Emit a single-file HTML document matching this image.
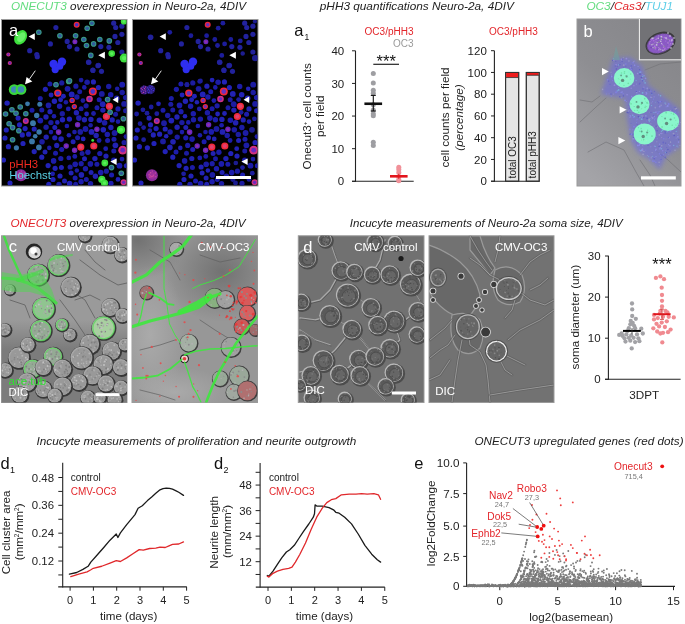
<!DOCTYPE html>
<html><head><meta charset="utf-8"><title>Figure</title>
<style>
html,body{margin:0;padding:0;background:#fff;width:685px;height:624px;overflow:hidden}
svg{display:block;font-family:'Liberation Sans', Arial, Helvetica, sans-serif}
</style></head><body>
<svg width="685" height="624" viewBox="0 0 685 624">
<rect width="685" height="624" fill="#fff"/>
<defs>
<filter id="soft" x="-5%" y="-5%" width="110%" height="110%"><feGaussianBlur stdDeviation="0.35"/></filter>
<filter id="blur2" x="-20%" y="-20%" width="140%" height="140%"><feGaussianBlur stdDeviation="2.2"/></filter>
<filter id="softa" x="-2%" y="-2%" width="104%" height="104%"><feGaussianBlur stdDeviation="0.55"/></filter>
<filter id="soft2" x="-5%" y="-5%" width="110%" height="110%"><feGaussianBlur stdDeviation="0.7"/></filter>
<filter id="grain" x="0" y="0" width="100%" height="100%"><feTurbulence type="fractalNoise" baseFrequency="0.9" numOctaves="2" seed="4" result="n"/><feColorMatrix in="n" type="saturate" values="0" result="g"/><feComponentTransfer in="g" result="g2"><feFuncA type="linear" slope="0" intercept="1"/></feComponentTransfer><feComposite in="g2" in2="SourceGraphic" operator="in"/></filter>
<filter id="grainc" x="0" y="0" width="100%" height="100%"><feTurbulence type="fractalNoise" baseFrequency="1.2" numOctaves="1" seed="9"/><feColorMatrix type="matrix" values="0.2 0.2 0.6 0 0  0.2 0.3 0.5 0 0.05  0.5 0.2 0.3 0 0.3  0 0 0 0 1"/></filter>
</defs>
<clipPath id="clipa0"><rect x="2.0" y="20.0" width="124.5" height="165.5"/></clipPath>
<rect x="1.5" y="19.5" width="125.5" height="166.5" fill="#000" stroke="#9a9a9a" stroke-width="1"/>
<g clip-path="url(#clipa0)" filter="url(#softa)">
<circle cx="32.0" cy="110.3" r="2.5" fill="#1c1ca6"/><circle cx="60.8" cy="158.5" r="2.6" fill="#1c1ca6"/><circle cx="81.2" cy="163.7" r="2.6" fill="#1c1ca6"/><circle cx="61.1" cy="139.1" r="2.8" fill="#2020b2"/><circle cx="91.1" cy="172.5" r="2.5" fill="#2020b2"/><circle cx="101.8" cy="93.9" r="2.9" fill="#1a1aa0"/><circle cx="122.2" cy="92.5" r="2.7" fill="#1a1aa0"/><circle cx="39.8" cy="104.2" r="2.5" fill="#3a78a8"/><circle cx="46.0" cy="117.0" r="2.7" fill="#2020b2"/><circle cx="114.6" cy="133.0" r="2.9" fill="#1a1aa0"/><circle cx="38.9" cy="147.4" r="2.8" fill="#3a78a8"/><circle cx="124.1" cy="103.9" r="2.9" fill="#1a1aa0"/><circle cx="59.6" cy="106.3" r="2.7" fill="#1e1eac"/><circle cx="76.4" cy="112.8" r="2.7" fill="#2020b2"/><circle cx="54.0" cy="116.2" r="2.3" fill="#1e1eac"/><circle cx="46.2" cy="137.1" r="2.7" fill="#2020b2"/><circle cx="86.3" cy="179.4" r="2.5" fill="#1c1ca6"/><circle cx="49.3" cy="147.9" r="2.3" fill="#1c1ca6"/><circle cx="73.1" cy="141.8" r="2.5" fill="#2020b2"/><circle cx="82.1" cy="153.5" r="2.5" fill="#1a1aa0"/><circle cx="45.4" cy="89.3" r="2.6" fill="#2020b2"/><circle cx="119.5" cy="165.7" r="2.9" fill="#1e1eac"/><circle cx="94.9" cy="158.6" r="2.7" fill="#2020b2"/><circle cx="67.6" cy="88.8" r="2.9" fill="#1e1eac"/><circle cx="61.7" cy="149.6" r="2.5" fill="#1e1eac"/><circle cx="100.7" cy="172.6" r="2.8" fill="#1e1eac"/><circle cx="46.1" cy="127.2" r="2.7" fill="#1a1aa0"/><circle cx="79.7" cy="91.7" r="2.5" fill="#1a1aa0"/><circle cx="68.9" cy="135.2" r="2.3" fill="#2020b2"/><circle cx="111.6" cy="175.0" r="2.5" fill="#1e1eac"/><circle cx="113.8" cy="151.0" r="2.5" fill="#1c1ca6"/><circle cx="103.3" cy="129.8" r="2.8" fill="#2222b8"/><circle cx="93.5" cy="113.5" r="2.4" fill="#1c1ca6"/><circle cx="64.5" cy="181.1" r="2.5" fill="#2020b2"/><circle cx="86.1" cy="105.8" r="2.6" fill="#1a1aa0"/><circle cx="106.0" cy="156.1" r="2.6" fill="#2020b2"/><circle cx="108.7" cy="86.5" r="2.7" fill="#1a1aa0"/><circle cx="91.5" cy="131.9" r="2.9" fill="#2222b8"/><circle cx="74.5" cy="132.0" r="2.3" fill="#1c1ca6"/><circle cx="75.1" cy="178.1" r="2.5" fill="#1e1eac"/><circle cx="39.1" cy="132.0" r="2.7" fill="#3a78a8"/><circle cx="86.6" cy="114.0" r="2.4" fill="#2222b8"/><circle cx="99.1" cy="140.5" r="2.4" fill="#1c1ca6"/><circle cx="50.0" cy="111.7" r="2.6" fill="#2020b2"/><circle cx="81.1" cy="181.7" r="2.7" fill="#1e1eac"/><circle cx="62.5" cy="119.7" r="2.7" fill="#2222b8"/><circle cx="7.1" cy="103.1" r="2.7" fill="#2222b8"/><circle cx="56.7" cy="145.4" r="2.6" fill="#2020b2"/><circle cx="54.8" cy="127.6" r="2.5" fill="#2222b8"/><circle cx="114.0" cy="139.2" r="2.5" fill="#1e1eac"/><circle cx="40.3" cy="120.6" r="2.9" fill="#1e1eac"/><circle cx="71.1" cy="172.9" r="2.5" fill="#2020b2"/><circle cx="99.2" cy="99.8" r="2.5" fill="#1e1eac"/><circle cx="77.6" cy="137.8" r="2.5" fill="#1c1ca6"/><circle cx="110.7" cy="94.7" r="2.8" fill="#1e1eac"/><circle cx="99.4" cy="120.2" r="2.8" fill="#2222b8"/><circle cx="96.9" cy="164.3" r="2.5" fill="#1c1ca6"/><circle cx="118.0" cy="108.9" r="2.6" fill="#1e1eac"/><circle cx="66.9" cy="126.0" r="2.3" fill="#1e1eac"/><circle cx="68.3" cy="108.9" r="2.4" fill="#1e1eac"/><circle cx="80.3" cy="131.9" r="2.8" fill="#1a1aa0"/><circle cx="125.5" cy="110.8" r="2.5" fill="#1a1aa0"/><circle cx="53.6" cy="160.9" r="2.8" fill="#1e1eac"/><circle cx="118.0" cy="121.6" r="2.3" fill="#1c1ca6"/><circle cx="48.5" cy="105.4" r="2.8" fill="#1c1ca6"/><circle cx="68.8" cy="157.9" r="2.4" fill="#1c1ca6"/><circle cx="122.0" cy="159.1" r="2.4" fill="#1c1ca6"/><circle cx="111.0" cy="183.3" r="2.6" fill="#1e1eac"/><circle cx="57.3" cy="122.4" r="2.3" fill="#2020b2"/><circle cx="106.4" cy="171.2" r="2.6" fill="#1a1aa0"/><circle cx="61.4" cy="167.4" r="2.5" fill="#2222b8"/><circle cx="69.4" cy="119.1" r="2.7" fill="#2222b8"/><circle cx="74.8" cy="156.4" r="2.4" fill="#1e1eac"/><circle cx="69.6" cy="183.6" r="2.8" fill="#2222b8"/><circle cx="27.5" cy="103.8" r="2.4" fill="#3a78a8"/><circle cx="55.5" cy="153.2" r="2.5" fill="#1c1ca6"/><circle cx="107.6" cy="140.5" r="2.5" fill="#1e1eac"/><circle cx="124.1" cy="142.5" r="2.6" fill="#1a1aa0"/><circle cx="59.0" cy="184.5" r="2.7" fill="#1a1aa0"/><circle cx="35.2" cy="136.2" r="2.3" fill="#3a78a8"/><circle cx="117.2" cy="88.8" r="2.3" fill="#1c1ca6"/><circle cx="90.4" cy="163.9" r="2.8" fill="#1c1ca6"/><circle cx="40.3" cy="98.5" r="2.5" fill="#1a1aa0"/><circle cx="54.8" cy="137.8" r="2.6" fill="#2020b2"/><circle cx="61.8" cy="82.9" r="2.6" fill="#1a1aa0"/><circle cx="41.8" cy="110.1" r="2.5" fill="#1c1ca6"/><circle cx="84.4" cy="119.8" r="2.7" fill="#2020b2"/><circle cx="90.6" cy="125.2" r="2.3" fill="#1a1aa0"/><circle cx="82.9" cy="100.6" r="2.4" fill="#1a1aa0"/><circle cx="75.2" cy="164.3" r="2.8" fill="#1c1ca6"/><circle cx="90.5" cy="183.6" r="2.7" fill="#1c1ca6"/><circle cx="122.2" cy="84.7" r="2.9" fill="#1e1eac"/><circle cx="75.9" cy="86.2" r="2.6" fill="#1c1ca6"/><circle cx="97.0" cy="107.7" r="2.5" fill="#1c1ca6"/><circle cx="76.9" cy="97.0" r="2.7" fill="#1a1aa0"/><circle cx="105.7" cy="148.7" r="2.4" fill="#1e1eac"/><circle cx="118.0" cy="179.4" r="2.4" fill="#2222b8"/><circle cx="32.0" cy="141.4" r="2.9" fill="#3a78a8"/><circle cx="87.9" cy="152.2" r="2.7" fill="#1e1eac"/><circle cx="125.8" cy="136.6" r="2.3" fill="#1a1aa0"/><circle cx="115.6" cy="114.2" r="2.5" fill="#1a1aa0"/><circle cx="113.8" cy="160.4" r="2.8" fill="#1c1ca6"/><circle cx="115.4" cy="145.3" r="2.9" fill="#2020b2"/><circle cx="81.4" cy="174.9" r="2.8" fill="#2020b2"/><circle cx="84.3" cy="87.4" r="2.3" fill="#1e1eac"/><circle cx="116.7" cy="98.3" r="2.8" fill="#1e1eac"/><circle cx="65.9" cy="102.3" r="2.3" fill="#1a1aa0"/><circle cx="70.1" cy="167.0" r="2.6" fill="#1a1aa0"/><circle cx="49.9" cy="83.9" r="2.5" fill="#1c1ca6"/><circle cx="84.5" cy="158.8" r="2.5" fill="#2222b8"/><circle cx="107.3" cy="134.5" r="2.7" fill="#1e1eac"/><circle cx="110.9" cy="127.5" r="2.7" fill="#2020b2"/><circle cx="54.4" cy="101.3" r="2.7" fill="#2222b8"/><circle cx="83.2" cy="138.9" r="2.4" fill="#2222b8"/><circle cx="85.5" cy="168.8" r="2.7" fill="#1c1ca6"/><circle cx="78.9" cy="118.1" r="2.8" fill="#1e1eac"/><circle cx="36.7" cy="115.5" r="2.7" fill="#3a78a8"/><circle cx="102.7" cy="104.2" r="2.9" fill="#2020b2"/><circle cx="87.1" cy="82.2" r="2.8" fill="#1a1aa0"/><circle cx="99.8" cy="153.5" r="2.6" fill="#1e1eac"/><circle cx="45.0" cy="151.9" r="2.5" fill="#2020b2"/><circle cx="112.2" cy="119.9" r="2.6" fill="#2222b8"/><circle cx="71.7" cy="94.4" r="2.9" fill="#2222b8"/><circle cx="16.4" cy="147.8" r="2.6" fill="#3a78a8"/><circle cx="96.2" cy="135.5" r="2.7" fill="#2020b2"/><circle cx="51.0" cy="132.1" r="2.3" fill="#1c1ca6"/><circle cx="126.3" cy="165.7" r="2.5" fill="#2020b2"/><circle cx="62.3" cy="113.7" r="2.7" fill="#1a1aa0"/><circle cx="85.5" cy="129.0" r="2.9" fill="#1c1ca6"/><circle cx="42.0" cy="141.8" r="2.8" fill="#1a1aa0"/><circle cx="33.0" cy="123.2" r="2.9" fill="#3a78a8"/><circle cx="125.6" cy="97.6" r="2.7" fill="#1a1aa0"/><circle cx="90.9" cy="119.4" r="2.7" fill="#2020b2"/><circle cx="76.9" cy="170.5" r="2.3" fill="#1a1aa0"/><circle cx="81.1" cy="80.1" r="2.4" fill="#1a1aa0"/><circle cx="75.7" cy="184.3" r="2.5" fill="#1a1aa0"/><circle cx="95.4" cy="176.3" r="2.7" fill="#2020b2"/><circle cx="50.9" cy="122.6" r="2.7" fill="#1a1aa0"/><circle cx="104.6" cy="122.8" r="2.8" fill="#1c1ca6"/><circle cx="81.1" cy="108.7" r="2.5" fill="#1c1ca6"/><circle cx="102.9" cy="110.1" r="2.7" fill="#2020b2"/><circle cx="52.6" cy="173.8" r="2.4" fill="#1e1eac"/>
<ellipse cx="20.6" cy="37.3" rx="5.8" ry="7.8" transform="rotate(35 20.6 37.3)" fill="#3ee03e"/>
<ellipse cx="21.1" cy="36.8" rx="3.4" ry="5.4" transform="rotate(35 20.6 37.3)" fill="#6af06a"/>
<circle cx="29.70" cy="50.70" r="2.58" fill="#20209c" />
<circle cx="36.80" cy="54.50" r="2.58" fill="#20209c" />
<circle cx="55.90" cy="27.50" r="2.58" fill="#20209c" />
<circle cx="50.40" cy="43.90" r="2.58" fill="#20209c" />
<circle cx="37.30" cy="56.70" r="2.58" fill="#20209c" />
<circle cx="38.80" cy="32.30" r="2.80" fill="#3a9c84" />
<circle cx="38.80" cy="32.30" r="1.82" fill="#305c9c" />
<circle cx="59.90" cy="35.70" r="2.80" fill="#3a9c84" />
<circle cx="59.90" cy="35.70" r="1.82" fill="#305c9c" />
<circle cx="53.60" cy="64.00" r="4.20" fill="#2e2ef0" />
<circle cx="62.00" cy="61.70" r="4.20" fill="#2e2ef0" />
<circle cx="55.20" cy="69.60" r="3.60" fill="#2e2ef0" />
<circle cx="59.70" cy="66.20" r="3.50" fill="#2e2ef0" />
<circle cx="8.40" cy="54.50" r="2.10" fill="#d03080" />
<circle cx="8.40" cy="54.50" r="1.16" fill="#6a2ac0" />
<circle cx="9.80" cy="63.00" r="2.10" fill="#d03080" />
<circle cx="9.80" cy="63.00" r="1.16" fill="#6a2ac0" />
<circle cx="14.20" cy="89.60" r="5.40" fill="#3ad83a" />
<circle cx="14.20" cy="89.60" r="3.25" fill="#3f8ab6" />
<circle cx="21.00" cy="89.40" r="5.40" fill="#3ad83a" />
<circle cx="21.00" cy="89.40" r="3.25" fill="#3f8ab6" />
<circle cx="57.80" cy="93.10" r="3.70" fill="#f02838" />
<circle cx="57.80" cy="93.10" r="2.22" fill="#4a30c8" />
<circle cx="55.90" cy="84.80" r="2.48" fill="#2222b8" />
<circle cx="51.10" cy="95.00" r="2.48" fill="#2222b8" />
<circle cx="63.40" cy="96.30" r="2.48" fill="#2222b8" />
<circle cx="60.60" cy="99.70" r="2.48" fill="#2222b8" />
<circle cx="76.70" cy="24.80" r="3.00" fill="#f02838" />
<circle cx="76.70" cy="24.80" r="1.80" fill="#4a30c8" />
<circle cx="91.90" cy="23.20" r="2.80" fill="#3a9c84" />
<circle cx="91.90" cy="23.20" r="1.82" fill="#305c9c" />
<circle cx="87.20" cy="28.20" r="2.80" fill="#3a9c84" />
<circle cx="87.20" cy="28.20" r="1.82" fill="#305c9c" />
<circle cx="75.60" cy="35.70" r="2.80" fill="#3a9c84" />
<circle cx="75.60" cy="35.70" r="1.82" fill="#305c9c" />
<circle cx="83.80" cy="39.50" r="2.80" fill="#3a9c84" />
<circle cx="83.80" cy="39.50" r="1.82" fill="#305c9c" />
<circle cx="86.50" cy="45.50" r="2.80" fill="#3a9c84" />
<circle cx="86.50" cy="45.50" r="1.82" fill="#305c9c" />
<circle cx="93.60" cy="43.90" r="2.80" fill="#3a9c84" />
<circle cx="93.60" cy="43.90" r="1.82" fill="#305c9c" />
<circle cx="99.80" cy="39.50" r="2.80" fill="#3a9c84" />
<circle cx="99.80" cy="39.50" r="1.82" fill="#305c9c" />
<circle cx="109.30" cy="40.90" r="2.80" fill="#3a9c84" />
<circle cx="109.30" cy="40.90" r="1.82" fill="#305c9c" />
<circle cx="90.80" cy="55.40" r="2.80" fill="#3a9c84" />
<circle cx="90.80" cy="55.40" r="1.82" fill="#305c9c" />
<circle cx="68.70" cy="81.40" r="2.80" fill="#3a9c84" />
<circle cx="68.70" cy="81.40" r="1.82" fill="#305c9c" />
<circle cx="56.00" cy="84.70" r="2.80" fill="#3a9c84" />
<circle cx="56.00" cy="84.70" r="1.82" fill="#305c9c" />
<circle cx="69.50" cy="80.90" r="2.80" fill="#3a9c84" />
<circle cx="69.50" cy="80.90" r="1.82" fill="#305c9c" />
<circle cx="107.60" cy="99.60" r="2.80" fill="#3a9c84" />
<circle cx="107.60" cy="99.60" r="1.82" fill="#305c9c" />
<circle cx="67.20" cy="41.40" r="2.58" fill="#20209c" />
<circle cx="69.50" cy="46.60" r="2.58" fill="#20209c" />
<circle cx="77.00" cy="49.00" r="2.58" fill="#20209c" />
<circle cx="100.80" cy="46.60" r="2.58" fill="#20209c" />
<circle cx="108.90" cy="47.30" r="2.58" fill="#20209c" />
<circle cx="115.00" cy="36.40" r="2.58" fill="#20209c" />
<circle cx="121.90" cy="34.30" r="2.58" fill="#20209c" />
<circle cx="113.70" cy="23.20" r="2.58" fill="#20209c" />
<circle cx="115.70" cy="27.50" r="2.58" fill="#20209c" />
<circle cx="121.90" cy="26.20" r="2.58" fill="#20209c" />
<circle cx="117.80" cy="42.50" r="2.58" fill="#20209c" />
<circle cx="121.90" cy="52.00" r="2.58" fill="#20209c" />
<circle cx="88.50" cy="62.20" r="2.58" fill="#20209c" />
<circle cx="98.50" cy="65.30" r="2.58" fill="#20209c" />
<circle cx="93.00" cy="70.40" r="2.58" fill="#20209c" />
<circle cx="101.50" cy="71.30" r="2.58" fill="#20209c" />
<circle cx="88.90" cy="62.30" r="2.58" fill="#20209c" />
<circle cx="97.90" cy="65.70" r="2.58" fill="#20209c" />
<circle cx="92.80" cy="70.10" r="2.58" fill="#20209c" />
<circle cx="93.40" cy="81.90" r="2.58" fill="#2222b8" />
<circle cx="98.40" cy="87.50" r="2.58" fill="#2222b8" />
<circle cx="74.90" cy="41.80" r="2.50" fill="#6a28c0" />
<circle cx="74.90" cy="41.80" r="1.25" fill="#9030a8" />
<circle cx="123.90" cy="21.40" r="3.10" fill="#3ddc3d" />
<circle cx="123.90" cy="21.40" r="1.43" fill="#5af05a" />
<circle cx="111.70" cy="53.60" r="3.30" fill="#3ddc3d" />
<circle cx="111.70" cy="53.60" r="1.54" fill="#5af05a" />
<circle cx="124.20" cy="58.10" r="4.50" fill="#3ddc3d" />
<circle cx="124.20" cy="58.10" r="2.20" fill="#5af05a" />
<circle cx="92.80" cy="91.50" r="4.00" fill="#f02838" />
<circle cx="92.80" cy="91.50" r="2.40" fill="#4a30c8" />
<circle cx="89.50" cy="99.00" r="3.30" fill="#d03080" />
<circle cx="89.50" cy="99.00" r="1.81" fill="#6a2ac0" />
<circle cx="72.10" cy="100.40" r="2.70" fill="#f02838" />
<circle cx="72.10" cy="100.40" r="1.62" fill="#4a30c8" />
<circle cx="74.30" cy="106.60" r="2.60" fill="#f02838" />
<circle cx="74.30" cy="106.60" r="1.56" fill="#4a30c8" />
<circle cx="20.20" cy="107.00" r="2.80" fill="#3a9c84" />
<circle cx="20.20" cy="107.00" r="1.82" fill="#305c9c" />
<circle cx="11.90" cy="109.80" r="2.80" fill="#3a9c84" />
<circle cx="11.90" cy="109.80" r="1.82" fill="#305c9c" />
<circle cx="5.60" cy="114.00" r="2.80" fill="#3a9c84" />
<circle cx="5.60" cy="114.00" r="1.82" fill="#305c9c" />
<circle cx="25.80" cy="113.70" r="2.80" fill="#3a9c84" />
<circle cx="25.80" cy="113.70" r="1.82" fill="#305c9c" />
<circle cx="9.10" cy="123.70" r="2.80" fill="#3a9c84" />
<circle cx="9.10" cy="123.70" r="1.82" fill="#305c9c" />
<circle cx="12.60" cy="127.60" r="2.80" fill="#3a9c84" />
<circle cx="12.60" cy="127.60" r="1.82" fill="#305c9c" />
<circle cx="18.80" cy="130.70" r="2.80" fill="#3a9c84" />
<circle cx="18.80" cy="130.70" r="1.82" fill="#305c9c" />
<circle cx="12.60" cy="139.70" r="2.80" fill="#3a9c84" />
<circle cx="12.60" cy="139.70" r="1.82" fill="#305c9c" />
<circle cx="16.00" cy="113.20" r="2.80" fill="#3a9c84" />
<circle cx="16.00" cy="113.20" r="1.82" fill="#305c9c" />
<circle cx="25.80" cy="120.90" r="3.00" fill="#d03080" />
<circle cx="25.80" cy="120.90" r="1.65" fill="#6a2ac0" />
<circle cx="18.10" cy="118.10" r="2.58" fill="#2222b8" />
<circle cx="19.50" cy="124.80" r="2.58" fill="#2222b8" />
<circle cx="6.30" cy="130.00" r="2.58" fill="#2222b8" />
<circle cx="25.10" cy="128.60" r="2.58" fill="#2222b8" />
<circle cx="34.20" cy="129.00" r="2.58" fill="#2222b8" />
<circle cx="22.30" cy="134.90" r="2.58" fill="#2222b8" />
<circle cx="28.60" cy="134.20" r="2.58" fill="#2222b8" />
<circle cx="23.00" cy="143.50" r="2.58" fill="#2222b8" />
<circle cx="8.40" cy="146.70" r="2.58" fill="#2222b8" />
<circle cx="34.20" cy="151.60" r="2.58" fill="#2222b8" />
<circle cx="41.80" cy="157.20" r="2.58" fill="#2222b8" />
<circle cx="48.10" cy="165.60" r="2.58" fill="#2222b8" />
<circle cx="55.10" cy="168.30" r="2.58" fill="#2222b8" />
<circle cx="60.00" cy="176.00" r="2.58" fill="#2222b8" />
<circle cx="53.00" cy="179.50" r="2.58" fill="#2222b8" />
<circle cx="48.80" cy="184.40" r="2.58" fill="#2222b8" />
<circle cx="5.00" cy="138.00" r="2.58" fill="#2222b8" />
<circle cx="3.50" cy="160.00" r="2.58" fill="#2222b8" />
<circle cx="10.00" cy="183.00" r="2.58" fill="#2222b8" />
<circle cx="20.90" cy="175.30" r="6.00" fill="#8a2a9a" />
<circle cx="20.90" cy="175.30" r="3.60" fill="#a0309a" />
<circle cx="22.30" cy="175.30" r="0.70" fill="#d04aa0" />
<circle cx="18.84" cy="177.19" r="0.70" fill="#d04aa0" />
<circle cx="21.27" cy="171.12" r="0.70" fill="#d04aa0" />
<circle cx="21.75" cy="176.41" r="0.70" fill="#d04aa0" />
<circle cx="18.14" cy="174.81" r="0.70" fill="#d04aa0" />
<circle cx="24.44" cy="173.05" r="0.70" fill="#d04aa0" />
<circle cx="20.54" cy="176.65" r="0.70" fill="#d04aa0" />
<circle cx="19.61" cy="172.81" r="0.70" fill="#d04aa0" />
<circle cx="24.84" cy="176.74" r="0.70" fill="#d04aa0" />
<circle cx="19.61" cy="175.83" r="0.70" fill="#d04aa0" />
<circle cx="58.60" cy="132.10" r="2.80" fill="#6a28c0" />
<circle cx="58.60" cy="132.10" r="1.40" fill="#9030a8" />
<circle cx="109.40" cy="106.30" r="3.60" fill="#f22a3a" />
<circle cx="109.40" cy="106.30" r="1.98" fill="#e04070" />
<circle cx="106.40" cy="116.50" r="3.60" fill="#f22a3a" />
<circle cx="106.40" cy="116.50" r="1.98" fill="#e04070" />
<circle cx="80.80" cy="147.10" r="3.60" fill="#f22a3a" />
<circle cx="80.80" cy="147.10" r="1.98" fill="#e04070" />
<circle cx="93.80" cy="146.00" r="3.60" fill="#f22a3a" />
<circle cx="93.80" cy="146.00" r="1.98" fill="#e04070" />
<circle cx="77.60" cy="124.80" r="2.70" fill="#6a28c0" />
<circle cx="77.60" cy="124.80" r="1.35" fill="#9030a8" />
<circle cx="96.90" cy="129.30" r="2.70" fill="#6a28c0" />
<circle cx="96.90" cy="129.30" r="1.35" fill="#9030a8" />
<circle cx="66.20" cy="146.00" r="2.70" fill="#6a28c0" />
<circle cx="66.20" cy="146.00" r="1.35" fill="#9030a8" />
<circle cx="74.60" cy="150.20" r="2.70" fill="#6a28c0" />
<circle cx="74.60" cy="150.20" r="1.35" fill="#9030a8" />
<circle cx="122.70" cy="150.20" r="4.40" fill="#d03080" />
<circle cx="122.70" cy="150.20" r="2.42" fill="#6a2ac0" />
<circle cx="123.60" cy="182.30" r="3.00" fill="#d03080" />
<circle cx="123.60" cy="182.30" r="1.65" fill="#6a2ac0" />
<circle cx="121.00" cy="129.80" r="4.10" fill="#3ddc3d" />
<circle cx="121.00" cy="129.80" r="1.98" fill="#5af05a" />
<circle cx="92.70" cy="140.40" r="1.40" fill="#3ce03c" />
<circle cx="104.80" cy="163.00" r="3.40" fill="#3ddc3d" />
<circle cx="104.80" cy="163.00" r="1.59" fill="#5af05a" />
<circle cx="101.80" cy="179.40" r="3.60" fill="#3ddc3d" />
<circle cx="101.80" cy="179.40" r="1.71" fill="#5af05a" />
<circle cx="104.50" cy="183.00" r="3.60" fill="#3ddc3d" />
<circle cx="104.50" cy="183.00" r="1.71" fill="#5af05a" />
<circle cx="110.10" cy="112.30" r="2.80" fill="#3a9c84" />
<circle cx="110.10" cy="112.30" r="1.82" fill="#305c9c" />
<circle cx="123.40" cy="118.80" r="2.80" fill="#3a9c84" />
<circle cx="123.40" cy="118.80" r="1.82" fill="#305c9c" />
<circle cx="111.50" cy="167.60" r="2.80" fill="#3a9c84" />
<circle cx="111.50" cy="167.60" r="1.82" fill="#305c9c" />
<circle cx="121.30" cy="173.20" r="2.80" fill="#3a9c84" />
<circle cx="121.30" cy="173.20" r="1.82" fill="#305c9c" />
<polygon points="28.6,36.6 34.8,33.3 34.8,40.1" fill="#ffffff"/>
<polygon points="98.3,55.2 104.9,51.7 104.9,58.8" fill="#ffffff"/>
<polygon points="112.6,99.8 118.2,96.6 118.2,103.0" fill="#ffffff"/>
<polygon points="110.4,161.6 116.6,158.4 116.6,165.0" fill="#ffffff"/>
<line x1="35.30" y1="70.70" x2="29.50" y2="79.00" stroke="#ffffff" stroke-width="0.9" />
<polygon points="25.0,84.2 26.6,77.0 32.3,81.6" fill="#ffffff"/>
</g>
<text x="8.90" y="35.70" font-size="16.5" fill="#fff" text-anchor="start" >a</text>
<text x="9.20" y="167.50" font-size="11.3" fill="#f02a20" text-anchor="start" >pHH3</text>
<text x="9.20" y="178.50" font-size="11.4" fill="#5ad2e6" text-anchor="start" >Hoechst</text>
<clipPath id="clipa1"><rect x="133.0" y="20.0" width="124.5" height="165.5"/></clipPath>
<rect x="132.5" y="19.5" width="125.5" height="166.5" fill="#000" stroke="#9a9a9a" stroke-width="1"/>
<g clip-path="url(#clipa1)" filter="url(#softa)">
<circle cx="163.0" cy="110.3" r="2.5" fill="#1c1ca6"/><circle cx="191.8" cy="158.5" r="2.6" fill="#2020b2"/><circle cx="212.2" cy="163.7" r="2.6" fill="#1c1ca6"/><circle cx="192.1" cy="139.1" r="2.8" fill="#1c1ca6"/><circle cx="222.1" cy="172.5" r="2.5" fill="#2020b2"/><circle cx="232.8" cy="93.9" r="2.9" fill="#2020b2"/><circle cx="253.2" cy="92.5" r="2.7" fill="#1a1aa0"/><circle cx="170.8" cy="104.2" r="2.5" fill="#1a1aa0"/><circle cx="177.0" cy="117.0" r="2.7" fill="#2020b2"/><circle cx="245.6" cy="133.0" r="2.9" fill="#1c1ca6"/><circle cx="169.9" cy="147.4" r="2.8" fill="#2020b2"/><circle cx="255.1" cy="103.9" r="2.9" fill="#1a1aa0"/><circle cx="190.6" cy="106.3" r="2.7" fill="#1e1eac"/><circle cx="207.4" cy="112.8" r="2.7" fill="#1c1ca6"/><circle cx="185.0" cy="116.2" r="2.3" fill="#2222b8"/><circle cx="177.2" cy="137.1" r="2.7" fill="#1a1aa0"/><circle cx="217.3" cy="179.4" r="2.5" fill="#1e1eac"/><circle cx="180.3" cy="147.9" r="2.3" fill="#2020b2"/><circle cx="204.1" cy="141.8" r="2.5" fill="#1e1eac"/><circle cx="213.1" cy="153.5" r="2.5" fill="#2020b2"/><circle cx="176.4" cy="89.3" r="2.6" fill="#1c1ca6"/><circle cx="250.5" cy="165.7" r="2.9" fill="#1c1ca6"/><circle cx="225.9" cy="158.6" r="2.7" fill="#2020b2"/><circle cx="198.6" cy="88.8" r="2.9" fill="#1a1aa0"/><circle cx="192.7" cy="149.6" r="2.5" fill="#2020b2"/><circle cx="231.7" cy="172.6" r="2.8" fill="#1e1eac"/><circle cx="177.1" cy="127.2" r="2.7" fill="#2020b2"/><circle cx="210.7" cy="91.7" r="2.5" fill="#1e1eac"/><circle cx="199.9" cy="135.2" r="2.3" fill="#1e1eac"/><circle cx="242.6" cy="175.0" r="2.5" fill="#1e1eac"/><circle cx="244.8" cy="151.0" r="2.5" fill="#1a1aa0"/><circle cx="234.3" cy="129.8" r="2.8" fill="#1a1aa0"/><circle cx="224.5" cy="113.5" r="2.4" fill="#2020b2"/><circle cx="195.5" cy="181.1" r="2.5" fill="#1e1eac"/><circle cx="217.1" cy="105.8" r="2.6" fill="#1c1ca6"/><circle cx="237.0" cy="156.1" r="2.6" fill="#2222b8"/><circle cx="239.7" cy="86.5" r="2.7" fill="#1c1ca6"/><circle cx="222.5" cy="131.9" r="2.9" fill="#2020b2"/><circle cx="205.5" cy="132.0" r="2.3" fill="#1a1aa0"/><circle cx="206.1" cy="178.1" r="2.5" fill="#2020b2"/><circle cx="170.1" cy="132.0" r="2.7" fill="#1a1aa0"/><circle cx="217.6" cy="114.0" r="2.4" fill="#2222b8"/><circle cx="230.1" cy="140.5" r="2.4" fill="#1c1ca6"/><circle cx="181.0" cy="111.7" r="2.6" fill="#1e1eac"/><circle cx="212.1" cy="181.7" r="2.7" fill="#1e1eac"/><circle cx="193.5" cy="119.7" r="2.7" fill="#1c1ca6"/><circle cx="138.1" cy="103.1" r="2.7" fill="#2222b8"/><circle cx="187.7" cy="145.4" r="2.6" fill="#1c1ca6"/><circle cx="185.8" cy="127.6" r="2.5" fill="#2020b2"/><circle cx="245.0" cy="139.2" r="2.5" fill="#1e1eac"/><circle cx="171.3" cy="120.6" r="2.9" fill="#2222b8"/><circle cx="202.1" cy="172.9" r="2.5" fill="#2222b8"/><circle cx="230.2" cy="99.8" r="2.5" fill="#1a1aa0"/><circle cx="208.6" cy="137.8" r="2.5" fill="#2020b2"/><circle cx="241.7" cy="94.7" r="2.8" fill="#2222b8"/><circle cx="230.4" cy="120.2" r="2.8" fill="#1e1eac"/><circle cx="227.9" cy="164.3" r="2.5" fill="#1e1eac"/><circle cx="249.0" cy="108.9" r="2.6" fill="#2020b2"/><circle cx="197.9" cy="126.0" r="2.3" fill="#1e1eac"/><circle cx="199.3" cy="108.9" r="2.4" fill="#1c1ca6"/><circle cx="211.3" cy="131.9" r="2.8" fill="#1e1eac"/><circle cx="256.5" cy="110.8" r="2.5" fill="#2222b8"/><circle cx="184.6" cy="160.9" r="2.8" fill="#1c1ca6"/><circle cx="249.0" cy="121.6" r="2.3" fill="#1e1eac"/><circle cx="179.5" cy="105.4" r="2.8" fill="#1e1eac"/><circle cx="199.8" cy="157.9" r="2.4" fill="#1e1eac"/><circle cx="253.0" cy="159.1" r="2.4" fill="#1a1aa0"/><circle cx="242.0" cy="183.3" r="2.6" fill="#1a1aa0"/><circle cx="188.3" cy="122.4" r="2.3" fill="#1e1eac"/><circle cx="237.4" cy="171.2" r="2.6" fill="#1c1ca6"/><circle cx="192.4" cy="167.4" r="2.5" fill="#1c1ca6"/><circle cx="200.4" cy="119.1" r="2.7" fill="#1c1ca6"/><circle cx="205.8" cy="156.4" r="2.4" fill="#1c1ca6"/><circle cx="200.6" cy="183.6" r="2.8" fill="#1e1eac"/><circle cx="158.5" cy="103.8" r="2.4" fill="#2020b2"/><circle cx="186.5" cy="153.2" r="2.5" fill="#1a1aa0"/><circle cx="238.6" cy="140.5" r="2.5" fill="#2222b8"/><circle cx="255.1" cy="142.5" r="2.6" fill="#2222b8"/><circle cx="190.0" cy="184.5" r="2.7" fill="#1e1eac"/><circle cx="166.2" cy="136.2" r="2.3" fill="#2222b8"/><circle cx="248.2" cy="88.8" r="2.3" fill="#2222b8"/><circle cx="221.4" cy="163.9" r="2.8" fill="#1e1eac"/><circle cx="171.3" cy="98.5" r="2.5" fill="#1c1ca6"/><circle cx="185.8" cy="137.8" r="2.6" fill="#1e1eac"/><circle cx="192.8" cy="82.9" r="2.6" fill="#1a1aa0"/><circle cx="172.8" cy="110.1" r="2.5" fill="#1a1aa0"/><circle cx="215.4" cy="119.8" r="2.7" fill="#1e1eac"/><circle cx="221.6" cy="125.2" r="2.3" fill="#1e1eac"/><circle cx="213.9" cy="100.6" r="2.4" fill="#1e1eac"/><circle cx="206.2" cy="164.3" r="2.8" fill="#1c1ca6"/><circle cx="221.5" cy="183.6" r="2.7" fill="#1c1ca6"/><circle cx="253.2" cy="84.7" r="2.9" fill="#1a1aa0"/><circle cx="206.9" cy="86.2" r="2.6" fill="#2020b2"/><circle cx="228.0" cy="107.7" r="2.5" fill="#1a1aa0"/><circle cx="207.9" cy="97.0" r="2.7" fill="#1c1ca6"/><circle cx="236.7" cy="148.7" r="2.4" fill="#2020b2"/><circle cx="249.0" cy="179.4" r="2.4" fill="#1a1aa0"/><circle cx="163.0" cy="141.4" r="2.9" fill="#1a1aa0"/><circle cx="218.9" cy="152.2" r="2.7" fill="#1c1ca6"/><circle cx="256.8" cy="136.6" r="2.3" fill="#1c1ca6"/><circle cx="246.6" cy="114.2" r="2.5" fill="#1e1eac"/><circle cx="244.8" cy="160.4" r="2.8" fill="#1c1ca6"/><circle cx="246.4" cy="145.3" r="2.9" fill="#1c1ca6"/><circle cx="212.4" cy="174.9" r="2.8" fill="#1a1aa0"/><circle cx="215.3" cy="87.4" r="2.3" fill="#1e1eac"/><circle cx="247.7" cy="98.3" r="2.8" fill="#2222b8"/><circle cx="196.9" cy="102.3" r="2.3" fill="#2020b2"/><circle cx="201.1" cy="167.0" r="2.6" fill="#2222b8"/><circle cx="180.9" cy="83.9" r="2.5" fill="#1e1eac"/><circle cx="215.5" cy="158.8" r="2.5" fill="#1a1aa0"/><circle cx="238.3" cy="134.5" r="2.7" fill="#1a1aa0"/><circle cx="241.9" cy="127.5" r="2.7" fill="#1c1ca6"/><circle cx="185.4" cy="101.3" r="2.7" fill="#2020b2"/><circle cx="214.2" cy="138.9" r="2.4" fill="#2020b2"/><circle cx="216.5" cy="168.8" r="2.7" fill="#1e1eac"/><circle cx="209.9" cy="118.1" r="2.8" fill="#1e1eac"/><circle cx="167.7" cy="115.5" r="2.7" fill="#1a1aa0"/><circle cx="233.7" cy="104.2" r="2.9" fill="#1a1aa0"/><circle cx="218.1" cy="82.2" r="2.8" fill="#1c1ca6"/><circle cx="230.8" cy="153.5" r="2.6" fill="#2222b8"/><circle cx="176.0" cy="151.9" r="2.5" fill="#1e1eac"/><circle cx="243.2" cy="119.9" r="2.6" fill="#2020b2"/><circle cx="202.7" cy="94.4" r="2.9" fill="#2222b8"/><circle cx="147.4" cy="147.8" r="2.6" fill="#2222b8"/><circle cx="227.2" cy="135.5" r="2.7" fill="#1c1ca6"/><circle cx="182.0" cy="132.1" r="2.3" fill="#1e1eac"/><circle cx="257.3" cy="165.7" r="2.5" fill="#1e1eac"/><circle cx="193.3" cy="113.7" r="2.7" fill="#1e1eac"/><circle cx="216.5" cy="129.0" r="2.9" fill="#1a1aa0"/><circle cx="173.0" cy="141.8" r="2.8" fill="#2020b2"/><circle cx="164.0" cy="123.2" r="2.9" fill="#1a1aa0"/><circle cx="256.6" cy="97.6" r="2.7" fill="#1e1eac"/><circle cx="221.9" cy="119.4" r="2.7" fill="#2020b2"/><circle cx="207.9" cy="170.5" r="2.3" fill="#2222b8"/><circle cx="212.1" cy="80.1" r="2.4" fill="#2222b8"/><circle cx="206.7" cy="184.3" r="2.5" fill="#2020b2"/><circle cx="226.4" cy="176.3" r="2.7" fill="#1c1ca6"/><circle cx="181.9" cy="122.6" r="2.7" fill="#1a1aa0"/><circle cx="235.6" cy="122.8" r="2.8" fill="#2020b2"/><circle cx="212.1" cy="108.7" r="2.5" fill="#1c1ca6"/><circle cx="233.9" cy="110.1" r="2.7" fill="#2020b2"/><circle cx="183.6" cy="173.8" r="2.4" fill="#1a1aa0"/>
<circle cx="150.60" cy="37.30" r="2.80" fill="#22229a" />
<circle cx="160.70" cy="50.70" r="2.58" fill="#20209c" />
<circle cx="167.80" cy="54.50" r="2.58" fill="#20209c" />
<circle cx="186.90" cy="27.50" r="2.58" fill="#20209c" />
<circle cx="181.40" cy="43.90" r="2.58" fill="#20209c" />
<circle cx="168.30" cy="56.70" r="2.58" fill="#20209c" />
<circle cx="169.80" cy="32.30" r="2.38" fill="#1e1e9c" />
<circle cx="190.90" cy="35.70" r="2.38" fill="#1e1e9c" />
<circle cx="184.60" cy="64.00" r="4.20" fill="#2e2ef0" />
<circle cx="193.00" cy="61.70" r="4.20" fill="#2e2ef0" />
<circle cx="186.20" cy="69.60" r="3.60" fill="#2e2ef0" />
<circle cx="190.70" cy="66.20" r="3.50" fill="#2e2ef0" />
<circle cx="139.40" cy="54.50" r="2.10" fill="#d03080" />
<circle cx="139.40" cy="54.50" r="1.16" fill="#6a2ac0" />
<circle cx="140.80" cy="63.00" r="2.10" fill="#d03080" />
<circle cx="140.80" cy="63.00" r="1.16" fill="#6a2ac0" />
<circle cx="144.30" cy="90.00" r="4.60" fill="#2a1a70" />
<circle cx="145.01" cy="90.00" r="0.70" fill="#c03ab0" />
<circle cx="143.40" cy="90.83" r="0.70" fill="#7030c0" />
<circle cx="144.44" cy="88.42" r="0.70" fill="#c03ab0" />
<circle cx="145.44" cy="91.48" r="0.70" fill="#7030c0" />
<circle cx="142.21" cy="89.63" r="0.70" fill="#c03ab0" />
<circle cx="146.28" cy="88.74" r="0.70" fill="#7030c0" />
<circle cx="143.64" cy="92.46" r="0.70" fill="#c03ab0" />
<circle cx="143.04" cy="87.57" r="0.70" fill="#7030c0" />
<circle cx="147.04" cy="91.00" r="0.70" fill="#c03ab0" />
<circle cx="141.45" cy="91.18" r="0.70" fill="#7030c0" />
<circle cx="145.67" cy="87.07" r="0.70" fill="#c03ab0" />
<circle cx="145.32" cy="93.24" r="0.70" fill="#7030c0" />
<circle cx="141.24" cy="88.23" r="0.70" fill="#c03ab0" />
<circle cx="147.89" cy="89.21" r="0.70" fill="#7030c0" />
<circle cx="142.11" cy="93.12" r="0.70" fill="#c03ab0" />
<circle cx="143.79" cy="86.10" r="0.70" fill="#7030c0" />
<circle cx="150.60" cy="89.60" r="4.60" fill="#2a1a70" />
<circle cx="151.31" cy="89.60" r="0.70" fill="#4a3ae0" />
<circle cx="149.70" cy="90.43" r="0.70" fill="#3030c0" />
<circle cx="150.74" cy="88.02" r="0.70" fill="#4a3ae0" />
<circle cx="151.74" cy="91.08" r="0.70" fill="#3030c0" />
<circle cx="148.51" cy="89.23" r="0.70" fill="#4a3ae0" />
<circle cx="152.58" cy="88.34" r="0.70" fill="#3030c0" />
<circle cx="149.94" cy="92.06" r="0.70" fill="#4a3ae0" />
<circle cx="149.34" cy="87.17" r="0.70" fill="#3030c0" />
<circle cx="153.34" cy="90.60" r="0.70" fill="#4a3ae0" />
<circle cx="147.75" cy="90.78" r="0.70" fill="#3030c0" />
<circle cx="151.97" cy="86.67" r="0.70" fill="#4a3ae0" />
<circle cx="151.62" cy="92.84" r="0.70" fill="#3030c0" />
<circle cx="147.54" cy="87.83" r="0.70" fill="#4a3ae0" />
<circle cx="154.19" cy="88.81" r="0.70" fill="#3030c0" />
<circle cx="148.41" cy="92.72" r="0.70" fill="#4a3ae0" />
<circle cx="150.09" cy="85.70" r="0.70" fill="#3030c0" />
<circle cx="188.80" cy="93.10" r="3.70" fill="#f02838" />
<circle cx="188.80" cy="93.10" r="2.22" fill="#6a30c0" />
<circle cx="186.90" cy="84.80" r="2.48" fill="#2222b8" />
<circle cx="182.10" cy="95.00" r="2.48" fill="#2222b8" />
<circle cx="194.40" cy="96.30" r="2.48" fill="#2222b8" />
<circle cx="191.60" cy="99.70" r="2.48" fill="#2222b8" />
<circle cx="207.70" cy="24.80" r="3.00" fill="#f02838" />
<circle cx="207.70" cy="24.80" r="1.80" fill="#6a30c0" />
<circle cx="222.90" cy="23.20" r="2.38" fill="#1e1e9c" />
<circle cx="218.20" cy="28.20" r="2.38" fill="#1e1e9c" />
<circle cx="206.60" cy="35.70" r="2.38" fill="#1e1e9c" />
<circle cx="214.80" cy="39.50" r="2.38" fill="#1e1e9c" />
<circle cx="217.50" cy="45.50" r="2.38" fill="#1e1e9c" />
<circle cx="224.60" cy="43.90" r="2.38" fill="#1e1e9c" />
<circle cx="230.80" cy="39.50" r="2.38" fill="#1e1e9c" />
<circle cx="240.30" cy="40.90" r="2.38" fill="#1e1e9c" />
<circle cx="221.80" cy="55.40" r="2.38" fill="#1e1e9c" />
<circle cx="199.70" cy="81.40" r="2.38" fill="#1e1e9c" />
<circle cx="187.00" cy="84.70" r="2.38" fill="#1e1e9c" />
<circle cx="200.50" cy="80.90" r="2.38" fill="#1e1e9c" />
<circle cx="238.60" cy="99.60" r="2.38" fill="#1e1e9c" />
<circle cx="198.20" cy="41.40" r="2.58" fill="#20209c" />
<circle cx="200.50" cy="46.60" r="2.58" fill="#20209c" />
<circle cx="208.00" cy="49.00" r="2.58" fill="#20209c" />
<circle cx="231.80" cy="46.60" r="2.58" fill="#20209c" />
<circle cx="239.90" cy="47.30" r="2.58" fill="#20209c" />
<circle cx="246.00" cy="36.40" r="2.58" fill="#20209c" />
<circle cx="252.90" cy="34.30" r="2.58" fill="#20209c" />
<circle cx="244.70" cy="23.20" r="2.58" fill="#20209c" />
<circle cx="246.70" cy="27.50" r="2.58" fill="#20209c" />
<circle cx="252.90" cy="26.20" r="2.58" fill="#20209c" />
<circle cx="248.80" cy="42.50" r="2.58" fill="#20209c" />
<circle cx="252.90" cy="52.00" r="2.58" fill="#20209c" />
<circle cx="219.50" cy="62.20" r="2.58" fill="#20209c" />
<circle cx="229.50" cy="65.30" r="2.58" fill="#20209c" />
<circle cx="224.00" cy="70.40" r="2.58" fill="#20209c" />
<circle cx="232.50" cy="71.30" r="2.58" fill="#20209c" />
<circle cx="219.90" cy="62.30" r="2.58" fill="#20209c" />
<circle cx="228.90" cy="65.70" r="2.58" fill="#20209c" />
<circle cx="223.80" cy="70.10" r="2.58" fill="#20209c" />
<circle cx="224.40" cy="81.90" r="2.58" fill="#2222b8" />
<circle cx="229.40" cy="87.50" r="2.58" fill="#2222b8" />
<circle cx="205.90" cy="41.80" r="2.50" fill="#6a28c0" />
<circle cx="205.90" cy="41.80" r="1.25" fill="#9030a8" />
<circle cx="254.90" cy="21.40" r="2.08" fill="#1c1c90" />
<circle cx="242.70" cy="53.60" r="2.24" fill="#1c1c90" />
<circle cx="255.20" cy="58.10" r="3.20" fill="#1c1c90" />
<circle cx="223.80" cy="91.50" r="4.00" fill="#f02838" />
<circle cx="223.80" cy="91.50" r="2.40" fill="#6a30c0" />
<circle cx="220.50" cy="99.00" r="3.30" fill="#d03080" />
<circle cx="220.50" cy="99.00" r="1.81" fill="#6a2ac0" />
<circle cx="203.10" cy="100.40" r="2.70" fill="#f02838" />
<circle cx="203.10" cy="100.40" r="1.62" fill="#6a30c0" />
<circle cx="205.30" cy="106.60" r="2.60" fill="#f02838" />
<circle cx="205.30" cy="106.60" r="1.56" fill="#6a30c0" />
<circle cx="151.20" cy="107.00" r="2.38" fill="#1e1e9c" />
<circle cx="142.90" cy="109.80" r="2.38" fill="#1e1e9c" />
<circle cx="136.60" cy="114.00" r="2.38" fill="#1e1e9c" />
<circle cx="156.80" cy="113.70" r="2.38" fill="#1e1e9c" />
<circle cx="140.10" cy="123.70" r="2.38" fill="#1e1e9c" />
<circle cx="143.60" cy="127.60" r="2.38" fill="#1e1e9c" />
<circle cx="149.80" cy="130.70" r="2.38" fill="#1e1e9c" />
<circle cx="143.60" cy="139.70" r="2.38" fill="#1e1e9c" />
<circle cx="147.00" cy="113.20" r="2.38" fill="#1e1e9c" />
<circle cx="156.80" cy="120.90" r="3.00" fill="#d03080" />
<circle cx="156.80" cy="120.90" r="1.65" fill="#6a2ac0" />
<circle cx="149.10" cy="118.10" r="2.58" fill="#2222b8" />
<circle cx="150.50" cy="124.80" r="2.58" fill="#2222b8" />
<circle cx="137.30" cy="130.00" r="2.58" fill="#2222b8" />
<circle cx="156.10" cy="128.60" r="2.58" fill="#2222b8" />
<circle cx="165.20" cy="129.00" r="2.58" fill="#2222b8" />
<circle cx="153.30" cy="134.90" r="2.58" fill="#2222b8" />
<circle cx="159.60" cy="134.20" r="2.58" fill="#2222b8" />
<circle cx="154.00" cy="143.50" r="2.58" fill="#2222b8" />
<circle cx="139.40" cy="146.70" r="2.58" fill="#2222b8" />
<circle cx="165.20" cy="151.60" r="2.58" fill="#2222b8" />
<circle cx="172.80" cy="157.20" r="2.58" fill="#2222b8" />
<circle cx="179.10" cy="165.60" r="2.58" fill="#2222b8" />
<circle cx="186.10" cy="168.30" r="2.58" fill="#2222b8" />
<circle cx="191.00" cy="176.00" r="2.58" fill="#2222b8" />
<circle cx="184.00" cy="179.50" r="2.58" fill="#2222b8" />
<circle cx="179.80" cy="184.40" r="2.58" fill="#2222b8" />
<circle cx="136.00" cy="138.00" r="2.58" fill="#2222b8" />
<circle cx="134.50" cy="160.00" r="2.58" fill="#2222b8" />
<circle cx="141.00" cy="183.00" r="2.58" fill="#2222b8" />
<circle cx="151.90" cy="175.30" r="6.00" fill="#8a2a9a" />
<circle cx="151.90" cy="175.30" r="3.60" fill="#a0309a" />
<circle cx="153.30" cy="175.30" r="0.70" fill="#d04aa0" />
<circle cx="149.84" cy="177.19" r="0.70" fill="#d04aa0" />
<circle cx="152.27" cy="171.12" r="0.70" fill="#d04aa0" />
<circle cx="152.75" cy="176.41" r="0.70" fill="#d04aa0" />
<circle cx="149.14" cy="174.81" r="0.70" fill="#d04aa0" />
<circle cx="155.44" cy="173.05" r="0.70" fill="#d04aa0" />
<circle cx="151.54" cy="176.65" r="0.70" fill="#d04aa0" />
<circle cx="150.61" cy="172.81" r="0.70" fill="#d04aa0" />
<circle cx="155.84" cy="176.74" r="0.70" fill="#d04aa0" />
<circle cx="150.61" cy="175.83" r="0.70" fill="#d04aa0" />
<circle cx="189.60" cy="132.10" r="2.80" fill="#6a28c0" />
<circle cx="189.60" cy="132.10" r="1.40" fill="#9030a8" />
<circle cx="240.40" cy="106.30" r="3.60" fill="#f22a3a" />
<circle cx="240.40" cy="106.30" r="1.98" fill="#e04070" />
<circle cx="237.40" cy="116.50" r="3.60" fill="#f22a3a" />
<circle cx="237.40" cy="116.50" r="1.98" fill="#e04070" />
<circle cx="211.80" cy="147.10" r="3.60" fill="#f22a3a" />
<circle cx="211.80" cy="147.10" r="1.98" fill="#e04070" />
<circle cx="224.80" cy="146.00" r="3.60" fill="#f22a3a" />
<circle cx="224.80" cy="146.00" r="1.98" fill="#e04070" />
<circle cx="208.60" cy="124.80" r="2.70" fill="#6a28c0" />
<circle cx="208.60" cy="124.80" r="1.35" fill="#9030a8" />
<circle cx="227.90" cy="129.30" r="2.70" fill="#6a28c0" />
<circle cx="227.90" cy="129.30" r="1.35" fill="#9030a8" />
<circle cx="197.20" cy="146.00" r="2.70" fill="#6a28c0" />
<circle cx="197.20" cy="146.00" r="1.35" fill="#9030a8" />
<circle cx="205.60" cy="150.20" r="2.70" fill="#6a28c0" />
<circle cx="205.60" cy="150.20" r="1.35" fill="#9030a8" />
<circle cx="253.70" cy="150.20" r="4.40" fill="#d03080" />
<circle cx="253.70" cy="150.20" r="2.42" fill="#6a2ac0" />
<circle cx="254.60" cy="182.30" r="3.00" fill="#d03080" />
<circle cx="254.60" cy="182.30" r="1.65" fill="#6a2ac0" />
<circle cx="252.00" cy="129.80" r="2.88" fill="#1c1c90" />
<circle cx="235.80" cy="163.00" r="2.32" fill="#1c1c90" />
<circle cx="232.80" cy="179.40" r="2.48" fill="#1c1c90" />
<circle cx="235.50" cy="183.00" r="2.48" fill="#1c1c90" />
<circle cx="241.10" cy="112.30" r="2.38" fill="#1e1e9c" />
<circle cx="254.40" cy="118.80" r="2.38" fill="#1e1e9c" />
<circle cx="242.50" cy="167.60" r="2.38" fill="#1e1e9c" />
<circle cx="252.30" cy="173.20" r="2.38" fill="#1e1e9c" />
<polygon points="159.6,36.6 165.8,33.3 165.8,40.1" fill="#ffffff"/>
<polygon points="229.3,55.2 235.9,51.7 235.9,58.8" fill="#ffffff"/>
<polygon points="243.6,99.8 249.2,96.6 249.2,103.0" fill="#ffffff"/>
<polygon points="241.4,161.6 247.6,158.4 247.6,165.0" fill="#ffffff"/>
<line x1="161.30" y1="70.70" x2="155.50" y2="79.00" stroke="#ffffff" stroke-width="0.9" />
<polygon points="151.0,84.2 152.6,77.0 158.3,81.6" fill="#ffffff"/>
</g>
<rect x="216.00" y="176.00" width="35.00" height="3.00" fill="#fff" />
<clipPath id="clb"><rect x="577" y="19" width="104" height="167"/></clipPath>
<linearGradient id="gb" x1="0.8" y1="0" x2="0.2" y2="1"><stop offset="0" stop-color="#86868a"/><stop offset="0.5" stop-color="#8e8e92"/><stop offset="1" stop-color="#a4a4a8"/></linearGradient>
<rect x="577" y="19" width="104" height="167" fill="url(#gb)" stroke="#9a9a9a" stroke-width="1"/>
<g clip-path="url(#clb)">
<polyline points="580.00,122.00 595.00,108.00 606.00,98.00" fill="none" stroke="#747478" stroke-width="0.7" stroke-linejoin="round" stroke-linecap="round" />
<polyline points="588.00,152.00 606.00,142.00 624.00,150.00 636.00,172.00 644.00,186.00" fill="none" stroke="#747478" stroke-width="0.7" stroke-linejoin="round" stroke-linecap="round" />
<polyline points="645.00,70.00 660.00,64.00 681.00,62.00" fill="none" stroke="#747478" stroke-width="0.7" stroke-linejoin="round" stroke-linecap="round" />
<polyline points="655.00,150.00 668.00,160.00 681.00,172.00" fill="none" stroke="#747478" stroke-width="0.7" stroke-linejoin="round" stroke-linecap="round" />
<polyline points="640.00,160.00 650.00,175.00 655.00,186.00" fill="none" stroke="#747478" stroke-width="0.7" stroke-linejoin="round" stroke-linecap="round" />
<polyline points="580.00,100.00 592.00,102.00 600.00,96.00" fill="none" stroke="#747478" stroke-width="0.7" stroke-linejoin="round" stroke-linecap="round" />
<path d="M612.9,58.0 L630.0,57.0 L642.0,66.0 L648.6,85.3 L657.3,91.8 L676.8,107.1 L681.0,111.3 L681.0,146.0 L666.0,156.8 L659.5,169.8 L648.6,159.0 L637.8,152.4 L631.3,141.6 L627.0,117.8 L624.8,98.3 L609.6,96.1 L601.0,94.0 L607.5,75.0 Z" fill="#7272d4" opacity="0.72" filter="url(#blur2)"/>
<g opacity="0.8"><circle cx="641.3" cy="149.4" r="0.5" fill="#9090ec"/><circle cx="661.6" cy="137.4" r="0.5" fill="#9a90e0"/><circle cx="665.7" cy="104.1" r="0.7" fill="#a0a0c8"/><circle cx="665.4" cy="157.4" r="0.8" fill="#6464c8"/><circle cx="642.2" cy="148.8" r="0.5" fill="#9a90e0"/><circle cx="651.0" cy="91.2" r="0.7" fill="#8282e8"/><circle cx="669.3" cy="129.9" r="0.5" fill="#5858c0"/><circle cx="665.4" cy="150.2" r="0.4" fill="#9090ec"/><circle cx="628.9" cy="61.0" r="0.8" fill="#a0a0c8"/><circle cx="631.7" cy="68.7" r="0.9" fill="#6464c8"/><circle cx="641.7" cy="97.1" r="0.4" fill="#9090ec"/><circle cx="666.8" cy="117.4" r="0.5" fill="#6464c8"/><circle cx="623.5" cy="95.7" r="0.6" fill="#6464c8"/><circle cx="673.5" cy="122.7" r="0.6" fill="#9090ec"/><circle cx="614.5" cy="85.2" r="0.9" fill="#9a90e0"/><circle cx="644.8" cy="135.3" r="0.6" fill="#78b8e0"/><circle cx="654.1" cy="161.2" r="0.8" fill="#8282e8"/><circle cx="642.6" cy="149.2" r="0.8" fill="#9090ec"/><circle cx="667.6" cy="131.9" r="0.6" fill="#78b8e0"/><circle cx="643.0" cy="118.5" r="0.5" fill="#6464c8"/><circle cx="677.5" cy="122.4" r="0.5" fill="#a0a0c8"/><circle cx="658.2" cy="112.0" r="0.8" fill="#78b8e0"/><circle cx="636.1" cy="80.6" r="0.6" fill="#78b8e0"/><circle cx="645.1" cy="104.5" r="0.6" fill="#a0a0c8"/><circle cx="644.1" cy="126.7" r="0.5" fill="#9090ec"/><circle cx="634.0" cy="107.5" r="0.7" fill="#8282e8"/><circle cx="641.4" cy="77.5" r="0.8" fill="#5858c0"/><circle cx="643.9" cy="75.9" r="0.6" fill="#78b8e0"/><circle cx="639.9" cy="117.7" r="0.6" fill="#78b8e0"/><circle cx="622.4" cy="76.5" r="0.8" fill="#8282e8"/><circle cx="636.8" cy="143.0" r="0.4" fill="#6464c8"/><circle cx="662.6" cy="150.9" r="0.6" fill="#8282e8"/><circle cx="631.2" cy="69.4" r="0.8" fill="#8282e8"/><circle cx="619.8" cy="96.8" r="0.7" fill="#5858c0"/><circle cx="673.8" cy="116.5" r="0.4" fill="#9090ec"/><circle cx="660.2" cy="147.9" r="0.8" fill="#9a90e0"/><circle cx="621.6" cy="92.6" r="0.5" fill="#9090ec"/><circle cx="666.2" cy="106.8" r="0.5" fill="#9090ec"/><circle cx="654.5" cy="91.3" r="0.6" fill="#6464c8"/><circle cx="678.9" cy="121.9" r="0.5" fill="#a0a0c8"/><circle cx="634.2" cy="116.8" r="0.8" fill="#78b8e0"/><circle cx="642.9" cy="106.9" r="0.8" fill="#5858c0"/><circle cx="622.0" cy="83.4" r="0.7" fill="#9090ec"/><circle cx="625.8" cy="64.0" r="0.8" fill="#8282e8"/><circle cx="629.4" cy="74.9" r="0.4" fill="#9090ec"/><circle cx="640.7" cy="71.8" r="0.9" fill="#8282e8"/><circle cx="649.9" cy="160.1" r="0.5" fill="#9090ec"/><circle cx="667.7" cy="106.0" r="0.9" fill="#9090ec"/><circle cx="651.7" cy="158.1" r="0.4" fill="#8282e8"/><circle cx="654.0" cy="112.6" r="0.7" fill="#78b8e0"/><circle cx="655.2" cy="107.6" r="0.9" fill="#a0a0c8"/><circle cx="629.5" cy="108.3" r="0.6" fill="#6464c8"/><circle cx="639.6" cy="69.6" r="0.6" fill="#5858c0"/><circle cx="634.7" cy="130.6" r="0.5" fill="#6464c8"/><circle cx="634.2" cy="101.1" r="0.6" fill="#9a90e0"/><circle cx="669.2" cy="112.6" r="0.4" fill="#78b8e0"/><circle cx="670.5" cy="131.1" r="0.9" fill="#8282e8"/><circle cx="613.3" cy="58.5" r="0.5" fill="#78b8e0"/><circle cx="611.0" cy="72.2" r="0.5" fill="#a0a0c8"/><circle cx="634.6" cy="65.2" r="0.8" fill="#9090ec"/><circle cx="651.7" cy="117.2" r="0.6" fill="#9a90e0"/><circle cx="642.5" cy="117.6" r="0.8" fill="#8282e8"/><circle cx="628.9" cy="111.0" r="0.8" fill="#9090ec"/><circle cx="663.4" cy="154.6" r="0.7" fill="#8282e8"/><circle cx="630.5" cy="67.8" r="0.6" fill="#9a90e0"/><circle cx="651.9" cy="119.1" r="0.4" fill="#78b8e0"/><circle cx="623.1" cy="93.7" r="0.6" fill="#8282e8"/><circle cx="629.9" cy="129.2" r="0.8" fill="#8282e8"/><circle cx="642.6" cy="92.8" r="0.9" fill="#78b8e0"/><circle cx="642.3" cy="109.8" r="0.9" fill="#5858c0"/><circle cx="658.2" cy="124.0" r="0.5" fill="#9a90e0"/><circle cx="677.4" cy="134.2" r="0.4" fill="#9a90e0"/><circle cx="645.5" cy="78.4" r="0.8" fill="#9090ec"/><circle cx="661.5" cy="148.7" r="0.7" fill="#78b8e0"/><circle cx="619.9" cy="82.9" r="0.8" fill="#5858c0"/><circle cx="648.0" cy="145.3" r="0.8" fill="#6464c8"/><circle cx="667.0" cy="132.0" r="0.6" fill="#78b8e0"/><circle cx="675.8" cy="127.6" r="0.5" fill="#a0a0c8"/><circle cx="642.0" cy="79.4" r="0.6" fill="#78b8e0"/><circle cx="634.3" cy="61.1" r="0.5" fill="#8282e8"/><circle cx="633.6" cy="137.6" r="0.7" fill="#5858c0"/><circle cx="665.3" cy="132.9" r="0.9" fill="#6464c8"/><circle cx="624.3" cy="82.9" r="0.7" fill="#9090ec"/><circle cx="640.1" cy="139.1" r="0.4" fill="#5858c0"/><circle cx="652.6" cy="101.7" r="0.5" fill="#9090ec"/><circle cx="676.0" cy="109.7" r="0.6" fill="#6464c8"/><circle cx="677.9" cy="136.9" r="0.8" fill="#9090ec"/><circle cx="672.3" cy="109.9" r="0.5" fill="#6464c8"/><circle cx="639.4" cy="91.4" r="0.7" fill="#9090ec"/><circle cx="646.2" cy="92.8" r="0.7" fill="#9090ec"/><circle cx="620.2" cy="73.9" r="0.5" fill="#5858c0"/><circle cx="640.0" cy="74.1" r="0.9" fill="#5858c0"/><circle cx="649.3" cy="112.1" r="0.4" fill="#a0a0c8"/><circle cx="661.4" cy="131.5" r="0.6" fill="#78b8e0"/><circle cx="641.1" cy="109.5" r="0.9" fill="#a0a0c8"/><circle cx="665.1" cy="131.5" r="0.8" fill="#6464c8"/><circle cx="613.5" cy="94.0" r="0.5" fill="#9a90e0"/><circle cx="658.6" cy="94.8" r="0.6" fill="#9090ec"/><circle cx="636.6" cy="91.3" r="0.8" fill="#8282e8"/><circle cx="663.3" cy="142.5" r="0.9" fill="#6464c8"/><circle cx="678.0" cy="147.0" r="0.6" fill="#8282e8"/><circle cx="607.5" cy="79.7" r="0.8" fill="#8282e8"/><circle cx="628.7" cy="112.8" r="0.6" fill="#5858c0"/><circle cx="675.0" cy="150.3" r="0.8" fill="#a0a0c8"/><circle cx="677.7" cy="126.1" r="0.9" fill="#a0a0c8"/><circle cx="643.9" cy="151.4" r="0.7" fill="#a0a0c8"/><circle cx="637.2" cy="124.2" r="0.5" fill="#5858c0"/><circle cx="635.3" cy="131.8" r="0.5" fill="#a0a0c8"/><circle cx="630.2" cy="134.3" r="0.8" fill="#5858c0"/><circle cx="631.8" cy="134.0" r="0.5" fill="#8282e8"/><circle cx="659.8" cy="111.6" r="0.7" fill="#8282e8"/><circle cx="650.6" cy="97.3" r="0.7" fill="#9090ec"/><circle cx="656.3" cy="136.3" r="0.5" fill="#8282e8"/><circle cx="639.2" cy="143.0" r="0.4" fill="#a0a0c8"/><circle cx="651.9" cy="140.1" r="0.8" fill="#a0a0c8"/><circle cx="665.6" cy="143.1" r="0.7" fill="#5858c0"/><circle cx="667.9" cy="149.6" r="0.8" fill="#5858c0"/><circle cx="628.5" cy="78.3" r="0.8" fill="#5858c0"/><circle cx="640.5" cy="98.3" r="0.5" fill="#8282e8"/><circle cx="643.8" cy="117.3" r="0.7" fill="#5858c0"/><circle cx="649.1" cy="90.0" r="0.7" fill="#5858c0"/><circle cx="651.8" cy="90.9" r="0.4" fill="#6464c8"/><circle cx="635.5" cy="138.6" r="0.5" fill="#9a90e0"/><circle cx="651.8" cy="93.8" r="0.7" fill="#78b8e0"/><circle cx="663.4" cy="124.7" r="0.8" fill="#78b8e0"/><circle cx="667.7" cy="132.8" r="0.5" fill="#6464c8"/><circle cx="625.6" cy="78.6" r="0.8" fill="#5858c0"/><circle cx="618.6" cy="89.9" r="0.9" fill="#78b8e0"/><circle cx="648.1" cy="129.5" r="0.5" fill="#9090ec"/><circle cx="641.8" cy="96.8" r="0.9" fill="#a0a0c8"/><circle cx="636.6" cy="101.7" r="0.5" fill="#78b8e0"/><circle cx="649.3" cy="121.7" r="0.6" fill="#78b8e0"/><circle cx="618.5" cy="77.6" r="0.5" fill="#9a90e0"/><circle cx="633.1" cy="138.8" r="0.9" fill="#9a90e0"/><circle cx="610.0" cy="84.3" r="0.6" fill="#6464c8"/><circle cx="677.2" cy="122.6" r="0.4" fill="#9a90e0"/><circle cx="628.8" cy="79.9" r="0.8" fill="#6464c8"/><circle cx="633.8" cy="61.5" r="0.6" fill="#a0a0c8"/><circle cx="632.3" cy="74.8" r="0.9" fill="#5858c0"/><circle cx="673.6" cy="134.5" r="0.5" fill="#6464c8"/><circle cx="661.1" cy="105.2" r="0.7" fill="#a0a0c8"/><circle cx="673.4" cy="123.6" r="0.4" fill="#5858c0"/><circle cx="651.8" cy="93.4" r="0.8" fill="#5858c0"/><circle cx="633.1" cy="62.8" r="0.8" fill="#8282e8"/><circle cx="625.9" cy="81.7" r="0.5" fill="#9090ec"/><circle cx="670.6" cy="112.2" r="0.8" fill="#9a90e0"/><circle cx="654.4" cy="146.1" r="0.6" fill="#9a90e0"/><circle cx="657.5" cy="126.9" r="0.5" fill="#a0a0c8"/><circle cx="655.8" cy="162.2" r="0.8" fill="#8282e8"/><circle cx="611.2" cy="76.4" r="0.8" fill="#6464c8"/><circle cx="611.2" cy="96.1" r="0.6" fill="#8282e8"/><circle cx="645.7" cy="90.2" r="0.7" fill="#6464c8"/><circle cx="657.2" cy="114.5" r="0.4" fill="#a0a0c8"/><circle cx="645.9" cy="115.9" r="0.8" fill="#9090ec"/><circle cx="676.2" cy="131.4" r="0.6" fill="#78b8e0"/><circle cx="619.9" cy="64.7" r="0.7" fill="#5858c0"/><circle cx="623.4" cy="68.2" r="0.6" fill="#5858c0"/><circle cx="615.3" cy="65.9" r="0.6" fill="#5858c0"/><circle cx="627.3" cy="112.5" r="0.8" fill="#5858c0"/><circle cx="624.4" cy="72.3" r="0.9" fill="#8282e8"/><circle cx="633.0" cy="134.9" r="0.7" fill="#6464c8"/><circle cx="643.9" cy="87.2" r="0.6" fill="#9a90e0"/><circle cx="639.2" cy="145.4" r="0.6" fill="#9090ec"/><circle cx="652.0" cy="121.7" r="0.4" fill="#8282e8"/><circle cx="634.1" cy="102.5" r="0.9" fill="#5858c0"/><circle cx="661.7" cy="101.5" r="0.6" fill="#6464c8"/><circle cx="642.8" cy="80.7" r="0.8" fill="#5858c0"/><circle cx="632.9" cy="129.8" r="0.5" fill="#9090ec"/><circle cx="654.7" cy="157.6" r="0.6" fill="#8282e8"/><circle cx="627.0" cy="75.2" r="0.7" fill="#9090ec"/><circle cx="645.7" cy="107.6" r="0.9" fill="#9090ec"/><circle cx="639.2" cy="106.0" r="0.4" fill="#6464c8"/><circle cx="666.0" cy="152.5" r="0.8" fill="#78b8e0"/><circle cx="623.2" cy="57.5" r="0.5" fill="#a0a0c8"/><circle cx="672.2" cy="128.9" r="0.6" fill="#8282e8"/><circle cx="636.4" cy="84.0" r="0.5" fill="#9090ec"/><circle cx="637.4" cy="111.6" r="0.4" fill="#9a90e0"/><circle cx="638.1" cy="66.5" r="0.6" fill="#9090ec"/><circle cx="676.7" cy="114.0" r="0.5" fill="#8282e8"/><circle cx="634.5" cy="133.1" r="0.5" fill="#5858c0"/><circle cx="625.6" cy="85.4" r="0.9" fill="#5858c0"/><circle cx="670.6" cy="110.5" r="0.6" fill="#a0a0c8"/><circle cx="631.2" cy="88.2" r="0.7" fill="#9a90e0"/><circle cx="647.3" cy="155.4" r="0.5" fill="#a0a0c8"/><circle cx="675.0" cy="107.4" r="0.6" fill="#6464c8"/><circle cx="625.7" cy="82.4" r="0.7" fill="#9090ec"/><circle cx="634.0" cy="126.6" r="0.9" fill="#8282e8"/><circle cx="678.8" cy="139.6" r="0.8" fill="#6464c8"/><circle cx="675.3" cy="112.4" r="0.7" fill="#8282e8"/><circle cx="650.9" cy="123.7" r="0.5" fill="#a0a0c8"/><circle cx="632.4" cy="104.6" r="0.7" fill="#9a90e0"/><circle cx="637.5" cy="104.9" r="0.8" fill="#78b8e0"/><circle cx="654.2" cy="116.6" r="0.8" fill="#9090ec"/><circle cx="672.7" cy="123.0" r="0.8" fill="#5858c0"/><circle cx="622.1" cy="61.6" r="0.6" fill="#5858c0"/><circle cx="621.8" cy="80.7" r="0.5" fill="#8282e8"/><circle cx="645.9" cy="150.1" r="0.5" fill="#8282e8"/><circle cx="674.2" cy="135.4" r="0.9" fill="#5858c0"/><circle cx="667.1" cy="119.6" r="0.8" fill="#9090ec"/><circle cx="638.4" cy="116.6" r="0.8" fill="#5858c0"/><circle cx="630.9" cy="111.2" r="0.5" fill="#a0a0c8"/><circle cx="652.7" cy="118.0" r="0.9" fill="#9a90e0"/><circle cx="639.4" cy="104.2" r="0.5" fill="#8282e8"/><circle cx="670.6" cy="142.2" r="0.7" fill="#a0a0c8"/><circle cx="636.5" cy="122.4" r="0.5" fill="#8282e8"/><circle cx="675.5" cy="109.0" r="0.8" fill="#a0a0c8"/><circle cx="669.3" cy="125.2" r="0.5" fill="#9a90e0"/><circle cx="636.4" cy="91.4" r="0.7" fill="#5858c0"/><circle cx="661.8" cy="133.5" r="0.7" fill="#9a90e0"/><circle cx="659.1" cy="162.2" r="0.8" fill="#a0a0c8"/><circle cx="645.1" cy="82.9" r="0.8" fill="#78b8e0"/><circle cx="651.1" cy="157.9" r="0.5" fill="#9a90e0"/><circle cx="640.3" cy="109.2" r="0.8" fill="#a0a0c8"/><circle cx="661.0" cy="106.1" r="0.4" fill="#9090ec"/><circle cx="631.0" cy="123.3" r="0.5" fill="#6464c8"/><circle cx="641.7" cy="119.2" r="0.9" fill="#78b8e0"/><circle cx="678.6" cy="142.1" r="0.8" fill="#9090ec"/><circle cx="652.8" cy="161.1" r="0.8" fill="#8282e8"/><circle cx="640.0" cy="72.3" r="0.8" fill="#78b8e0"/><circle cx="661.1" cy="159.4" r="0.7" fill="#6464c8"/><circle cx="655.8" cy="112.3" r="0.8" fill="#9090ec"/><circle cx="660.7" cy="133.4" r="0.6" fill="#9a90e0"/><circle cx="632.7" cy="115.3" r="0.8" fill="#78b8e0"/><circle cx="673.7" cy="145.4" r="0.7" fill="#78b8e0"/><circle cx="638.3" cy="140.0" r="0.6" fill="#a0a0c8"/><circle cx="661.7" cy="145.8" r="0.8" fill="#a0a0c8"/><circle cx="630.2" cy="115.8" r="0.6" fill="#9090ec"/><circle cx="656.0" cy="149.3" r="0.8" fill="#9a90e0"/><circle cx="652.1" cy="152.6" r="0.6" fill="#a0a0c8"/><circle cx="615.9" cy="92.4" r="0.8" fill="#8282e8"/><circle cx="659.4" cy="134.8" r="0.5" fill="#a0a0c8"/><circle cx="627.1" cy="94.8" r="0.8" fill="#9a90e0"/><circle cx="639.2" cy="140.8" r="0.9" fill="#9090ec"/><circle cx="651.2" cy="102.9" r="0.5" fill="#a0a0c8"/><circle cx="625.8" cy="66.3" r="0.6" fill="#6464c8"/><circle cx="642.2" cy="79.8" r="0.4" fill="#9090ec"/><circle cx="660.8" cy="155.5" r="0.6" fill="#8282e8"/><circle cx="678.6" cy="112.1" r="0.4" fill="#8282e8"/><circle cx="626.7" cy="109.8" r="0.6" fill="#a0a0c8"/><circle cx="657.1" cy="130.8" r="0.7" fill="#5858c0"/><circle cx="662.5" cy="130.2" r="0.9" fill="#78b8e0"/><circle cx="652.4" cy="156.3" r="0.5" fill="#78b8e0"/><circle cx="640.9" cy="72.5" r="0.4" fill="#a0a0c8"/><circle cx="640.5" cy="112.5" r="0.8" fill="#5858c0"/><circle cx="654.1" cy="96.8" r="0.6" fill="#9a90e0"/><circle cx="668.2" cy="116.6" r="0.4" fill="#9a90e0"/><circle cx="675.1" cy="123.5" r="0.5" fill="#9a90e0"/><circle cx="651.0" cy="112.3" r="0.6" fill="#5858c0"/><circle cx="633.4" cy="117.5" r="0.7" fill="#8282e8"/><circle cx="658.9" cy="105.8" r="0.5" fill="#6464c8"/><circle cx="669.2" cy="137.7" r="0.8" fill="#9a90e0"/><circle cx="616.1" cy="64.8" r="0.8" fill="#9a90e0"/><circle cx="633.6" cy="134.1" r="0.8" fill="#5858c0"/><circle cx="673.1" cy="133.6" r="0.5" fill="#8282e8"/><circle cx="662.8" cy="150.6" r="0.5" fill="#9a90e0"/><circle cx="624.1" cy="69.9" r="0.4" fill="#9a90e0"/><circle cx="628.0" cy="80.7" r="0.8" fill="#6464c8"/><circle cx="637.2" cy="139.9" r="0.7" fill="#9090ec"/><circle cx="656.8" cy="141.7" r="0.5" fill="#a0a0c8"/><circle cx="655.3" cy="146.4" r="0.6" fill="#78b8e0"/><circle cx="651.5" cy="105.6" r="0.7" fill="#78b8e0"/><circle cx="645.9" cy="130.2" r="0.5" fill="#a0a0c8"/><circle cx="634.0" cy="102.4" r="0.4" fill="#6464c8"/><circle cx="625.6" cy="100.5" r="0.7" fill="#5858c0"/><circle cx="642.5" cy="76.3" r="0.6" fill="#78b8e0"/><circle cx="665.1" cy="103.1" r="0.7" fill="#78b8e0"/><circle cx="612.7" cy="60.5" r="0.7" fill="#5858c0"/><circle cx="642.2" cy="131.9" r="0.6" fill="#a0a0c8"/><circle cx="644.1" cy="75.4" r="0.5" fill="#9090ec"/><circle cx="659.5" cy="165.4" r="0.4" fill="#9a90e0"/><circle cx="618.4" cy="87.2" r="0.5" fill="#9a90e0"/><circle cx="621.6" cy="97.7" r="0.7" fill="#8282e8"/><circle cx="625.1" cy="100.4" r="0.8" fill="#9090ec"/><circle cx="650.9" cy="127.8" r="0.4" fill="#9090ec"/><circle cx="669.9" cy="145.8" r="0.8" fill="#9a90e0"/><circle cx="609.1" cy="93.4" r="0.4" fill="#8282e8"/><circle cx="637.3" cy="119.3" r="0.5" fill="#8282e8"/><circle cx="645.4" cy="127.8" r="0.7" fill="#78b8e0"/><circle cx="650.0" cy="120.4" r="0.5" fill="#78b8e0"/><circle cx="617.3" cy="90.9" r="0.7" fill="#78b8e0"/><circle cx="613.8" cy="60.3" r="0.7" fill="#9a90e0"/><circle cx="659.4" cy="153.7" r="0.7" fill="#8282e8"/><circle cx="629.6" cy="117.7" r="0.4" fill="#a0a0c8"/><circle cx="639.0" cy="126.1" r="0.8" fill="#9090ec"/><circle cx="643.0" cy="146.8" r="0.5" fill="#8282e8"/><circle cx="666.8" cy="147.5" r="0.5" fill="#6464c8"/><circle cx="628.7" cy="68.9" r="0.5" fill="#a0a0c8"/><circle cx="621.6" cy="59.5" r="0.9" fill="#9a90e0"/><circle cx="651.3" cy="157.1" r="0.6" fill="#a0a0c8"/><circle cx="631.6" cy="96.5" r="0.5" fill="#6464c8"/><circle cx="659.1" cy="146.5" r="0.7" fill="#5858c0"/><circle cx="641.3" cy="140.5" r="0.7" fill="#6464c8"/><circle cx="623.2" cy="96.0" r="0.6" fill="#5858c0"/><circle cx="670.0" cy="151.1" r="0.6" fill="#6464c8"/><circle cx="666.2" cy="129.3" r="0.5" fill="#9a90e0"/><circle cx="647.1" cy="118.4" r="0.8" fill="#5858c0"/><circle cx="650.6" cy="134.8" r="0.8" fill="#9090ec"/><circle cx="668.5" cy="144.7" r="0.6" fill="#9090ec"/><circle cx="606.3" cy="94.0" r="0.5" fill="#8282e8"/><circle cx="657.4" cy="101.6" r="0.5" fill="#6464c8"/><circle cx="642.6" cy="150.6" r="0.7" fill="#a0a0c8"/><circle cx="666.0" cy="139.0" r="0.4" fill="#a0a0c8"/><circle cx="675.9" cy="119.7" r="0.5" fill="#5858c0"/><circle cx="615.8" cy="61.2" r="0.5" fill="#5858c0"/><circle cx="657.5" cy="112.0" r="0.9" fill="#9a90e0"/><circle cx="674.3" cy="113.5" r="0.7" fill="#78b8e0"/><circle cx="648.7" cy="156.2" r="0.5" fill="#78b8e0"/><circle cx="641.7" cy="150.4" r="0.8" fill="#9a90e0"/><circle cx="657.8" cy="113.2" r="0.9" fill="#8282e8"/><circle cx="659.9" cy="148.9" r="0.7" fill="#9090ec"/><circle cx="644.1" cy="109.2" r="0.6" fill="#9090ec"/><circle cx="673.6" cy="133.7" r="0.9" fill="#a0a0c8"/><circle cx="638.3" cy="94.4" r="0.6" fill="#8282e8"/><circle cx="673.1" cy="122.0" r="0.8" fill="#9a90e0"/><circle cx="660.5" cy="95.8" r="0.8" fill="#78b8e0"/><circle cx="678.9" cy="124.2" r="0.8" fill="#9a90e0"/><circle cx="676.2" cy="138.0" r="0.5" fill="#9090ec"/><circle cx="626.3" cy="101.3" r="0.5" fill="#9090ec"/><circle cx="639.3" cy="83.9" r="0.6" fill="#5858c0"/><circle cx="642.8" cy="116.0" r="0.8" fill="#a0a0c8"/><circle cx="616.4" cy="69.0" r="0.7" fill="#5858c0"/><circle cx="621.0" cy="92.5" r="0.7" fill="#8282e8"/><circle cx="611.5" cy="74.9" r="0.5" fill="#a0a0c8"/><circle cx="642.6" cy="74.7" r="0.7" fill="#8282e8"/><circle cx="660.5" cy="119.8" r="0.5" fill="#6464c8"/><circle cx="644.3" cy="129.8" r="0.7" fill="#5858c0"/><circle cx="651.7" cy="97.4" r="0.6" fill="#a0a0c8"/><circle cx="632.2" cy="99.8" r="0.7" fill="#8282e8"/><circle cx="623.1" cy="80.4" r="0.6" fill="#6464c8"/><circle cx="622.1" cy="91.9" r="0.7" fill="#9090ec"/><circle cx="632.4" cy="141.1" r="0.5" fill="#8282e8"/><circle cx="646.7" cy="93.3" r="0.7" fill="#9090ec"/><circle cx="655.0" cy="118.3" r="0.6" fill="#8282e8"/><circle cx="616.8" cy="92.0" r="0.7" fill="#8282e8"/><circle cx="658.5" cy="102.8" r="0.7" fill="#6464c8"/><circle cx="639.1" cy="129.2" r="0.8" fill="#9a90e0"/><circle cx="642.5" cy="112.0" r="0.6" fill="#8282e8"/><circle cx="646.2" cy="129.2" r="0.6" fill="#5858c0"/><circle cx="644.9" cy="108.3" r="0.7" fill="#6464c8"/><circle cx="654.0" cy="125.9" r="0.5" fill="#a0a0c8"/><circle cx="642.7" cy="145.2" r="0.5" fill="#a0a0c8"/><circle cx="625.9" cy="73.2" r="0.8" fill="#8282e8"/><circle cx="633.9" cy="85.8" r="0.7" fill="#9a90e0"/><circle cx="634.5" cy="139.5" r="0.4" fill="#8282e8"/><circle cx="618.6" cy="64.9" r="0.6" fill="#78b8e0"/><circle cx="646.1" cy="94.3" r="0.6" fill="#9a90e0"/><circle cx="636.8" cy="92.4" r="0.7" fill="#9a90e0"/><circle cx="639.7" cy="144.1" r="0.9" fill="#9090ec"/><circle cx="618.8" cy="73.5" r="0.6" fill="#78b8e0"/><circle cx="621.0" cy="83.8" r="0.5" fill="#5858c0"/><circle cx="663.1" cy="114.1" r="0.4" fill="#9090ec"/><circle cx="628.3" cy="104.9" r="0.5" fill="#6464c8"/><circle cx="653.5" cy="115.7" r="0.7" fill="#6464c8"/><circle cx="631.6" cy="103.5" r="0.8" fill="#a0a0c8"/><circle cx="640.8" cy="150.7" r="0.7" fill="#78b8e0"/><circle cx="636.9" cy="94.0" r="0.6" fill="#78b8e0"/><circle cx="629.9" cy="111.9" r="0.6" fill="#6464c8"/><circle cx="664.9" cy="124.5" r="0.4" fill="#78b8e0"/><circle cx="655.4" cy="136.1" r="0.6" fill="#78b8e0"/><circle cx="659.7" cy="144.2" r="0.7" fill="#9090ec"/><circle cx="673.0" cy="116.7" r="0.6" fill="#5858c0"/><circle cx="654.3" cy="158.6" r="0.9" fill="#6464c8"/><circle cx="650.0" cy="118.6" r="0.8" fill="#8282e8"/><circle cx="670.7" cy="141.5" r="0.4" fill="#a0a0c8"/><circle cx="677.0" cy="146.1" r="0.7" fill="#78b8e0"/><circle cx="622.5" cy="59.2" r="0.6" fill="#6464c8"/><circle cx="659.3" cy="134.9" r="0.8" fill="#a0a0c8"/><circle cx="631.3" cy="134.4" r="0.8" fill="#8282e8"/><circle cx="634.4" cy="131.9" r="0.7" fill="#8282e8"/><circle cx="651.3" cy="140.2" r="0.7" fill="#5858c0"/><circle cx="654.6" cy="119.7" r="0.7" fill="#8282e8"/><circle cx="668.5" cy="137.4" r="0.7" fill="#6464c8"/><circle cx="647.2" cy="88.2" r="0.8" fill="#9090ec"/><circle cx="625.6" cy="76.1" r="0.8" fill="#6464c8"/><circle cx="668.3" cy="154.6" r="0.4" fill="#9090ec"/><circle cx="644.2" cy="129.9" r="0.8" fill="#5858c0"/><circle cx="630.7" cy="116.9" r="0.6" fill="#9090ec"/><circle cx="640.5" cy="108.7" r="0.8" fill="#9a90e0"/><circle cx="626.3" cy="79.3" r="0.5" fill="#5858c0"/><circle cx="657.9" cy="112.0" r="0.8" fill="#6464c8"/><circle cx="668.7" cy="122.5" r="0.9" fill="#6464c8"/><circle cx="637.9" cy="145.4" r="0.9" fill="#9090ec"/><circle cx="611.6" cy="76.6" r="0.9" fill="#9090ec"/><circle cx="659.7" cy="106.5" r="0.9" fill="#9a90e0"/><circle cx="617.3" cy="66.6" r="0.6" fill="#6464c8"/><circle cx="648.1" cy="124.8" r="0.5" fill="#78b8e0"/><circle cx="641.2" cy="115.9" r="0.6" fill="#78b8e0"/><circle cx="631.7" cy="96.5" r="0.7" fill="#9090ec"/><circle cx="644.0" cy="80.9" r="0.7" fill="#78b8e0"/><circle cx="608.7" cy="81.1" r="0.7" fill="#5858c0"/><circle cx="649.0" cy="120.3" r="0.8" fill="#78b8e0"/><circle cx="655.6" cy="150.3" r="0.7" fill="#9090ec"/><circle cx="670.1" cy="110.6" r="0.5" fill="#a0a0c8"/><circle cx="639.4" cy="150.0" r="0.5" fill="#9a90e0"/><circle cx="679.9" cy="145.4" r="0.5" fill="#a0a0c8"/><circle cx="631.3" cy="65.9" r="0.8" fill="#6464c8"/><circle cx="656.0" cy="156.6" r="0.7" fill="#9090ec"/><circle cx="676.4" cy="108.4" r="0.6" fill="#a0a0c8"/><circle cx="639.6" cy="131.1" r="0.7" fill="#6464c8"/><circle cx="655.5" cy="102.2" r="0.4" fill="#78b8e0"/><circle cx="664.3" cy="115.3" r="0.5" fill="#5858c0"/><circle cx="649.5" cy="140.6" r="0.7" fill="#78b8e0"/><circle cx="639.9" cy="83.3" r="0.8" fill="#6464c8"/><circle cx="644.5" cy="128.1" r="0.6" fill="#8282e8"/><circle cx="661.9" cy="155.1" r="0.7" fill="#6464c8"/><circle cx="635.4" cy="105.2" r="0.8" fill="#a0a0c8"/><circle cx="620.1" cy="62.3" r="0.4" fill="#5858c0"/><circle cx="611.0" cy="94.1" r="0.8" fill="#6464c8"/><circle cx="602.6" cy="89.4" r="0.8" fill="#a0a0c8"/><circle cx="660.2" cy="101.6" r="0.9" fill="#8282e8"/><circle cx="666.5" cy="152.5" r="0.7" fill="#5858c0"/><circle cx="641.4" cy="123.7" r="0.7" fill="#9a90e0"/><circle cx="649.2" cy="119.4" r="0.9" fill="#a0a0c8"/><circle cx="663.8" cy="138.8" r="0.8" fill="#8282e8"/><circle cx="680.7" cy="122.6" r="0.5" fill="#a0a0c8"/><circle cx="656.1" cy="126.2" r="0.6" fill="#5858c0"/><circle cx="627.9" cy="71.1" r="0.5" fill="#8282e8"/><circle cx="643.8" cy="88.6" r="0.4" fill="#8282e8"/><circle cx="626.4" cy="58.6" r="0.9" fill="#9a90e0"/><circle cx="637.1" cy="136.1" r="0.8" fill="#5858c0"/><circle cx="637.6" cy="73.5" r="0.8" fill="#9a90e0"/><circle cx="654.9" cy="107.8" r="0.4" fill="#5858c0"/><circle cx="650.8" cy="146.7" r="0.5" fill="#9a90e0"/><circle cx="663.9" cy="127.4" r="0.6" fill="#6464c8"/><circle cx="643.0" cy="88.8" r="0.9" fill="#6464c8"/><circle cx="628.6" cy="83.0" r="0.8" fill="#6464c8"/><circle cx="647.3" cy="88.8" r="0.5" fill="#a0a0c8"/><circle cx="646.6" cy="121.0" r="0.4" fill="#8282e8"/><circle cx="657.2" cy="138.8" r="0.5" fill="#9090ec"/><circle cx="643.1" cy="154.3" r="0.9" fill="#a0a0c8"/><circle cx="630.2" cy="115.8" r="0.6" fill="#9090ec"/><circle cx="653.5" cy="99.1" r="0.6" fill="#8282e8"/><circle cx="636.5" cy="119.8" r="0.5" fill="#8282e8"/><circle cx="623.8" cy="65.1" r="0.9" fill="#a0a0c8"/><circle cx="668.7" cy="104.0" r="0.9" fill="#8282e8"/><circle cx="644.5" cy="137.2" r="0.7" fill="#a0a0c8"/><circle cx="612.6" cy="80.6" r="0.6" fill="#8282e8"/><circle cx="665.3" cy="118.1" r="0.5" fill="#6464c8"/></g>
<path d="M613,60 L616,46 L620,60 Z" fill="#70a0a0" opacity="0.6" filter="url(#soft)"/>
<ellipse cx="624.1" cy="77.9" rx="10.3" ry="9.8" fill="#8af6cc" filter="url(#soft)"/>
<circle cx="630.2" cy="83.4" r="0.6" fill="#96f8c8"/><circle cx="624.5" cy="71.7" r="0.8" fill="#6ee0a8"/><circle cx="628.9" cy="71.9" r="0.9" fill="#88f0d0"/><circle cx="620.3" cy="82.5" r="0.7" fill="#88f0d0"/><circle cx="629.0" cy="72.8" r="0.5" fill="#88f0d0"/><circle cx="630.9" cy="83.3" r="0.8" fill="#88f0d0"/><circle cx="616.8" cy="73.2" r="0.7" fill="#88f0d0"/><circle cx="621.5" cy="73.0" r="0.8" fill="#6ee0a8"/><circle cx="626.7" cy="78.9" r="0.8" fill="#96f8c8"/><circle cx="625.9" cy="75.8" r="0.7" fill="#96f8c8"/><circle cx="619.5" cy="83.1" r="0.7" fill="#88f0d0"/><circle cx="629.1" cy="82.6" r="0.4" fill="#96f8c8"/><circle cx="624.4" cy="73.2" r="0.8" fill="#6ee0a8"/><circle cx="622.2" cy="71.7" r="0.5" fill="#96f8c8"/><circle cx="619.4" cy="83.3" r="0.5" fill="#6ee0a8"/><circle cx="628.3" cy="83.1" r="0.8" fill="#96f8c8"/><circle cx="620.1" cy="75.2" r="0.4" fill="#6ee0a8"/><circle cx="619.4" cy="76.3" r="0.6" fill="#96f8c8"/><circle cx="624.0" cy="85.4" r="0.6" fill="#6ee0a8"/><circle cx="628.2" cy="85.0" r="0.5" fill="#96f8c8"/><circle cx="627.2" cy="75.7" r="0.9" fill="#88f0d0"/><circle cx="619.4" cy="85.5" r="0.5" fill="#96f8c8"/><circle cx="619.7" cy="79.2" r="0.5" fill="#6ee0a8"/><circle cx="619.4" cy="80.1" r="0.6" fill="#96f8c8"/><circle cx="628.7" cy="77.8" r="0.9" fill="#88f0d0"/><circle cx="620.2" cy="84.4" r="0.5" fill="#88f0d0"/><circle cx="622.5" cy="74.1" r="0.8" fill="#88f0d0"/><circle cx="630.7" cy="74.0" r="0.8" fill="#6ee0a8"/><circle cx="620.3" cy="78.8" r="0.9" fill="#96f8c8"/><circle cx="631.2" cy="76.4" r="0.7" fill="#88f0d0"/><circle cx="618.3" cy="78.7" r="0.5" fill="#6ee0a8"/><circle cx="630.5" cy="79.4" r="0.7" fill="#88f0d0"/><circle cx="621.9" cy="80.5" r="0.9" fill="#88f0d0"/><circle cx="630.3" cy="79.1" r="0.4" fill="#6ee0a8"/><circle cx="632.7" cy="78.8" r="0.5" fill="#88f0d0"/><circle cx="625.6" cy="75.5" r="0.4" fill="#6ee0a8"/><circle cx="621.3" cy="77.2" r="0.6" fill="#88f0d0"/><circle cx="616.0" cy="80.7" r="0.6" fill="#96f8c8"/><circle cx="628.3" cy="83.3" r="0.9" fill="#6ee0a8"/><circle cx="620.1" cy="74.2" r="0.7" fill="#88f0d0"/><circle cx="628.4" cy="78.7" r="0.7" fill="#96f8c8"/>
<circle cx="622.60" cy="80.40" r="1.70" fill="#5a7a70" opacity="0.85"/>
<circle cx="626.60" cy="76.40" r="1.10" fill="#5a8a78" opacity="0.8"/>
<circle cx="621.10" cy="75.40" r="0.90" fill="#5a8a78" opacity="0.8"/>
<ellipse cx="639.5" cy="104.4" rx="10" ry="9.8" fill="#8af6cc" filter="url(#soft)"/>
<circle cx="634.1" cy="101.4" r="0.5" fill="#96f8c8"/><circle cx="647.0" cy="100.0" r="0.5" fill="#96f8c8"/><circle cx="631.3" cy="103.4" r="0.7" fill="#96f8c8"/><circle cx="646.7" cy="106.6" r="0.5" fill="#6ee0a8"/><circle cx="641.8" cy="110.0" r="0.9" fill="#96f8c8"/><circle cx="644.1" cy="99.0" r="0.5" fill="#88f0d0"/><circle cx="641.2" cy="109.3" r="0.7" fill="#88f0d0"/><circle cx="645.3" cy="105.9" r="0.5" fill="#6ee0a8"/><circle cx="634.2" cy="106.4" r="0.6" fill="#6ee0a8"/><circle cx="645.1" cy="107.4" r="0.8" fill="#6ee0a8"/><circle cx="638.9" cy="110.3" r="0.5" fill="#88f0d0"/><circle cx="641.5" cy="104.4" r="0.8" fill="#96f8c8"/><circle cx="642.5" cy="108.7" r="0.5" fill="#96f8c8"/><circle cx="630.7" cy="106.2" r="0.5" fill="#88f0d0"/><circle cx="637.9" cy="101.5" r="0.4" fill="#88f0d0"/><circle cx="637.4" cy="108.6" r="0.6" fill="#96f8c8"/><circle cx="637.4" cy="110.1" r="0.6" fill="#6ee0a8"/><circle cx="645.6" cy="101.2" r="0.4" fill="#6ee0a8"/><circle cx="631.1" cy="103.9" r="0.8" fill="#6ee0a8"/><circle cx="637.2" cy="110.5" r="0.6" fill="#6ee0a8"/><circle cx="641.7" cy="100.0" r="0.8" fill="#88f0d0"/><circle cx="640.8" cy="101.6" r="0.8" fill="#88f0d0"/><circle cx="631.4" cy="100.9" r="0.4" fill="#88f0d0"/><circle cx="642.2" cy="96.8" r="0.6" fill="#96f8c8"/><circle cx="636.2" cy="99.2" r="0.5" fill="#96f8c8"/><circle cx="640.5" cy="99.0" r="0.5" fill="#88f0d0"/><circle cx="630.7" cy="103.0" r="0.4" fill="#6ee0a8"/><circle cx="641.8" cy="108.8" r="0.5" fill="#6ee0a8"/><circle cx="641.4" cy="104.3" r="0.8" fill="#6ee0a8"/><circle cx="638.8" cy="112.3" r="0.8" fill="#6ee0a8"/><circle cx="644.6" cy="98.7" r="0.9" fill="#6ee0a8"/><circle cx="637.1" cy="109.1" r="0.7" fill="#88f0d0"/><circle cx="647.0" cy="102.6" r="0.9" fill="#6ee0a8"/><circle cx="647.8" cy="103.3" r="0.6" fill="#6ee0a8"/><circle cx="638.7" cy="109.9" r="0.8" fill="#88f0d0"/><circle cx="634.8" cy="110.3" r="0.6" fill="#6ee0a8"/><circle cx="645.3" cy="110.3" r="0.6" fill="#88f0d0"/><circle cx="634.5" cy="105.2" r="0.8" fill="#96f8c8"/><circle cx="647.0" cy="103.1" r="0.7" fill="#6ee0a8"/><circle cx="643.1" cy="99.1" r="0.8" fill="#96f8c8"/>
<circle cx="638.00" cy="106.90" r="1.70" fill="#5a7a70" opacity="0.85"/>
<circle cx="642.00" cy="102.90" r="1.10" fill="#5a8a78" opacity="0.8"/>
<circle cx="636.50" cy="101.90" r="0.90" fill="#5a8a78" opacity="0.8"/>
<ellipse cx="668.1" cy="121" rx="11" ry="10" fill="#8af6cc" filter="url(#soft)"/>
<circle cx="674.4" cy="118.0" r="0.8" fill="#6ee0a8"/><circle cx="676.0" cy="124.9" r="0.6" fill="#6ee0a8"/><circle cx="670.6" cy="116.0" r="0.7" fill="#96f8c8"/><circle cx="672.8" cy="129.0" r="0.5" fill="#96f8c8"/><circle cx="662.6" cy="127.3" r="0.5" fill="#88f0d0"/><circle cx="676.1" cy="124.7" r="0.4" fill="#96f8c8"/><circle cx="672.2" cy="125.3" r="0.7" fill="#6ee0a8"/><circle cx="667.6" cy="118.7" r="0.8" fill="#96f8c8"/><circle cx="661.9" cy="116.5" r="0.6" fill="#6ee0a8"/><circle cx="664.4" cy="123.9" r="0.8" fill="#88f0d0"/><circle cx="668.3" cy="117.8" r="0.5" fill="#88f0d0"/><circle cx="662.2" cy="126.9" r="0.4" fill="#6ee0a8"/><circle cx="669.7" cy="128.1" r="0.6" fill="#88f0d0"/><circle cx="662.0" cy="127.1" r="0.6" fill="#96f8c8"/><circle cx="670.8" cy="128.2" r="0.4" fill="#96f8c8"/><circle cx="671.6" cy="119.5" r="0.8" fill="#88f0d0"/><circle cx="668.0" cy="127.4" r="0.7" fill="#88f0d0"/><circle cx="668.3" cy="129.6" r="0.5" fill="#88f0d0"/><circle cx="677.6" cy="123.7" r="0.6" fill="#6ee0a8"/><circle cx="663.1" cy="117.5" r="0.8" fill="#88f0d0"/><circle cx="663.5" cy="121.4" r="0.6" fill="#6ee0a8"/><circle cx="662.0" cy="126.4" r="0.4" fill="#6ee0a8"/><circle cx="668.5" cy="124.6" r="0.5" fill="#96f8c8"/><circle cx="670.7" cy="115.6" r="0.4" fill="#96f8c8"/><circle cx="664.9" cy="126.6" r="0.6" fill="#96f8c8"/><circle cx="677.1" cy="124.3" r="0.7" fill="#88f0d0"/><circle cx="671.2" cy="113.3" r="0.6" fill="#6ee0a8"/><circle cx="663.7" cy="121.3" r="0.8" fill="#96f8c8"/><circle cx="674.3" cy="115.6" r="0.7" fill="#88f0d0"/><circle cx="675.8" cy="120.3" r="0.5" fill="#6ee0a8"/><circle cx="664.5" cy="126.6" r="0.5" fill="#88f0d0"/><circle cx="661.3" cy="123.3" r="0.5" fill="#96f8c8"/><circle cx="660.1" cy="125.7" r="0.7" fill="#96f8c8"/><circle cx="670.7" cy="115.1" r="0.8" fill="#88f0d0"/><circle cx="662.1" cy="127.1" r="0.8" fill="#6ee0a8"/><circle cx="673.6" cy="114.1" r="0.9" fill="#6ee0a8"/><circle cx="674.5" cy="127.6" r="0.6" fill="#6ee0a8"/><circle cx="667.5" cy="114.9" r="0.7" fill="#96f8c8"/><circle cx="665.7" cy="122.7" r="0.7" fill="#96f8c8"/><circle cx="664.1" cy="119.0" r="0.7" fill="#88f0d0"/><circle cx="662.0" cy="121.7" r="0.8" fill="#96f8c8"/><circle cx="669.1" cy="125.5" r="0.5" fill="#88f0d0"/><circle cx="666.1" cy="112.7" r="0.9" fill="#6ee0a8"/><circle cx="662.4" cy="121.3" r="0.8" fill="#88f0d0"/>
<circle cx="666.60" cy="123.50" r="1.70" fill="#5a7a70" opacity="0.85"/>
<circle cx="670.60" cy="119.50" r="1.10" fill="#5a8a78" opacity="0.8"/>
<circle cx="665.10" cy="118.50" r="0.90" fill="#5a8a78" opacity="0.8"/>
<ellipse cx="644.7" cy="134" rx="11" ry="10.5" fill="#8af6cc" filter="url(#soft)"/>
<circle cx="643.9" cy="142.4" r="0.7" fill="#96f8c8"/><circle cx="641.3" cy="130.9" r="0.4" fill="#96f8c8"/><circle cx="644.9" cy="131.0" r="0.8" fill="#96f8c8"/><circle cx="649.9" cy="130.3" r="0.5" fill="#88f0d0"/><circle cx="644.3" cy="140.7" r="0.6" fill="#96f8c8"/><circle cx="637.9" cy="138.8" r="0.7" fill="#96f8c8"/><circle cx="638.5" cy="127.7" r="0.6" fill="#6ee0a8"/><circle cx="653.4" cy="135.6" r="0.5" fill="#88f0d0"/><circle cx="649.3" cy="131.4" r="0.4" fill="#6ee0a8"/><circle cx="646.7" cy="131.0" r="0.5" fill="#88f0d0"/><circle cx="640.0" cy="131.3" r="0.8" fill="#6ee0a8"/><circle cx="643.7" cy="139.8" r="0.8" fill="#6ee0a8"/><circle cx="640.6" cy="130.5" r="0.7" fill="#88f0d0"/><circle cx="643.7" cy="131.0" r="0.7" fill="#96f8c8"/><circle cx="635.6" cy="131.6" r="0.7" fill="#88f0d0"/><circle cx="641.8" cy="140.1" r="0.5" fill="#6ee0a8"/><circle cx="639.0" cy="141.4" r="0.7" fill="#88f0d0"/><circle cx="652.0" cy="136.1" r="0.9" fill="#6ee0a8"/><circle cx="636.7" cy="128.7" r="0.6" fill="#96f8c8"/><circle cx="641.1" cy="128.6" r="0.8" fill="#6ee0a8"/><circle cx="652.1" cy="140.4" r="0.4" fill="#88f0d0"/><circle cx="642.5" cy="139.9" r="0.7" fill="#96f8c8"/><circle cx="643.4" cy="142.1" r="0.5" fill="#88f0d0"/><circle cx="650.2" cy="139.5" r="0.7" fill="#96f8c8"/><circle cx="640.7" cy="128.6" r="0.4" fill="#88f0d0"/><circle cx="647.4" cy="137.8" r="0.7" fill="#88f0d0"/><circle cx="643.6" cy="139.8" r="0.4" fill="#6ee0a8"/><circle cx="640.2" cy="139.7" r="0.8" fill="#96f8c8"/><circle cx="646.6" cy="140.6" r="0.8" fill="#96f8c8"/><circle cx="639.8" cy="141.2" r="0.7" fill="#88f0d0"/><circle cx="640.0" cy="136.2" r="0.5" fill="#96f8c8"/><circle cx="641.1" cy="126.5" r="0.4" fill="#88f0d0"/><circle cx="649.7" cy="127.3" r="0.5" fill="#96f8c8"/><circle cx="638.0" cy="140.0" r="0.7" fill="#96f8c8"/><circle cx="648.5" cy="140.9" r="0.4" fill="#96f8c8"/><circle cx="639.9" cy="140.4" r="0.7" fill="#96f8c8"/><circle cx="646.0" cy="130.0" r="0.7" fill="#96f8c8"/><circle cx="647.7" cy="130.3" r="0.7" fill="#6ee0a8"/><circle cx="645.1" cy="132.9" r="0.5" fill="#96f8c8"/><circle cx="650.9" cy="127.0" r="0.6" fill="#96f8c8"/><circle cx="646.8" cy="135.9" r="0.7" fill="#88f0d0"/><circle cx="639.9" cy="139.6" r="0.4" fill="#96f8c8"/><circle cx="646.7" cy="135.0" r="0.8" fill="#6ee0a8"/><circle cx="651.7" cy="133.2" r="0.5" fill="#96f8c8"/>
<circle cx="643.20" cy="136.50" r="1.70" fill="#5a7a70" opacity="0.85"/>
<circle cx="647.20" cy="132.50" r="1.10" fill="#5a8a78" opacity="0.8"/>
<circle cx="641.70" cy="131.50" r="0.90" fill="#5a8a78" opacity="0.8"/>
<polygon points="608.8,71.6 602,68.0 602,75.19999999999999" fill="#fff"/>
<polygon points="626.5,109.8 619.6,106.2 619.6,113.39999999999999" fill="#fff"/>
<polygon points="625.3,140.6 618.4,137.0 618.4,144.2" fill="#fff"/>
<rect x="641.00" y="176.30" width="34.80" height="3.20" fill="#fff" />
<rect x="639.4" y="18.5" width="42" height="41.3" fill="#727276" stroke="#f4f4f4" stroke-width="1"/>
<ellipse cx="660.5" cy="43.2" rx="15.5" ry="10.8" transform="rotate(-22 660.5 43.2)" fill="#3a3a3c" />
<ellipse cx="660.3" cy="43.4" rx="13.8" ry="9.2" transform="rotate(-22 660.3 43.4)" fill="#8a5ac4" filter="url(#soft)"/>
<circle cx="649.9" cy="44.3" r="0.6" fill="#a878d8"/><circle cx="658.9" cy="50.0" r="0.8" fill="#b070e0"/><circle cx="658.5" cy="47.4" r="0.4" fill="#c8c0d8"/><circle cx="659.0" cy="49.2" r="0.5" fill="#c8c0d8"/><circle cx="671.1" cy="41.6" r="0.4" fill="#6a48b0"/><circle cx="664.1" cy="37.8" r="0.4" fill="#b070e0"/><circle cx="664.0" cy="46.5" r="0.9" fill="#8a8a9a"/><circle cx="654.6" cy="48.2" r="0.9" fill="#8a8a9a"/><circle cx="651.1" cy="47.6" r="0.8" fill="#6a48b0"/><circle cx="664.3" cy="37.6" r="0.8" fill="#a878d8"/><circle cx="651.9" cy="38.2" r="0.8" fill="#c8c0d8"/><circle cx="660.7" cy="49.7" r="0.6" fill="#c8c0d8"/><circle cx="654.6" cy="42.7" r="0.5" fill="#a878d8"/><circle cx="662.9" cy="50.2" r="0.8" fill="#c8c0d8"/><circle cx="659.8" cy="38.0" r="0.7" fill="#6a48b0"/><circle cx="660.0" cy="47.5" r="0.6" fill="#8a8a9a"/><circle cx="655.6" cy="39.6" r="0.6" fill="#a878d8"/><circle cx="665.6" cy="49.8" r="0.4" fill="#b070e0"/><circle cx="659.9" cy="50.1" r="0.7" fill="#8a8a9a"/><circle cx="662.2" cy="37.1" r="0.7" fill="#b070e0"/><circle cx="671.5" cy="41.1" r="0.5" fill="#c8c0d8"/><circle cx="661.4" cy="39.5" r="0.8" fill="#c8c0d8"/><circle cx="670.6" cy="43.7" r="0.8" fill="#b070e0"/><circle cx="671.2" cy="41.1" r="0.8" fill="#a878d8"/><circle cx="668.5" cy="39.9" r="0.4" fill="#6a48b0"/><circle cx="655.3" cy="41.7" r="0.5" fill="#8a8a9a"/><circle cx="649.7" cy="43.1" r="0.6" fill="#a878d8"/><circle cx="667.9" cy="43.0" r="0.9" fill="#b070e0"/><circle cx="653.8" cy="40.7" r="0.8" fill="#b070e0"/><circle cx="653.0" cy="47.6" r="0.6" fill="#c8c0d8"/><circle cx="666.4" cy="38.7" r="0.7" fill="#a878d8"/><circle cx="667.7" cy="47.2" r="0.5" fill="#a878d8"/><circle cx="651.9" cy="44.8" r="0.7" fill="#c8c0d8"/><circle cx="658.5" cy="42.3" r="0.7" fill="#8a8a9a"/><circle cx="649.4" cy="42.9" r="0.5" fill="#a878d8"/><circle cx="660.1" cy="38.0" r="0.6" fill="#8a8a9a"/><circle cx="663.8" cy="46.2" r="0.5" fill="#8a8a9a"/><circle cx="658.2" cy="38.2" r="0.8" fill="#c8c0d8"/><circle cx="660.2" cy="41.2" r="0.8" fill="#c8c0d8"/><circle cx="658.5" cy="35.9" r="0.7" fill="#a878d8"/><circle cx="668.9" cy="47.4" r="0.8" fill="#b070e0"/><circle cx="653.4" cy="37.7" r="0.7" fill="#8a8a9a"/><circle cx="657.2" cy="49.1" r="0.7" fill="#6a48b0"/><circle cx="661.3" cy="36.6" r="0.9" fill="#c8c0d8"/><circle cx="667.7" cy="44.0" r="0.4" fill="#6a48b0"/><circle cx="663.5" cy="45.3" r="0.5" fill="#a878d8"/><circle cx="654.7" cy="46.5" r="0.9" fill="#a878d8"/><circle cx="658.7" cy="37.2" r="0.5" fill="#b070e0"/><circle cx="649.9" cy="44.4" r="0.5" fill="#8a8a9a"/><circle cx="655.6" cy="48.9" r="0.7" fill="#b070e0"/><circle cx="660.1" cy="50.8" r="0.4" fill="#6a48b0"/><circle cx="661.6" cy="43.4" r="0.6" fill="#c8c0d8"/><circle cx="665.3" cy="48.5" r="0.7" fill="#b070e0"/><circle cx="657.1" cy="42.8" r="0.7" fill="#c8c0d8"/><circle cx="661.8" cy="38.6" r="0.9" fill="#8a8a9a"/><circle cx="650.2" cy="41.6" r="0.7" fill="#a878d8"/><circle cx="666.9" cy="39.1" r="0.8" fill="#a878d8"/><circle cx="665.7" cy="41.0" r="0.6" fill="#b070e0"/><circle cx="654.0" cy="44.1" r="0.6" fill="#8a8a9a"/><circle cx="655.6" cy="47.5" r="0.8" fill="#b070e0"/><circle cx="668.6" cy="41.7" r="0.8" fill="#a878d8"/><circle cx="653.0" cy="44.0" r="0.5" fill="#c8c0d8"/><circle cx="668.4" cy="39.8" r="0.9" fill="#8a8a9a"/><circle cx="652.5" cy="38.7" r="0.7" fill="#b070e0"/><circle cx="652.8" cy="38.4" r="0.8" fill="#c8c0d8"/><circle cx="665.3" cy="48.8" r="0.7" fill="#6a48b0"/><circle cx="656.6" cy="44.9" r="0.9" fill="#c8c0d8"/><circle cx="659.5" cy="41.7" r="0.7" fill="#8a8a9a"/><circle cx="660.9" cy="41.4" r="0.6" fill="#c8c0d8"/><circle cx="668.9" cy="44.9" r="0.5" fill="#a878d8"/><circle cx="659.6" cy="48.6" r="0.9" fill="#b070e0"/><circle cx="668.5" cy="40.7" r="0.8" fill="#6a48b0"/><circle cx="657.2" cy="45.7" r="0.5" fill="#8a8a9a"/><circle cx="665.0" cy="48.6" r="0.8" fill="#b070e0"/><circle cx="662.5" cy="38.8" r="0.5" fill="#6a48b0"/><circle cx="650.9" cy="39.3" r="0.8" fill="#b070e0"/><circle cx="651.7" cy="39.9" r="0.7" fill="#b070e0"/><circle cx="656.6" cy="39.1" r="0.8" fill="#a878d8"/><circle cx="656.0" cy="41.9" r="0.6" fill="#a878d8"/><circle cx="654.8" cy="46.1" r="0.7" fill="#a878d8"/><circle cx="664.5" cy="49.6" r="0.8" fill="#b070e0"/><circle cx="662.3" cy="44.4" r="0.9" fill="#a878d8"/><circle cx="663.5" cy="47.3" r="0.8" fill="#b070e0"/><circle cx="656.5" cy="39.6" r="0.5" fill="#a878d8"/><circle cx="669.5" cy="40.5" r="0.9" fill="#b070e0"/><circle cx="670.0" cy="44.8" r="0.6" fill="#b070e0"/><circle cx="659.3" cy="41.5" r="0.4" fill="#6a48b0"/><circle cx="668.2" cy="42.7" r="0.5" fill="#8a8a9a"/><circle cx="671.0" cy="45.0" r="0.6" fill="#8a8a9a"/><circle cx="665.5" cy="50.0" r="0.6" fill="#8a8a9a"/>
<circle cx="670.00" cy="36.00" r="0.80" fill="#e0e0e8" />
<circle cx="672.00" cy="40.00" r="0.80" fill="#e0e0e8" />
<circle cx="668.00" cy="33.00" r="0.80" fill="#e0e0e8" />
<circle cx="673.00" cy="44.00" r="0.80" fill="#e0e0e8" />
<circle cx="666.00" cy="38.00" r="0.80" fill="#e0e0e8" />
<circle cx="671.00" cy="48.00" r="0.80" fill="#e0e0e8" />
<circle cx="674.00" cy="38.00" r="0.80" fill="#e0e0e8" />
</g>
<text x="583.40" y="37.00" font-size="16.5" fill="#fff" text-anchor="start" >b</text>
<clipPath id="clc1"><rect x="1.5" y="235.8" width="125.5" height="166.7"/></clipPath>
<rect x="1.5" y="235.8" width="125.5" height="166.7" fill="#9a9a9a" stroke="#9a9a9a" stroke-width="1"/>
<g clip-path="url(#clc1)">
<linearGradient id="gcl" x1="0" y1="0" x2="0" y2="1"><stop offset="0" stop-color="#7c7c7c" stop-opacity="0"/><stop offset="0.35" stop-color="#7c7c7c" stop-opacity="1"/></linearGradient>
<rect x="1.5" y="320" width="126" height="83" fill="url(#gcl)"/>
<polyline points="70.00,290.00 85.00,300.00 95.00,318.00" fill="none" stroke="#5e5e5e" stroke-width="0.8" stroke-linejoin="round" stroke-linecap="round" />
<polyline points="60.00,300.00 75.00,320.00 85.00,335.00" fill="none" stroke="#5e5e5e" stroke-width="0.8" stroke-linejoin="round" stroke-linecap="round" />
<polyline points="80.00,260.00 100.00,275.00 118.00,285.00 127.00,283.00" fill="none" stroke="#5e5e5e" stroke-width="0.8" stroke-linejoin="round" stroke-linecap="round" />
<polyline points="10.00,300.00 25.00,305.00 30.00,318.00" fill="none" stroke="#5e5e5e" stroke-width="0.8" stroke-linejoin="round" stroke-linecap="round" />
<polyline points="85.00,250.00 95.00,262.00 105.00,270.00" fill="none" stroke="#5e5e5e" stroke-width="0.8" stroke-linejoin="round" stroke-linecap="round" />
<polyline points="75.00,300.00 90.00,295.00 100.00,300.00" fill="none" stroke="#5e5e5e" stroke-width="0.8" stroke-linejoin="round" stroke-linecap="round" />
<circle cx="58.90" cy="265.60" r="11.50" fill="#383838" />
<circle cx="58.20" cy="264.90" r="10.40" fill="#a8a8a8" />
<circle cx="58.60" cy="265.30" r="9.50" fill="#94aa94" />
<circle cx="62.4" cy="271.7" r="0.9" fill="#8a8a8a"/><circle cx="63.5" cy="257.9" r="0.8" fill="#aaaaaa"/><circle cx="61.2" cy="271.2" r="1.0" fill="#b4b4b4"/><circle cx="53.9" cy="270.2" r="0.5" fill="#808080"/><circle cx="65.1" cy="261.8" r="0.8" fill="#8a8a8a"/><circle cx="57.4" cy="264.2" r="0.7" fill="#8a8a8a"/><circle cx="56.1" cy="258.6" r="1.1" fill="#b4b4b4"/><circle cx="63.1" cy="272.0" r="0.6" fill="#b4b4b4"/><circle cx="52.3" cy="267.2" r="0.7" fill="#8a8a8a"/><circle cx="62.8" cy="271.2" r="0.8" fill="#808080"/><circle cx="62.1" cy="267.1" r="0.9" fill="#aaaaaa"/><circle cx="61.0" cy="265.1" r="0.8" fill="#aaaaaa"/><circle cx="60.5" cy="261.8" r="1.1" fill="#aaaaaa"/><circle cx="54.1" cy="268.2" r="0.8" fill="#8a8a8a"/><circle cx="56.0" cy="270.9" r="0.7" fill="#b4b4b4"/><circle cx="62.7" cy="271.6" r="1.1" fill="#b4b4b4"/><circle cx="52.0" cy="265.7" r="0.9" fill="#808080"/><circle cx="54.1" cy="263.1" r="1.1" fill="#b4b4b4"/><circle cx="60.1" cy="268.6" r="0.7" fill="#c0c0c0"/><circle cx="54.7" cy="270.9" r="0.7" fill="#b4b4b4"/><circle cx="62.8" cy="272.8" r="0.6" fill="#8a8a8a"/><circle cx="53.4" cy="270.5" r="0.9" fill="#808080"/><circle cx="51.2" cy="270.2" r="1.1" fill="#aaaaaa"/><circle cx="63.8" cy="265.8" r="0.8" fill="#808080"/><circle cx="62.7" cy="263.6" r="0.8" fill="#8a8a8a"/><circle cx="61.3" cy="257.9" r="0.8" fill="#c0c0c0"/><circle cx="62.9" cy="266.8" r="0.7" fill="#8a8a8a"/>
<circle cx="58.60" cy="265.30" r="9.80" fill="none" stroke="#5ae05a" stroke-width="1.3" opacity="0.75"/>
<circle cx="38.50" cy="275.20" r="11.50" fill="#383838" />
<circle cx="37.80" cy="274.50" r="10.40" fill="#a8a8a8" />
<circle cx="38.20" cy="274.90" r="9.50" fill="#94aa94" />
<circle cx="38.2" cy="280.5" r="1.0" fill="#808080"/><circle cx="45.8" cy="274.1" r="0.8" fill="#c0c0c0"/><circle cx="42.8" cy="280.4" r="1.0" fill="#8a8a8a"/><circle cx="42.2" cy="275.6" r="1.0" fill="#808080"/><circle cx="43.3" cy="270.2" r="0.8" fill="#aaaaaa"/><circle cx="43.2" cy="271.4" r="0.6" fill="#aaaaaa"/><circle cx="36.9" cy="282.6" r="0.5" fill="#808080"/><circle cx="39.5" cy="274.5" r="0.9" fill="#808080"/><circle cx="42.3" cy="269.4" r="0.7" fill="#8a8a8a"/><circle cx="38.3" cy="266.9" r="0.6" fill="#808080"/><circle cx="40.5" cy="276.4" r="0.5" fill="#8a8a8a"/><circle cx="38.7" cy="272.6" r="0.6" fill="#c0c0c0"/><circle cx="42.8" cy="279.6" r="0.7" fill="#8a8a8a"/><circle cx="43.5" cy="270.4" r="0.6" fill="#8a8a8a"/><circle cx="40.5" cy="282.2" r="1.0" fill="#aaaaaa"/><circle cx="36.2" cy="266.8" r="1.0" fill="#b4b4b4"/><circle cx="31.9" cy="280.3" r="0.7" fill="#aaaaaa"/><circle cx="41.6" cy="281.6" r="0.7" fill="#aaaaaa"/><circle cx="37.5" cy="276.6" r="0.7" fill="#c0c0c0"/><circle cx="36.9" cy="266.1" r="1.0" fill="#aaaaaa"/><circle cx="31.5" cy="275.3" r="0.8" fill="#b4b4b4"/><circle cx="30.6" cy="274.5" r="1.1" fill="#c0c0c0"/><circle cx="36.4" cy="281.7" r="1.0" fill="#808080"/><circle cx="45.6" cy="278.0" r="1.1" fill="#c0c0c0"/><circle cx="44.8" cy="277.8" r="0.8" fill="#b4b4b4"/><circle cx="34.1" cy="269.2" r="1.0" fill="#8a8a8a"/><circle cx="29.5" cy="274.6" r="0.9" fill="#8a8a8a"/>
<circle cx="38.20" cy="274.90" r="9.80" fill="none" stroke="#5ae05a" stroke-width="1.3" opacity="0.75"/>
<circle cx="71.20" cy="287.40" r="10.60" fill="#383838" />
<circle cx="70.50" cy="286.70" r="9.50" fill="#a8a8a8" />
<circle cx="70.90" cy="287.10" r="8.60" fill="#999999" />
<circle cx="65.3" cy="288.1" r="1.0" fill="#b4b4b4"/><circle cx="71.2" cy="288.8" r="0.8" fill="#808080"/><circle cx="69.9" cy="293.2" r="0.7" fill="#8a8a8a"/><circle cx="67.2" cy="288.2" r="0.7" fill="#8a8a8a"/><circle cx="72.0" cy="294.7" r="0.9" fill="#b4b4b4"/><circle cx="65.3" cy="287.8" r="0.9" fill="#808080"/><circle cx="72.1" cy="280.9" r="1.0" fill="#aaaaaa"/><circle cx="68.8" cy="280.8" r="0.6" fill="#8a8a8a"/><circle cx="66.2" cy="291.2" r="1.0" fill="#b4b4b4"/><circle cx="72.8" cy="290.2" r="1.0" fill="#808080"/><circle cx="73.7" cy="288.9" r="0.8" fill="#aaaaaa"/><circle cx="77.4" cy="284.7" r="0.8" fill="#b4b4b4"/><circle cx="74.2" cy="286.9" r="0.8" fill="#c0c0c0"/><circle cx="66.7" cy="291.5" r="0.6" fill="#b4b4b4"/><circle cx="75.2" cy="285.7" r="0.7" fill="#808080"/><circle cx="75.5" cy="283.7" r="0.6" fill="#c0c0c0"/><circle cx="70.2" cy="284.0" r="0.7" fill="#8a8a8a"/><circle cx="65.1" cy="289.5" r="0.7" fill="#808080"/><circle cx="67.8" cy="281.6" r="0.6" fill="#808080"/><circle cx="77.9" cy="288.6" r="1.1" fill="#c0c0c0"/><circle cx="76.5" cy="287.8" r="0.5" fill="#aaaaaa"/><circle cx="65.9" cy="289.0" r="1.1" fill="#aaaaaa"/><circle cx="75.6" cy="293.4" r="0.6" fill="#c0c0c0"/><circle cx="74.7" cy="284.1" r="0.6" fill="#8a8a8a"/>
<circle cx="43.90" cy="309.30" r="12.00" fill="#383838" />
<circle cx="43.20" cy="308.60" r="10.90" fill="#a8a8a8" />
<circle cx="43.60" cy="309.00" r="10.00" fill="#90c490" />
<circle cx="41.6" cy="308.6" r="0.6" fill="#8a8a8a"/><circle cx="47.0" cy="305.9" r="0.8" fill="#aaaaaa"/><circle cx="51.5" cy="305.0" r="0.5" fill="#aaaaaa"/><circle cx="49.2" cy="311.7" r="1.0" fill="#808080"/><circle cx="47.4" cy="314.4" r="0.8" fill="#aaaaaa"/><circle cx="38.9" cy="304.6" r="1.0" fill="#c0c0c0"/><circle cx="45.7" cy="312.0" r="0.7" fill="#b4b4b4"/><circle cx="45.5" cy="307.4" r="0.5" fill="#aaaaaa"/><circle cx="50.6" cy="313.9" r="0.7" fill="#c0c0c0"/><circle cx="45.3" cy="309.7" r="0.8" fill="#8a8a8a"/><circle cx="45.3" cy="311.5" r="1.1" fill="#aaaaaa"/><circle cx="43.6" cy="313.2" r="0.6" fill="#aaaaaa"/><circle cx="38.9" cy="311.5" r="0.6" fill="#aaaaaa"/><circle cx="49.0" cy="310.4" r="0.8" fill="#808080"/><circle cx="49.3" cy="309.8" r="0.8" fill="#8a8a8a"/><circle cx="46.7" cy="300.6" r="0.9" fill="#808080"/><circle cx="40.4" cy="302.1" r="0.9" fill="#aaaaaa"/><circle cx="51.4" cy="304.0" r="0.7" fill="#8a8a8a"/><circle cx="51.3" cy="305.8" r="0.5" fill="#c0c0c0"/><circle cx="45.8" cy="313.3" r="0.5" fill="#8a8a8a"/><circle cx="41.3" cy="306.0" r="1.1" fill="#aaaaaa"/><circle cx="37.6" cy="309.0" r="0.6" fill="#aaaaaa"/><circle cx="35.8" cy="306.2" r="0.9" fill="#c0c0c0"/><circle cx="47.5" cy="306.5" r="0.9" fill="#c0c0c0"/><circle cx="35.4" cy="306.9" r="0.7" fill="#808080"/><circle cx="52.6" cy="308.7" r="1.1" fill="#b4b4b4"/><circle cx="51.6" cy="308.2" r="0.9" fill="#808080"/><circle cx="49.7" cy="306.0" r="1.0" fill="#aaaaaa"/>
<circle cx="43.60" cy="309.00" r="10.30" fill="none" stroke="#5ae05a" stroke-width="1.3" opacity="0.75"/>
<circle cx="41.20" cy="331.10" r="11.50" fill="#383838" />
<circle cx="40.50" cy="330.40" r="10.40" fill="#a8a8a8" />
<circle cx="40.90" cy="330.80" r="9.50" fill="#94aa94" />
<circle cx="39.9" cy="334.2" r="0.9" fill="#aaaaaa"/><circle cx="36.0" cy="324.8" r="1.0" fill="#808080"/><circle cx="40.8" cy="336.6" r="0.7" fill="#8a8a8a"/><circle cx="39.1" cy="331.1" r="1.0" fill="#808080"/><circle cx="48.8" cy="332.6" r="0.9" fill="#c0c0c0"/><circle cx="40.3" cy="323.2" r="1.1" fill="#8a8a8a"/><circle cx="41.9" cy="332.1" r="1.0" fill="#aaaaaa"/><circle cx="38.6" cy="338.6" r="0.8" fill="#8a8a8a"/><circle cx="42.0" cy="338.3" r="1.0" fill="#8a8a8a"/><circle cx="40.2" cy="329.5" r="1.0" fill="#808080"/><circle cx="34.9" cy="330.8" r="0.7" fill="#8a8a8a"/><circle cx="34.9" cy="326.5" r="1.0" fill="#b4b4b4"/><circle cx="37.8" cy="334.0" r="1.0" fill="#b4b4b4"/><circle cx="44.5" cy="329.1" r="1.0" fill="#b4b4b4"/><circle cx="40.8" cy="326.4" r="0.6" fill="#c0c0c0"/><circle cx="46.4" cy="335.1" r="0.9" fill="#aaaaaa"/><circle cx="42.6" cy="336.8" r="0.9" fill="#808080"/><circle cx="49.2" cy="332.5" r="1.1" fill="#aaaaaa"/><circle cx="38.3" cy="333.7" r="0.6" fill="#b4b4b4"/><circle cx="40.3" cy="338.9" r="0.5" fill="#aaaaaa"/><circle cx="40.2" cy="329.7" r="0.9" fill="#aaaaaa"/><circle cx="39.1" cy="324.8" r="0.8" fill="#aaaaaa"/><circle cx="35.9" cy="335.9" r="0.9" fill="#c0c0c0"/><circle cx="44.4" cy="335.2" r="0.8" fill="#8a8a8a"/><circle cx="39.6" cy="324.1" r="0.8" fill="#808080"/><circle cx="48.0" cy="331.7" r="0.8" fill="#808080"/><circle cx="42.2" cy="322.4" r="0.9" fill="#c0c0c0"/>
<circle cx="40.90" cy="330.80" r="9.80" fill="none" stroke="#5ae05a" stroke-width="1.3" opacity="0.75"/>
<circle cx="103.90" cy="328.30" r="12.50" fill="#383838" />
<circle cx="103.20" cy="327.60" r="11.40" fill="#a8a8a8" />
<circle cx="103.60" cy="328.00" r="10.50" fill="#a8d0a0" />
<circle cx="99.6" cy="328.2" r="1.0" fill="#c0c0c0"/><circle cx="101.7" cy="322.9" r="1.1" fill="#8a8a8a"/><circle cx="105.1" cy="331.6" r="0.9" fill="#808080"/><circle cx="104.2" cy="331.3" r="0.8" fill="#b4b4b4"/><circle cx="101.2" cy="325.5" r="0.6" fill="#808080"/><circle cx="100.8" cy="327.3" r="0.6" fill="#aaaaaa"/><circle cx="99.1" cy="326.0" r="0.8" fill="#aaaaaa"/><circle cx="100.8" cy="319.5" r="0.7" fill="#c0c0c0"/><circle cx="106.5" cy="320.3" r="1.0" fill="#8a8a8a"/><circle cx="110.4" cy="329.5" r="1.0" fill="#aaaaaa"/><circle cx="101.7" cy="328.2" r="0.9" fill="#c0c0c0"/><circle cx="105.0" cy="319.7" r="0.8" fill="#808080"/><circle cx="102.1" cy="333.8" r="0.8" fill="#c0c0c0"/><circle cx="96.8" cy="333.7" r="0.5" fill="#c0c0c0"/><circle cx="97.7" cy="324.5" r="1.0" fill="#808080"/><circle cx="103.7" cy="324.2" r="0.7" fill="#b4b4b4"/><circle cx="102.6" cy="336.1" r="1.0" fill="#b4b4b4"/><circle cx="97.1" cy="334.5" r="0.8" fill="#b4b4b4"/><circle cx="98.9" cy="323.1" r="0.8" fill="#c0c0c0"/><circle cx="103.3" cy="325.9" r="0.9" fill="#aaaaaa"/><circle cx="101.5" cy="331.7" r="1.0" fill="#8a8a8a"/><circle cx="99.6" cy="327.9" r="0.6" fill="#808080"/><circle cx="107.5" cy="323.8" r="0.9" fill="#808080"/><circle cx="109.3" cy="320.1" r="0.6" fill="#c0c0c0"/><circle cx="97.6" cy="326.9" r="0.7" fill="#aaaaaa"/><circle cx="107.0" cy="325.5" r="0.7" fill="#808080"/><circle cx="99.2" cy="336.2" r="1.0" fill="#808080"/><circle cx="101.6" cy="336.3" r="0.9" fill="#b4b4b4"/><circle cx="107.2" cy="324.6" r="1.1" fill="#c0c0c0"/>
<circle cx="103.60" cy="328.00" r="10.80" fill="none" stroke="#5ae05a" stroke-width="1.3" opacity="0.75"/>
<circle cx="110.70" cy="307.90" r="9.80" fill="#383838" />
<circle cx="110.00" cy="307.20" r="8.70" fill="#a8a8a8" />
<circle cx="110.40" cy="307.60" r="7.80" fill="#999999" />
<circle cx="104.3" cy="305.2" r="1.0" fill="#8a8a8a"/><circle cx="115.8" cy="308.6" r="1.0" fill="#808080"/><circle cx="111.9" cy="302.2" r="0.9" fill="#b4b4b4"/><circle cx="115.1" cy="302.7" r="1.0" fill="#808080"/><circle cx="104.4" cy="307.6" r="0.8" fill="#808080"/><circle cx="107.7" cy="303.7" r="0.9" fill="#c0c0c0"/><circle cx="111.0" cy="302.5" r="0.5" fill="#b4b4b4"/><circle cx="110.5" cy="304.7" r="0.6" fill="#8a8a8a"/><circle cx="115.9" cy="309.3" r="0.6" fill="#aaaaaa"/><circle cx="105.4" cy="304.7" r="1.0" fill="#c0c0c0"/><circle cx="106.5" cy="309.9" r="0.9" fill="#b4b4b4"/><circle cx="110.3" cy="308.1" r="0.7" fill="#c0c0c0"/><circle cx="103.7" cy="309.2" r="1.0" fill="#c0c0c0"/><circle cx="111.9" cy="305.4" r="0.7" fill="#c0c0c0"/><circle cx="111.2" cy="310.4" r="0.6" fill="#808080"/><circle cx="114.6" cy="307.7" r="0.6" fill="#c0c0c0"/><circle cx="108.6" cy="302.8" r="0.5" fill="#b4b4b4"/><circle cx="112.9" cy="312.4" r="0.8" fill="#808080"/><circle cx="113.6" cy="302.9" r="0.6" fill="#808080"/><circle cx="116.1" cy="311.6" r="0.7" fill="#c0c0c0"/><circle cx="107.6" cy="313.0" r="0.7" fill="#c0c0c0"/><circle cx="110.2" cy="301.5" r="0.6" fill="#c0c0c0"/>
<circle cx="122.90" cy="316.10" r="7.90" fill="#383838" />
<circle cx="122.20" cy="315.40" r="6.80" fill="#a8a8a8" />
<circle cx="122.60" cy="315.80" r="5.90" fill="#999999" />
<circle cx="123.3" cy="320.6" r="1.0" fill="#808080"/><circle cx="124.1" cy="315.8" r="1.1" fill="#8a8a8a"/><circle cx="118.3" cy="316.9" r="1.0" fill="#808080"/><circle cx="121.9" cy="312.4" r="0.5" fill="#8a8a8a"/><circle cx="123.9" cy="315.0" r="0.9" fill="#8a8a8a"/><circle cx="126.8" cy="312.9" r="1.0" fill="#b4b4b4"/><circle cx="122.2" cy="315.5" r="1.0" fill="#c0c0c0"/><circle cx="118.1" cy="315.2" r="0.5" fill="#b4b4b4"/><circle cx="126.2" cy="312.0" r="1.1" fill="#b4b4b4"/><circle cx="119.7" cy="314.4" r="0.9" fill="#8a8a8a"/><circle cx="123.5" cy="312.2" r="0.7" fill="#aaaaaa"/><circle cx="121.2" cy="320.2" r="0.6" fill="#b4b4b4"/><circle cx="124.4" cy="314.9" r="1.1" fill="#c0c0c0"/><circle cx="118.3" cy="314.1" r="0.7" fill="#b4b4b4"/><circle cx="120.0" cy="318.6" r="1.0" fill="#808080"/><circle cx="125.3" cy="313.5" r="0.8" fill="#aaaaaa"/><circle cx="124.8" cy="312.1" r="0.8" fill="#808080"/>
<circle cx="90.30" cy="344.70" r="10.60" fill="#383838" />
<circle cx="89.60" cy="344.00" r="9.50" fill="#a8a8a8" />
<circle cx="90.00" cy="344.40" r="8.60" fill="#999999" />
<circle cx="88.2" cy="340.3" r="0.9" fill="#8a8a8a"/><circle cx="83.2" cy="342.9" r="0.9" fill="#c0c0c0"/><circle cx="91.0" cy="347.6" r="0.8" fill="#808080"/><circle cx="95.6" cy="348.2" r="0.7" fill="#8a8a8a"/><circle cx="84.8" cy="347.1" r="0.6" fill="#c0c0c0"/><circle cx="95.3" cy="347.6" r="1.0" fill="#b4b4b4"/><circle cx="93.5" cy="339.5" r="0.5" fill="#aaaaaa"/><circle cx="90.4" cy="345.1" r="1.0" fill="#aaaaaa"/><circle cx="96.9" cy="343.1" r="0.6" fill="#8a8a8a"/><circle cx="87.5" cy="336.8" r="1.0" fill="#8a8a8a"/><circle cx="89.5" cy="351.0" r="0.8" fill="#b4b4b4"/><circle cx="88.1" cy="336.8" r="0.8" fill="#c0c0c0"/><circle cx="95.8" cy="341.8" r="1.0" fill="#8a8a8a"/><circle cx="88.6" cy="351.1" r="0.6" fill="#c0c0c0"/><circle cx="89.9" cy="352.2" r="0.8" fill="#aaaaaa"/><circle cx="96.2" cy="346.7" r="1.1" fill="#808080"/><circle cx="91.7" cy="342.5" r="0.9" fill="#808080"/><circle cx="92.9" cy="349.8" r="0.7" fill="#aaaaaa"/><circle cx="88.8" cy="337.9" r="0.6" fill="#b4b4b4"/><circle cx="93.2" cy="339.9" r="1.0" fill="#aaaaaa"/><circle cx="93.2" cy="351.5" r="0.7" fill="#c0c0c0"/><circle cx="88.4" cy="344.8" r="0.6" fill="#808080"/><circle cx="94.5" cy="342.5" r="0.9" fill="#808080"/><circle cx="83.5" cy="348.9" r="0.7" fill="#808080"/>
<circle cx="112.00" cy="351.50" r="10.10" fill="#383838" />
<circle cx="111.30" cy="350.80" r="9.00" fill="#a8a8a8" />
<circle cx="111.70" cy="351.20" r="8.10" fill="#999999" />
<circle cx="107.5" cy="345.8" r="0.6" fill="#c0c0c0"/><circle cx="118.8" cy="353.0" r="1.0" fill="#c0c0c0"/><circle cx="105.3" cy="349.2" r="0.8" fill="#b4b4b4"/><circle cx="114.4" cy="344.6" r="0.5" fill="#aaaaaa"/><circle cx="109.1" cy="349.9" r="0.8" fill="#b4b4b4"/><circle cx="110.7" cy="353.4" r="0.7" fill="#8a8a8a"/><circle cx="114.3" cy="345.2" r="1.0" fill="#b4b4b4"/><circle cx="106.6" cy="354.4" r="0.5" fill="#aaaaaa"/><circle cx="111.2" cy="356.3" r="0.7" fill="#aaaaaa"/><circle cx="105.8" cy="354.1" r="1.1" fill="#8a8a8a"/><circle cx="108.5" cy="354.2" r="1.1" fill="#808080"/><circle cx="109.0" cy="357.5" r="0.7" fill="#c0c0c0"/><circle cx="111.2" cy="350.1" r="0.9" fill="#c0c0c0"/><circle cx="114.0" cy="352.3" r="0.8" fill="#8a8a8a"/><circle cx="108.8" cy="357.4" r="0.8" fill="#8a8a8a"/><circle cx="112.2" cy="355.0" r="1.0" fill="#808080"/><circle cx="114.6" cy="357.0" r="0.5" fill="#c0c0c0"/><circle cx="107.9" cy="347.2" r="1.1" fill="#aaaaaa"/><circle cx="109.7" cy="352.6" r="0.8" fill="#808080"/><circle cx="116.7" cy="354.3" r="1.1" fill="#8a8a8a"/><circle cx="114.1" cy="357.4" r="0.6" fill="#808080"/><circle cx="117.7" cy="351.9" r="0.6" fill="#c0c0c0"/><circle cx="107.0" cy="347.8" r="0.9" fill="#aaaaaa"/>
<circle cx="82.10" cy="358.30" r="12.00" fill="#383838" />
<circle cx="81.40" cy="357.60" r="10.90" fill="#a8a8a8" />
<circle cx="81.80" cy="358.00" r="10.00" fill="#999999" />
<circle cx="86.4" cy="361.8" r="1.0" fill="#aaaaaa"/><circle cx="89.4" cy="353.6" r="1.0" fill="#b4b4b4"/><circle cx="78.5" cy="350.1" r="0.6" fill="#8a8a8a"/><circle cx="83.6" cy="352.2" r="0.5" fill="#8a8a8a"/><circle cx="81.6" cy="353.1" r="0.5" fill="#808080"/><circle cx="88.2" cy="359.3" r="1.1" fill="#8a8a8a"/><circle cx="78.7" cy="365.2" r="0.9" fill="#b4b4b4"/><circle cx="77.5" cy="355.6" r="0.9" fill="#b4b4b4"/><circle cx="81.4" cy="363.3" r="0.6" fill="#b4b4b4"/><circle cx="86.7" cy="363.4" r="0.6" fill="#b4b4b4"/><circle cx="85.0" cy="352.1" r="0.6" fill="#aaaaaa"/><circle cx="73.5" cy="356.8" r="1.1" fill="#c0c0c0"/><circle cx="75.0" cy="361.1" r="0.6" fill="#aaaaaa"/><circle cx="78.1" cy="363.3" r="1.0" fill="#c0c0c0"/><circle cx="90.2" cy="362.0" r="0.9" fill="#c0c0c0"/><circle cx="82.1" cy="365.7" r="0.6" fill="#808080"/><circle cx="84.1" cy="350.4" r="0.9" fill="#8a8a8a"/><circle cx="85.4" cy="356.8" r="0.8" fill="#8a8a8a"/><circle cx="90.8" cy="356.8" r="0.5" fill="#808080"/><circle cx="81.7" cy="359.9" r="0.9" fill="#aaaaaa"/><circle cx="83.3" cy="366.9" r="0.9" fill="#808080"/><circle cx="83.5" cy="363.4" r="0.8" fill="#b4b4b4"/><circle cx="84.0" cy="355.5" r="0.7" fill="#8a8a8a"/><circle cx="79.4" cy="353.6" r="0.7" fill="#c0c0c0"/><circle cx="84.1" cy="366.2" r="0.6" fill="#c0c0c0"/><circle cx="83.0" cy="356.8" r="1.0" fill="#808080"/><circle cx="74.4" cy="356.7" r="0.8" fill="#8a8a8a"/><circle cx="83.1" cy="365.1" r="0.7" fill="#aaaaaa"/>
<circle cx="53.40" cy="356.90" r="10.10" fill="#383838" />
<circle cx="52.70" cy="356.20" r="9.00" fill="#a8a8a8" />
<circle cx="53.10" cy="356.60" r="8.10" fill="#94aa94" />
<circle cx="58.9" cy="356.9" r="0.8" fill="#8a8a8a"/><circle cx="56.5" cy="361.7" r="0.8" fill="#aaaaaa"/><circle cx="57.3" cy="362.7" r="0.8" fill="#808080"/><circle cx="57.3" cy="362.2" r="0.8" fill="#b4b4b4"/><circle cx="51.7" cy="358.8" r="0.8" fill="#aaaaaa"/><circle cx="49.6" cy="358.3" r="1.1" fill="#c0c0c0"/><circle cx="56.2" cy="354.3" r="0.7" fill="#808080"/><circle cx="57.1" cy="358.4" r="0.9" fill="#c0c0c0"/><circle cx="46.1" cy="359.2" r="1.0" fill="#c0c0c0"/><circle cx="51.3" cy="351.7" r="1.0" fill="#aaaaaa"/><circle cx="55.3" cy="362.0" r="0.6" fill="#aaaaaa"/><circle cx="47.3" cy="357.0" r="0.7" fill="#b4b4b4"/><circle cx="51.3" cy="358.9" r="0.8" fill="#aaaaaa"/><circle cx="56.6" cy="352.3" r="1.1" fill="#8a8a8a"/><circle cx="49.9" cy="359.4" r="0.6" fill="#c0c0c0"/><circle cx="47.0" cy="353.7" r="0.8" fill="#c0c0c0"/><circle cx="48.8" cy="361.0" r="1.0" fill="#aaaaaa"/><circle cx="51.1" cy="354.2" r="1.0" fill="#8a8a8a"/><circle cx="52.3" cy="359.0" r="1.0" fill="#808080"/><circle cx="50.6" cy="350.7" r="0.5" fill="#808080"/><circle cx="50.7" cy="349.8" r="0.5" fill="#aaaaaa"/><circle cx="51.8" cy="353.9" r="0.6" fill="#8a8a8a"/><circle cx="55.2" cy="356.8" r="1.0" fill="#8a8a8a"/>
<circle cx="53.10" cy="356.60" r="8.40" fill="none" stroke="#5ae05a" stroke-width="1.3" opacity="0.75"/>
<circle cx="19.40" cy="358.30" r="11.50" fill="#383838" />
<circle cx="18.70" cy="357.60" r="10.40" fill="#a8a8a8" />
<circle cx="19.10" cy="358.00" r="9.50" fill="#999999" />
<circle cx="17.7" cy="358.9" r="0.8" fill="#8a8a8a"/><circle cx="22.3" cy="355.7" r="1.0" fill="#b4b4b4"/><circle cx="25.8" cy="357.7" r="0.9" fill="#c0c0c0"/><circle cx="21.8" cy="360.9" r="1.0" fill="#aaaaaa"/><circle cx="22.2" cy="360.1" r="0.7" fill="#8a8a8a"/><circle cx="25.3" cy="360.8" r="1.0" fill="#aaaaaa"/><circle cx="14.4" cy="359.5" r="0.9" fill="#8a8a8a"/><circle cx="19.4" cy="360.0" r="0.7" fill="#8a8a8a"/><circle cx="15.2" cy="353.4" r="0.5" fill="#aaaaaa"/><circle cx="14.7" cy="364.1" r="0.8" fill="#b4b4b4"/><circle cx="17.7" cy="357.0" r="0.6" fill="#c0c0c0"/><circle cx="19.7" cy="349.7" r="1.0" fill="#c0c0c0"/><circle cx="27.9" cy="358.5" r="0.7" fill="#8a8a8a"/><circle cx="27.5" cy="358.9" r="0.9" fill="#808080"/><circle cx="21.1" cy="353.1" r="0.8" fill="#b4b4b4"/><circle cx="20.4" cy="359.7" r="0.6" fill="#808080"/><circle cx="25.0" cy="364.2" r="0.9" fill="#8a8a8a"/><circle cx="14.6" cy="357.7" r="0.8" fill="#808080"/><circle cx="24.5" cy="364.9" r="0.7" fill="#8a8a8a"/><circle cx="26.0" cy="361.8" r="0.9" fill="#b4b4b4"/><circle cx="20.0" cy="362.2" r="0.8" fill="#c0c0c0"/><circle cx="21.1" cy="362.3" r="1.0" fill="#808080"/><circle cx="11.9" cy="361.1" r="0.8" fill="#8a8a8a"/><circle cx="27.3" cy="359.2" r="1.0" fill="#c0c0c0"/><circle cx="21.5" cy="364.6" r="0.8" fill="#808080"/><circle cx="24.7" cy="352.4" r="1.1" fill="#808080"/><circle cx="25.9" cy="362.1" r="0.8" fill="#8a8a8a"/>
<circle cx="103.90" cy="365.10" r="10.60" fill="#383838" />
<circle cx="103.20" cy="364.40" r="9.50" fill="#a8a8a8" />
<circle cx="103.60" cy="364.80" r="8.60" fill="#999999" />
<circle cx="107.9" cy="369.0" r="1.0" fill="#c0c0c0"/><circle cx="100.6" cy="361.9" r="0.6" fill="#b4b4b4"/><circle cx="104.0" cy="365.0" r="1.1" fill="#c0c0c0"/><circle cx="110.8" cy="362.1" r="1.0" fill="#aaaaaa"/><circle cx="105.9" cy="359.5" r="0.9" fill="#b4b4b4"/><circle cx="105.9" cy="361.1" r="1.1" fill="#8a8a8a"/><circle cx="110.4" cy="365.0" r="0.9" fill="#8a8a8a"/><circle cx="110.5" cy="360.9" r="0.6" fill="#b4b4b4"/><circle cx="111.3" cy="364.5" r="0.8" fill="#8a8a8a"/><circle cx="104.8" cy="361.5" r="1.0" fill="#c0c0c0"/><circle cx="105.8" cy="372.1" r="1.0" fill="#808080"/><circle cx="106.2" cy="368.3" r="1.0" fill="#808080"/><circle cx="96.8" cy="361.9" r="0.8" fill="#b4b4b4"/><circle cx="103.6" cy="362.0" r="0.6" fill="#aaaaaa"/><circle cx="106.1" cy="360.1" r="0.7" fill="#c0c0c0"/><circle cx="96.2" cy="366.9" r="0.9" fill="#aaaaaa"/><circle cx="100.8" cy="359.9" r="0.6" fill="#b4b4b4"/><circle cx="99.3" cy="362.4" r="0.5" fill="#808080"/><circle cx="110.7" cy="365.2" r="0.6" fill="#c0c0c0"/><circle cx="102.1" cy="370.8" r="0.9" fill="#808080"/><circle cx="101.4" cy="358.0" r="0.8" fill="#c0c0c0"/><circle cx="100.2" cy="358.9" r="0.5" fill="#b4b4b4"/><circle cx="98.3" cy="360.8" r="1.0" fill="#8a8a8a"/><circle cx="101.1" cy="365.3" r="0.8" fill="#b4b4b4"/>
<circle cx="121.60" cy="367.80" r="9.10" fill="#383838" />
<circle cx="120.90" cy="367.10" r="8.00" fill="#a8a8a8" />
<circle cx="121.30" cy="367.50" r="7.10" fill="#999999" />
<circle cx="125.0" cy="367.0" r="1.0" fill="#8a8a8a"/><circle cx="117.9" cy="368.2" r="0.6" fill="#b4b4b4"/><circle cx="121.4" cy="368.2" r="1.0" fill="#b4b4b4"/><circle cx="126.7" cy="368.6" r="0.8" fill="#aaaaaa"/><circle cx="127.2" cy="365.5" r="0.7" fill="#8a8a8a"/><circle cx="117.8" cy="369.9" r="1.1" fill="#808080"/><circle cx="125.1" cy="372.6" r="0.6" fill="#808080"/><circle cx="116.4" cy="366.5" r="0.6" fill="#808080"/><circle cx="118.1" cy="367.5" r="0.9" fill="#b4b4b4"/><circle cx="120.3" cy="363.4" r="0.9" fill="#8a8a8a"/><circle cx="127.3" cy="368.2" r="0.7" fill="#8a8a8a"/><circle cx="123.0" cy="362.0" r="0.6" fill="#b4b4b4"/><circle cx="116.4" cy="369.0" r="0.6" fill="#aaaaaa"/><circle cx="125.0" cy="372.6" r="0.6" fill="#8a8a8a"/><circle cx="125.6" cy="366.6" r="0.5" fill="#8a8a8a"/><circle cx="125.5" cy="368.8" r="0.7" fill="#808080"/><circle cx="121.7" cy="365.3" r="0.9" fill="#808080"/><circle cx="126.1" cy="364.7" r="1.0" fill="#c0c0c0"/><circle cx="118.7" cy="363.5" r="0.6" fill="#b4b4b4"/><circle cx="127.1" cy="367.7" r="0.7" fill="#aaaaaa"/>
<circle cx="33.00" cy="369.20" r="10.10" fill="#383838" />
<circle cx="32.30" cy="368.50" r="9.00" fill="#a8a8a8" />
<circle cx="32.70" cy="368.90" r="8.10" fill="#94aa94" />
<circle cx="27.2" cy="369.8" r="0.9" fill="#aaaaaa"/><circle cx="38.3" cy="367.5" r="1.1" fill="#c0c0c0"/><circle cx="32.1" cy="374.0" r="0.9" fill="#aaaaaa"/><circle cx="26.1" cy="366.6" r="1.0" fill="#808080"/><circle cx="34.0" cy="373.1" r="0.6" fill="#c0c0c0"/><circle cx="31.0" cy="373.4" r="0.8" fill="#aaaaaa"/><circle cx="38.0" cy="373.8" r="1.1" fill="#808080"/><circle cx="29.2" cy="364.9" r="0.7" fill="#aaaaaa"/><circle cx="34.9" cy="369.2" r="1.0" fill="#b4b4b4"/><circle cx="32.4" cy="364.2" r="0.6" fill="#8a8a8a"/><circle cx="30.0" cy="373.0" r="0.8" fill="#8a8a8a"/><circle cx="33.5" cy="370.5" r="0.6" fill="#aaaaaa"/><circle cx="30.3" cy="375.5" r="1.0" fill="#808080"/><circle cx="30.3" cy="372.5" r="0.6" fill="#b4b4b4"/><circle cx="33.5" cy="367.4" r="0.6" fill="#aaaaaa"/><circle cx="34.7" cy="368.8" r="0.7" fill="#c0c0c0"/><circle cx="30.5" cy="362.3" r="0.5" fill="#8a8a8a"/><circle cx="30.2" cy="362.3" r="0.6" fill="#b4b4b4"/><circle cx="32.0" cy="372.0" r="0.7" fill="#808080"/><circle cx="30.9" cy="369.2" r="0.9" fill="#b4b4b4"/><circle cx="37.5" cy="374.6" r="0.7" fill="#b4b4b4"/><circle cx="29.1" cy="368.9" r="0.9" fill="#808080"/><circle cx="34.1" cy="373.4" r="1.0" fill="#aaaaaa"/>
<circle cx="32.70" cy="368.90" r="8.40" fill="none" stroke="#5ae05a" stroke-width="1.3" opacity="0.75"/>
<circle cx="43.90" cy="367.80" r="9.10" fill="#383838" />
<circle cx="43.20" cy="367.10" r="8.00" fill="#a8a8a8" />
<circle cx="43.60" cy="367.50" r="7.10" fill="#999999" />
<circle cx="43.7" cy="363.8" r="1.0" fill="#8a8a8a"/><circle cx="46.3" cy="361.7" r="0.5" fill="#b4b4b4"/><circle cx="49.2" cy="369.9" r="0.5" fill="#8a8a8a"/><circle cx="42.3" cy="372.2" r="1.0" fill="#8a8a8a"/><circle cx="44.1" cy="362.4" r="0.5" fill="#808080"/><circle cx="42.9" cy="363.1" r="0.6" fill="#c0c0c0"/><circle cx="39.2" cy="367.4" r="1.0" fill="#b4b4b4"/><circle cx="46.7" cy="371.6" r="0.8" fill="#aaaaaa"/><circle cx="38.1" cy="370.8" r="1.1" fill="#b4b4b4"/><circle cx="43.9" cy="369.4" r="0.9" fill="#808080"/><circle cx="43.3" cy="362.3" r="1.0" fill="#c0c0c0"/><circle cx="44.1" cy="363.5" r="0.6" fill="#b4b4b4"/><circle cx="47.8" cy="371.8" r="0.7" fill="#808080"/><circle cx="49.9" cy="366.5" r="0.7" fill="#aaaaaa"/><circle cx="45.7" cy="369.1" r="0.8" fill="#c0c0c0"/><circle cx="48.4" cy="369.1" r="0.5" fill="#b4b4b4"/><circle cx="40.0" cy="371.1" r="0.9" fill="#b4b4b4"/><circle cx="47.6" cy="366.0" r="1.0" fill="#c0c0c0"/><circle cx="46.9" cy="367.9" r="0.5" fill="#808080"/><circle cx="48.8" cy="364.7" r="0.6" fill="#808080"/>
<circle cx="63.00" cy="369.20" r="10.10" fill="#383838" />
<circle cx="62.30" cy="368.50" r="9.00" fill="#a8a8a8" />
<circle cx="62.70" cy="368.90" r="8.10" fill="#999999" />
<circle cx="64.7" cy="373.3" r="1.0" fill="#8a8a8a"/><circle cx="66.7" cy="366.8" r="0.6" fill="#8a8a8a"/><circle cx="58.3" cy="370.4" r="0.6" fill="#8a8a8a"/><circle cx="60.7" cy="367.0" r="0.9" fill="#b4b4b4"/><circle cx="59.5" cy="372.9" r="1.0" fill="#aaaaaa"/><circle cx="58.3" cy="371.3" r="0.6" fill="#aaaaaa"/><circle cx="61.6" cy="363.2" r="0.5" fill="#808080"/><circle cx="67.3" cy="370.9" r="0.8" fill="#808080"/><circle cx="59.2" cy="362.6" r="0.6" fill="#8a8a8a"/><circle cx="62.4" cy="362.4" r="0.9" fill="#b4b4b4"/><circle cx="66.0" cy="369.5" r="1.0" fill="#808080"/><circle cx="64.7" cy="371.7" r="1.0" fill="#808080"/><circle cx="66.1" cy="365.6" r="1.0" fill="#808080"/><circle cx="60.4" cy="368.1" r="0.7" fill="#8a8a8a"/><circle cx="62.2" cy="374.6" r="0.6" fill="#808080"/><circle cx="60.6" cy="367.5" r="1.0" fill="#aaaaaa"/><circle cx="69.3" cy="367.1" r="1.1" fill="#808080"/><circle cx="57.4" cy="370.9" r="0.9" fill="#b4b4b4"/><circle cx="59.4" cy="368.1" r="1.0" fill="#808080"/><circle cx="55.4" cy="369.8" r="1.1" fill="#c0c0c0"/><circle cx="67.7" cy="373.7" r="0.9" fill="#808080"/><circle cx="57.8" cy="371.2" r="0.9" fill="#aaaaaa"/><circle cx="60.7" cy="365.8" r="1.0" fill="#aaaaaa"/>
<circle cx="93.00" cy="376.00" r="10.10" fill="#383838" />
<circle cx="92.30" cy="375.30" r="9.00" fill="#a8a8a8" />
<circle cx="92.70" cy="375.70" r="8.10" fill="#999999" />
<circle cx="92.9" cy="368.4" r="1.0" fill="#8a8a8a"/><circle cx="87.0" cy="375.8" r="1.1" fill="#b4b4b4"/><circle cx="98.7" cy="372.7" r="1.0" fill="#8a8a8a"/><circle cx="93.7" cy="370.3" r="0.8" fill="#c0c0c0"/><circle cx="91.3" cy="376.7" r="0.7" fill="#aaaaaa"/><circle cx="90.1" cy="374.9" r="1.1" fill="#8a8a8a"/><circle cx="92.3" cy="370.3" r="1.0" fill="#8a8a8a"/><circle cx="94.2" cy="370.6" r="0.5" fill="#808080"/><circle cx="96.4" cy="375.9" r="0.6" fill="#c0c0c0"/><circle cx="88.7" cy="375.8" r="0.6" fill="#8a8a8a"/><circle cx="99.0" cy="375.5" r="0.6" fill="#c0c0c0"/><circle cx="94.4" cy="370.5" r="0.9" fill="#aaaaaa"/><circle cx="86.5" cy="376.5" r="0.6" fill="#c0c0c0"/><circle cx="89.7" cy="374.3" r="0.9" fill="#8a8a8a"/><circle cx="89.9" cy="381.2" r="0.5" fill="#c0c0c0"/><circle cx="96.7" cy="374.7" r="0.8" fill="#8a8a8a"/><circle cx="92.2" cy="379.6" r="0.9" fill="#8a8a8a"/><circle cx="95.1" cy="377.8" r="0.8" fill="#808080"/><circle cx="93.6" cy="378.8" r="0.5" fill="#c0c0c0"/><circle cx="87.6" cy="370.9" r="0.5" fill="#8a8a8a"/><circle cx="99.7" cy="373.8" r="0.8" fill="#808080"/><circle cx="97.6" cy="373.5" r="0.6" fill="#aaaaaa"/><circle cx="88.2" cy="380.3" r="0.9" fill="#8a8a8a"/>
<circle cx="79.30" cy="382.80" r="9.10" fill="#383838" />
<circle cx="78.60" cy="382.10" r="8.00" fill="#a8a8a8" />
<circle cx="79.00" cy="382.50" r="7.10" fill="#999999" />
<circle cx="81.2" cy="380.2" r="0.9" fill="#b4b4b4"/><circle cx="74.2" cy="382.7" r="0.9" fill="#aaaaaa"/><circle cx="76.5" cy="383.8" r="0.7" fill="#b4b4b4"/><circle cx="76.0" cy="386.0" r="0.6" fill="#808080"/><circle cx="79.4" cy="376.5" r="0.7" fill="#c0c0c0"/><circle cx="76.1" cy="384.8" r="0.5" fill="#b4b4b4"/><circle cx="77.9" cy="384.7" r="1.0" fill="#8a8a8a"/><circle cx="76.5" cy="380.7" r="0.9" fill="#c0c0c0"/><circle cx="76.5" cy="385.3" r="0.6" fill="#8a8a8a"/><circle cx="83.9" cy="386.7" r="0.6" fill="#b4b4b4"/><circle cx="74.3" cy="385.8" r="1.0" fill="#8a8a8a"/><circle cx="74.8" cy="377.6" r="0.9" fill="#c0c0c0"/><circle cx="74.9" cy="380.1" r="0.9" fill="#b4b4b4"/><circle cx="82.7" cy="381.3" r="1.0" fill="#c0c0c0"/><circle cx="78.8" cy="383.0" r="0.5" fill="#c0c0c0"/><circle cx="78.7" cy="384.2" r="0.7" fill="#808080"/><circle cx="73.1" cy="382.4" r="1.0" fill="#b4b4b4"/><circle cx="74.1" cy="381.4" r="0.6" fill="#8a8a8a"/><circle cx="82.4" cy="377.8" r="0.7" fill="#b4b4b4"/><circle cx="80.7" cy="386.7" r="1.0" fill="#808080"/>
<circle cx="63.00" cy="386.90" r="10.10" fill="#383838" />
<circle cx="62.30" cy="386.20" r="9.00" fill="#a8a8a8" />
<circle cx="62.70" cy="386.60" r="8.10" fill="#999999" />
<circle cx="62.0" cy="391.1" r="0.7" fill="#aaaaaa"/><circle cx="58.2" cy="391.7" r="0.9" fill="#808080"/><circle cx="58.8" cy="385.8" r="0.9" fill="#8a8a8a"/><circle cx="56.4" cy="390.5" r="0.9" fill="#b4b4b4"/><circle cx="59.2" cy="392.2" r="0.8" fill="#8a8a8a"/><circle cx="64.7" cy="385.5" r="0.7" fill="#c0c0c0"/><circle cx="62.2" cy="393.5" r="1.0" fill="#8a8a8a"/><circle cx="64.5" cy="382.0" r="0.6" fill="#b4b4b4"/><circle cx="64.9" cy="385.5" r="1.0" fill="#808080"/><circle cx="70.0" cy="385.7" r="0.8" fill="#b4b4b4"/><circle cx="67.2" cy="390.6" r="1.1" fill="#808080"/><circle cx="64.1" cy="384.0" r="0.7" fill="#808080"/><circle cx="65.9" cy="384.3" r="0.9" fill="#b4b4b4"/><circle cx="62.2" cy="392.2" r="0.9" fill="#aaaaaa"/><circle cx="60.3" cy="387.4" r="0.6" fill="#808080"/><circle cx="62.2" cy="393.5" r="0.5" fill="#8a8a8a"/><circle cx="63.2" cy="388.0" r="0.9" fill="#8a8a8a"/><circle cx="57.2" cy="384.4" r="0.8" fill="#b4b4b4"/><circle cx="60.9" cy="384.2" r="1.0" fill="#b4b4b4"/><circle cx="67.9" cy="389.5" r="1.1" fill="#8a8a8a"/><circle cx="65.4" cy="386.5" r="0.6" fill="#8a8a8a"/><circle cx="69.0" cy="387.7" r="1.0" fill="#c0c0c0"/><circle cx="65.5" cy="384.4" r="0.5" fill="#808080"/>
<circle cx="106.60" cy="384.20" r="9.10" fill="#383838" />
<circle cx="105.90" cy="383.50" r="8.00" fill="#a8a8a8" />
<circle cx="106.30" cy="383.90" r="7.10" fill="#999999" />
<circle cx="108.3" cy="384.9" r="0.5" fill="#aaaaaa"/><circle cx="105.5" cy="383.7" r="0.9" fill="#c0c0c0"/><circle cx="109.6" cy="381.6" r="1.0" fill="#c0c0c0"/><circle cx="111.3" cy="386.8" r="0.8" fill="#c0c0c0"/><circle cx="104.0" cy="385.0" r="0.8" fill="#aaaaaa"/><circle cx="100.7" cy="384.1" r="0.5" fill="#aaaaaa"/><circle cx="110.4" cy="381.3" r="0.6" fill="#aaaaaa"/><circle cx="105.4" cy="390.2" r="0.9" fill="#aaaaaa"/><circle cx="107.8" cy="383.0" r="1.0" fill="#808080"/><circle cx="107.4" cy="385.4" r="0.8" fill="#b4b4b4"/><circle cx="107.3" cy="389.6" r="0.8" fill="#c0c0c0"/><circle cx="103.9" cy="382.2" r="0.9" fill="#aaaaaa"/><circle cx="100.3" cy="384.4" r="0.6" fill="#b4b4b4"/><circle cx="111.5" cy="381.8" r="0.9" fill="#aaaaaa"/><circle cx="104.9" cy="384.3" r="0.9" fill="#808080"/><circle cx="102.5" cy="384.8" r="0.8" fill="#aaaaaa"/><circle cx="102.6" cy="388.4" r="1.0" fill="#808080"/><circle cx="104.3" cy="385.5" r="0.6" fill="#808080"/><circle cx="103.6" cy="380.5" r="0.8" fill="#b4b4b4"/><circle cx="106.7" cy="380.0" r="0.5" fill="#c0c0c0"/>
<circle cx="43.90" cy="389.70" r="9.10" fill="#383838" />
<circle cx="43.20" cy="389.00" r="8.00" fill="#a8a8a8" />
<circle cx="43.60" cy="389.40" r="7.10" fill="#999999" />
<circle cx="38.6" cy="393.5" r="0.7" fill="#808080"/><circle cx="44.4" cy="390.5" r="0.9" fill="#808080"/><circle cx="41.4" cy="395.2" r="0.6" fill="#8a8a8a"/><circle cx="43.2" cy="392.3" r="0.6" fill="#8a8a8a"/><circle cx="43.1" cy="385.1" r="1.1" fill="#aaaaaa"/><circle cx="45.3" cy="384.1" r="0.9" fill="#b4b4b4"/><circle cx="44.7" cy="394.6" r="1.1" fill="#aaaaaa"/><circle cx="41.1" cy="394.8" r="0.5" fill="#b4b4b4"/><circle cx="37.4" cy="390.9" r="0.8" fill="#808080"/><circle cx="38.4" cy="390.0" r="0.7" fill="#aaaaaa"/><circle cx="44.0" cy="388.7" r="0.5" fill="#8a8a8a"/><circle cx="43.0" cy="392.6" r="1.1" fill="#c0c0c0"/><circle cx="47.7" cy="389.0" r="0.8" fill="#808080"/><circle cx="40.3" cy="390.3" r="0.8" fill="#808080"/><circle cx="44.1" cy="383.2" r="1.1" fill="#c0c0c0"/><circle cx="47.3" cy="385.7" r="0.8" fill="#8a8a8a"/><circle cx="46.7" cy="387.3" r="0.7" fill="#c0c0c0"/><circle cx="46.7" cy="391.8" r="0.6" fill="#8a8a8a"/><circle cx="48.0" cy="387.7" r="1.0" fill="#c0c0c0"/><circle cx="45.9" cy="388.7" r="0.8" fill="#808080"/>
<circle cx="27.60" cy="382.80" r="10.10" fill="#383838" />
<circle cx="26.90" cy="382.10" r="9.00" fill="#a8a8a8" />
<circle cx="27.30" cy="382.50" r="8.10" fill="#999999" />
<circle cx="28.3" cy="387.8" r="0.9" fill="#aaaaaa"/><circle cx="28.2" cy="389.8" r="0.7" fill="#aaaaaa"/><circle cx="27.9" cy="377.2" r="0.8" fill="#aaaaaa"/><circle cx="26.5" cy="386.4" r="0.8" fill="#aaaaaa"/><circle cx="28.2" cy="380.0" r="1.1" fill="#aaaaaa"/><circle cx="21.2" cy="380.9" r="0.7" fill="#b4b4b4"/><circle cx="24.6" cy="386.9" r="1.1" fill="#aaaaaa"/><circle cx="21.7" cy="377.7" r="0.7" fill="#aaaaaa"/><circle cx="24.1" cy="382.6" r="1.0" fill="#c0c0c0"/><circle cx="33.8" cy="384.2" r="0.5" fill="#c0c0c0"/><circle cx="24.0" cy="381.8" r="0.6" fill="#aaaaaa"/><circle cx="30.3" cy="381.1" r="1.0" fill="#aaaaaa"/><circle cx="23.8" cy="386.1" r="0.5" fill="#c0c0c0"/><circle cx="26.6" cy="379.7" r="0.9" fill="#aaaaaa"/><circle cx="23.1" cy="386.9" r="1.0" fill="#c0c0c0"/><circle cx="27.8" cy="375.6" r="0.7" fill="#808080"/><circle cx="29.9" cy="383.0" r="0.6" fill="#808080"/><circle cx="21.5" cy="379.1" r="1.0" fill="#808080"/><circle cx="31.5" cy="387.3" r="1.0" fill="#aaaaaa"/><circle cx="29.4" cy="381.9" r="0.8" fill="#808080"/><circle cx="25.9" cy="386.7" r="0.7" fill="#c0c0c0"/><circle cx="29.7" cy="376.7" r="0.7" fill="#aaaaaa"/><circle cx="26.2" cy="381.4" r="0.7" fill="#8a8a8a"/>
<circle cx="5.80" cy="370.60" r="8.10" fill="#383838" />
<circle cx="5.10" cy="369.90" r="7.00" fill="#a8a8a8" />
<circle cx="5.50" cy="370.30" r="6.10" fill="#999999" />
<circle cx="9.5" cy="368.0" r="1.0" fill="#b4b4b4"/><circle cx="8.5" cy="370.0" r="0.5" fill="#b4b4b4"/><circle cx="1.5" cy="373.7" r="1.0" fill="#aaaaaa"/><circle cx="8.2" cy="372.8" r="0.8" fill="#c0c0c0"/><circle cx="6.6" cy="371.7" r="0.5" fill="#8a8a8a"/><circle cx="2.5" cy="365.9" r="0.6" fill="#b4b4b4"/><circle cx="0.6" cy="372.3" r="1.0" fill="#aaaaaa"/><circle cx="5.3" cy="369.4" r="0.8" fill="#aaaaaa"/><circle cx="6.6" cy="372.2" r="1.0" fill="#aaaaaa"/><circle cx="4.2" cy="375.4" r="0.5" fill="#aaaaaa"/><circle cx="8.7" cy="369.7" r="0.6" fill="#aaaaaa"/><circle cx="3.1" cy="373.5" r="0.6" fill="#808080"/><circle cx="3.7" cy="368.2" r="0.5" fill="#b4b4b4"/><circle cx="2.3" cy="370.4" r="1.0" fill="#c0c0c0"/><circle cx="6.4" cy="365.8" r="0.7" fill="#808080"/><circle cx="7.1" cy="367.3" r="1.1" fill="#aaaaaa"/><circle cx="4.2" cy="367.1" r="1.0" fill="#aaaaaa"/><circle cx="9.6" cy="369.2" r="1.0" fill="#808080"/>
<circle cx="121.60" cy="388.30" r="8.10" fill="#383838" />
<circle cx="120.90" cy="387.60" r="7.00" fill="#a8a8a8" />
<circle cx="121.30" cy="388.00" r="6.10" fill="#999999" />
<circle cx="122.7" cy="388.5" r="0.8" fill="#8a8a8a"/><circle cx="116.2" cy="386.2" r="0.9" fill="#b4b4b4"/><circle cx="118.5" cy="389.8" r="0.6" fill="#aaaaaa"/><circle cx="125.1" cy="386.9" r="0.9" fill="#aaaaaa"/><circle cx="117.0" cy="386.4" r="0.9" fill="#b4b4b4"/><circle cx="120.2" cy="385.7" r="0.5" fill="#b4b4b4"/><circle cx="118.5" cy="391.2" r="0.5" fill="#aaaaaa"/><circle cx="119.0" cy="383.6" r="0.8" fill="#b4b4b4"/><circle cx="121.0" cy="388.2" r="0.6" fill="#c0c0c0"/><circle cx="120.6" cy="390.6" r="0.6" fill="#aaaaaa"/><circle cx="125.3" cy="384.6" r="0.7" fill="#8a8a8a"/><circle cx="118.6" cy="384.6" r="0.7" fill="#aaaaaa"/><circle cx="120.6" cy="388.3" r="0.7" fill="#b4b4b4"/><circle cx="118.4" cy="391.6" r="0.7" fill="#8a8a8a"/><circle cx="119.8" cy="384.1" r="1.1" fill="#808080"/><circle cx="120.0" cy="384.2" r="0.9" fill="#808080"/><circle cx="120.9" cy="390.4" r="0.8" fill="#c0c0c0"/><circle cx="121.8" cy="387.4" r="0.6" fill="#b4b4b4"/>
<circle cx="110.70" cy="245.20" r="9.10" fill="#383838" />
<circle cx="110.00" cy="244.50" r="8.00" fill="#a8a8a8" />
<circle cx="110.40" cy="244.90" r="7.10" fill="#999999" />
<circle cx="108.9" cy="242.4" r="0.6" fill="#808080"/><circle cx="113.6" cy="239.3" r="1.1" fill="#b4b4b4"/><circle cx="115.4" cy="247.8" r="0.8" fill="#aaaaaa"/><circle cx="108.5" cy="242.7" r="1.0" fill="#aaaaaa"/><circle cx="108.3" cy="242.2" r="1.1" fill="#b4b4b4"/><circle cx="105.7" cy="246.3" r="1.0" fill="#b4b4b4"/><circle cx="112.8" cy="240.4" r="0.8" fill="#8a8a8a"/><circle cx="105.5" cy="249.0" r="0.7" fill="#8a8a8a"/><circle cx="111.7" cy="241.1" r="0.8" fill="#aaaaaa"/><circle cx="107.7" cy="239.7" r="0.6" fill="#8a8a8a"/><circle cx="105.1" cy="244.3" r="1.0" fill="#c0c0c0"/><circle cx="116.0" cy="247.6" r="0.7" fill="#8a8a8a"/><circle cx="108.2" cy="250.9" r="0.9" fill="#aaaaaa"/><circle cx="114.2" cy="244.1" r="0.6" fill="#b4b4b4"/><circle cx="106.4" cy="242.4" r="0.9" fill="#c0c0c0"/><circle cx="111.1" cy="247.8" r="1.1" fill="#8a8a8a"/><circle cx="112.0" cy="249.6" r="0.9" fill="#808080"/><circle cx="108.8" cy="240.9" r="1.0" fill="#b4b4b4"/><circle cx="111.1" cy="249.7" r="0.9" fill="#808080"/><circle cx="108.7" cy="239.2" r="0.5" fill="#c0c0c0"/>
<circle cx="20.30" cy="395.30" r="9.10" fill="#383838" />
<circle cx="19.60" cy="394.60" r="8.00" fill="#a8a8a8" />
<circle cx="20.00" cy="395.00" r="7.10" fill="#999999" />
<circle cx="15.3" cy="398.3" r="0.6" fill="#c0c0c0"/><circle cx="21.3" cy="389.7" r="1.0" fill="#c0c0c0"/><circle cx="23.9" cy="398.6" r="1.0" fill="#b4b4b4"/><circle cx="25.6" cy="396.2" r="0.8" fill="#808080"/><circle cx="23.1" cy="398.1" r="0.6" fill="#8a8a8a"/><circle cx="20.2" cy="394.2" r="0.9" fill="#aaaaaa"/><circle cx="19.9" cy="391.8" r="0.7" fill="#8a8a8a"/><circle cx="24.7" cy="394.0" r="0.9" fill="#c0c0c0"/><circle cx="20.5" cy="397.7" r="1.0" fill="#c0c0c0"/><circle cx="23.3" cy="394.8" r="0.8" fill="#808080"/><circle cx="22.6" cy="392.2" r="1.1" fill="#808080"/><circle cx="18.1" cy="393.1" r="0.6" fill="#aaaaaa"/><circle cx="17.5" cy="389.9" r="0.7" fill="#808080"/><circle cx="23.8" cy="393.5" r="0.7" fill="#8a8a8a"/><circle cx="21.3" cy="388.7" r="1.0" fill="#aaaaaa"/><circle cx="16.5" cy="391.2" r="0.7" fill="#808080"/><circle cx="20.7" cy="395.5" r="0.7" fill="#c0c0c0"/><circle cx="20.8" cy="389.3" r="1.0" fill="#c0c0c0"/><circle cx="15.4" cy="398.2" r="0.7" fill="#aaaaaa"/><circle cx="24.5" cy="397.5" r="0.5" fill="#aaaaaa"/>
<circle cx="88.30" cy="398.30" r="8.10" fill="#383838" />
<circle cx="87.60" cy="397.60" r="7.00" fill="#a8a8a8" />
<circle cx="88.00" cy="398.00" r="6.10" fill="#999999" />
<circle cx="84.0" cy="395.5" r="0.5" fill="#c0c0c0"/><circle cx="84.8" cy="397.8" r="1.0" fill="#c0c0c0"/><circle cx="85.3" cy="398.4" r="0.9" fill="#808080"/><circle cx="89.1" cy="395.7" r="0.7" fill="#8a8a8a"/><circle cx="89.4" cy="397.5" r="0.8" fill="#8a8a8a"/><circle cx="83.2" cy="397.1" r="1.1" fill="#aaaaaa"/><circle cx="91.7" cy="398.3" r="0.6" fill="#c0c0c0"/><circle cx="85.7" cy="398.9" r="0.7" fill="#808080"/><circle cx="88.9" cy="397.0" r="0.6" fill="#8a8a8a"/><circle cx="90.2" cy="397.1" r="0.6" fill="#b4b4b4"/><circle cx="88.2" cy="401.8" r="0.8" fill="#aaaaaa"/><circle cx="87.9" cy="394.1" r="0.8" fill="#b4b4b4"/><circle cx="92.2" cy="397.0" r="0.9" fill="#8a8a8a"/><circle cx="90.3" cy="396.0" r="0.8" fill="#808080"/><circle cx="90.0" cy="401.1" r="1.1" fill="#8a8a8a"/><circle cx="85.1" cy="395.9" r="0.7" fill="#c0c0c0"/><circle cx="88.2" cy="396.2" r="0.8" fill="#8a8a8a"/><circle cx="90.3" cy="394.5" r="1.1" fill="#808080"/>
<circle cx="115.30" cy="400.30" r="8.10" fill="#383838" />
<circle cx="114.60" cy="399.60" r="7.00" fill="#a8a8a8" />
<circle cx="115.00" cy="400.00" r="6.10" fill="#999999" />
<circle cx="112.7" cy="405.0" r="0.5" fill="#b4b4b4"/><circle cx="118.2" cy="400.2" r="0.6" fill="#8a8a8a"/><circle cx="113.3" cy="398.0" r="0.7" fill="#c0c0c0"/><circle cx="116.3" cy="404.4" r="0.8" fill="#c0c0c0"/><circle cx="112.5" cy="404.0" r="1.0" fill="#b4b4b4"/><circle cx="110.7" cy="397.2" r="0.6" fill="#aaaaaa"/><circle cx="119.1" cy="397.2" r="1.1" fill="#aaaaaa"/><circle cx="119.8" cy="399.6" r="0.8" fill="#aaaaaa"/><circle cx="118.1" cy="401.5" r="0.9" fill="#b4b4b4"/><circle cx="117.2" cy="401.3" r="0.6" fill="#8a8a8a"/><circle cx="119.8" cy="400.6" r="0.9" fill="#8a8a8a"/><circle cx="117.8" cy="404.6" r="0.6" fill="#b4b4b4"/><circle cx="113.2" cy="395.8" r="0.9" fill="#8a8a8a"/><circle cx="111.6" cy="398.4" r="1.0" fill="#b4b4b4"/><circle cx="114.1" cy="403.4" r="0.8" fill="#b4b4b4"/><circle cx="110.1" cy="400.5" r="0.7" fill="#aaaaaa"/><circle cx="117.1" cy="399.0" r="0.7" fill="#c0c0c0"/><circle cx="115.5" cy="404.0" r="0.9" fill="#aaaaaa"/>
<circle cx="5.30" cy="330.30" r="7.10" fill="#383838" />
<circle cx="4.60" cy="329.60" r="6.00" fill="#a8a8a8" />
<circle cx="5.00" cy="330.00" r="5.10" fill="#999999" />
<circle cx="2.0" cy="331.6" r="0.7" fill="#8a8a8a"/><circle cx="6.4" cy="329.2" r="0.9" fill="#8a8a8a"/><circle cx="5.1" cy="332.4" r="1.1" fill="#808080"/><circle cx="5.3" cy="330.8" r="0.5" fill="#c0c0c0"/><circle cx="3.4" cy="328.4" r="0.6" fill="#aaaaaa"/><circle cx="2.0" cy="330.3" r="0.6" fill="#808080"/><circle cx="3.7" cy="329.6" r="0.8" fill="#808080"/><circle cx="4.4" cy="327.5" r="0.5" fill="#b4b4b4"/><circle cx="5.6" cy="328.3" r="0.7" fill="#8a8a8a"/><circle cx="6.0" cy="325.9" r="0.5" fill="#808080"/><circle cx="8.9" cy="330.4" r="1.0" fill="#808080"/><circle cx="2.4" cy="330.3" r="0.7" fill="#8a8a8a"/><circle cx="1.8" cy="328.3" r="1.0" fill="#b4b4b4"/><circle cx="4.6" cy="329.3" r="0.7" fill="#8a8a8a"/><circle cx="8.2" cy="332.0" r="1.0" fill="#b4b4b4"/>
<circle cx="70.30" cy="335.30" r="7.10" fill="#383838" />
<circle cx="69.60" cy="334.60" r="6.00" fill="#a8a8a8" />
<circle cx="70.00" cy="335.00" r="5.10" fill="#999999" />
<circle cx="67.8" cy="334.2" r="0.7" fill="#808080"/><circle cx="70.1" cy="334.8" r="0.5" fill="#b4b4b4"/><circle cx="66.8" cy="338.1" r="0.5" fill="#808080"/><circle cx="68.7" cy="335.3" r="0.8" fill="#c0c0c0"/><circle cx="71.9" cy="331.8" r="0.9" fill="#aaaaaa"/><circle cx="68.5" cy="333.1" r="0.9" fill="#b4b4b4"/><circle cx="70.3" cy="336.2" r="0.6" fill="#808080"/><circle cx="66.0" cy="333.5" r="1.1" fill="#b4b4b4"/><circle cx="71.2" cy="332.8" r="0.7" fill="#c0c0c0"/><circle cx="70.0" cy="335.4" r="0.9" fill="#b4b4b4"/><circle cx="70.5" cy="337.5" r="0.7" fill="#8a8a8a"/><circle cx="72.3" cy="331.2" r="0.9" fill="#8a8a8a"/><circle cx="71.0" cy="332.2" r="0.9" fill="#808080"/><circle cx="71.9" cy="333.6" r="1.0" fill="#8a8a8a"/><circle cx="70.2" cy="336.7" r="0.9" fill="#808080"/>
<circle cx="125.30" cy="345.30" r="7.10" fill="#383838" />
<circle cx="124.60" cy="344.60" r="6.00" fill="#a8a8a8" />
<circle cx="125.00" cy="345.00" r="5.10" fill="#999999" />
<circle cx="126.2" cy="349.3" r="0.8" fill="#b4b4b4"/><circle cx="121.2" cy="345.0" r="0.6" fill="#8a8a8a"/><circle cx="128.5" cy="345.8" r="0.9" fill="#c0c0c0"/><circle cx="128.0" cy="342.5" r="1.1" fill="#c0c0c0"/><circle cx="122.3" cy="348.1" r="1.0" fill="#8a8a8a"/><circle cx="123.2" cy="341.4" r="0.9" fill="#808080"/><circle cx="121.3" cy="344.0" r="0.9" fill="#aaaaaa"/><circle cx="122.2" cy="347.9" r="0.6" fill="#b4b4b4"/><circle cx="127.7" cy="347.2" r="0.5" fill="#aaaaaa"/><circle cx="122.7" cy="344.7" r="0.8" fill="#aaaaaa"/><circle cx="125.2" cy="342.0" r="0.8" fill="#c0c0c0"/><circle cx="125.7" cy="347.6" r="0.6" fill="#8a8a8a"/><circle cx="124.1" cy="347.0" r="0.6" fill="#aaaaaa"/><circle cx="122.6" cy="343.6" r="0.6" fill="#808080"/><circle cx="125.8" cy="346.7" r="0.5" fill="#8a8a8a"/>
<circle cx="10.30" cy="290.30" r="6.10" fill="#383838" />
<circle cx="9.60" cy="289.60" r="5.00" fill="#a8a8a8" />
<circle cx="10.00" cy="290.00" r="4.10" fill="#999999" />
<circle cx="11.8" cy="288.6" r="0.6" fill="#aaaaaa"/><circle cx="12.1" cy="287.7" r="0.5" fill="#aaaaaa"/><circle cx="12.7" cy="287.7" r="0.6" fill="#8a8a8a"/><circle cx="10.0" cy="290.4" r="0.6" fill="#aaaaaa"/><circle cx="10.6" cy="289.2" r="0.9" fill="#c0c0c0"/><circle cx="7.4" cy="288.4" r="1.1" fill="#aaaaaa"/><circle cx="8.2" cy="287.6" r="0.5" fill="#8a8a8a"/><circle cx="10.3" cy="291.1" r="1.0" fill="#c0c0c0"/><circle cx="10.1" cy="286.9" r="0.9" fill="#aaaaaa"/><circle cx="11.5" cy="289.8" r="0.9" fill="#b4b4b4"/><circle cx="12.2" cy="290.0" r="0.5" fill="#8a8a8a"/><circle cx="7.2" cy="288.3" r="0.6" fill="#aaaaaa"/><circle cx="9.3" cy="289.1" r="0.5" fill="#808080"/>
<circle cx="62.30" cy="325.30" r="7.10" fill="#383838" />
<circle cx="61.60" cy="324.60" r="6.00" fill="#a8a8a8" />
<circle cx="62.00" cy="325.00" r="5.10" fill="#94aa94" />
<circle cx="62.9" cy="327.6" r="0.9" fill="#808080"/><circle cx="60.9" cy="329.0" r="0.9" fill="#c0c0c0"/><circle cx="65.0" cy="325.8" r="0.6" fill="#b4b4b4"/><circle cx="61.5" cy="321.7" r="1.1" fill="#c0c0c0"/><circle cx="62.5" cy="324.1" r="0.6" fill="#b4b4b4"/><circle cx="65.3" cy="322.4" r="0.5" fill="#aaaaaa"/><circle cx="59.3" cy="328.0" r="0.7" fill="#aaaaaa"/><circle cx="61.7" cy="321.9" r="1.1" fill="#8a8a8a"/><circle cx="64.5" cy="327.5" r="0.9" fill="#8a8a8a"/><circle cx="59.8" cy="325.2" r="0.7" fill="#8a8a8a"/><circle cx="64.6" cy="323.8" r="0.6" fill="#c0c0c0"/><circle cx="58.7" cy="326.3" r="0.8" fill="#b4b4b4"/><circle cx="61.8" cy="324.0" r="0.8" fill="#aaaaaa"/><circle cx="65.2" cy="326.2" r="0.6" fill="#808080"/><circle cx="61.2" cy="326.4" r="0.9" fill="#b4b4b4"/>
<circle cx="62.00" cy="325.00" r="5.40" fill="none" stroke="#5ae05a" stroke-width="1.3" opacity="0.75"/>
<circle cx="28.30" cy="345.30" r="8.10" fill="#383838" />
<circle cx="27.60" cy="344.60" r="7.00" fill="#a8a8a8" />
<circle cx="28.00" cy="345.00" r="6.10" fill="#999999" />
<circle cx="30.8" cy="344.9" r="0.9" fill="#b4b4b4"/><circle cx="23.5" cy="344.1" r="0.6" fill="#c0c0c0"/><circle cx="28.8" cy="349.0" r="1.0" fill="#aaaaaa"/><circle cx="25.0" cy="348.3" r="0.8" fill="#aaaaaa"/><circle cx="24.6" cy="349.0" r="0.9" fill="#aaaaaa"/><circle cx="27.1" cy="346.6" r="0.6" fill="#c0c0c0"/><circle cx="25.5" cy="349.2" r="0.8" fill="#b4b4b4"/><circle cx="29.1" cy="349.6" r="1.0" fill="#c0c0c0"/><circle cx="30.5" cy="342.6" r="1.0" fill="#c0c0c0"/><circle cx="26.7" cy="345.0" r="1.1" fill="#808080"/><circle cx="24.9" cy="349.2" r="0.8" fill="#808080"/><circle cx="23.2" cy="343.5" r="0.9" fill="#c0c0c0"/><circle cx="31.8" cy="341.3" r="0.8" fill="#8a8a8a"/><circle cx="23.1" cy="347.0" r="0.9" fill="#b4b4b4"/><circle cx="27.4" cy="340.8" r="0.7" fill="#aaaaaa"/><circle cx="28.3" cy="347.6" r="1.0" fill="#aaaaaa"/><circle cx="24.7" cy="348.5" r="1.0" fill="#aaaaaa"/><circle cx="27.5" cy="345.7" r="0.6" fill="#b4b4b4"/>
<circle cx="55.30" cy="396.30" r="8.10" fill="#383838" />
<circle cx="54.60" cy="395.60" r="7.00" fill="#a8a8a8" />
<circle cx="55.00" cy="396.00" r="6.10" fill="#999999" />
<circle cx="51.1" cy="397.8" r="0.5" fill="#8a8a8a"/><circle cx="57.2" cy="392.3" r="0.8" fill="#8a8a8a"/><circle cx="55.7" cy="392.5" r="0.6" fill="#aaaaaa"/><circle cx="51.8" cy="391.8" r="0.5" fill="#aaaaaa"/><circle cx="55.2" cy="394.2" r="1.0" fill="#b4b4b4"/><circle cx="51.9" cy="392.0" r="0.8" fill="#b4b4b4"/><circle cx="55.6" cy="393.5" r="0.5" fill="#aaaaaa"/><circle cx="56.0" cy="397.6" r="0.6" fill="#c0c0c0"/><circle cx="50.4" cy="396.7" r="0.7" fill="#b4b4b4"/><circle cx="59.9" cy="394.2" r="0.5" fill="#aaaaaa"/><circle cx="54.9" cy="395.7" r="0.9" fill="#808080"/><circle cx="56.7" cy="398.9" r="1.0" fill="#aaaaaa"/><circle cx="57.7" cy="397.5" r="0.8" fill="#aaaaaa"/><circle cx="50.4" cy="397.9" r="1.0" fill="#808080"/><circle cx="52.6" cy="396.7" r="0.8" fill="#8a8a8a"/><circle cx="52.4" cy="399.2" r="0.9" fill="#808080"/><circle cx="50.2" cy="393.4" r="1.0" fill="#b4b4b4"/><circle cx="52.4" cy="394.9" r="1.0" fill="#c0c0c0"/>
<circle cx="100.30" cy="398.30" r="7.10" fill="#383838" />
<circle cx="99.60" cy="397.60" r="6.00" fill="#a8a8a8" />
<circle cx="100.00" cy="398.00" r="5.10" fill="#999999" />
<circle cx="99.4" cy="399.8" r="0.6" fill="#b4b4b4"/><circle cx="101.7" cy="396.4" r="0.7" fill="#aaaaaa"/><circle cx="98.9" cy="398.7" r="0.5" fill="#aaaaaa"/><circle cx="102.4" cy="398.9" r="0.7" fill="#808080"/><circle cx="99.4" cy="398.5" r="0.9" fill="#8a8a8a"/><circle cx="98.0" cy="397.2" r="0.5" fill="#c0c0c0"/><circle cx="101.0" cy="401.4" r="0.6" fill="#aaaaaa"/><circle cx="100.6" cy="402.1" r="1.1" fill="#b4b4b4"/><circle cx="100.9" cy="394.6" r="1.0" fill="#8a8a8a"/><circle cx="97.7" cy="399.3" r="1.0" fill="#c0c0c0"/><circle cx="96.7" cy="399.2" r="0.9" fill="#c0c0c0"/><circle cx="97.4" cy="397.8" r="0.7" fill="#c0c0c0"/><circle cx="96.1" cy="400.2" r="0.5" fill="#aaaaaa"/><circle cx="99.8" cy="400.9" r="0.8" fill="#c0c0c0"/><circle cx="100.1" cy="393.8" r="0.7" fill="#8a8a8a"/>
<circle cx="122.30" cy="255.30" r="8.10" fill="#383838" />
<circle cx="121.60" cy="254.60" r="7.00" fill="#a8a8a8" />
<circle cx="122.00" cy="255.00" r="6.10" fill="#999999" />
<circle cx="120.8" cy="255.4" r="0.9" fill="#808080"/><circle cx="117.7" cy="257.2" r="0.7" fill="#aaaaaa"/><circle cx="121.3" cy="256.5" r="0.7" fill="#c0c0c0"/><circle cx="124.5" cy="250.5" r="0.8" fill="#aaaaaa"/><circle cx="124.5" cy="250.1" r="1.0" fill="#808080"/><circle cx="124.5" cy="259.7" r="0.6" fill="#8a8a8a"/><circle cx="123.7" cy="256.9" r="0.9" fill="#b4b4b4"/><circle cx="121.0" cy="257.5" r="1.0" fill="#aaaaaa"/><circle cx="126.4" cy="257.7" r="0.5" fill="#808080"/><circle cx="122.7" cy="250.2" r="1.0" fill="#8a8a8a"/><circle cx="124.3" cy="254.4" r="0.8" fill="#808080"/><circle cx="119.5" cy="252.0" r="1.0" fill="#b4b4b4"/><circle cx="121.6" cy="259.9" r="0.9" fill="#c0c0c0"/><circle cx="118.7" cy="255.1" r="0.6" fill="#c0c0c0"/><circle cx="119.0" cy="255.6" r="0.7" fill="#aaaaaa"/><circle cx="124.6" cy="253.1" r="1.0" fill="#b4b4b4"/><circle cx="119.7" cy="254.0" r="0.7" fill="#808080"/><circle cx="122.0" cy="251.6" r="0.7" fill="#808080"/>
<circle cx="85.30" cy="236.30" r="7.10" fill="#383838" />
<circle cx="84.60" cy="235.60" r="6.00" fill="#a8a8a8" />
<circle cx="85.00" cy="236.00" r="5.10" fill="#999999" />
<circle cx="80.5" cy="236.5" r="0.9" fill="#8a8a8a"/><circle cx="84.8" cy="239.0" r="0.6" fill="#c0c0c0"/><circle cx="83.2" cy="237.5" r="0.9" fill="#aaaaaa"/><circle cx="83.4" cy="239.3" r="0.5" fill="#8a8a8a"/><circle cx="83.6" cy="239.9" r="0.6" fill="#808080"/><circle cx="86.6" cy="233.4" r="1.0" fill="#8a8a8a"/><circle cx="85.1" cy="231.8" r="0.7" fill="#808080"/><circle cx="84.8" cy="231.7" r="0.7" fill="#aaaaaa"/><circle cx="85.0" cy="234.6" r="0.7" fill="#c0c0c0"/><circle cx="82.5" cy="232.6" r="0.9" fill="#aaaaaa"/><circle cx="81.2" cy="235.5" r="0.7" fill="#b4b4b4"/><circle cx="82.0" cy="234.6" r="0.5" fill="#b4b4b4"/><circle cx="85.4" cy="240.2" r="0.5" fill="#c0c0c0"/><circle cx="87.0" cy="236.3" r="0.5" fill="#808080"/><circle cx="85.5" cy="238.8" r="0.7" fill="#aaaaaa"/>
<circle cx="34.00" cy="251.70" r="8.20" fill="#262626" />
<circle cx="34.60" cy="252.40" r="6.20" fill="#d8d8d8" />
<circle cx="33.50" cy="250.80" r="3.20" fill="#ffffff" />
<circle cx="36.00" cy="254.00" r="1.50" fill="#404040" />
<polyline points="4.00,236.00 9.00,250.00 15.00,263.00 19.00,272.00 24.00,282.00" fill="none" stroke="#3ee23e" stroke-width="2.4" stroke-linejoin="round" stroke-linecap="round" opacity="0.9"/>
<polyline points="2.00,278.00 15.00,279.00 28.00,283.00 38.00,288.00 48.00,296.00 56.00,303.00" fill="none" stroke="#3ee23e" stroke-width="3.2" stroke-linejoin="round" stroke-linecap="round" opacity="0.85"/>
<path d="M1.5,272 L20,275 L32,272 L44,276 L52,290 L56,302 L44,296 L30,292 L15,292 L1.5,290 Z" fill="#56d456" opacity="0.55" filter="url(#soft)"/>
<polyline points="18.00,280.00 30.00,276.00 42.00,271.00" fill="none" stroke="#3ee23e" stroke-width="4" stroke-linejoin="round" stroke-linecap="round" opacity="0.55"/>
<polyline points="50.00,260.00 60.00,257.00 72.00,255.00" fill="none" stroke="#3ee23e" stroke-width="2.0" stroke-linejoin="round" stroke-linecap="round" opacity="0.5"/>
</g>
<text x="8.70" y="251.50" font-size="16.5" fill="#fff" text-anchor="start" >c</text>
<text x="56.90" y="251.00" font-size="11.5" fill="#fff" text-anchor="start" >CMV control</text>
<text x="8.50" y="384.70" font-size="11.5" fill="#30e030" text-anchor="start" >ace.tub</text>
<text x="8.50" y="395.70" font-size="11.5" fill="#fff" text-anchor="start" >DIC</text>
<rect x="95.80" y="393.20" width="23.70" height="2.90" fill="#fff" />
<clipPath id="clc2"><rect x="132" y="235.8" width="125.5" height="166.7"/></clipPath>
<rect x="132" y="235.8" width="125.5" height="166.7" fill="#979797" stroke="#9a9a9a" stroke-width="1"/>
<g clip-path="url(#clc2)">
<radialGradient id="rgd"><stop offset="0" stop-color="#6e6e6e" stop-opacity="0.9"/><stop offset="1" stop-color="#6e6e6e" stop-opacity="0"/></radialGradient>
<radialGradient id="rgl"><stop offset="0" stop-color="#acacac" stop-opacity="0.9"/><stop offset="1" stop-color="#acacac" stop-opacity="0"/></radialGradient>
<ellipse cx="222" cy="272" rx="60" ry="50" fill="url(#rgd)"/>
<ellipse cx="138" cy="240" rx="50" ry="40" fill="url(#rgd)"/>
<ellipse cx="150" cy="335" rx="35" ry="70" fill="url(#rgl)"/>
<ellipse cx="175" cy="392" rx="55" ry="25" fill="url(#rgl)"/>
<polyline points="150.00,250.00 170.00,262.00 180.00,280.00" fill="none" stroke="#606060" stroke-width="0.7" stroke-linejoin="round" stroke-linecap="round" />
<polyline points="200.00,255.00 220.00,262.00 240.00,258.00" fill="none" stroke="#606060" stroke-width="0.7" stroke-linejoin="round" stroke-linecap="round" />
<polyline points="140.00,350.00 160.00,345.00 175.00,340.00" fill="none" stroke="#606060" stroke-width="0.7" stroke-linejoin="round" stroke-linecap="round" />
<polyline points="200.00,320.00 215.00,330.00 228.00,338.00" fill="none" stroke="#606060" stroke-width="0.7" stroke-linejoin="round" stroke-linecap="round" />
<polyline points="140.00,390.00 160.00,395.00 175.00,400.00" fill="none" stroke="#606060" stroke-width="0.7" stroke-linejoin="round" stroke-linecap="round" />
<circle cx="176.70" cy="249.40" r="7.50" fill="#3e3e3e" />
<circle cx="176.30" cy="249.00" r="6.50" fill="#a8a8a8" />
<circle cx="178.8" cy="246.1" r="0.8" fill="#b0b0b0"/><circle cx="174.8" cy="250.3" r="1.1" fill="#b0b0b0"/><circle cx="178.5" cy="253.5" r="0.6" fill="#8c8c8c"/><circle cx="174.9" cy="245.7" r="0.7" fill="#b0b0b0"/><circle cx="174.2" cy="253.1" r="0.7" fill="#b0b0b0"/><circle cx="177.5" cy="245.1" r="0.9" fill="#b0b0b0"/><circle cx="179.1" cy="246.1" r="1.0" fill="#8c8c8c"/>
<circle cx="146.80" cy="293.00" r="7.50" fill="#3e3e3e" />
<circle cx="146.40" cy="292.60" r="6.50" fill="#a07070" />
<circle cx="151.8" cy="292.1" r="0.5" fill="#8c8c8c"/><circle cx="144.6" cy="293.5" r="0.7" fill="#8c8c8c"/><circle cx="144.6" cy="290.4" r="0.9" fill="#8c8c8c"/><circle cx="142.4" cy="293.1" r="1.1" fill="#b0b0b0"/><circle cx="141.9" cy="293.9" r="0.5" fill="#8c8c8c"/><circle cx="147.6" cy="287.4" r="0.6" fill="#8c8c8c"/><circle cx="146.3" cy="291.8" r="0.7" fill="#b0b0b0"/>
<circle cx="214.90" cy="298.40" r="10.50" fill="#3e3e3e" />
<circle cx="214.50" cy="298.00" r="9.50" fill="#88b080" />
<circle cx="218.9" cy="301.2" r="0.7" fill="#8c8c8c"/><circle cx="215.8" cy="295.5" r="0.8" fill="#8c8c8c"/><circle cx="209.7" cy="300.4" r="1.0" fill="#8c8c8c"/><circle cx="213.8" cy="299.1" r="0.9" fill="#8c8c8c"/><circle cx="218.0" cy="303.0" r="0.9" fill="#8c8c8c"/><circle cx="210.2" cy="297.1" r="0.8" fill="#8c8c8c"/><circle cx="220.2" cy="302.2" r="0.9" fill="#8c8c8c"/><circle cx="220.6" cy="296.4" r="0.9" fill="#b0b0b0"/><circle cx="220.6" cy="294.0" r="0.8" fill="#8c8c8c"/><circle cx="211.1" cy="304.9" r="0.6" fill="#b0b0b0"/>
<circle cx="225.80" cy="299.80" r="9.50" fill="#3e3e3e" />
<circle cx="225.40" cy="299.40" r="8.50" fill="#a0a0a0" />
<circle cx="226.8" cy="299.5" r="1.1" fill="#b0b0b0"/><circle cx="220.8" cy="294.5" r="1.1" fill="#b0b0b0"/><circle cx="222.6" cy="305.2" r="0.5" fill="#8c8c8c"/><circle cx="222.8" cy="299.4" r="0.6" fill="#b0b0b0"/><circle cx="221.3" cy="299.2" r="1.1" fill="#8c8c8c"/><circle cx="228.6" cy="297.8" r="1.1" fill="#b0b0b0"/><circle cx="224.7" cy="303.4" r="0.6" fill="#8c8c8c"/><circle cx="228.8" cy="303.5" r="0.5" fill="#b0b0b0"/><circle cx="228.7" cy="297.4" r="0.6" fill="#b0b0b0"/>
<circle cx="247.60" cy="297.10" r="10.50" fill="#3e3e3e" />
<circle cx="247.20" cy="296.70" r="9.50" fill="#d85a5a" />
<circle cx="244.3" cy="296.1" r="0.9" fill="#8c8c8c"/><circle cx="251.6" cy="303.1" r="0.8" fill="#b0b0b0"/><circle cx="247.0" cy="293.8" r="0.9" fill="#8c8c8c"/><circle cx="241.9" cy="292.1" r="1.1" fill="#8c8c8c"/><circle cx="255.5" cy="295.9" r="0.9" fill="#8c8c8c"/><circle cx="254.4" cy="300.8" r="0.8" fill="#8c8c8c"/><circle cx="246.0" cy="298.0" r="0.9" fill="#8c8c8c"/><circle cx="251.2" cy="301.4" r="1.0" fill="#8c8c8c"/><circle cx="254.0" cy="299.4" r="0.7" fill="#b0b0b0"/><circle cx="251.6" cy="298.0" r="0.8" fill="#b0b0b0"/>
<circle cx="247.60" cy="313.40" r="8.50" fill="#3e3e3e" />
<circle cx="247.20" cy="313.00" r="7.50" fill="#d86060" />
<circle cx="242.2" cy="312.1" r="1.0" fill="#8c8c8c"/><circle cx="243.9" cy="315.1" r="0.8" fill="#8c8c8c"/><circle cx="251.5" cy="315.8" r="0.6" fill="#8c8c8c"/><circle cx="249.7" cy="315.4" r="1.0" fill="#8c8c8c"/><circle cx="243.8" cy="313.4" r="0.7" fill="#8c8c8c"/><circle cx="248.1" cy="311.8" r="0.5" fill="#8c8c8c"/><circle cx="245.2" cy="316.5" r="0.7" fill="#8c8c8c"/><circle cx="242.8" cy="316.9" r="0.5" fill="#8c8c8c"/>
<circle cx="242.10" cy="327.10" r="8.50" fill="#3e3e3e" />
<circle cx="241.70" cy="326.70" r="7.50" fill="#cc5a5a" />
<circle cx="244.4" cy="328.6" r="0.5" fill="#8c8c8c"/><circle cx="241.3" cy="330.2" r="1.0" fill="#8c8c8c"/><circle cx="237.8" cy="331.7" r="0.8" fill="#8c8c8c"/><circle cx="237.1" cy="326.7" r="1.1" fill="#8c8c8c"/><circle cx="247.6" cy="326.2" r="0.7" fill="#8c8c8c"/><circle cx="243.4" cy="325.0" r="1.1" fill="#b0b0b0"/><circle cx="238.3" cy="329.1" r="0.7" fill="#b0b0b0"/><circle cx="239.9" cy="327.9" r="0.9" fill="#b0b0b0"/>
<circle cx="189.00" cy="343.40" r="9.50" fill="#3e3e3e" />
<circle cx="188.60" cy="343.00" r="8.50" fill="#a4b0a4" />
<circle cx="186.5" cy="337.6" r="0.9" fill="#8c8c8c"/><circle cx="188.7" cy="344.9" r="1.1" fill="#b0b0b0"/><circle cx="188.8" cy="344.8" r="1.0" fill="#8c8c8c"/><circle cx="184.1" cy="344.2" r="0.6" fill="#b0b0b0"/><circle cx="185.6" cy="346.1" r="1.0" fill="#b0b0b0"/><circle cx="185.7" cy="342.2" r="0.5" fill="#8c8c8c"/><circle cx="187.3" cy="339.7" r="0.7" fill="#8c8c8c"/><circle cx="184.4" cy="347.4" r="0.6" fill="#b0b0b0"/><circle cx="192.1" cy="343.8" r="1.0" fill="#b0b0b0"/>
<circle cx="231.20" cy="347.50" r="10.50" fill="#3e3e3e" />
<circle cx="230.80" cy="347.10" r="9.50" fill="#a0a0a0" />
<circle cx="226.2" cy="341.6" r="0.8" fill="#8c8c8c"/><circle cx="224.0" cy="347.1" r="0.5" fill="#b0b0b0"/><circle cx="233.5" cy="349.5" r="1.1" fill="#b0b0b0"/><circle cx="233.3" cy="352.0" r="0.7" fill="#b0b0b0"/><circle cx="233.2" cy="347.6" r="0.9" fill="#b0b0b0"/><circle cx="224.3" cy="343.4" r="0.6" fill="#b0b0b0"/><circle cx="237.4" cy="345.1" r="0.5" fill="#8c8c8c"/><circle cx="236.8" cy="343.1" r="0.9" fill="#b0b0b0"/><circle cx="233.4" cy="350.7" r="1.0" fill="#8c8c8c"/><circle cx="236.6" cy="350.6" r="0.7" fill="#8c8c8c"/>
<circle cx="220.40" cy="378.90" r="8.50" fill="#3e3e3e" />
<circle cx="220.00" cy="378.50" r="7.50" fill="#98a898" />
<circle cx="218.1" cy="376.3" r="0.7" fill="#b0b0b0"/><circle cx="217.3" cy="376.1" r="0.6" fill="#8c8c8c"/><circle cx="221.1" cy="378.5" r="0.6" fill="#b0b0b0"/><circle cx="221.2" cy="373.0" r="0.6" fill="#b0b0b0"/><circle cx="223.8" cy="376.2" r="0.5" fill="#8c8c8c"/><circle cx="219.5" cy="372.1" r="0.8" fill="#b0b0b0"/><circle cx="217.2" cy="375.3" r="0.9" fill="#8c8c8c"/><circle cx="218.1" cy="375.3" r="1.0" fill="#b0b0b0"/>
<circle cx="239.40" cy="376.10" r="10.50" fill="#3e3e3e" />
<circle cx="239.00" cy="375.70" r="9.50" fill="#9aa89a" />
<circle cx="237.1" cy="374.4" r="0.7" fill="#8c8c8c"/><circle cx="233.1" cy="372.4" r="1.0" fill="#8c8c8c"/><circle cx="232.0" cy="373.7" r="0.7" fill="#b0b0b0"/><circle cx="235.0" cy="382.4" r="0.6" fill="#b0b0b0"/><circle cx="230.9" cy="375.0" r="0.9" fill="#8c8c8c"/><circle cx="242.5" cy="370.2" r="0.9" fill="#b0b0b0"/><circle cx="240.7" cy="383.1" r="0.6" fill="#b0b0b0"/><circle cx="238.7" cy="371.4" r="0.9" fill="#8c8c8c"/><circle cx="245.6" cy="379.4" r="0.5" fill="#b0b0b0"/><circle cx="244.4" cy="377.1" r="0.9" fill="#8c8c8c"/>
<circle cx="234.00" cy="392.40" r="8.50" fill="#3e3e3e" />
<circle cx="233.60" cy="392.00" r="7.50" fill="#a0a8a0" />
<circle cx="233.4" cy="397.2" r="0.8" fill="#8c8c8c"/><circle cx="234.1" cy="391.0" r="1.0" fill="#8c8c8c"/><circle cx="234.0" cy="386.1" r="0.7" fill="#8c8c8c"/><circle cx="239.3" cy="392.9" r="0.5" fill="#8c8c8c"/><circle cx="237.9" cy="390.5" r="1.0" fill="#8c8c8c"/><circle cx="240.0" cy="391.5" r="0.8" fill="#8c8c8c"/><circle cx="227.4" cy="392.6" r="0.7" fill="#b0b0b0"/><circle cx="235.9" cy="390.4" r="1.0" fill="#8c8c8c"/>
<circle cx="247.60" cy="391.10" r="10.50" fill="#3e3e3e" />
<circle cx="247.20" cy="390.70" r="9.50" fill="#b07070" />
<circle cx="251.2" cy="391.7" r="0.6" fill="#8c8c8c"/><circle cx="248.6" cy="395.8" r="0.7" fill="#b0b0b0"/><circle cx="250.8" cy="388.9" r="0.5" fill="#b0b0b0"/><circle cx="241.3" cy="391.9" r="1.0" fill="#8c8c8c"/><circle cx="252.9" cy="386.6" r="0.5" fill="#8c8c8c"/><circle cx="248.8" cy="394.1" r="0.6" fill="#b0b0b0"/><circle cx="249.4" cy="389.1" r="0.5" fill="#b0b0b0"/><circle cx="247.0" cy="395.9" r="0.7" fill="#8c8c8c"/><circle cx="244.0" cy="398.3" r="0.8" fill="#b0b0b0"/><circle cx="247.0" cy="389.9" r="0.6" fill="#b0b0b0"/>
<circle cx="255.40" cy="330.40" r="6.50" fill="#3e3e3e" />
<circle cx="255.00" cy="330.00" r="5.50" fill="#a06a6a" />
<circle cx="253.5" cy="325.9" r="0.7" fill="#8c8c8c"/><circle cx="257.1" cy="327.7" r="0.7" fill="#8c8c8c"/><circle cx="255.2" cy="327.3" r="0.7" fill="#8c8c8c"/><circle cx="253.3" cy="332.2" r="0.8" fill="#8c8c8c"/><circle cx="258.9" cy="331.2" r="0.7" fill="#8c8c8c"/><circle cx="256.3" cy="330.2" r="0.8" fill="#8c8c8c"/>
<circle cx="184.50" cy="358.80" r="4.50" fill="#202020" />
<circle cx="184.50" cy="358.80" r="3.40" fill="#f0d0d0" />
<circle cx="184.50" cy="358.80" r="1.80" fill="#e04040" />
<polyline points="191.30,235.00 183.00,246.00 173.60,253.10 160.00,262.00 146.40,274.90 132.00,282.00" fill="none" stroke="#3ee83e" stroke-width="3.2" stroke-linejoin="round" stroke-linecap="round" opacity="0.9"/>
<polyline points="132.00,326.70 150.00,321.00 170.90,315.80 185.00,312.00 198.10,307.60 206.00,302.00 211.80,296.70 220.00,294.00" fill="none" stroke="#3ee83e" stroke-width="3.2" stroke-linejoin="round" stroke-linecap="round" opacity="0.9"/>
<polyline points="180.00,312.00 198.00,303.00 210.00,296.00" fill="none" stroke="#3ee83e" stroke-width="5.0" stroke-linejoin="round" stroke-linecap="round" opacity="0.9"/>
<polyline points="258.00,315.80 248.00,328.00 236.30,343.00 228.00,357.00 220.00,370.30 213.00,385.00 206.30,402.00" fill="none" stroke="#3ee83e" stroke-width="2.6" stroke-linejoin="round" stroke-linecap="round" opacity="0.9"/>
<polyline points="132.00,378.50 145.00,377.50 157.30,375.70 170.00,369.00 181.80,359.40" fill="none" stroke="#3ee83e" stroke-width="1.8" stroke-linejoin="round" stroke-linecap="round" opacity="0.9"/>
<polyline points="184.50,355.00 195.40,351.20 210.00,349.00 225.40,348.50 240.00,347.00 258.00,345.70" fill="none" stroke="#3ee83e" stroke-width="1.5" stroke-linejoin="round" stroke-linecap="round" opacity="0.9"/>
<polyline points="164.00,236.00 164.00,260.00 164.00,288.50 167.00,305.00 169.50,324.00 175.00,335.00 180.40,343.00" fill="none" stroke="#3ee83e" stroke-width="1.0" stroke-linejoin="round" stroke-linecap="round" opacity="0.9"/>
<polyline points="146.40,294.00 143.00,305.00 140.90,315.80 138.00,325.00" fill="none" stroke="#3ee83e" stroke-width="1.3" stroke-linejoin="round" stroke-linecap="round" opacity="0.9"/>
<polyline points="149.00,292.60 160.00,298.00 168.00,304.00 173.60,304.90" fill="none" stroke="#3ee83e" stroke-width="1.8" stroke-linejoin="round" stroke-linecap="round" opacity="0.9"/>
<polyline points="255.40,239.50 248.00,252.00 239.00,266.70 226.00,275.00 214.50,280.30 200.00,285.00 192.70,288.50" fill="none" stroke="#3ee83e" stroke-width="1.0" stroke-linejoin="round" stroke-linecap="round" opacity="0.9"/>
<polyline points="184.50,362.00 188.00,372.00 192.70,386.60 197.00,394.00 200.90,402.00" fill="none" stroke="#3ee83e" stroke-width="1.3" stroke-linejoin="round" stroke-linecap="round" opacity="0.9"/>
<circle cx="176.08" cy="386.47" r="0.66" fill="#e84848" opacity="0.85"/>
<circle cx="229.63" cy="319.38" r="0.83" fill="#e84848" opacity="0.85"/>
<circle cx="193.45" cy="396.84" r="1.06" fill="#e84848" opacity="0.85"/>
<circle cx="137.22" cy="314.61" r="1.05" fill="#e84848" opacity="0.85"/>
<circle cx="223.50" cy="276.29" r="1.06" fill="#e84848" opacity="0.85"/>
<circle cx="147.71" cy="375.65" r="1.02" fill="#e84848" opacity="0.85"/>
<circle cx="229.85" cy="270.16" r="1.15" fill="#e84848" opacity="0.85"/>
<circle cx="187.76" cy="337.21" r="0.95" fill="#e84848" opacity="0.85"/>
<circle cx="251.50" cy="261.46" r="0.61" fill="#e84848" opacity="0.85"/>
<circle cx="163.37" cy="381.23" r="0.61" fill="#e84848" opacity="0.85"/>
<circle cx="210.42" cy="246.83" r="0.80" fill="#e84848" opacity="0.85"/>
<circle cx="140.97" cy="354.64" r="0.71" fill="#e84848" opacity="0.85"/>
<circle cx="198.99" cy="365.13" r="1.14" fill="#e84848" opacity="0.85"/>
<circle cx="235.98" cy="331.56" r="1.11" fill="#e84848" opacity="0.85"/>
<circle cx="146.21" cy="375.69" r="0.86" fill="#e84848" opacity="0.85"/>
<circle cx="175.94" cy="340.03" r="0.93" fill="#e84848" opacity="0.85"/>
<circle cx="235.44" cy="317.36" r="0.62" fill="#e84848" opacity="0.85"/>
<circle cx="221.99" cy="247.30" r="0.74" fill="#e84848" opacity="0.85"/>
<circle cx="146.28" cy="378.52" r="0.96" fill="#e84848" opacity="0.85"/>
<circle cx="218.97" cy="295.53" r="0.80" fill="#e84848" opacity="0.85"/>
<circle cx="189.55" cy="301.93" r="1.17" fill="#e84848" opacity="0.85"/>
<circle cx="160.63" cy="363.28" r="0.97" fill="#e84848" opacity="0.85"/>
<circle cx="184.87" cy="274.70" r="0.65" fill="#e84848" opacity="0.85"/>
<circle cx="254.96" cy="291.28" r="0.81" fill="#e84848" opacity="0.85"/>
<circle cx="219.49" cy="315.19" r="0.64" fill="#e84848" opacity="0.85"/>
<circle cx="241.39" cy="296.70" r="1.02" fill="#e84848" opacity="0.85"/>
<circle cx="184.53" cy="322.24" r="1.11" fill="#e84848" opacity="0.85"/>
<circle cx="193.41" cy="280.03" r="1.14" fill="#e84848" opacity="0.85"/>
<circle cx="190.52" cy="330.14" r="1.13" fill="#e84848" opacity="0.85"/>
<circle cx="159.86" cy="396.23" r="0.69" fill="#e84848" opacity="0.85"/>
<circle cx="236.43" cy="303.59" r="0.92" fill="#e84848" opacity="0.85"/>
<circle cx="253.02" cy="252.47" r="0.65" fill="#e84848" opacity="0.85"/>
<circle cx="159.39" cy="299.80" r="0.85" fill="#e84848" opacity="0.85"/>
<circle cx="135.90" cy="259.72" r="0.96" fill="#e84848" opacity="0.85"/>
<circle cx="234.03" cy="308.91" r="0.73" fill="#e84848" opacity="0.85"/>
<circle cx="179.67" cy="273.00" r="0.62" fill="#e84848" opacity="0.85"/>
<circle cx="135.36" cy="272.71" r="1.16" fill="#e84848" opacity="0.85"/>
<circle cx="254.37" cy="270.55" r="0.94" fill="#e84848" opacity="0.85"/>
<circle cx="253.53" cy="283.86" r="1.06" fill="#e84848" opacity="0.85"/>
<circle cx="151.76" cy="346.96" r="1.14" fill="#e84848" opacity="0.85"/>
<circle cx="179.06" cy="396.72" r="1.08" fill="#e84848" opacity="0.85"/>
<circle cx="204.76" cy="278.68" r="0.61" fill="#e84848" opacity="0.85"/>
<circle cx="201.76" cy="242.83" r="1.04" fill="#e84848" opacity="0.85"/>
<circle cx="149.22" cy="287.84" r="1.09" fill="#e84848" opacity="0.85"/>
<circle cx="142.94" cy="367.97" r="0.87" fill="#e84848" opacity="0.85"/>
<circle cx="228.01" cy="316.57" r="0.67" fill="#e84848" opacity="0.85"/>
<circle cx="197.72" cy="390.70" r="0.60" fill="#e84848" opacity="0.85"/>
<circle cx="208.00" cy="297.60" r="0.79" fill="#e84848" opacity="0.85"/>
<circle cx="235.21" cy="365.84" r="0.82" fill="#e84848" opacity="0.85"/>
<circle cx="230.91" cy="388.89" r="0.84" fill="#e84848" opacity="0.85"/>
<circle cx="135.56" cy="304.36" r="0.77" fill="#e84848" opacity="0.85"/>
<circle cx="237.76" cy="376.15" r="1.18" fill="#e84848" opacity="0.85"/>
<circle cx="193.68" cy="383.98" r="0.61" fill="#e84848" opacity="0.85"/>
<circle cx="165.39" cy="375.51" r="0.76" fill="#e84848" opacity="0.85"/>
<circle cx="243.07" cy="329.14" r="0.89" fill="#e84848" opacity="0.85"/>
<circle cx="136.05" cy="400.48" r="0.64" fill="#e84848" opacity="0.85"/>
<circle cx="188.60" cy="333.71" r="1.06" fill="#e84848" opacity="0.85"/>
<circle cx="225.11" cy="362.13" r="0.86" fill="#e84848" opacity="0.85"/>
<circle cx="255.69" cy="302.83" r="0.97" fill="#e84848" opacity="0.85"/>
<circle cx="219.70" cy="333.76" r="1.12" fill="#e84848" opacity="0.85"/>
<circle cx="227.05" cy="316.00" r="0.88" fill="#e83838" opacity="0.85"/>
<circle cx="246.21" cy="311.09" r="1.08" fill="#e83838" opacity="0.85"/>
<circle cx="253.26" cy="314.22" r="1.45" fill="#e83838" opacity="0.85"/>
<circle cx="232.93" cy="309.60" r="1.03" fill="#e83838" opacity="0.85"/>
<circle cx="229.10" cy="286.07" r="1.42" fill="#e83838" opacity="0.85"/>
<circle cx="232.90" cy="305.19" r="0.95" fill="#e83838" opacity="0.85"/>
<circle cx="250.76" cy="295.31" r="1.50" fill="#e83838" opacity="0.85"/>
<circle cx="236.74" cy="301.69" r="1.45" fill="#e83838" opacity="0.85"/>
<circle cx="231.85" cy="308.87" r="0.98" fill="#e83838" opacity="0.85"/>
<circle cx="254.75" cy="292.54" r="1.29" fill="#e83838" opacity="0.85"/>
<circle cx="226.89" cy="295.35" r="0.86" fill="#e83838" opacity="0.85"/>
<circle cx="231.12" cy="317.98" r="1.43" fill="#e83838" opacity="0.85"/>
<circle cx="226.08" cy="317.55" r="0.80" fill="#e83838" opacity="0.85"/>
<circle cx="255.24" cy="299.93" r="0.86" fill="#e83838" opacity="0.85"/>
<circle cx="241.74" cy="322.87" r="1.25" fill="#e83838" opacity="0.85"/>
<circle cx="226.74" cy="316.68" r="1.01" fill="#e83838" opacity="0.85"/>
<circle cx="242.51" cy="303.06" r="1.23" fill="#e83838" opacity="0.85"/>
<circle cx="240.59" cy="297.18" r="1.16" fill="#e83838" opacity="0.85"/>
<circle cx="230.75" cy="296.27" r="1.19" fill="#e83838" opacity="0.85"/>
<circle cx="238.42" cy="288.29" r="0.93" fill="#e83838" opacity="0.85"/>
<circle cx="229.93" cy="311.17" r="0.90" fill="#e83838" opacity="0.85"/>
<circle cx="233.48" cy="302.61" r="0.88" fill="#e83838" opacity="0.85"/>
<circle cx="236.29" cy="324.43" r="1.32" fill="#e83838" opacity="0.85"/>
<circle cx="240.21" cy="288.27" r="1.00" fill="#e83838" opacity="0.85"/>
<circle cx="243.93" cy="300.61" r="0.82" fill="#e83838" opacity="0.85"/>
</g>
<text x="249.40" y="250.90" font-size="11.4" fill="#fff" text-anchor="end" >CMV-OC3</text>
<clipPath id="cld1"><rect x="298.3" y="235.8" width="125.69999999999999" height="166.7"/></clipPath>
<rect x="298.3" y="235.8" width="125.69999999999999" height="166.7" fill="#717171" stroke="#9a9a9a" stroke-width="1"/>
<g clip-path="url(#cld1)">
<polyline points="341.00,270.00 330.00,290.00 320.00,300.00 300.00,305.00" fill="none" stroke="#bcbcbc" stroke-width="1.4" stroke-linejoin="round" stroke-linecap="round" opacity="0.75"/>
<polyline points="341.90,270.90 330.90,290.90 320.90,300.90 300.90,305.90" fill="none" stroke="#4a4a4a" stroke-width="0.9" stroke-linejoin="round" stroke-linecap="round" opacity="0.7"/>
<polyline points="347.80,295.30 360.00,300.00 371.00,307.60" fill="none" stroke="#bcbcbc" stroke-width="1.4" stroke-linejoin="round" stroke-linecap="round" opacity="0.75"/>
<polyline points="348.70,296.20 360.90,300.90 371.90,308.50" fill="none" stroke="#4a4a4a" stroke-width="0.9" stroke-linejoin="round" stroke-linecap="round" opacity="0.7"/>
<polyline points="330.00,315.80 340.00,322.00 351.90,329.40" fill="none" stroke="#bcbcbc" stroke-width="1.4" stroke-linejoin="round" stroke-linecap="round" opacity="0.75"/>
<polyline points="330.90,316.70 340.90,322.90 352.80,330.30" fill="none" stroke="#4a4a4a" stroke-width="0.9" stroke-linejoin="round" stroke-linecap="round" opacity="0.7"/>
<polyline points="351.90,329.40 362.00,340.00 375.00,356.60" fill="none" stroke="#bcbcbc" stroke-width="1.4" stroke-linejoin="round" stroke-linecap="round" opacity="0.75"/>
<polyline points="352.80,330.30 362.90,340.90 375.90,357.50" fill="none" stroke="#4a4a4a" stroke-width="0.9" stroke-linejoin="round" stroke-linecap="round" opacity="0.7"/>
<polyline points="394.10,321.20 405.00,320.00 415.90,311.70" fill="none" stroke="#bcbcbc" stroke-width="1.4" stroke-linejoin="round" stroke-linecap="round" opacity="0.75"/>
<polyline points="395.00,322.10 405.90,320.90 416.80,312.60" fill="none" stroke="#4a4a4a" stroke-width="0.9" stroke-linejoin="round" stroke-linecap="round" opacity="0.7"/>
<polyline points="323.30,360.70 335.00,350.00 351.90,329.40" fill="none" stroke="#bcbcbc" stroke-width="1.4" stroke-linejoin="round" stroke-linecap="round" opacity="0.75"/>
<polyline points="324.20,361.60 335.90,350.90 352.80,330.30" fill="none" stroke="#4a4a4a" stroke-width="0.9" stroke-linejoin="round" stroke-linecap="round" opacity="0.7"/>
<polyline points="390.00,274.90 400.00,282.00 410.50,284.40" fill="none" stroke="#bcbcbc" stroke-width="1.4" stroke-linejoin="round" stroke-linecap="round" opacity="0.75"/>
<polyline points="390.90,275.80 400.90,282.90 411.40,285.30" fill="none" stroke="#4a4a4a" stroke-width="0.9" stroke-linejoin="round" stroke-linecap="round" opacity="0.7"/>
<polyline points="358.70,359.40 375.00,356.60" fill="none" stroke="#bcbcbc" stroke-width="1.4" stroke-linejoin="round" stroke-linecap="round" opacity="0.75"/>
<polyline points="359.60,360.30 375.90,357.50" fill="none" stroke="#4a4a4a" stroke-width="0.9" stroke-linejoin="round" stroke-linecap="round" opacity="0.7"/>
<polyline points="339.60,374.40 358.70,359.40" fill="none" stroke="#bcbcbc" stroke-width="1.4" stroke-linejoin="round" stroke-linecap="round" opacity="0.75"/>
<polyline points="340.50,375.30 359.60,360.30" fill="none" stroke="#4a4a4a" stroke-width="0.9" stroke-linejoin="round" stroke-linecap="round" opacity="0.7"/>
<polyline points="300.00,330.00 315.00,340.00 330.00,345.00" fill="none" stroke="#bcbcbc" stroke-width="1.4" stroke-linejoin="round" stroke-linecap="round" opacity="0.75"/>
<polyline points="300.90,330.90 315.90,340.90 330.90,345.90" fill="none" stroke="#4a4a4a" stroke-width="0.9" stroke-linejoin="round" stroke-linecap="round" opacity="0.7"/>
<polyline points="371.00,307.60 377.80,325.30" fill="none" stroke="#bcbcbc" stroke-width="1.4" stroke-linejoin="round" stroke-linecap="round" opacity="0.75"/>
<polyline points="371.90,308.50 378.70,326.20" fill="none" stroke="#4a4a4a" stroke-width="0.9" stroke-linejoin="round" stroke-linecap="round" opacity="0.7"/>
<polyline points="354.60,272.20 372.30,274.90" fill="none" stroke="#bcbcbc" stroke-width="1.4" stroke-linejoin="round" stroke-linecap="round" opacity="0.75"/>
<polyline points="355.50,273.10 373.20,275.80" fill="none" stroke="#4a4a4a" stroke-width="0.9" stroke-linejoin="round" stroke-linecap="round" opacity="0.7"/>
<polyline points="341.00,270.80 335.00,255.00 330.00,240.00" fill="none" stroke="#bcbcbc" stroke-width="1.4" stroke-linejoin="round" stroke-linecap="round" opacity="0.75"/>
<polyline points="341.90,271.70 335.90,255.90 330.90,240.90" fill="none" stroke="#4a4a4a" stroke-width="0.9" stroke-linejoin="round" stroke-linecap="round" opacity="0.7"/>
<polyline points="372.00,274.00 380.00,260.00 385.00,240.00" fill="none" stroke="#bcbcbc" stroke-width="1.4" stroke-linejoin="round" stroke-linecap="round" opacity="0.75"/>
<polyline points="372.90,274.90 380.90,260.90 385.90,240.90" fill="none" stroke="#4a4a4a" stroke-width="0.9" stroke-linejoin="round" stroke-linecap="round" opacity="0.7"/>
<polyline points="410.00,284.00 420.00,300.00" fill="none" stroke="#bcbcbc" stroke-width="1.4" stroke-linejoin="round" stroke-linecap="round" opacity="0.75"/>
<polyline points="410.90,284.90 420.90,300.90" fill="none" stroke="#4a4a4a" stroke-width="0.9" stroke-linejoin="round" stroke-linecap="round" opacity="0.7"/>
<polyline points="394.00,321.00 400.00,340.00 390.00,348.00" fill="none" stroke="#bcbcbc" stroke-width="1.4" stroke-linejoin="round" stroke-linecap="round" opacity="0.75"/>
<polyline points="394.90,321.90 400.90,340.90 390.90,348.90" fill="none" stroke="#4a4a4a" stroke-width="0.9" stroke-linejoin="round" stroke-linecap="round" opacity="0.7"/>
<polyline points="323.00,361.00 310.00,370.00 300.00,372.00" fill="none" stroke="#bcbcbc" stroke-width="1.4" stroke-linejoin="round" stroke-linecap="round" opacity="0.75"/>
<polyline points="323.90,361.90 310.90,370.90 300.90,372.90" fill="none" stroke="#4a4a4a" stroke-width="0.9" stroke-linejoin="round" stroke-linecap="round" opacity="0.7"/>
<polyline points="360.00,376.00 375.00,390.00 385.00,400.00" fill="none" stroke="#bcbcbc" stroke-width="1.4" stroke-linejoin="round" stroke-linecap="round" opacity="0.75"/>
<polyline points="360.90,376.90 375.90,390.90 385.90,400.90" fill="none" stroke="#4a4a4a" stroke-width="0.9" stroke-linejoin="round" stroke-linecap="round" opacity="0.7"/>
<polyline points="330.00,316.00 315.00,320.00 300.00,318.00" fill="none" stroke="#bcbcbc" stroke-width="1.4" stroke-linejoin="round" stroke-linecap="round" opacity="0.75"/>
<polyline points="330.90,316.90 315.90,320.90 300.90,318.90" fill="none" stroke="#4a4a4a" stroke-width="0.9" stroke-linejoin="round" stroke-linecap="round" opacity="0.7"/>
<circle cx="341.80" cy="271.60" r="10.26" fill="#4c4c4c" />
<circle cx="340.70" cy="270.50" r="9.36" fill="#b8b8b8" />
<circle cx="341.00" cy="270.80" r="8.36" fill="#5a5a5a" />
<circle cx="341.90" cy="271.70" r="5.38" fill="#666666" />
<circle cx="341.90" cy="271.70" r="5.38" fill="none" stroke="#4a4a4a" stroke-width="0.8"/>
<circle cx="335.4" cy="268.2" r="0.8" fill="#808080"/><circle cx="333.8" cy="271.8" r="0.7" fill="#4c4c4c"/><circle cx="348.3" cy="269.8" r="0.9" fill="#808080"/><circle cx="346.5" cy="269.6" r="0.6" fill="#767676"/><circle cx="339.6" cy="274.9" r="0.6" fill="#767676"/><circle cx="340.7" cy="263.6" r="0.7" fill="#808080"/><circle cx="346.2" cy="268.3" r="0.7" fill="#767676"/><circle cx="343.9" cy="267.5" r="0.8" fill="#4c4c4c"/><circle cx="343.0" cy="270.7" r="0.6" fill="#808080"/><circle cx="341.7" cy="265.3" r="0.6" fill="#808080"/><circle cx="336.8" cy="270.1" r="0.6" fill="#4c4c4c"/><circle cx="338.2" cy="264.1" r="0.6" fill="#767676"/><circle cx="343.2" cy="271.7" r="0.8" fill="#767676"/><circle cx="344.8" cy="272.2" r="0.5" fill="#4c4c4c"/><circle cx="338.9" cy="266.5" r="0.7" fill="#808080"/><circle cx="336.6" cy="268.0" r="0.8" fill="#545454"/><circle cx="345.9" cy="273.1" r="0.6" fill="#808080"/><circle cx="346.6" cy="275.5" r="0.4" fill="#545454"/><circle cx="339.8" cy="263.7" r="0.8" fill="#4c4c4c"/><circle cx="346.6" cy="267.2" r="0.6" fill="#767676"/><circle cx="346.6" cy="265.9" r="0.5" fill="#808080"/><circle cx="336.1" cy="273.4" r="0.5" fill="#545454"/>
<circle cx="355.40" cy="273.00" r="9.14" fill="#4c4c4c" />
<circle cx="354.30" cy="271.90" r="8.24" fill="#b8b8b8" />
<circle cx="354.60" cy="272.20" r="7.24" fill="#5a5a5a" />
<circle cx="355.38" cy="272.98" r="4.70" fill="#666666" />
<circle cx="355.38" cy="272.98" r="4.70" fill="none" stroke="#4a4a4a" stroke-width="0.8"/>
<circle cx="350.2" cy="275.9" r="0.6" fill="#808080"/><circle cx="357.8" cy="277.8" r="0.9" fill="#808080"/><circle cx="352.0" cy="269.7" r="0.7" fill="#808080"/><circle cx="356.7" cy="268.4" r="0.8" fill="#808080"/><circle cx="354.6" cy="267.1" r="0.7" fill="#767676"/><circle cx="354.9" cy="274.2" r="0.5" fill="#767676"/><circle cx="351.9" cy="270.9" r="0.5" fill="#767676"/><circle cx="359.6" cy="274.4" r="0.4" fill="#545454"/><circle cx="360.1" cy="272.0" r="0.4" fill="#4c4c4c"/><circle cx="349.2" cy="275.5" r="0.8" fill="#4c4c4c"/><circle cx="348.9" cy="273.8" r="0.7" fill="#4c4c4c"/><circle cx="355.4" cy="269.1" r="0.5" fill="#808080"/><circle cx="359.9" cy="275.5" r="0.6" fill="#808080"/><circle cx="360.3" cy="271.0" r="0.8" fill="#767676"/><circle cx="356.2" cy="267.8" r="0.5" fill="#808080"/><circle cx="353.5" cy="274.3" r="0.6" fill="#808080"/><circle cx="350.2" cy="276.0" r="0.5" fill="#767676"/><circle cx="348.6" cy="271.1" r="0.5" fill="#4c4c4c"/><circle cx="352.5" cy="273.4" r="0.8" fill="#545454"/>
<circle cx="373.10" cy="275.70" r="9.14" fill="#4c4c4c" />
<circle cx="372.00" cy="274.60" r="8.24" fill="#b8b8b8" />
<circle cx="372.30" cy="274.90" r="7.24" fill="#5a5a5a" />
<circle cx="373.08" cy="275.68" r="4.70" fill="#666666" />
<circle cx="373.08" cy="275.68" r="4.70" fill="none" stroke="#4a4a4a" stroke-width="0.8"/>
<circle cx="367.2" cy="276.2" r="0.5" fill="#767676"/><circle cx="374.8" cy="275.3" r="0.5" fill="#808080"/><circle cx="372.7" cy="280.1" r="0.8" fill="#545454"/><circle cx="368.4" cy="276.2" r="0.5" fill="#808080"/><circle cx="372.5" cy="276.2" r="0.5" fill="#767676"/><circle cx="371.0" cy="276.8" r="0.9" fill="#545454"/><circle cx="369.4" cy="280.1" r="0.4" fill="#4c4c4c"/><circle cx="371.2" cy="272.8" r="0.5" fill="#545454"/><circle cx="368.0" cy="271.1" r="0.8" fill="#545454"/><circle cx="373.4" cy="277.6" r="0.8" fill="#545454"/><circle cx="375.8" cy="270.5" r="0.5" fill="#545454"/><circle cx="376.7" cy="272.0" r="0.5" fill="#545454"/><circle cx="373.7" cy="270.7" r="0.6" fill="#767676"/><circle cx="369.3" cy="278.1" r="0.5" fill="#767676"/><circle cx="374.6" cy="276.6" r="0.6" fill="#4c4c4c"/><circle cx="373.5" cy="272.8" r="0.5" fill="#4c4c4c"/><circle cx="376.3" cy="273.5" r="0.5" fill="#767676"/><circle cx="373.5" cy="270.9" r="0.4" fill="#545454"/><circle cx="368.5" cy="278.3" r="0.8" fill="#545454"/>
<circle cx="390.80" cy="275.70" r="10.26" fill="#4c4c4c" />
<circle cx="389.70" cy="274.60" r="9.36" fill="#b8b8b8" />
<circle cx="390.00" cy="274.90" r="8.36" fill="#5a5a5a" />
<circle cx="390.90" cy="275.80" r="5.38" fill="#666666" />
<circle cx="390.90" cy="275.80" r="5.38" fill="none" stroke="#4a4a4a" stroke-width="0.8"/>
<circle cx="384.5" cy="275.1" r="0.6" fill="#545454"/><circle cx="388.9" cy="280.0" r="0.9" fill="#4c4c4c"/><circle cx="389.2" cy="275.4" r="0.5" fill="#545454"/><circle cx="387.7" cy="281.6" r="0.9" fill="#808080"/><circle cx="391.1" cy="271.7" r="0.6" fill="#4c4c4c"/><circle cx="389.9" cy="280.0" r="0.7" fill="#808080"/><circle cx="388.4" cy="277.1" r="0.4" fill="#808080"/><circle cx="390.3" cy="281.5" r="0.7" fill="#808080"/><circle cx="391.7" cy="271.3" r="0.4" fill="#767676"/><circle cx="392.3" cy="280.0" r="0.5" fill="#808080"/><circle cx="394.6" cy="276.8" r="0.6" fill="#767676"/><circle cx="384.9" cy="277.2" r="0.6" fill="#808080"/><circle cx="385.5" cy="281.0" r="0.7" fill="#545454"/><circle cx="389.5" cy="268.6" r="0.5" fill="#808080"/><circle cx="394.5" cy="277.3" r="0.6" fill="#4c4c4c"/><circle cx="387.8" cy="276.8" r="0.6" fill="#4c4c4c"/><circle cx="383.2" cy="276.3" r="0.6" fill="#808080"/><circle cx="388.5" cy="281.1" r="0.4" fill="#4c4c4c"/><circle cx="388.4" cy="273.8" r="0.7" fill="#808080"/><circle cx="391.2" cy="277.6" r="0.6" fill="#4c4c4c"/><circle cx="387.3" cy="276.6" r="0.7" fill="#808080"/><circle cx="385.7" cy="272.1" r="0.8" fill="#545454"/>
<circle cx="411.30" cy="285.20" r="11.38" fill="#4c4c4c" />
<circle cx="410.20" cy="284.10" r="10.48" fill="#b8b8b8" />
<circle cx="410.50" cy="284.40" r="9.48" fill="#5a5a5a" />
<circle cx="411.51" cy="285.41" r="6.05" fill="#666666" />
<circle cx="411.51" cy="285.41" r="6.05" fill="none" stroke="#4a4a4a" stroke-width="0.8"/>
<circle cx="410.6" cy="283.4" r="0.7" fill="#4c4c4c"/><circle cx="414.1" cy="289.9" r="0.5" fill="#808080"/><circle cx="403.0" cy="285.5" r="0.5" fill="#808080"/><circle cx="413.8" cy="290.8" r="0.4" fill="#767676"/><circle cx="410.1" cy="275.9" r="0.8" fill="#545454"/><circle cx="407.5" cy="283.6" r="0.6" fill="#4c4c4c"/><circle cx="408.8" cy="276.9" r="0.9" fill="#545454"/><circle cx="404.7" cy="289.8" r="0.6" fill="#545454"/><circle cx="416.6" cy="278.6" r="0.9" fill="#4c4c4c"/><circle cx="405.7" cy="284.5" r="0.7" fill="#808080"/><circle cx="410.1" cy="278.0" r="0.7" fill="#4c4c4c"/><circle cx="411.4" cy="287.6" r="0.5" fill="#4c4c4c"/><circle cx="413.7" cy="283.8" r="0.5" fill="#4c4c4c"/><circle cx="403.1" cy="282.2" r="0.6" fill="#808080"/><circle cx="410.1" cy="289.5" r="0.7" fill="#767676"/><circle cx="412.1" cy="289.4" r="0.7" fill="#4c4c4c"/><circle cx="410.9" cy="281.5" r="0.5" fill="#808080"/><circle cx="403.8" cy="288.6" r="0.8" fill="#767676"/><circle cx="417.0" cy="285.7" r="0.6" fill="#808080"/><circle cx="406.7" cy="288.0" r="0.7" fill="#808080"/><circle cx="408.4" cy="286.3" r="0.8" fill="#808080"/><circle cx="409.1" cy="284.0" r="0.7" fill="#4c4c4c"/><circle cx="405.2" cy="282.0" r="0.8" fill="#545454"/><circle cx="404.2" cy="289.1" r="0.6" fill="#767676"/><circle cx="413.4" cy="292.7" r="0.7" fill="#545454"/>
<circle cx="348.60" cy="296.10" r="12.50" fill="#4c4c4c" />
<circle cx="347.50" cy="295.00" r="11.60" fill="#b8b8b8" />
<circle cx="347.80" cy="295.30" r="10.60" fill="#5a5a5a" />
<circle cx="348.92" cy="296.42" r="6.72" fill="#666666" />
<circle cx="348.92" cy="296.42" r="6.72" fill="none" stroke="#4a4a4a" stroke-width="0.8"/>
<circle cx="341.7" cy="301.0" r="0.8" fill="#4c4c4c"/><circle cx="351.9" cy="291.1" r="0.6" fill="#808080"/><circle cx="351.8" cy="299.1" r="0.6" fill="#4c4c4c"/><circle cx="355.0" cy="290.4" r="0.9" fill="#767676"/><circle cx="342.1" cy="299.7" r="0.5" fill="#767676"/><circle cx="348.1" cy="287.9" r="0.8" fill="#808080"/><circle cx="343.1" cy="288.0" r="0.8" fill="#4c4c4c"/><circle cx="350.4" cy="285.8" r="0.4" fill="#545454"/><circle cx="356.4" cy="292.6" r="0.6" fill="#4c4c4c"/><circle cx="340.9" cy="288.8" r="0.8" fill="#808080"/><circle cx="348.6" cy="295.3" r="0.6" fill="#4c4c4c"/><circle cx="349.2" cy="293.1" r="0.5" fill="#4c4c4c"/><circle cx="342.5" cy="297.4" r="0.9" fill="#767676"/><circle cx="348.1" cy="285.7" r="0.6" fill="#808080"/><circle cx="351.8" cy="291.9" r="0.7" fill="#4c4c4c"/><circle cx="339.0" cy="298.3" r="0.7" fill="#767676"/><circle cx="349.1" cy="286.7" r="0.5" fill="#4c4c4c"/><circle cx="349.4" cy="289.6" r="0.4" fill="#767676"/><circle cx="356.5" cy="296.9" r="0.7" fill="#4c4c4c"/><circle cx="353.9" cy="298.6" r="0.8" fill="#808080"/><circle cx="350.5" cy="300.4" r="0.6" fill="#545454"/><circle cx="341.1" cy="290.5" r="0.4" fill="#4c4c4c"/><circle cx="345.1" cy="292.8" r="0.8" fill="#545454"/><circle cx="355.9" cy="290.1" r="0.5" fill="#767676"/><circle cx="345.9" cy="302.2" r="0.5" fill="#545454"/><circle cx="341.8" cy="297.6" r="0.8" fill="#808080"/><circle cx="339.1" cy="291.8" r="0.9" fill="#767676"/><circle cx="347.4" cy="291.7" r="0.7" fill="#4c4c4c"/>
<circle cx="371.80" cy="308.40" r="10.26" fill="#4c4c4c" />
<circle cx="370.70" cy="307.30" r="9.36" fill="#b8b8b8" />
<circle cx="371.00" cy="307.60" r="8.36" fill="#5a5a5a" />
<circle cx="371.90" cy="308.50" r="5.38" fill="#666666" />
<circle cx="371.90" cy="308.50" r="5.38" fill="none" stroke="#4a4a4a" stroke-width="0.8"/>
<circle cx="374.9" cy="304.9" r="0.9" fill="#545454"/><circle cx="372.0" cy="310.6" r="0.7" fill="#808080"/><circle cx="378.3" cy="308.7" r="0.6" fill="#767676"/><circle cx="377.4" cy="307.9" r="0.4" fill="#4c4c4c"/><circle cx="373.5" cy="303.5" r="0.9" fill="#808080"/><circle cx="371.7" cy="304.2" r="0.4" fill="#808080"/><circle cx="373.4" cy="306.6" r="0.4" fill="#545454"/><circle cx="369.7" cy="309.7" r="0.4" fill="#808080"/><circle cx="376.3" cy="312.0" r="0.6" fill="#4c4c4c"/><circle cx="375.7" cy="308.0" r="0.7" fill="#767676"/><circle cx="378.4" cy="307.2" r="0.5" fill="#545454"/><circle cx="371.7" cy="302.9" r="0.4" fill="#4c4c4c"/><circle cx="366.3" cy="302.7" r="0.8" fill="#4c4c4c"/><circle cx="378.3" cy="309.6" r="0.9" fill="#808080"/><circle cx="373.8" cy="304.7" r="0.7" fill="#4c4c4c"/><circle cx="367.9" cy="312.8" r="0.8" fill="#545454"/><circle cx="375.5" cy="309.0" r="0.6" fill="#4c4c4c"/><circle cx="374.8" cy="312.2" r="0.8" fill="#545454"/><circle cx="370.2" cy="303.7" r="0.5" fill="#545454"/><circle cx="377.5" cy="311.2" r="0.4" fill="#4c4c4c"/><circle cx="371.7" cy="311.5" r="0.6" fill="#808080"/><circle cx="376.3" cy="312.7" r="0.9" fill="#545454"/>
<circle cx="330.80" cy="316.60" r="11.38" fill="#4c4c4c" />
<circle cx="329.70" cy="315.50" r="10.48" fill="#b8b8b8" />
<circle cx="330.00" cy="315.80" r="9.48" fill="#5a5a5a" />
<circle cx="331.01" cy="316.81" r="6.05" fill="#666666" />
<circle cx="331.01" cy="316.81" r="6.05" fill="none" stroke="#4a4a4a" stroke-width="0.8"/>
<circle cx="336.4" cy="321.8" r="0.5" fill="#4c4c4c"/><circle cx="327.4" cy="309.0" r="0.4" fill="#4c4c4c"/><circle cx="328.6" cy="311.1" r="0.6" fill="#545454"/><circle cx="322.6" cy="314.6" r="0.4" fill="#767676"/><circle cx="334.1" cy="323.3" r="0.7" fill="#767676"/><circle cx="321.6" cy="318.1" r="0.7" fill="#767676"/><circle cx="333.8" cy="311.1" r="0.4" fill="#545454"/><circle cx="332.7" cy="312.5" r="0.7" fill="#767676"/><circle cx="332.9" cy="320.5" r="0.6" fill="#767676"/><circle cx="332.2" cy="311.6" r="0.9" fill="#4c4c4c"/><circle cx="336.2" cy="318.3" r="0.5" fill="#4c4c4c"/><circle cx="336.6" cy="312.7" r="0.8" fill="#767676"/><circle cx="335.2" cy="309.0" r="0.6" fill="#767676"/><circle cx="333.5" cy="308.9" r="0.8" fill="#4c4c4c"/><circle cx="334.2" cy="315.5" r="0.9" fill="#4c4c4c"/><circle cx="333.5" cy="316.1" r="0.7" fill="#545454"/><circle cx="334.9" cy="309.2" r="0.8" fill="#767676"/><circle cx="335.0" cy="313.4" r="0.5" fill="#545454"/><circle cx="337.2" cy="314.0" r="0.8" fill="#808080"/><circle cx="330.4" cy="309.1" r="0.4" fill="#808080"/><circle cx="327.6" cy="320.1" r="0.4" fill="#4c4c4c"/><circle cx="329.8" cy="308.1" r="0.8" fill="#767676"/><circle cx="329.3" cy="307.8" r="0.6" fill="#545454"/><circle cx="331.0" cy="314.7" r="0.7" fill="#767676"/><circle cx="334.0" cy="323.2" r="0.8" fill="#4c4c4c"/>
<circle cx="394.90" cy="322.00" r="11.38" fill="#4c4c4c" />
<circle cx="393.80" cy="320.90" r="10.48" fill="#b8b8b8" />
<circle cx="394.10" cy="321.20" r="9.48" fill="#5a5a5a" />
<circle cx="395.11" cy="322.21" r="6.05" fill="#666666" />
<circle cx="395.11" cy="322.21" r="6.05" fill="none" stroke="#4a4a4a" stroke-width="0.8"/>
<circle cx="401.9" cy="324.1" r="0.7" fill="#808080"/><circle cx="390.1" cy="315.0" r="0.5" fill="#545454"/><circle cx="387.9" cy="316.3" r="0.6" fill="#767676"/><circle cx="397.5" cy="324.0" r="0.7" fill="#545454"/><circle cx="390.3" cy="317.4" r="0.8" fill="#545454"/><circle cx="388.3" cy="327.7" r="0.6" fill="#767676"/><circle cx="399.6" cy="317.6" r="0.5" fill="#545454"/><circle cx="389.5" cy="321.3" r="0.9" fill="#4c4c4c"/><circle cx="388.9" cy="320.5" r="0.8" fill="#545454"/><circle cx="395.4" cy="314.4" r="0.8" fill="#767676"/><circle cx="393.7" cy="329.7" r="0.7" fill="#767676"/><circle cx="391.1" cy="324.3" r="0.6" fill="#808080"/><circle cx="389.1" cy="314.4" r="0.5" fill="#808080"/><circle cx="398.6" cy="319.2" r="0.6" fill="#808080"/><circle cx="391.7" cy="312.7" r="0.4" fill="#545454"/><circle cx="390.5" cy="321.3" r="0.4" fill="#808080"/><circle cx="393.5" cy="320.9" r="0.7" fill="#808080"/><circle cx="396.0" cy="315.0" r="0.5" fill="#808080"/><circle cx="394.0" cy="322.6" r="0.4" fill="#808080"/><circle cx="399.9" cy="321.7" r="0.7" fill="#4c4c4c"/><circle cx="393.3" cy="317.2" r="0.6" fill="#808080"/><circle cx="386.2" cy="319.2" r="0.7" fill="#808080"/><circle cx="392.7" cy="312.4" r="0.7" fill="#4c4c4c"/><circle cx="396.9" cy="315.9" r="0.5" fill="#808080"/><circle cx="399.3" cy="321.8" r="0.6" fill="#808080"/>
<circle cx="378.60" cy="326.10" r="10.26" fill="#4c4c4c" />
<circle cx="377.50" cy="325.00" r="9.36" fill="#b8b8b8" />
<circle cx="377.80" cy="325.30" r="8.36" fill="#5a5a5a" />
<circle cx="378.70" cy="326.20" r="5.38" fill="#666666" />
<circle cx="378.70" cy="326.20" r="5.38" fill="none" stroke="#4a4a4a" stroke-width="0.8"/>
<circle cx="380.3" cy="326.9" r="0.8" fill="#4c4c4c"/><circle cx="381.5" cy="320.7" r="0.6" fill="#545454"/><circle cx="375.6" cy="329.0" r="0.6" fill="#545454"/><circle cx="375.5" cy="328.1" r="0.8" fill="#767676"/><circle cx="384.9" cy="328.3" r="0.5" fill="#545454"/><circle cx="372.6" cy="323.3" r="0.7" fill="#545454"/><circle cx="376.8" cy="324.4" r="0.7" fill="#545454"/><circle cx="383.3" cy="324.6" r="0.5" fill="#767676"/><circle cx="377.5" cy="328.3" r="0.8" fill="#545454"/><circle cx="381.3" cy="323.8" r="0.7" fill="#808080"/><circle cx="375.2" cy="328.1" r="0.6" fill="#4c4c4c"/><circle cx="373.7" cy="324.5" r="0.8" fill="#808080"/><circle cx="377.0" cy="323.5" r="0.5" fill="#808080"/><circle cx="374.8" cy="322.1" r="0.6" fill="#767676"/><circle cx="378.0" cy="321.7" r="0.7" fill="#4c4c4c"/><circle cx="380.7" cy="321.8" r="0.9" fill="#4c4c4c"/><circle cx="371.1" cy="323.2" r="0.7" fill="#808080"/><circle cx="372.7" cy="324.7" r="0.8" fill="#4c4c4c"/><circle cx="375.1" cy="332.5" r="0.5" fill="#767676"/><circle cx="379.1" cy="322.5" r="0.5" fill="#4c4c4c"/><circle cx="380.5" cy="320.6" r="0.9" fill="#808080"/><circle cx="385.2" cy="323.2" r="0.4" fill="#4c4c4c"/>
<circle cx="352.70" cy="330.20" r="10.26" fill="#4c4c4c" />
<circle cx="351.60" cy="329.10" r="9.36" fill="#b8b8b8" />
<circle cx="351.90" cy="329.40" r="8.36" fill="#5a5a5a" />
<circle cx="352.80" cy="330.30" r="5.38" fill="#666666" />
<circle cx="352.80" cy="330.30" r="5.38" fill="none" stroke="#4a4a4a" stroke-width="0.8"/>
<circle cx="355.4" cy="336.1" r="0.7" fill="#4c4c4c"/><circle cx="345.1" cy="332.1" r="0.8" fill="#4c4c4c"/><circle cx="357.7" cy="330.4" r="0.6" fill="#767676"/><circle cx="349.8" cy="325.2" r="0.6" fill="#767676"/><circle cx="355.6" cy="332.4" r="0.4" fill="#808080"/><circle cx="346.4" cy="325.2" r="0.5" fill="#4c4c4c"/><circle cx="353.4" cy="335.7" r="0.8" fill="#545454"/><circle cx="349.2" cy="329.1" r="0.4" fill="#4c4c4c"/><circle cx="352.7" cy="332.9" r="0.7" fill="#4c4c4c"/><circle cx="356.3" cy="327.7" r="0.6" fill="#808080"/><circle cx="350.4" cy="334.8" r="0.8" fill="#4c4c4c"/><circle cx="355.3" cy="324.1" r="0.5" fill="#545454"/><circle cx="351.9" cy="328.2" r="0.8" fill="#4c4c4c"/><circle cx="359.3" cy="330.6" r="0.7" fill="#4c4c4c"/><circle cx="349.3" cy="332.2" r="0.6" fill="#545454"/><circle cx="356.3" cy="332.4" r="0.7" fill="#4c4c4c"/><circle cx="345.0" cy="332.4" r="0.4" fill="#767676"/><circle cx="348.1" cy="334.9" r="0.5" fill="#808080"/><circle cx="350.3" cy="324.3" r="0.5" fill="#808080"/><circle cx="345.7" cy="328.9" r="0.4" fill="#4c4c4c"/><circle cx="352.4" cy="334.7" r="0.5" fill="#767676"/><circle cx="349.6" cy="333.7" r="0.8" fill="#767676"/>
<circle cx="418.80" cy="312.50" r="10.26" fill="#4c4c4c" />
<circle cx="417.70" cy="311.40" r="9.36" fill="#b8b8b8" />
<circle cx="418.00" cy="311.70" r="8.36" fill="#5a5a5a" />
<circle cx="418.90" cy="312.60" r="5.38" fill="#666666" />
<circle cx="418.90" cy="312.60" r="5.38" fill="none" stroke="#4a4a4a" stroke-width="0.8"/>
<circle cx="413.8" cy="313.0" r="0.7" fill="#4c4c4c"/><circle cx="421.0" cy="312.1" r="0.8" fill="#4c4c4c"/><circle cx="419.3" cy="315.5" r="0.5" fill="#4c4c4c"/><circle cx="418.5" cy="309.1" r="0.5" fill="#767676"/><circle cx="416.0" cy="319.1" r="0.7" fill="#545454"/><circle cx="419.8" cy="306.4" r="0.5" fill="#545454"/><circle cx="413.4" cy="313.7" r="0.7" fill="#545454"/><circle cx="419.2" cy="307.7" r="0.6" fill="#545454"/><circle cx="413.3" cy="314.1" r="0.5" fill="#767676"/><circle cx="417.4" cy="316.8" r="0.6" fill="#545454"/><circle cx="419.7" cy="310.9" r="0.6" fill="#767676"/><circle cx="414.1" cy="309.4" r="0.5" fill="#545454"/><circle cx="422.2" cy="308.5" r="0.7" fill="#4c4c4c"/><circle cx="418.6" cy="305.6" r="0.9" fill="#808080"/><circle cx="418.8" cy="310.1" r="0.7" fill="#767676"/><circle cx="421.2" cy="307.6" r="0.7" fill="#545454"/><circle cx="413.1" cy="316.5" r="0.8" fill="#545454"/><circle cx="417.7" cy="319.4" r="0.6" fill="#767676"/><circle cx="423.7" cy="306.6" r="0.6" fill="#808080"/><circle cx="414.5" cy="316.8" r="0.7" fill="#808080"/><circle cx="420.9" cy="310.9" r="0.5" fill="#767676"/><circle cx="421.3" cy="315.4" r="0.6" fill="#808080"/>
<circle cx="417.80" cy="335.60" r="9.14" fill="#4c4c4c" />
<circle cx="416.70" cy="334.50" r="8.24" fill="#b8b8b8" />
<circle cx="417.00" cy="334.80" r="7.24" fill="#5a5a5a" />
<circle cx="417.78" cy="335.58" r="4.70" fill="#666666" />
<circle cx="417.78" cy="335.58" r="4.70" fill="none" stroke="#4a4a4a" stroke-width="0.8"/>
<circle cx="418.3" cy="331.5" r="0.7" fill="#545454"/><circle cx="419.1" cy="339.9" r="0.7" fill="#808080"/><circle cx="413.2" cy="335.3" r="0.6" fill="#4c4c4c"/><circle cx="416.7" cy="330.9" r="0.6" fill="#4c4c4c"/><circle cx="410.5" cy="335.1" r="0.8" fill="#4c4c4c"/><circle cx="421.8" cy="339.0" r="0.7" fill="#545454"/><circle cx="411.4" cy="331.7" r="0.5" fill="#808080"/><circle cx="414.7" cy="337.3" r="0.6" fill="#4c4c4c"/><circle cx="420.4" cy="336.3" r="0.6" fill="#4c4c4c"/><circle cx="416.9" cy="333.8" r="0.6" fill="#767676"/><circle cx="414.0" cy="335.3" r="0.5" fill="#808080"/><circle cx="414.3" cy="336.0" r="0.5" fill="#545454"/><circle cx="411.2" cy="335.4" r="0.7" fill="#4c4c4c"/><circle cx="411.1" cy="336.6" r="0.6" fill="#4c4c4c"/><circle cx="418.9" cy="340.6" r="0.7" fill="#545454"/><circle cx="413.4" cy="333.3" r="0.5" fill="#4c4c4c"/><circle cx="413.4" cy="333.4" r="0.6" fill="#545454"/><circle cx="412.9" cy="337.0" r="0.5" fill="#545454"/><circle cx="414.7" cy="336.7" r="0.6" fill="#808080"/>
<circle cx="390.80" cy="349.30" r="10.26" fill="#4c4c4c" />
<circle cx="389.70" cy="348.20" r="9.36" fill="#b8b8b8" />
<circle cx="390.00" cy="348.50" r="8.36" fill="#5a5a5a" />
<circle cx="390.90" cy="349.40" r="5.38" fill="#666666" />
<circle cx="390.90" cy="349.40" r="5.38" fill="none" stroke="#4a4a4a" stroke-width="0.8"/>
<circle cx="395.2" cy="351.6" r="0.9" fill="#4c4c4c"/><circle cx="383.0" cy="350.5" r="0.8" fill="#808080"/><circle cx="394.2" cy="354.2" r="0.8" fill="#4c4c4c"/><circle cx="389.8" cy="349.0" r="0.5" fill="#767676"/><circle cx="393.8" cy="354.1" r="0.8" fill="#767676"/><circle cx="392.0" cy="346.9" r="0.8" fill="#808080"/><circle cx="384.8" cy="350.6" r="0.5" fill="#545454"/><circle cx="394.6" cy="354.7" r="0.4" fill="#545454"/><circle cx="386.3" cy="344.3" r="0.9" fill="#767676"/><circle cx="388.2" cy="350.4" r="0.6" fill="#767676"/><circle cx="389.0" cy="347.3" r="0.9" fill="#4c4c4c"/><circle cx="393.4" cy="351.3" r="0.6" fill="#545454"/><circle cx="392.4" cy="344.0" r="0.7" fill="#767676"/><circle cx="386.1" cy="343.1" r="0.6" fill="#767676"/><circle cx="392.1" cy="349.3" r="0.8" fill="#4c4c4c"/><circle cx="393.6" cy="351.7" r="0.6" fill="#808080"/><circle cx="394.0" cy="346.0" r="0.5" fill="#767676"/><circle cx="382.6" cy="347.3" r="0.7" fill="#808080"/><circle cx="382.8" cy="349.1" r="0.7" fill="#767676"/><circle cx="393.6" cy="354.8" r="0.7" fill="#545454"/><circle cx="387.1" cy="350.4" r="0.4" fill="#808080"/><circle cx="386.9" cy="343.3" r="0.9" fill="#767676"/>
<circle cx="324.10" cy="361.50" r="11.38" fill="#4c4c4c" />
<circle cx="323.00" cy="360.40" r="10.48" fill="#b8b8b8" />
<circle cx="323.30" cy="360.70" r="9.48" fill="#5a5a5a" />
<circle cx="324.31" cy="361.71" r="6.05" fill="#666666" />
<circle cx="324.31" cy="361.71" r="6.05" fill="none" stroke="#4a4a4a" stroke-width="0.8"/>
<circle cx="326.4" cy="368.6" r="0.5" fill="#4c4c4c"/><circle cx="322.0" cy="369.3" r="0.9" fill="#4c4c4c"/><circle cx="318.2" cy="361.1" r="0.6" fill="#767676"/><circle cx="329.6" cy="356.2" r="0.5" fill="#808080"/><circle cx="326.2" cy="360.9" r="0.4" fill="#545454"/><circle cx="326.0" cy="361.2" r="0.7" fill="#767676"/><circle cx="326.2" cy="364.2" r="0.9" fill="#808080"/><circle cx="321.1" cy="360.4" r="0.7" fill="#767676"/><circle cx="326.5" cy="358.0" r="0.8" fill="#808080"/><circle cx="330.0" cy="364.0" r="0.5" fill="#808080"/><circle cx="319.6" cy="358.9" r="0.5" fill="#767676"/><circle cx="328.5" cy="361.9" r="0.8" fill="#4c4c4c"/><circle cx="327.2" cy="356.8" r="0.6" fill="#808080"/><circle cx="326.3" cy="359.9" r="0.8" fill="#808080"/><circle cx="318.6" cy="355.3" r="0.9" fill="#767676"/><circle cx="328.5" cy="365.9" r="0.5" fill="#4c4c4c"/><circle cx="323.3" cy="361.0" r="0.8" fill="#767676"/><circle cx="325.9" cy="364.1" r="0.8" fill="#4c4c4c"/><circle cx="319.6" cy="361.6" r="0.4" fill="#545454"/><circle cx="329.5" cy="355.7" r="0.8" fill="#4c4c4c"/><circle cx="328.0" cy="363.3" r="0.5" fill="#4c4c4c"/><circle cx="318.3" cy="359.1" r="0.8" fill="#545454"/><circle cx="319.5" cy="354.2" r="0.5" fill="#808080"/><circle cx="328.4" cy="361.3" r="0.6" fill="#545454"/><circle cx="323.8" cy="362.0" r="0.7" fill="#4c4c4c"/>
<circle cx="359.50" cy="360.20" r="10.26" fill="#4c4c4c" />
<circle cx="358.40" cy="359.10" r="9.36" fill="#b8b8b8" />
<circle cx="358.70" cy="359.40" r="8.36" fill="#5a5a5a" />
<circle cx="359.60" cy="360.30" r="5.38" fill="#666666" />
<circle cx="359.60" cy="360.30" r="5.38" fill="none" stroke="#4a4a4a" stroke-width="0.8"/>
<circle cx="355.8" cy="352.7" r="0.4" fill="#808080"/><circle cx="358.8" cy="362.9" r="0.6" fill="#4c4c4c"/><circle cx="364.9" cy="359.8" r="0.7" fill="#767676"/><circle cx="362.5" cy="363.1" r="0.5" fill="#4c4c4c"/><circle cx="362.1" cy="366.3" r="0.9" fill="#4c4c4c"/><circle cx="356.6" cy="353.7" r="0.4" fill="#4c4c4c"/><circle cx="357.9" cy="364.2" r="0.5" fill="#808080"/><circle cx="365.6" cy="359.7" r="0.5" fill="#808080"/><circle cx="360.8" cy="363.4" r="0.8" fill="#808080"/><circle cx="354.4" cy="355.0" r="0.8" fill="#545454"/><circle cx="362.8" cy="364.1" r="0.8" fill="#767676"/><circle cx="360.8" cy="352.7" r="0.7" fill="#808080"/><circle cx="361.2" cy="362.6" r="0.8" fill="#4c4c4c"/><circle cx="355.5" cy="356.0" r="0.5" fill="#4c4c4c"/><circle cx="360.3" cy="364.1" r="0.7" fill="#4c4c4c"/><circle cx="361.1" cy="353.1" r="0.8" fill="#4c4c4c"/><circle cx="358.5" cy="353.3" r="0.7" fill="#767676"/><circle cx="359.9" cy="351.8" r="0.6" fill="#545454"/><circle cx="362.1" cy="358.4" r="0.6" fill="#808080"/><circle cx="365.7" cy="362.7" r="0.9" fill="#4c4c4c"/><circle cx="358.7" cy="362.9" r="0.4" fill="#808080"/><circle cx="358.0" cy="359.4" r="0.7" fill="#545454"/>
<circle cx="375.80" cy="357.40" r="10.26" fill="#4c4c4c" />
<circle cx="374.70" cy="356.30" r="9.36" fill="#b8b8b8" />
<circle cx="375.00" cy="356.60" r="8.36" fill="#5a5a5a" />
<circle cx="375.90" cy="357.50" r="5.38" fill="#666666" />
<circle cx="375.90" cy="357.50" r="5.38" fill="none" stroke="#4a4a4a" stroke-width="0.8"/>
<circle cx="371.4" cy="352.1" r="0.9" fill="#767676"/><circle cx="375.2" cy="357.5" r="0.6" fill="#808080"/><circle cx="375.4" cy="361.5" r="0.7" fill="#545454"/><circle cx="378.3" cy="359.1" r="0.7" fill="#4c4c4c"/><circle cx="371.6" cy="352.7" r="0.6" fill="#545454"/><circle cx="371.4" cy="360.3" r="0.7" fill="#4c4c4c"/><circle cx="374.8" cy="351.9" r="0.5" fill="#4c4c4c"/><circle cx="376.1" cy="352.6" r="0.6" fill="#545454"/><circle cx="377.3" cy="360.0" r="0.6" fill="#4c4c4c"/><circle cx="380.2" cy="361.2" r="0.7" fill="#4c4c4c"/><circle cx="382.6" cy="355.6" r="0.4" fill="#545454"/><circle cx="380.1" cy="351.4" r="0.9" fill="#767676"/><circle cx="370.8" cy="360.6" r="0.5" fill="#4c4c4c"/><circle cx="374.6" cy="363.2" r="0.7" fill="#767676"/><circle cx="377.8" cy="354.0" r="0.5" fill="#545454"/><circle cx="369.1" cy="355.3" r="0.6" fill="#767676"/><circle cx="372.2" cy="359.0" r="0.8" fill="#767676"/><circle cx="370.2" cy="357.6" r="0.5" fill="#4c4c4c"/><circle cx="377.8" cy="349.5" r="0.7" fill="#808080"/><circle cx="372.0" cy="362.5" r="0.8" fill="#4c4c4c"/><circle cx="375.8" cy="361.8" r="0.4" fill="#808080"/><circle cx="376.9" cy="361.8" r="0.8" fill="#4c4c4c"/>
<circle cx="340.40" cy="375.20" r="10.26" fill="#4c4c4c" />
<circle cx="339.30" cy="374.10" r="9.36" fill="#b8b8b8" />
<circle cx="339.60" cy="374.40" r="8.36" fill="#5a5a5a" />
<circle cx="340.50" cy="375.30" r="5.38" fill="#666666" />
<circle cx="340.50" cy="375.30" r="5.38" fill="none" stroke="#4a4a4a" stroke-width="0.8"/>
<circle cx="343.9" cy="375.8" r="0.8" fill="#545454"/><circle cx="339.0" cy="373.8" r="0.6" fill="#545454"/><circle cx="339.1" cy="378.1" r="0.6" fill="#808080"/><circle cx="336.2" cy="368.6" r="0.8" fill="#808080"/><circle cx="343.6" cy="379.8" r="0.7" fill="#4c4c4c"/><circle cx="344.0" cy="380.8" r="0.7" fill="#767676"/><circle cx="341.8" cy="370.6" r="0.7" fill="#767676"/><circle cx="345.9" cy="378.1" r="0.5" fill="#545454"/><circle cx="337.7" cy="369.3" r="0.8" fill="#4c4c4c"/><circle cx="333.7" cy="369.6" r="0.8" fill="#767676"/><circle cx="335.3" cy="370.8" r="0.7" fill="#545454"/><circle cx="344.3" cy="378.9" r="0.8" fill="#4c4c4c"/><circle cx="339.5" cy="381.5" r="0.5" fill="#545454"/><circle cx="337.9" cy="374.9" r="0.5" fill="#4c4c4c"/><circle cx="337.5" cy="376.6" r="0.6" fill="#4c4c4c"/><circle cx="335.6" cy="368.2" r="0.8" fill="#545454"/><circle cx="335.8" cy="376.7" r="0.7" fill="#808080"/><circle cx="343.3" cy="377.0" r="0.7" fill="#808080"/><circle cx="338.8" cy="380.0" r="0.6" fill="#767676"/><circle cx="340.1" cy="368.7" r="0.6" fill="#767676"/><circle cx="338.2" cy="379.1" r="0.5" fill="#767676"/><circle cx="336.0" cy="379.7" r="0.6" fill="#545454"/>
<circle cx="360.80" cy="376.50" r="10.26" fill="#4c4c4c" />
<circle cx="359.70" cy="375.40" r="9.36" fill="#b8b8b8" />
<circle cx="360.00" cy="375.70" r="8.36" fill="#5a5a5a" />
<circle cx="360.90" cy="376.60" r="5.38" fill="#666666" />
<circle cx="360.90" cy="376.60" r="5.38" fill="none" stroke="#4a4a4a" stroke-width="0.8"/>
<circle cx="365.7" cy="379.6" r="0.6" fill="#767676"/><circle cx="357.3" cy="381.6" r="0.4" fill="#545454"/><circle cx="359.3" cy="378.9" r="0.9" fill="#808080"/><circle cx="366.1" cy="375.4" r="0.5" fill="#4c4c4c"/><circle cx="355.5" cy="378.6" r="0.5" fill="#545454"/><circle cx="362.5" cy="372.0" r="0.7" fill="#808080"/><circle cx="362.2" cy="382.9" r="0.6" fill="#808080"/><circle cx="360.3" cy="381.2" r="0.7" fill="#767676"/><circle cx="354.3" cy="372.7" r="0.6" fill="#808080"/><circle cx="353.3" cy="378.9" r="0.7" fill="#808080"/><circle cx="366.7" cy="379.2" r="0.5" fill="#545454"/><circle cx="359.4" cy="380.2" r="0.9" fill="#767676"/><circle cx="352.9" cy="375.1" r="0.6" fill="#767676"/><circle cx="352.8" cy="376.3" r="0.8" fill="#767676"/><circle cx="354.1" cy="371.9" r="0.9" fill="#4c4c4c"/><circle cx="362.4" cy="379.2" r="0.5" fill="#767676"/><circle cx="363.3" cy="374.4" r="0.6" fill="#4c4c4c"/><circle cx="354.6" cy="370.9" r="0.9" fill="#808080"/><circle cx="366.5" cy="376.3" r="0.7" fill="#808080"/><circle cx="353.3" cy="379.1" r="0.5" fill="#767676"/><circle cx="357.7" cy="376.3" r="0.8" fill="#767676"/><circle cx="366.2" cy="374.5" r="0.8" fill="#4c4c4c"/>
<circle cx="394.90" cy="373.80" r="10.26" fill="#4c4c4c" />
<circle cx="393.80" cy="372.70" r="9.36" fill="#b8b8b8" />
<circle cx="394.10" cy="373.00" r="8.36" fill="#5a5a5a" />
<circle cx="395.00" cy="373.90" r="5.38" fill="#666666" />
<circle cx="395.00" cy="373.90" r="5.38" fill="none" stroke="#4a4a4a" stroke-width="0.8"/>
<circle cx="395.1" cy="380.6" r="0.4" fill="#4c4c4c"/><circle cx="390.9" cy="375.0" r="0.6" fill="#767676"/><circle cx="398.6" cy="370.1" r="0.8" fill="#808080"/><circle cx="398.8" cy="375.2" r="0.5" fill="#808080"/><circle cx="395.5" cy="366.7" r="0.9" fill="#767676"/><circle cx="395.7" cy="369.7" r="0.5" fill="#767676"/><circle cx="400.8" cy="369.3" r="0.8" fill="#808080"/><circle cx="396.9" cy="379.6" r="0.7" fill="#767676"/><circle cx="395.6" cy="378.0" r="0.5" fill="#545454"/><circle cx="393.8" cy="378.7" r="0.7" fill="#808080"/><circle cx="401.3" cy="373.6" r="0.7" fill="#4c4c4c"/><circle cx="396.0" cy="369.1" r="0.4" fill="#545454"/><circle cx="387.5" cy="370.3" r="0.8" fill="#767676"/><circle cx="397.2" cy="367.3" r="0.7" fill="#545454"/><circle cx="392.2" cy="376.3" r="0.8" fill="#4c4c4c"/><circle cx="396.6" cy="368.5" r="0.8" fill="#808080"/><circle cx="393.6" cy="372.1" r="0.7" fill="#4c4c4c"/><circle cx="396.7" cy="369.0" r="0.6" fill="#545454"/><circle cx="398.1" cy="378.2" r="0.5" fill="#767676"/><circle cx="400.9" cy="369.5" r="0.6" fill="#545454"/><circle cx="389.9" cy="374.3" r="0.4" fill="#767676"/><circle cx="390.1" cy="375.3" r="0.4" fill="#808080"/>
<circle cx="386.70" cy="387.40" r="9.14" fill="#4c4c4c" />
<circle cx="385.60" cy="386.30" r="8.24" fill="#b8b8b8" />
<circle cx="385.90" cy="386.60" r="7.24" fill="#5a5a5a" />
<circle cx="386.68" cy="387.38" r="4.70" fill="#666666" />
<circle cx="386.68" cy="387.38" r="4.70" fill="none" stroke="#4a4a4a" stroke-width="0.8"/>
<circle cx="384.1" cy="391.0" r="0.9" fill="#545454"/><circle cx="383.8" cy="381.6" r="0.4" fill="#4c4c4c"/><circle cx="384.6" cy="392.9" r="0.5" fill="#545454"/><circle cx="384.2" cy="391.7" r="0.6" fill="#808080"/><circle cx="384.7" cy="389.7" r="0.6" fill="#767676"/><circle cx="387.0" cy="389.0" r="0.4" fill="#808080"/><circle cx="387.5" cy="384.6" r="0.8" fill="#767676"/><circle cx="380.1" cy="388.4" r="0.7" fill="#4c4c4c"/><circle cx="388.1" cy="391.1" r="0.8" fill="#808080"/><circle cx="380.2" cy="384.0" r="0.6" fill="#808080"/><circle cx="392.3" cy="388.1" r="0.6" fill="#545454"/><circle cx="390.7" cy="385.3" r="0.4" fill="#4c4c4c"/><circle cx="389.7" cy="387.5" r="0.7" fill="#545454"/><circle cx="383.2" cy="390.1" r="0.5" fill="#545454"/><circle cx="387.9" cy="381.5" r="0.6" fill="#545454"/><circle cx="389.1" cy="389.4" r="0.5" fill="#545454"/><circle cx="381.8" cy="387.8" r="0.8" fill="#545454"/><circle cx="385.0" cy="380.2" r="0.5" fill="#808080"/><circle cx="390.7" cy="388.7" r="0.7" fill="#545454"/>
<circle cx="311.80" cy="376.50" r="10.26" fill="#4c4c4c" />
<circle cx="310.70" cy="375.40" r="9.36" fill="#b8b8b8" />
<circle cx="311.00" cy="375.70" r="8.36" fill="#5a5a5a" />
<circle cx="311.90" cy="376.60" r="5.38" fill="#666666" />
<circle cx="311.90" cy="376.60" r="5.38" fill="none" stroke="#4a4a4a" stroke-width="0.8"/>
<circle cx="313.4" cy="371.1" r="0.9" fill="#808080"/><circle cx="309.0" cy="369.1" r="0.6" fill="#545454"/><circle cx="318.4" cy="377.0" r="0.7" fill="#808080"/><circle cx="303.8" cy="376.6" r="0.5" fill="#808080"/><circle cx="317.7" cy="373.1" r="0.5" fill="#767676"/><circle cx="306.3" cy="379.4" r="0.5" fill="#808080"/><circle cx="310.6" cy="378.0" r="0.8" fill="#4c4c4c"/><circle cx="312.0" cy="381.3" r="0.5" fill="#545454"/><circle cx="311.1" cy="378.8" r="0.6" fill="#808080"/><circle cx="308.0" cy="371.4" r="0.8" fill="#4c4c4c"/><circle cx="313.1" cy="370.2" r="0.7" fill="#545454"/><circle cx="307.4" cy="379.5" r="0.4" fill="#767676"/><circle cx="306.2" cy="374.7" r="0.6" fill="#767676"/><circle cx="306.9" cy="374.9" r="0.7" fill="#545454"/><circle cx="306.3" cy="371.7" r="0.8" fill="#4c4c4c"/><circle cx="313.4" cy="369.8" r="0.7" fill="#4c4c4c"/><circle cx="307.5" cy="380.5" r="0.9" fill="#808080"/><circle cx="316.5" cy="380.8" r="0.9" fill="#767676"/><circle cx="317.3" cy="378.2" r="0.8" fill="#767676"/><circle cx="309.2" cy="381.0" r="0.8" fill="#4c4c4c"/><circle cx="312.2" cy="373.9" r="0.9" fill="#767676"/><circle cx="309.8" cy="378.0" r="0.8" fill="#4c4c4c"/>
<circle cx="302.30" cy="302.90" r="9.14" fill="#4c4c4c" />
<circle cx="301.20" cy="301.80" r="8.24" fill="#b8b8b8" />
<circle cx="301.50" cy="302.10" r="7.24" fill="#5a5a5a" />
<circle cx="302.28" cy="302.88" r="4.70" fill="#666666" />
<circle cx="302.28" cy="302.88" r="4.70" fill="none" stroke="#4a4a4a" stroke-width="0.8"/>
<circle cx="300.2" cy="302.2" r="0.4" fill="#767676"/><circle cx="307.4" cy="301.0" r="0.7" fill="#545454"/><circle cx="297.3" cy="299.7" r="0.9" fill="#808080"/><circle cx="303.9" cy="307.4" r="0.4" fill="#4c4c4c"/><circle cx="302.9" cy="300.2" r="0.9" fill="#4c4c4c"/><circle cx="305.2" cy="303.1" r="0.7" fill="#808080"/><circle cx="301.0" cy="302.3" r="0.7" fill="#4c4c4c"/><circle cx="307.2" cy="300.6" r="0.8" fill="#4c4c4c"/><circle cx="303.0" cy="306.0" r="0.6" fill="#4c4c4c"/><circle cx="305.7" cy="298.0" r="0.6" fill="#4c4c4c"/><circle cx="302.3" cy="308.3" r="0.4" fill="#545454"/><circle cx="303.9" cy="301.4" r="0.7" fill="#808080"/><circle cx="301.5" cy="304.2" r="0.7" fill="#545454"/><circle cx="306.0" cy="305.7" r="0.5" fill="#767676"/><circle cx="295.4" cy="303.2" r="0.6" fill="#4c4c4c"/><circle cx="297.6" cy="304.4" r="0.4" fill="#808080"/><circle cx="305.0" cy="305.7" r="0.9" fill="#767676"/><circle cx="300.4" cy="296.5" r="0.7" fill="#545454"/><circle cx="298.5" cy="297.0" r="0.7" fill="#808080"/>
<circle cx="302.80" cy="343.80" r="9.14" fill="#4c4c4c" />
<circle cx="301.70" cy="342.70" r="8.24" fill="#b8b8b8" />
<circle cx="302.00" cy="343.00" r="7.24" fill="#5a5a5a" />
<circle cx="302.78" cy="343.78" r="4.70" fill="#666666" />
<circle cx="302.78" cy="343.78" r="4.70" fill="none" stroke="#4a4a4a" stroke-width="0.8"/>
<circle cx="298.1" cy="341.7" r="0.6" fill="#545454"/><circle cx="305.4" cy="345.5" r="0.9" fill="#767676"/><circle cx="302.6" cy="349.0" r="0.7" fill="#808080"/><circle cx="302.4" cy="340.2" r="0.5" fill="#545454"/><circle cx="305.4" cy="344.9" r="0.9" fill="#545454"/><circle cx="300.4" cy="346.5" r="0.6" fill="#4c4c4c"/><circle cx="297.7" cy="340.5" r="0.7" fill="#545454"/><circle cx="297.4" cy="341.9" r="0.6" fill="#767676"/><circle cx="299.1" cy="345.0" r="0.7" fill="#767676"/><circle cx="307.8" cy="345.8" r="0.4" fill="#767676"/><circle cx="302.2" cy="339.7" r="0.7" fill="#767676"/><circle cx="306.3" cy="341.6" r="0.7" fill="#4c4c4c"/><circle cx="307.5" cy="343.2" r="0.6" fill="#767676"/><circle cx="305.5" cy="338.3" r="0.9" fill="#808080"/><circle cx="306.8" cy="344.0" r="0.6" fill="#4c4c4c"/><circle cx="305.9" cy="342.9" r="0.6" fill="#545454"/><circle cx="299.3" cy="346.5" r="0.5" fill="#4c4c4c"/><circle cx="305.5" cy="340.7" r="0.6" fill="#545454"/><circle cx="303.9" cy="340.2" r="0.8" fill="#767676"/>
<circle cx="307.80" cy="259.30" r="10.26" fill="#4c4c4c" />
<circle cx="306.70" cy="258.20" r="9.36" fill="#b8b8b8" />
<circle cx="307.00" cy="258.50" r="8.36" fill="#5a5a5a" />
<circle cx="307.90" cy="259.40" r="5.38" fill="#666666" />
<circle cx="307.90" cy="259.40" r="5.38" fill="none" stroke="#4a4a4a" stroke-width="0.8"/>
<circle cx="300.5" cy="255.6" r="0.9" fill="#545454"/><circle cx="304.0" cy="253.6" r="0.5" fill="#808080"/><circle cx="313.1" cy="257.2" r="0.7" fill="#4c4c4c"/><circle cx="311.4" cy="263.1" r="0.9" fill="#545454"/><circle cx="304.2" cy="253.6" r="0.9" fill="#4c4c4c"/><circle cx="300.9" cy="254.9" r="0.7" fill="#545454"/><circle cx="307.3" cy="258.1" r="0.9" fill="#767676"/><circle cx="302.0" cy="261.9" r="0.7" fill="#4c4c4c"/><circle cx="303.6" cy="255.0" r="0.7" fill="#767676"/><circle cx="311.3" cy="256.3" r="0.7" fill="#767676"/><circle cx="311.2" cy="254.4" r="0.9" fill="#767676"/><circle cx="301.2" cy="263.2" r="0.5" fill="#767676"/><circle cx="306.1" cy="253.5" r="0.6" fill="#4c4c4c"/><circle cx="311.6" cy="263.5" r="0.7" fill="#767676"/><circle cx="306.5" cy="260.0" r="0.6" fill="#767676"/><circle cx="306.8" cy="260.3" r="0.8" fill="#4c4c4c"/><circle cx="312.2" cy="258.2" r="0.5" fill="#808080"/><circle cx="313.4" cy="255.3" r="0.4" fill="#545454"/><circle cx="305.4" cy="259.6" r="0.6" fill="#4c4c4c"/><circle cx="312.2" cy="262.6" r="0.6" fill="#808080"/><circle cx="304.8" cy="265.6" r="0.7" fill="#545454"/><circle cx="309.6" cy="252.5" r="0.5" fill="#808080"/>
<circle cx="418.80" cy="268.80" r="9.14" fill="#4c4c4c" />
<circle cx="417.70" cy="267.70" r="8.24" fill="#b8b8b8" />
<circle cx="418.00" cy="268.00" r="7.24" fill="#5a5a5a" />
<circle cx="418.78" cy="268.78" r="4.70" fill="#666666" />
<circle cx="418.78" cy="268.78" r="4.70" fill="none" stroke="#4a4a4a" stroke-width="0.8"/>
<circle cx="417.5" cy="270.0" r="0.6" fill="#767676"/><circle cx="412.7" cy="271.6" r="0.7" fill="#4c4c4c"/><circle cx="421.9" cy="266.5" r="0.7" fill="#545454"/><circle cx="420.3" cy="267.2" r="0.7" fill="#767676"/><circle cx="414.5" cy="263.7" r="0.6" fill="#767676"/><circle cx="415.7" cy="266.6" r="0.7" fill="#4c4c4c"/><circle cx="418.4" cy="272.8" r="0.6" fill="#4c4c4c"/><circle cx="416.4" cy="267.1" r="0.7" fill="#545454"/><circle cx="423.5" cy="266.0" r="0.5" fill="#767676"/><circle cx="422.3" cy="264.9" r="0.7" fill="#767676"/><circle cx="419.4" cy="269.8" r="0.6" fill="#4c4c4c"/><circle cx="421.4" cy="268.6" r="0.6" fill="#808080"/><circle cx="416.4" cy="269.6" r="0.6" fill="#4c4c4c"/><circle cx="420.7" cy="270.6" r="0.7" fill="#545454"/><circle cx="422.1" cy="271.8" r="0.8" fill="#4c4c4c"/><circle cx="415.4" cy="272.3" r="0.7" fill="#545454"/><circle cx="412.4" cy="271.0" r="0.9" fill="#808080"/><circle cx="419.3" cy="270.5" r="0.9" fill="#545454"/><circle cx="418.3" cy="273.2" r="0.5" fill="#545454"/>
<circle cx="375.80" cy="243.00" r="9.14" fill="#4c4c4c" />
<circle cx="374.70" cy="241.90" r="8.24" fill="#b8b8b8" />
<circle cx="375.00" cy="242.20" r="7.24" fill="#5a5a5a" />
<circle cx="375.78" cy="242.98" r="4.70" fill="#666666" />
<circle cx="375.78" cy="242.98" r="4.70" fill="none" stroke="#4a4a4a" stroke-width="0.8"/>
<circle cx="379.5" cy="238.1" r="0.7" fill="#545454"/><circle cx="377.4" cy="237.4" r="0.8" fill="#767676"/><circle cx="371.6" cy="244.9" r="0.8" fill="#767676"/><circle cx="377.3" cy="241.8" r="0.7" fill="#545454"/><circle cx="378.6" cy="244.4" r="0.4" fill="#808080"/><circle cx="374.2" cy="245.5" r="0.8" fill="#767676"/><circle cx="370.2" cy="243.5" r="0.7" fill="#4c4c4c"/><circle cx="370.3" cy="244.3" r="0.9" fill="#4c4c4c"/><circle cx="373.3" cy="237.2" r="0.4" fill="#767676"/><circle cx="371.2" cy="242.3" r="0.7" fill="#4c4c4c"/><circle cx="375.3" cy="247.8" r="0.6" fill="#545454"/><circle cx="371.8" cy="237.1" r="0.8" fill="#4c4c4c"/><circle cx="376.3" cy="247.6" r="0.5" fill="#545454"/><circle cx="372.9" cy="242.0" r="0.8" fill="#808080"/><circle cx="368.6" cy="241.1" r="0.5" fill="#767676"/><circle cx="374.2" cy="237.5" r="0.6" fill="#4c4c4c"/><circle cx="379.5" cy="247.0" r="0.4" fill="#4c4c4c"/><circle cx="373.5" cy="246.4" r="0.9" fill="#767676"/><circle cx="373.9" cy="237.7" r="0.6" fill="#808080"/>
<circle cx="325.80" cy="240.80" r="8.02" fill="#4c4c4c" />
<circle cx="324.70" cy="239.70" r="7.12" fill="#b8b8b8" />
<circle cx="325.00" cy="240.00" r="6.12" fill="#5a5a5a" />
<circle cx="325.67" cy="240.67" r="4.03" fill="#666666" />
<circle cx="325.67" cy="240.67" r="4.03" fill="none" stroke="#4a4a4a" stroke-width="0.8"/>
<circle cx="324.5" cy="236.2" r="0.8" fill="#808080"/><circle cx="326.7" cy="238.3" r="0.5" fill="#767676"/><circle cx="325.9" cy="244.1" r="0.9" fill="#767676"/><circle cx="326.5" cy="242.2" r="0.8" fill="#4c4c4c"/><circle cx="327.3" cy="236.3" r="0.8" fill="#808080"/><circle cx="321.0" cy="239.7" r="0.8" fill="#4c4c4c"/><circle cx="326.9" cy="239.9" r="0.8" fill="#808080"/><circle cx="325.3" cy="245.1" r="0.7" fill="#808080"/><circle cx="328.3" cy="243.0" r="0.8" fill="#545454"/><circle cx="328.4" cy="239.7" r="0.8" fill="#808080"/><circle cx="324.3" cy="241.5" r="0.6" fill="#4c4c4c"/><circle cx="321.6" cy="238.9" r="0.6" fill="#4c4c4c"/><circle cx="322.3" cy="240.3" r="0.5" fill="#4c4c4c"/><circle cx="327.9" cy="237.8" r="0.7" fill="#545454"/><circle cx="319.7" cy="241.4" r="0.6" fill="#767676"/><circle cx="322.6" cy="235.6" r="0.9" fill="#767676"/>
<circle cx="395.80" cy="243.80" r="8.02" fill="#4c4c4c" />
<circle cx="394.70" cy="242.70" r="7.12" fill="#b8b8b8" />
<circle cx="395.00" cy="243.00" r="6.12" fill="#5a5a5a" />
<circle cx="395.67" cy="243.67" r="4.03" fill="#666666" />
<circle cx="395.67" cy="243.67" r="4.03" fill="none" stroke="#4a4a4a" stroke-width="0.8"/>
<circle cx="395.8" cy="240.3" r="0.7" fill="#808080"/><circle cx="392.3" cy="240.8" r="0.7" fill="#4c4c4c"/><circle cx="390.5" cy="245.7" r="0.8" fill="#767676"/><circle cx="396.1" cy="240.5" r="0.9" fill="#767676"/><circle cx="398.6" cy="243.8" r="0.6" fill="#545454"/><circle cx="397.6" cy="240.9" r="0.4" fill="#545454"/><circle cx="394.2" cy="246.2" r="0.4" fill="#545454"/><circle cx="393.9" cy="242.5" r="0.4" fill="#4c4c4c"/><circle cx="397.1" cy="241.4" r="0.9" fill="#545454"/><circle cx="396.4" cy="246.9" r="0.4" fill="#808080"/><circle cx="398.9" cy="246.7" r="0.8" fill="#808080"/><circle cx="392.6" cy="240.5" r="0.5" fill="#767676"/><circle cx="399.2" cy="242.0" r="0.5" fill="#808080"/><circle cx="399.5" cy="240.8" r="0.6" fill="#808080"/><circle cx="392.8" cy="243.8" r="0.5" fill="#808080"/><circle cx="393.3" cy="246.3" r="0.8" fill="#767676"/>
<circle cx="312.80" cy="398.80" r="9.14" fill="#4c4c4c" />
<circle cx="311.70" cy="397.70" r="8.24" fill="#b8b8b8" />
<circle cx="312.00" cy="398.00" r="7.24" fill="#5a5a5a" />
<circle cx="312.78" cy="398.78" r="4.70" fill="#666666" />
<circle cx="312.78" cy="398.78" r="4.70" fill="none" stroke="#4a4a4a" stroke-width="0.8"/>
<circle cx="307.7" cy="400.1" r="0.7" fill="#767676"/><circle cx="311.7" cy="404.2" r="0.6" fill="#767676"/><circle cx="308.6" cy="401.1" r="0.8" fill="#767676"/><circle cx="314.2" cy="400.7" r="0.6" fill="#767676"/><circle cx="308.8" cy="398.8" r="0.5" fill="#767676"/><circle cx="309.1" cy="404.0" r="0.8" fill="#767676"/><circle cx="317.7" cy="397.7" r="0.8" fill="#767676"/><circle cx="313.5" cy="400.6" r="0.8" fill="#4c4c4c"/><circle cx="314.4" cy="402.9" r="0.4" fill="#767676"/><circle cx="309.4" cy="396.2" r="0.4" fill="#4c4c4c"/><circle cx="314.6" cy="395.0" r="0.5" fill="#545454"/><circle cx="312.5" cy="403.0" r="0.5" fill="#808080"/><circle cx="314.9" cy="402.8" r="0.6" fill="#545454"/><circle cx="306.8" cy="394.2" r="0.8" fill="#767676"/><circle cx="311.1" cy="393.0" r="0.5" fill="#767676"/><circle cx="312.5" cy="395.0" r="0.4" fill="#545454"/><circle cx="313.1" cy="400.0" r="0.9" fill="#767676"/><circle cx="314.1" cy="393.5" r="0.4" fill="#545454"/><circle cx="310.1" cy="394.6" r="0.5" fill="#808080"/>
<circle cx="345.80" cy="399.80" r="8.02" fill="#4c4c4c" />
<circle cx="344.70" cy="398.70" r="7.12" fill="#b8b8b8" />
<circle cx="345.00" cy="399.00" r="6.12" fill="#5a5a5a" />
<circle cx="345.67" cy="399.67" r="4.03" fill="#666666" />
<circle cx="345.67" cy="399.67" r="4.03" fill="none" stroke="#4a4a4a" stroke-width="0.8"/>
<circle cx="344.1" cy="400.6" r="0.6" fill="#545454"/><circle cx="343.3" cy="402.2" r="0.5" fill="#767676"/><circle cx="344.3" cy="400.0" r="0.6" fill="#545454"/><circle cx="341.3" cy="402.7" r="0.8" fill="#545454"/><circle cx="348.9" cy="401.2" r="0.6" fill="#767676"/><circle cx="345.0" cy="394.0" r="0.7" fill="#808080"/><circle cx="345.5" cy="397.1" r="0.7" fill="#545454"/><circle cx="341.5" cy="401.6" r="0.7" fill="#808080"/><circle cx="341.2" cy="398.4" r="0.5" fill="#4c4c4c"/><circle cx="344.2" cy="396.7" r="0.4" fill="#767676"/><circle cx="345.2" cy="393.5" r="0.5" fill="#808080"/><circle cx="342.8" cy="402.4" r="0.5" fill="#808080"/><circle cx="341.9" cy="396.5" r="0.6" fill="#808080"/><circle cx="345.0" cy="395.1" r="0.6" fill="#4c4c4c"/><circle cx="340.2" cy="397.5" r="0.5" fill="#767676"/><circle cx="350.3" cy="397.9" r="0.6" fill="#545454"/>
<circle cx="408.80" cy="400.80" r="8.02" fill="#4c4c4c" />
<circle cx="407.70" cy="399.70" r="7.12" fill="#b8b8b8" />
<circle cx="408.00" cy="400.00" r="6.12" fill="#5a5a5a" />
<circle cx="408.67" cy="400.67" r="4.03" fill="#666666" />
<circle cx="408.67" cy="400.67" r="4.03" fill="none" stroke="#4a4a4a" stroke-width="0.8"/>
<circle cx="409.0" cy="405.0" r="0.8" fill="#767676"/><circle cx="407.2" cy="403.3" r="0.8" fill="#767676"/><circle cx="409.2" cy="397.6" r="0.8" fill="#4c4c4c"/><circle cx="403.5" cy="398.8" r="0.7" fill="#545454"/><circle cx="403.3" cy="401.5" r="0.6" fill="#545454"/><circle cx="406.3" cy="400.5" r="0.7" fill="#4c4c4c"/><circle cx="413.0" cy="400.0" r="0.6" fill="#767676"/><circle cx="404.4" cy="403.7" r="0.7" fill="#767676"/><circle cx="407.1" cy="400.0" r="0.7" fill="#4c4c4c"/><circle cx="403.1" cy="400.1" r="0.9" fill="#808080"/><circle cx="405.7" cy="397.5" r="0.8" fill="#767676"/><circle cx="412.0" cy="397.2" r="0.7" fill="#808080"/><circle cx="406.8" cy="394.9" r="0.7" fill="#808080"/><circle cx="410.4" cy="403.7" r="0.4" fill="#767676"/><circle cx="406.6" cy="396.7" r="0.4" fill="#808080"/><circle cx="402.7" cy="398.6" r="0.5" fill="#767676"/>
<circle cx="300.80" cy="385.80" r="6.90" fill="#4c4c4c" />
<circle cx="299.70" cy="384.70" r="6.00" fill="#b8b8b8" />
<circle cx="300.00" cy="385.00" r="5.00" fill="#5a5a5a" />
<circle cx="300.56" cy="385.56" r="3.36" fill="#666666" />
<circle cx="300.56" cy="385.56" r="3.36" fill="none" stroke="#4a4a4a" stroke-width="0.8"/>
<circle cx="304.2" cy="384.9" r="0.7" fill="#545454"/><circle cx="301.1" cy="380.7" r="0.5" fill="#545454"/><circle cx="298.2" cy="383.5" r="0.6" fill="#4c4c4c"/><circle cx="303.4" cy="387.8" r="0.5" fill="#4c4c4c"/><circle cx="299.7" cy="383.7" r="0.7" fill="#545454"/><circle cx="299.5" cy="383.1" r="0.8" fill="#545454"/><circle cx="299.3" cy="382.3" r="0.7" fill="#767676"/><circle cx="296.0" cy="385.4" r="0.4" fill="#4c4c4c"/><circle cx="297.5" cy="387.7" r="0.7" fill="#4c4c4c"/><circle cx="301.3" cy="386.5" r="0.6" fill="#808080"/><circle cx="303.2" cy="384.9" r="0.6" fill="#808080"/><circle cx="300.2" cy="382.0" r="0.5" fill="#545454"/><circle cx="304.1" cy="386.3" r="0.9" fill="#545454"/><circle cx="303.4" cy="387.2" r="0.5" fill="#808080"/>
<circle cx="401.00" cy="258.50" r="2.60" fill="#1a1a1a" />
</g>
<text x="303.30" y="253.10" font-size="16.5" fill="#fff" text-anchor="start" >d</text>
<text x="417.50" y="250.60" font-size="11.5" fill="#fff" text-anchor="end" >CMV control</text>
<text x="305.00" y="393.60" font-size="11.5" fill="#fff" text-anchor="start" >DIC</text>
<rect x="391.80" y="391.50" width="24.20" height="3.00" fill="#fff" />
<clipPath id="cld2"><rect x="429" y="235.8" width="125" height="166.7"/></clipPath>
<rect x="429" y="235.8" width="125" height="166.7" fill="#727272" stroke="#9a9a9a" stroke-width="1"/>
<g clip-path="url(#cld2)">
<path d="M429,245 Q445,250 460,262 Q475,275 480,295 Q476,312 468,316 Q455,318 445,310 Q432,300 429,290 Z" fill="#686868" stroke="#9a9a9a" stroke-width="1.2"/>
<path d="M470,236 L480,236 Q485,255 495,268 L490,275 Q480,262 470,250 Z" fill="#686868" stroke="#9a9a9a" stroke-width="1.2"/>
<path d="M495,270 Q510,262 522,275 Q528,290 520,302 Q508,308 498,300 Q490,288 495,270 Z" fill="#686868" stroke="#9a9a9a" stroke-width="1.2"/>
<path d="M452,315 Q468,310 480,320 Q486,335 480,348 Q470,358 458,350 Q448,338 452,315 Z" fill="#686868" stroke="#9a9a9a" stroke-width="1.2"/>
<polyline points="470.00,236.00 478.00,250.00 486.00,262.00 492.00,270.00" fill="none" stroke="#5a5a5a" stroke-width="2.6" stroke-linejoin="round" stroke-linecap="round" opacity="0.55"/>
<polyline points="470.00,236.00 478.00,250.00 486.00,262.00 492.00,270.00" fill="none" stroke="#c4c4c4" stroke-width="0.9" stroke-linejoin="round" stroke-linecap="round" opacity="0.6"/>
<polyline points="500.00,236.00 498.00,250.00 495.00,262.00" fill="none" stroke="#5a5a5a" stroke-width="2.6" stroke-linejoin="round" stroke-linecap="round" opacity="0.55"/>
<polyline points="500.00,236.00 498.00,250.00 495.00,262.00" fill="none" stroke="#c4c4c4" stroke-width="0.9" stroke-linejoin="round" stroke-linecap="round" opacity="0.6"/>
<polyline points="468.00,330.00 470.00,345.00 480.00,352.00 486.00,365.00 488.00,380.00 490.00,402.00" fill="none" stroke="#5a5a5a" stroke-width="2.6" stroke-linejoin="round" stroke-linecap="round" opacity="0.55"/>
<polyline points="468.00,330.00 470.00,345.00 480.00,352.00 486.00,365.00 488.00,380.00 490.00,402.00" fill="none" stroke="#c4c4c4" stroke-width="0.9" stroke-linejoin="round" stroke-linecap="round" opacity="0.6"/>
<polyline points="455.00,335.00 448.00,345.00 440.00,350.00 430.00,358.00" fill="none" stroke="#5a5a5a" stroke-width="2.6" stroke-linejoin="round" stroke-linecap="round" opacity="0.55"/>
<polyline points="455.00,335.00 448.00,345.00 440.00,350.00 430.00,358.00" fill="none" stroke="#c4c4c4" stroke-width="0.9" stroke-linejoin="round" stroke-linecap="round" opacity="0.6"/>
<polyline points="462.00,340.00 458.00,360.00 455.00,380.00 452.00,402.00" fill="none" stroke="#5a5a5a" stroke-width="2.6" stroke-linejoin="round" stroke-linecap="round" opacity="0.55"/>
<polyline points="462.00,340.00 458.00,360.00 455.00,380.00 452.00,402.00" fill="none" stroke="#c4c4c4" stroke-width="0.9" stroke-linejoin="round" stroke-linecap="round" opacity="0.6"/>
<polyline points="520.00,292.00 530.00,300.00 545.00,305.00 554.00,300.00" fill="none" stroke="#5a5a5a" stroke-width="2.6" stroke-linejoin="round" stroke-linecap="round" opacity="0.55"/>
<polyline points="520.00,292.00 530.00,300.00 545.00,305.00 554.00,300.00" fill="none" stroke="#c4c4c4" stroke-width="0.9" stroke-linejoin="round" stroke-linecap="round" opacity="0.6"/>
<polyline points="515.00,300.00 512.00,310.00 505.00,318.00" fill="none" stroke="#5a5a5a" stroke-width="2.6" stroke-linejoin="round" stroke-linecap="round" opacity="0.55"/>
<polyline points="515.00,300.00 512.00,310.00 505.00,318.00" fill="none" stroke="#c4c4c4" stroke-width="0.9" stroke-linejoin="round" stroke-linecap="round" opacity="0.6"/>
<polyline points="505.00,355.00 515.00,360.00 525.00,365.00" fill="none" stroke="#5a5a5a" stroke-width="2.6" stroke-linejoin="round" stroke-linecap="round" opacity="0.55"/>
<polyline points="505.00,355.00 515.00,360.00 525.00,365.00" fill="none" stroke="#c4c4c4" stroke-width="0.9" stroke-linejoin="round" stroke-linecap="round" opacity="0.6"/>
<polyline points="500.00,360.00 505.00,370.00 512.00,375.00" fill="none" stroke="#5a5a5a" stroke-width="2.6" stroke-linejoin="round" stroke-linecap="round" opacity="0.55"/>
<polyline points="500.00,360.00 505.00,370.00 512.00,375.00" fill="none" stroke="#c4c4c4" stroke-width="0.9" stroke-linejoin="round" stroke-linecap="round" opacity="0.6"/>
<polyline points="508.00,340.00 520.00,330.00 540.00,320.00 554.00,310.00" fill="none" stroke="#5a5a5a" stroke-width="2.6" stroke-linejoin="round" stroke-linecap="round" opacity="0.55"/>
<polyline points="508.00,340.00 520.00,330.00 540.00,320.00 554.00,310.00" fill="none" stroke="#c4c4c4" stroke-width="0.9" stroke-linejoin="round" stroke-linecap="round" opacity="0.6"/>
<polyline points="490.00,395.00 520.00,390.00 554.00,385.00" fill="none" stroke="#5a5a5a" stroke-width="2.6" stroke-linejoin="round" stroke-linecap="round" opacity="0.55"/>
<polyline points="490.00,395.00 520.00,390.00 554.00,385.00" fill="none" stroke="#c4c4c4" stroke-width="0.9" stroke-linejoin="round" stroke-linecap="round" opacity="0.6"/>
<polyline points="520.00,275.00 530.00,262.00 540.00,255.00 550.00,250.00" fill="none" stroke="#5a5a5a" stroke-width="2.6" stroke-linejoin="round" stroke-linecap="round" opacity="0.55"/>
<polyline points="520.00,275.00 530.00,262.00 540.00,255.00 550.00,250.00" fill="none" stroke="#c4c4c4" stroke-width="0.9" stroke-linejoin="round" stroke-linecap="round" opacity="0.6"/>
<polyline points="500.00,280.00 490.00,275.00 480.00,265.00 470.00,258.00" fill="none" stroke="#5a5a5a" stroke-width="2.6" stroke-linejoin="round" stroke-linecap="round" opacity="0.55"/>
<polyline points="500.00,280.00 490.00,275.00 480.00,265.00 470.00,258.00" fill="none" stroke="#c4c4c4" stroke-width="0.9" stroke-linejoin="round" stroke-linecap="round" opacity="0.6"/>
<polyline points="430.00,340.00 445.00,328.00 452.00,320.00" fill="none" stroke="#5a5a5a" stroke-width="2.6" stroke-linejoin="round" stroke-linecap="round" opacity="0.55"/>
<polyline points="430.00,340.00 445.00,328.00 452.00,320.00" fill="none" stroke="#c4c4c4" stroke-width="0.9" stroke-linejoin="round" stroke-linecap="round" opacity="0.6"/>
<polyline points="429.00,380.00 440.00,375.00 450.00,360.00" fill="none" stroke="#5a5a5a" stroke-width="2.6" stroke-linejoin="round" stroke-linecap="round" opacity="0.55"/>
<polyline points="429.00,380.00 440.00,375.00 450.00,360.00" fill="none" stroke="#c4c4c4" stroke-width="0.9" stroke-linejoin="round" stroke-linecap="round" opacity="0.6"/>
<polyline points="530.00,290.00 540.00,285.00 548.00,278.00" fill="none" stroke="#5a5a5a" stroke-width="2.6" stroke-linejoin="round" stroke-linecap="round" opacity="0.55"/>
<polyline points="530.00,290.00 540.00,285.00 548.00,278.00" fill="none" stroke="#c4c4c4" stroke-width="0.9" stroke-linejoin="round" stroke-linecap="round" opacity="0.6"/>
<ellipse cx="508.8" cy="288.5" rx="14" ry="12.5" fill="#505050"/>
<ellipse cx="508.8" cy="288.5" rx="13" ry="11.5" fill="#c8c8c8"/>
<ellipse cx="508.8" cy="288.5" rx="11.7" ry="10.2" fill="#666"/>
<circle cx="509.6" cy="296.5" r="0.9" fill="#525252"/><circle cx="506.9" cy="282.2" r="0.8" fill="#525252"/><circle cx="514.4" cy="287.5" r="0.9" fill="#888"/><circle cx="500.1" cy="289.8" r="0.6" fill="#525252"/><circle cx="508.4" cy="286.8" r="0.9" fill="#5e5e5e"/><circle cx="515.0" cy="288.6" r="0.7" fill="#888"/><circle cx="504.5" cy="292.0" r="0.6" fill="#7c7c7c"/><circle cx="506.4" cy="290.5" r="0.4" fill="#525252"/><circle cx="505.3" cy="292.5" r="0.7" fill="#888"/><circle cx="516.0" cy="295.0" r="0.6" fill="#7c7c7c"/><circle cx="515.3" cy="281.0" r="0.8" fill="#888"/><circle cx="500.2" cy="290.8" r="0.4" fill="#888"/><circle cx="508.3" cy="293.6" r="0.8" fill="#5e5e5e"/><circle cx="514.3" cy="285.1" r="0.6" fill="#7c7c7c"/><circle cx="514.5" cy="281.7" r="0.5" fill="#5e5e5e"/><circle cx="504.4" cy="286.5" r="0.5" fill="#525252"/><circle cx="516.9" cy="289.0" r="1.0" fill="#7c7c7c"/><circle cx="504.2" cy="283.3" r="0.8" fill="#5e5e5e"/><circle cx="512.4" cy="281.8" r="0.5" fill="#5e5e5e"/><circle cx="513.6" cy="282.5" r="0.4" fill="#525252"/><circle cx="508.5" cy="288.3" r="0.6" fill="#525252"/><circle cx="503.6" cy="291.8" r="0.5" fill="#5e5e5e"/><circle cx="502.9" cy="281.7" r="0.5" fill="#5e5e5e"/><circle cx="507.3" cy="296.2" r="0.9" fill="#7c7c7c"/><circle cx="503.6" cy="282.4" r="0.8" fill="#5e5e5e"/><circle cx="504.8" cy="280.3" r="0.5" fill="#888"/><circle cx="512.2" cy="296.4" r="1.0" fill="#7c7c7c"/><circle cx="508.1" cy="293.1" r="0.5" fill="#525252"/><circle cx="511.6" cy="279.0" r="0.6" fill="#7c7c7c"/><circle cx="507.8" cy="284.7" r="1.0" fill="#888"/><circle cx="512.6" cy="286.1" r="0.8" fill="#5e5e5e"/><circle cx="518.3" cy="290.8" r="0.6" fill="#525252"/>
<ellipse cx="467.9" cy="326.7" rx="13" ry="13.5" fill="#505050"/>
<ellipse cx="467.9" cy="326.7" rx="12" ry="12.5" fill="#bcbcbc"/>
<ellipse cx="467.9" cy="326.7" rx="10.7" ry="11.2" fill="#666"/>
<circle cx="474.0" cy="323.0" r="0.7" fill="#7c7c7c"/><circle cx="462.8" cy="334.7" r="0.4" fill="#525252"/><circle cx="462.6" cy="332.7" r="0.6" fill="#7c7c7c"/><circle cx="472.0" cy="335.7" r="0.9" fill="#7c7c7c"/><circle cx="465.3" cy="328.1" r="0.7" fill="#5e5e5e"/><circle cx="471.6" cy="322.9" r="0.8" fill="#7c7c7c"/><circle cx="468.8" cy="324.9" r="1.0" fill="#888"/><circle cx="474.1" cy="323.5" r="0.9" fill="#888"/><circle cx="473.0" cy="325.8" r="0.9" fill="#888"/><circle cx="467.3" cy="323.6" r="0.8" fill="#888"/><circle cx="468.4" cy="327.2" r="0.5" fill="#5e5e5e"/><circle cx="463.9" cy="323.8" r="0.7" fill="#525252"/><circle cx="460.7" cy="327.1" r="0.5" fill="#5e5e5e"/><circle cx="468.9" cy="318.8" r="0.6" fill="#888"/><circle cx="467.5" cy="327.3" r="1.0" fill="#5e5e5e"/><circle cx="464.2" cy="318.6" r="0.8" fill="#7c7c7c"/><circle cx="461.0" cy="330.7" r="0.9" fill="#525252"/><circle cx="467.6" cy="329.7" r="0.8" fill="#525252"/><circle cx="477.9" cy="328.7" r="0.5" fill="#5e5e5e"/><circle cx="469.7" cy="331.4" r="1.0" fill="#525252"/><circle cx="459.6" cy="330.9" r="0.6" fill="#888"/><circle cx="470.7" cy="331.7" r="0.9" fill="#7c7c7c"/><circle cx="460.8" cy="320.3" r="0.5" fill="#888"/><circle cx="467.8" cy="334.0" r="0.8" fill="#7c7c7c"/><circle cx="457.6" cy="324.9" r="0.4" fill="#7c7c7c"/><circle cx="466.6" cy="320.5" r="0.9" fill="#5e5e5e"/><circle cx="461.4" cy="319.8" r="0.6" fill="#525252"/><circle cx="473.6" cy="325.4" r="0.5" fill="#5e5e5e"/><circle cx="464.0" cy="334.6" r="0.8" fill="#5e5e5e"/><circle cx="470.1" cy="324.6" r="0.4" fill="#5e5e5e"/>
<ellipse cx="496.5" cy="351.2" rx="11.5" ry="11.5" fill="#505050"/>
<ellipse cx="496.5" cy="351.2" rx="10.5" ry="10.5" fill="#f0f0f0"/>
<ellipse cx="496.5" cy="351.2" rx="9.2" ry="9.2" fill="#666"/>
<circle cx="488.3" cy="354.4" r="0.5" fill="#5e5e5e"/><circle cx="497.6" cy="342.4" r="0.9" fill="#7c7c7c"/><circle cx="499.3" cy="347.6" r="0.6" fill="#525252"/><circle cx="499.0" cy="349.2" r="0.7" fill="#7c7c7c"/><circle cx="494.7" cy="345.1" r="0.8" fill="#888"/><circle cx="498.8" cy="347.5" r="0.8" fill="#525252"/><circle cx="488.3" cy="353.5" r="0.9" fill="#5e5e5e"/><circle cx="492.9" cy="349.4" r="0.9" fill="#7c7c7c"/><circle cx="495.5" cy="357.8" r="0.7" fill="#525252"/><circle cx="491.7" cy="350.4" r="1.0" fill="#5e5e5e"/><circle cx="492.4" cy="351.6" r="0.7" fill="#5e5e5e"/><circle cx="501.2" cy="352.3" r="0.5" fill="#5e5e5e"/><circle cx="501.6" cy="347.3" r="0.4" fill="#525252"/><circle cx="495.6" cy="350.6" r="0.9" fill="#5e5e5e"/><circle cx="489.4" cy="355.1" r="0.7" fill="#525252"/><circle cx="497.4" cy="353.8" r="0.6" fill="#5e5e5e"/><circle cx="499.2" cy="358.7" r="1.0" fill="#525252"/><circle cx="491.0" cy="352.1" r="0.7" fill="#7c7c7c"/><circle cx="499.3" cy="355.2" r="0.8" fill="#888"/><circle cx="494.9" cy="347.5" r="0.5" fill="#525252"/><circle cx="495.3" cy="348.8" r="0.8" fill="#5e5e5e"/><circle cx="489.6" cy="350.8" r="0.8" fill="#525252"/><circle cx="495.3" cy="347.7" r="0.7" fill="#5e5e5e"/><circle cx="494.6" cy="353.3" r="0.9" fill="#888"/><circle cx="497.3" cy="350.7" r="0.9" fill="#888"/><circle cx="498.7" cy="359.5" r="0.5" fill="#525252"/>
<ellipse cx="438" cy="277.6" rx="9" ry="10" fill="#505050"/>
<ellipse cx="438" cy="277.6" rx="8" ry="9" fill="#a8a8a8"/>
<ellipse cx="438" cy="277.6" rx="6.7" ry="7.7" fill="#666"/>
<circle cx="440.4" cy="281.1" r="0.9" fill="#5e5e5e"/><circle cx="441.6" cy="281.8" r="0.8" fill="#888"/><circle cx="437.9" cy="283.7" r="0.8" fill="#525252"/><circle cx="440.4" cy="276.2" r="0.9" fill="#5e5e5e"/><circle cx="435.7" cy="283.5" r="0.4" fill="#5e5e5e"/><circle cx="442.7" cy="280.7" r="0.7" fill="#5e5e5e"/><circle cx="443.3" cy="279.7" r="0.4" fill="#5e5e5e"/><circle cx="435.5" cy="275.4" r="0.8" fill="#888"/><circle cx="435.8" cy="278.9" r="0.9" fill="#525252"/><circle cx="436.9" cy="279.8" r="0.8" fill="#7c7c7c"/><circle cx="440.8" cy="274.5" r="0.7" fill="#525252"/><circle cx="434.5" cy="277.0" r="0.7" fill="#5e5e5e"/><circle cx="435.1" cy="282.0" r="0.6" fill="#5e5e5e"/><circle cx="437.8" cy="278.5" r="0.5" fill="#7c7c7c"/><circle cx="439.8" cy="279.5" r="1.0" fill="#7c7c7c"/><circle cx="440.9" cy="280.6" r="0.7" fill="#888"/><circle cx="433.0" cy="278.1" r="0.7" fill="#7c7c7c"/><circle cx="444.0" cy="279.2" r="0.9" fill="#7c7c7c"/><circle cx="436.1" cy="275.6" r="0.7" fill="#888"/><circle cx="436.2" cy="274.7" r="0.8" fill="#7c7c7c"/>
<circle cx="485.60" cy="332.10" r="5.30" fill="#e0e0e0" />
<circle cx="485.60" cy="332.10" r="4.50" fill="#3a3a3a" />
<circle cx="461.00" cy="276.20" r="3.40" fill="#e0e0e0" />
<circle cx="461.00" cy="276.20" r="2.60" fill="#3a3a3a" />
<circle cx="493.80" cy="284.40" r="3.40" fill="#e0e0e0" />
<circle cx="493.80" cy="284.40" r="2.60" fill="#3a3a3a" />
<circle cx="479.00" cy="300.00" r="2.80" fill="#e0e0e0" />
<circle cx="479.00" cy="300.00" r="2.00" fill="#3a3a3a" />
<circle cx="476.00" cy="306.00" r="2.80" fill="#e0e0e0" />
<circle cx="476.00" cy="306.00" r="2.00" fill="#3a3a3a" />
<circle cx="482.00" cy="310.00" r="2.60" fill="#e0e0e0" />
<circle cx="482.00" cy="310.00" r="1.80" fill="#3a3a3a" />
<circle cx="433.00" cy="291.00" r="3.30" fill="#e0e0e0" />
<circle cx="433.00" cy="291.00" r="2.50" fill="#3a3a3a" />
<circle cx="433.00" cy="300.00" r="2.80" fill="#e0e0e0" />
<circle cx="433.00" cy="300.00" r="2.00" fill="#3a3a3a" />
<circle cx="485.00" cy="292.00" r="3.00" fill="#e0e0e0" />
<circle cx="485.00" cy="292.00" r="2.20" fill="#3a3a3a" />
</g>
<text x="547.30" y="251.00" font-size="11.5" fill="#fff" text-anchor="end" >CMV-OC3</text>
<text x="435.20" y="394.80" font-size="11.5" fill="#fff" text-anchor="start" >DIC</text>
<text x="10.9" y="10.3" font-size="11.7" font-style="italic" fill="#222"><tspan fill="#62dc7e">ONECUT3</tspan> overexpression in Neuro-2a, 4DIV</text>
<text x="319.80" y="10.00" font-size="11.8" fill="#222" text-anchor="start" font-style="italic" >pHH3 quantifications Neuro-2a, 4DIV</text>
<text x="586.4" y="10.2" font-size="11.8" font-style="italic" fill="#222"><tspan fill="#62dc7e">OC3</tspan>/<tspan fill="#e3262b">Cas3</tspan>/<tspan fill="#5fcfe8">TUJ1</tspan></text>
<text x="10.5" y="226.6" font-size="11.7" font-style="italic" fill="#222"><tspan fill="#e3262b">ONECUT3</tspan> overexpression in Neuro-2a, 4DIV</text>
<text x="349.80" y="226.80" font-size="11.5" fill="#222" text-anchor="start" font-style="italic" >Incucyte measurements of Neuro-2a soma size, 4DIV</text>
<text x="36.50" y="445.20" font-size="11.78" fill="#222" text-anchor="start" font-style="italic" >Incucyte measurements of proliferation and neurite outgrowth</text>
<text x="474.40" y="445.40" font-size="11.7" fill="#222" text-anchor="start" font-style="italic" >ONECUT3 upregulated genes (red dots)</text>
<text x="294.30" y="36.10" font-size="16.5" fill="#111" text-anchor="start" >a</text>
<text x="304.40" y="39.90" font-size="8.5" fill="#111" text-anchor="start" >1</text>
<line x1="355.50" y1="50.80" x2="355.50" y2="181.80" stroke="#222" stroke-width="1.1" />
<line x1="352.00" y1="181.30" x2="413.70" y2="181.30" stroke="#222" stroke-width="1.1" />
<line x1="352.00" y1="181.30" x2="355.50" y2="181.30" stroke="#222" stroke-width="1" />
<text x="344.20" y="185.40" font-size="11.5" fill="#222" text-anchor="end" >0</text>
<line x1="352.00" y1="148.68" x2="355.50" y2="148.68" stroke="#222" stroke-width="1" />
<text x="344.20" y="152.78" font-size="11.5" fill="#222" text-anchor="end" >10</text>
<line x1="352.00" y1="116.05" x2="355.50" y2="116.05" stroke="#222" stroke-width="1" />
<text x="344.20" y="120.15" font-size="11.5" fill="#222" text-anchor="end" >20</text>
<line x1="352.00" y1="83.43" x2="355.50" y2="83.43" stroke="#222" stroke-width="1" />
<text x="344.20" y="87.53" font-size="11.5" fill="#222" text-anchor="end" >30</text>
<line x1="352.00" y1="50.80" x2="355.50" y2="50.80" stroke="#222" stroke-width="1" />
<text x="344.20" y="54.90" font-size="11.5" fill="#222" text-anchor="end" >40</text>
<text x="413.50" y="35.30" font-size="10" fill="#e3262b" text-anchor="end" >OC3/pHH3</text>
<text x="413.50" y="46.90" font-size="10" fill="#9a9a9a" text-anchor="end" >OC3</text>
<text transform="translate(310.70,116.30) rotate(-90)" font-size="11.7" fill="#222" text-anchor="middle">Onecut3<tspan dy="-4" font-size="6">+</tspan><tspan dy="4"> cell counts</tspan></text>
<text transform="translate(324.10,116.30) rotate(-90)" font-size="11.7" fill="#222" text-anchor="middle">per field</text>
<line x1="373.30" y1="64.30" x2="399.00" y2="64.30" stroke="#222" stroke-width="1.2" />
<text x="386.20" y="66.90" font-size="16.5" fill="#111" text-anchor="middle" >***</text>
<circle cx="373.30" cy="73.50" r="2.50" fill="#9e9ea2" />
<circle cx="373.30" cy="82.90" r="2.50" fill="#9e9ea2" />
<circle cx="373.30" cy="90.20" r="2.50" fill="#9e9ea2" />
<circle cx="373.30" cy="93.30" r="2.50" fill="#9e9ea2" />
<circle cx="373.30" cy="104.80" r="2.50" fill="#9e9ea2" />
<circle cx="373.30" cy="110.00" r="2.50" fill="#9e9ea2" />
<circle cx="373.30" cy="113.75" r="2.50" fill="#9e9ea2" />
<circle cx="373.30" cy="115.80" r="2.50" fill="#9e9ea2" />
<circle cx="373.30" cy="142.30" r="2.50" fill="#9e9ea2" />
<circle cx="373.30" cy="145.40" r="2.50" fill="#9e9ea2" />
<line x1="364.40" y1="103.75" x2="382.10" y2="103.75" stroke="#111" stroke-width="2.6" />
<line x1="373.30" y1="95.40" x2="373.30" y2="111.00" stroke="#111" stroke-width="1.1" />
<line x1="370.80" y1="95.40" x2="375.80" y2="95.40" stroke="#111" stroke-width="1.1" />
<line x1="370.80" y1="111.00" x2="375.80" y2="111.00" stroke="#111" stroke-width="1.1" />
<circle cx="398.80" cy="167.30" r="2.50" fill="#f19199" />
<circle cx="398.80" cy="169.40" r="2.50" fill="#f19199" />
<circle cx="398.80" cy="172.50" r="2.50" fill="#f19199" />
<circle cx="398.80" cy="176.70" r="2.50" fill="#f19199" />
<circle cx="398.80" cy="179.80" r="2.50" fill="#f19199" />
<circle cx="398.80" cy="180.80" r="2.50" fill="#f19199" />
<line x1="390.00" y1="176.30" x2="407.60" y2="176.30" stroke="#e3141c" stroke-width="2.6" />
<line x1="398.80" y1="173.80" x2="398.80" y2="178.80" stroke="#e3141c" stroke-width="1" />
<line x1="494.40" y1="50.80" x2="494.40" y2="181.70" stroke="#222" stroke-width="1.1" />
<line x1="491.00" y1="181.20" x2="539.50" y2="181.20" stroke="#222" stroke-width="1.1" />
<line x1="491.00" y1="181.20" x2="494.40" y2="181.20" stroke="#222" stroke-width="1" />
<text x="486.80" y="185.30" font-size="11.5" fill="#222" text-anchor="end" >0</text>
<line x1="491.00" y1="159.45" x2="494.40" y2="159.45" stroke="#222" stroke-width="1" />
<text x="486.80" y="163.55" font-size="11.5" fill="#222" text-anchor="end" >20</text>
<line x1="491.00" y1="137.70" x2="494.40" y2="137.70" stroke="#222" stroke-width="1" />
<text x="486.80" y="141.80" font-size="11.5" fill="#222" text-anchor="end" >40</text>
<line x1="491.00" y1="115.95" x2="494.40" y2="115.95" stroke="#222" stroke-width="1" />
<text x="486.80" y="120.05" font-size="11.5" fill="#222" text-anchor="end" >60</text>
<line x1="491.00" y1="94.20" x2="494.40" y2="94.20" stroke="#222" stroke-width="1" />
<text x="486.80" y="98.30" font-size="11.5" fill="#222" text-anchor="end" >80</text>
<line x1="491.00" y1="72.45" x2="494.40" y2="72.45" stroke="#222" stroke-width="1" />
<text x="486.80" y="76.55" font-size="11.5" fill="#222" text-anchor="end" >100</text>
<line x1="491.00" y1="50.70" x2="494.40" y2="50.70" stroke="#222" stroke-width="1" />
<text x="486.80" y="54.80" font-size="11.5" fill="#222" text-anchor="end" >120</text>
<text x="489.00" y="35.20" font-size="10" fill="#e3262b" text-anchor="start" >OC3/pHH3</text>
<rect x="505.60" y="72.45" width="13.10" height="108.75" fill="#e5e5e5" stroke="#333" stroke-width="1"/>
<rect x="506.10" y="72.95" width="12.10" height="4.61" fill="#ee1c1c"/>
<line x1="505.60" y1="77.56" x2="518.70" y2="77.56" stroke="#333" stroke-width="0.8" />
<rect x="505.60" y="72.45" width="13.10" height="108.75" fill="none" stroke="#333" stroke-width="1"/>
<text transform="translate(515.85,178.4) rotate(-90)" font-size="10" fill="#222">total OC3</text>
<rect x="526.30" y="72.45" width="12.90" height="108.75" fill="#e5e5e5" stroke="#333" stroke-width="1"/>
<rect x="526.80" y="72.95" width="11.90" height="2.33" fill="#ee1c1c"/>
<line x1="526.30" y1="75.28" x2="539.20" y2="75.28" stroke="#333" stroke-width="0.8" />
<rect x="526.30" y="72.45" width="12.90" height="108.75" fill="none" stroke="#333" stroke-width="1"/>
<text transform="translate(536.45,178.4) rotate(-90)" font-size="10" fill="#222">total pHH3</text>
<text transform="translate(449.30,117.50) rotate(-90)" font-size="11.7" fill="#222" text-anchor="middle">cell counts per field</text>
<text transform="translate(462.80,117.50) rotate(-90)" font-size="11.7" fill="#222" text-anchor="middle" font-style="italic">(percentage)</text>
<line x1="608.40" y1="255.80" x2="608.40" y2="379.80" stroke="#222" stroke-width="1.1" />
<line x1="605.00" y1="379.30" x2="680.60" y2="379.30" stroke="#222" stroke-width="1.1" />
<line x1="605.00" y1="379.30" x2="608.40" y2="379.30" stroke="#222" stroke-width="1" />
<text x="600.60" y="383.40" font-size="11.5" fill="#222" text-anchor="end" >0</text>
<line x1="605.00" y1="338.20" x2="608.40" y2="338.20" stroke="#222" stroke-width="1" />
<text x="600.60" y="342.30" font-size="11.5" fill="#222" text-anchor="end" >10</text>
<line x1="605.00" y1="297.10" x2="608.40" y2="297.10" stroke="#222" stroke-width="1" />
<text x="600.60" y="301.20" font-size="11.5" fill="#222" text-anchor="end" >20</text>
<line x1="605.00" y1="256.00" x2="608.40" y2="256.00" stroke="#222" stroke-width="1" />
<text x="600.60" y="260.10" font-size="11.5" fill="#222" text-anchor="end" >30</text>
<text x="644.30" y="398.80" font-size="11.7" fill="#222" text-anchor="middle" >3DPT</text>
<text transform="translate(579.00,317.10) rotate(-90)" font-size="11.7" fill="#222" text-anchor="middle">soma diameter (um)</text>
<text x="662.00" y="269.50" font-size="16.5" fill="#111" text-anchor="middle" >***</text>
<circle cx="632.00" cy="303.50" r="2.15" fill="#a2a2a6" />
<circle cx="632.20" cy="309.40" r="2.15" fill="#a2a2a6" />
<circle cx="632.20" cy="316.00" r="2.15" fill="#a2a2a6" />
<circle cx="635.80" cy="318.80" r="2.15" fill="#a2a2a6" />
<circle cx="630.75" cy="321.00" r="2.15" fill="#a2a2a6" />
<circle cx="632.70" cy="322.90" r="2.15" fill="#a2a2a6" />
<circle cx="630.30" cy="324.30" r="2.15" fill="#a2a2a6" />
<circle cx="634.10" cy="325.80" r="2.15" fill="#a2a2a6" />
<circle cx="628.80" cy="328.20" r="2.15" fill="#a2a2a6" />
<circle cx="635.10" cy="328.20" r="2.15" fill="#a2a2a6" />
<circle cx="641.30" cy="328.70" r="2.15" fill="#a2a2a6" />
<circle cx="642.80" cy="333.50" r="2.15" fill="#a2a2a6" />
<circle cx="619.20" cy="334.90" r="2.15" fill="#a2a2a6" />
<circle cx="622.60" cy="335.90" r="2.15" fill="#a2a2a6" />
<circle cx="626.40" cy="334.40" r="2.15" fill="#a2a2a6" />
<circle cx="631.20" cy="335.40" r="2.15" fill="#a2a2a6" />
<circle cx="637.00" cy="334.40" r="2.15" fill="#a2a2a6" />
<circle cx="624.50" cy="338.30" r="2.15" fill="#a2a2a6" />
<circle cx="628.80" cy="337.80" r="2.15" fill="#a2a2a6" />
<circle cx="633.60" cy="337.80" r="2.15" fill="#a2a2a6" />
<circle cx="638.40" cy="338.30" r="2.15" fill="#a2a2a6" />
<circle cx="625.50" cy="341.60" r="2.15" fill="#a2a2a6" />
<circle cx="630.30" cy="340.70" r="2.15" fill="#a2a2a6" />
<circle cx="635.10" cy="342.10" r="2.15" fill="#a2a2a6" />
<circle cx="639.40" cy="341.20" r="2.15" fill="#a2a2a6" />
<circle cx="631.70" cy="348.40" r="2.15" fill="#a2a2a6" />
<circle cx="621.60" cy="333.50" r="2.15" fill="#a2a2a6" />
<circle cx="627.40" cy="331.10" r="2.15" fill="#a2a2a6" />
<line x1="623.00" y1="330.90" x2="640.80" y2="330.90" stroke="#000" stroke-width="2" />
<line x1="632.00" y1="328.20" x2="632.00" y2="334.20" stroke="#333" stroke-width="0.8" />
<circle cx="655.90" cy="277.90" r="2.15" fill="#f08a90" />
<circle cx="660.40" cy="276.40" r="2.15" fill="#f08a90" />
<circle cx="664.00" cy="279.20" r="2.15" fill="#f08a90" />
<circle cx="661.70" cy="287.70" r="2.15" fill="#f08a90" />
<circle cx="662.00" cy="295.00" r="2.15" fill="#f08a90" />
<circle cx="662.00" cy="300.80" r="2.15" fill="#f08a90" />
<circle cx="662.00" cy="306.50" r="2.15" fill="#f08a90" />
<circle cx="660.40" cy="310.80" r="2.15" fill="#f08a90" />
<circle cx="665.50" cy="311.00" r="2.15" fill="#f08a90" />
<circle cx="667.40" cy="312.30" r="2.15" fill="#f08a90" />
<circle cx="654.00" cy="319.40" r="2.15" fill="#f08a90" />
<circle cx="657.80" cy="318.10" r="2.15" fill="#f08a90" />
<circle cx="663.00" cy="316.80" r="2.15" fill="#f08a90" />
<circle cx="668.70" cy="316.80" r="2.15" fill="#f08a90" />
<circle cx="673.80" cy="317.40" r="2.15" fill="#f08a90" />
<circle cx="656.50" cy="323.80" r="2.15" fill="#f08a90" />
<circle cx="661.70" cy="322.60" r="2.15" fill="#f08a90" />
<circle cx="666.80" cy="321.30" r="2.15" fill="#f08a90" />
<circle cx="659.10" cy="326.40" r="2.15" fill="#f08a90" />
<circle cx="664.90" cy="327.00" r="2.15" fill="#f08a90" />
<circle cx="653.30" cy="328.30" r="2.15" fill="#f08a90" />
<circle cx="670.60" cy="329.60" r="2.15" fill="#f08a90" />
<circle cx="657.20" cy="331.50" r="2.15" fill="#f08a90" />
<circle cx="663.00" cy="332.80" r="2.15" fill="#f08a90" />
<circle cx="668.00" cy="332.20" r="2.15" fill="#f08a90" />
<circle cx="660.40" cy="333.50" r="2.15" fill="#f08a90" />
<circle cx="662.30" cy="342.40" r="2.15" fill="#f08a90" />
<circle cx="654.00" cy="314.90" r="2.15" fill="#f08a90" />
<circle cx="659.70" cy="313.60" r="2.15" fill="#f08a90" />
<line x1="653.30" y1="314.20" x2="670.60" y2="314.20" stroke="#e0141a" stroke-width="2" />
<line x1="662.00" y1="309.10" x2="662.00" y2="319.40" stroke="#c33" stroke-width="0.8" />
<line x1="660.00" y1="309.10" x2="664.00" y2="309.10" stroke="#c33" stroke-width="0.8" />
<line x1="660.00" y1="319.40" x2="664.00" y2="319.40" stroke="#c33" stroke-width="0.8" />
<text x="0.40" y="468.90" font-size="16.5" fill="#111" text-anchor="start" >d</text>
<text x="10.00" y="472.60" font-size="9" fill="#111" text-anchor="start" >1</text>
<line x1="62.70" y1="462.80" x2="62.70" y2="587.40" stroke="#222" stroke-width="1.1" />
<line x1="58.20" y1="586.90" x2="186.80" y2="586.90" stroke="#222" stroke-width="1.1" />
<line x1="58.30" y1="477.50" x2="62.70" y2="477.50" stroke="#222" stroke-width="1" />
<line x1="58.30" y1="491.42" x2="62.70" y2="491.42" stroke="#222" stroke-width="1" />
<line x1="58.30" y1="505.34" x2="62.70" y2="505.34" stroke="#222" stroke-width="1" />
<line x1="58.30" y1="519.26" x2="62.70" y2="519.26" stroke="#222" stroke-width="1" />
<line x1="58.30" y1="533.18" x2="62.70" y2="533.18" stroke="#222" stroke-width="1" />
<line x1="58.30" y1="547.10" x2="62.70" y2="547.10" stroke="#222" stroke-width="1" />
<line x1="58.30" y1="561.02" x2="62.70" y2="561.02" stroke="#222" stroke-width="1" />
<line x1="58.30" y1="574.94" x2="62.70" y2="574.94" stroke="#222" stroke-width="1" />
<text x="54.00" y="481.50" font-size="11.4" fill="#222" text-anchor="end" >0.48</text>
<text x="54.00" y="509.34" font-size="11.4" fill="#222" text-anchor="end" >0.36</text>
<text x="54.00" y="537.18" font-size="11.4" fill="#222" text-anchor="end" >0.24</text>
<text x="54.00" y="565.02" font-size="11.4" fill="#222" text-anchor="end" >0.12</text>
<line x1="70.10" y1="586.90" x2="70.10" y2="590.70" stroke="#222" stroke-width="1" />
<text x="70.10" y="604.30" font-size="11" fill="#222" text-anchor="middle" >0</text>
<line x1="93.40" y1="586.90" x2="93.40" y2="590.70" stroke="#222" stroke-width="1" />
<text x="93.40" y="604.30" font-size="11" fill="#222" text-anchor="middle" >1</text>
<line x1="116.70" y1="586.90" x2="116.70" y2="590.70" stroke="#222" stroke-width="1" />
<text x="116.70" y="604.30" font-size="11" fill="#222" text-anchor="middle" >2</text>
<line x1="140.00" y1="586.90" x2="140.00" y2="590.70" stroke="#222" stroke-width="1" />
<text x="140.00" y="604.30" font-size="11" fill="#222" text-anchor="middle" >3</text>
<line x1="163.30" y1="586.90" x2="163.30" y2="590.70" stroke="#222" stroke-width="1" />
<text x="163.30" y="604.30" font-size="11" fill="#222" text-anchor="middle" >4</text>
<line x1="186.60" y1="586.90" x2="186.60" y2="590.70" stroke="#222" stroke-width="1" />
<text x="186.60" y="604.30" font-size="11" fill="#222" text-anchor="middle" >5</text>
<text x="128.60" y="620.30" font-size="11.6" fill="#222" text-anchor="middle" >time (days)</text>
<text transform="translate(9.80,532.40) rotate(-90)" font-size="11.6" fill="#222" text-anchor="middle">Cell cluster area</text>
<text transform="translate(23.00,531.90) rotate(-90)" font-size="11.6" fill="#222" text-anchor="middle">(mm<tspan dy="-4.5" font-size="6.5">2</tspan><tspan dy="4.5">/mm</tspan><tspan dy="-4.5" font-size="6.5">2</tspan><tspan dy="4.5">)</tspan></text>
<text x="70.70" y="481.10" font-size="10" fill="#222" text-anchor="start" >control</text>
<text x="70.70" y="494.70" font-size="10" fill="#e3262b" text-anchor="start" >CMV-OC3</text>
<polyline points="69.40,574.20 76.70,572.50 82.90,569.40 88.10,566.30 90.80,562.10 96.50,555.80 103.75,547.50 110.00,540.20 116.25,534.00 117.90,537.50 120.40,532.90 126.70,524.60 131.90,518.30 135.00,514.60 138.10,508.30 142.30,505.80 147.50,500.60 151.70,497.10 155.80,493.30 160.00,489.80 163.00,488.60 166.25,488.10 169.50,488.30 172.50,489.20 175.60,490.60 178.75,492.30 183.50,495.40" fill="none" stroke="#1a1a1a" stroke-width="1.3" stroke-linejoin="round" stroke-linecap="round" />
<polyline points="70.80,576.70 78.75,574.20 87.10,571.90 90.50,570.00 93.30,568.30 101.70,566.25 110.00,563.10 116.25,560.60 120.40,561.50 126.70,557.90 132.90,553.75 139.20,549.60 143.30,550.20 149.60,548.50 155.80,548.10 160.00,547.10 165.20,547.50 169.00,545.80 172.50,544.40 178.75,544.00 183.50,541.90" fill="none" stroke="#e0282b" stroke-width="1.3" stroke-linejoin="round" stroke-linecap="round" />
<text x="214.00" y="468.90" font-size="16.5" fill="#111" text-anchor="start" >d</text>
<text x="223.60" y="472.60" font-size="9" fill="#111" text-anchor="start" >2</text>
<line x1="260.10" y1="463.00" x2="260.10" y2="587.60" stroke="#222" stroke-width="1.1" />
<line x1="255.80" y1="587.10" x2="384.80" y2="587.10" stroke="#222" stroke-width="1.1" />
<line x1="255.60" y1="472.30" x2="260.10" y2="472.30" stroke="#222" stroke-width="1" />
<line x1="255.60" y1="485.07" x2="260.10" y2="485.07" stroke="#222" stroke-width="1" />
<line x1="255.60" y1="497.84" x2="260.10" y2="497.84" stroke="#222" stroke-width="1" />
<line x1="255.60" y1="510.61" x2="260.10" y2="510.61" stroke="#222" stroke-width="1" />
<line x1="255.60" y1="523.38" x2="260.10" y2="523.38" stroke="#222" stroke-width="1" />
<line x1="255.60" y1="536.15" x2="260.10" y2="536.15" stroke="#222" stroke-width="1" />
<line x1="255.60" y1="548.92" x2="260.10" y2="548.92" stroke="#222" stroke-width="1" />
<line x1="255.60" y1="561.69" x2="260.10" y2="561.69" stroke="#222" stroke-width="1" />
<line x1="255.60" y1="574.46" x2="260.10" y2="574.46" stroke="#222" stroke-width="1" />
<text x="251.90" y="489.07" font-size="11.4" fill="#222" text-anchor="end" >48</text>
<text x="251.90" y="514.61" font-size="11.4" fill="#222" text-anchor="end" >36</text>
<text x="251.90" y="540.15" font-size="11.4" fill="#222" text-anchor="end" >24</text>
<text x="251.90" y="565.69" font-size="11.4" fill="#222" text-anchor="end" >12</text>
<line x1="268.00" y1="587.10" x2="268.00" y2="590.90" stroke="#222" stroke-width="1" />
<text x="268.00" y="604.30" font-size="11" fill="#222" text-anchor="middle" >0</text>
<line x1="291.35" y1="587.10" x2="291.35" y2="590.90" stroke="#222" stroke-width="1" />
<text x="291.35" y="604.30" font-size="11" fill="#222" text-anchor="middle" >1</text>
<line x1="314.70" y1="587.10" x2="314.70" y2="590.90" stroke="#222" stroke-width="1" />
<text x="314.70" y="604.30" font-size="11" fill="#222" text-anchor="middle" >2</text>
<line x1="338.05" y1="587.10" x2="338.05" y2="590.90" stroke="#222" stroke-width="1" />
<text x="338.05" y="604.30" font-size="11" fill="#222" text-anchor="middle" >3</text>
<line x1="361.40" y1="587.10" x2="361.40" y2="590.90" stroke="#222" stroke-width="1" />
<text x="361.40" y="604.30" font-size="11" fill="#222" text-anchor="middle" >4</text>
<line x1="384.75" y1="587.10" x2="384.75" y2="590.90" stroke="#222" stroke-width="1" />
<text x="384.75" y="604.30" font-size="11" fill="#222" text-anchor="middle" >5</text>
<text x="324.40" y="620.30" font-size="11.6" fill="#222" text-anchor="middle" >time (days)</text>
<text transform="translate(218.10,532.40) rotate(-90)" font-size="11.7" fill="#222" text-anchor="middle">Neurite length</text>
<text transform="translate(231.20,531.50) rotate(-90)" font-size="11.6" fill="#222" text-anchor="middle">(mm/mm<tspan dy="-4.5" font-size="6.5">2</tspan><tspan dy="4.5">)</tspan></text>
<text x="268.90" y="481.10" font-size="10" fill="#222" text-anchor="start" >control</text>
<text x="268.90" y="494.70" font-size="10" fill="#e3262b" text-anchor="start" >CMV-OC3</text>
<polyline points="267.30,575.50 268.90,576.20 273.00,571.10 277.40,564.30 281.90,557.60 286.40,552.00 289.80,549.70 294.30,545.30 298.80,538.50 303.20,531.80 308.80,524.00 313.30,517.20 314.50,513.80 315.10,504.90 316.70,506.00 322.30,506.20 329.00,507.60 333.50,509.80 335.80,512.30 339.10,513.20 344.70,517.20 351.50,523.90 358.20,534.00 364.90,545.30 371.70,554.20 377.30,559.80 380.60,562.10" fill="none" stroke="#1a1a1a" stroke-width="1.3" stroke-linejoin="round" stroke-linecap="round" />
<polyline points="267.30,576.20 268.90,577.10 273.00,573.30 277.40,571.10 283.00,569.30 288.70,568.40 292.00,567.20 295.40,562.10 299.90,554.20 305.50,543.00 311.10,529.60 316.70,517.20 322.30,508.20 326.80,502.60 331.30,499.70 335.80,498.60 341.40,494.80 349.20,494.10 356.00,494.10 361.60,493.70 367.20,494.10 373.90,493.70 378.40,494.80 380.60,499.30" fill="none" stroke="#e0282b" stroke-width="1.3" stroke-linejoin="round" stroke-linecap="round" />
<text x="414.30" y="468.90" font-size="16.5" fill="#111" text-anchor="start" >e</text>
<line x1="466.60" y1="462.90" x2="466.60" y2="586.90" stroke="#222" stroke-width="1.1" />
<line x1="466.60" y1="586.40" x2="675.00" y2="586.40" stroke="#222" stroke-width="1.1" />
<line x1="463.20" y1="462.90" x2="466.60" y2="462.90" stroke="#222" stroke-width="1" />
<text x="459.40" y="467.00" font-size="11.7" fill="#222" text-anchor="end" >10.0</text>
<line x1="463.20" y1="493.60" x2="466.60" y2="493.60" stroke="#222" stroke-width="1" />
<text x="459.40" y="497.70" font-size="11.7" fill="#222" text-anchor="end" >7.5</text>
<line x1="463.20" y1="526.10" x2="466.60" y2="526.10" stroke="#222" stroke-width="1" />
<text x="459.40" y="530.20" font-size="11.7" fill="#222" text-anchor="end" >5.0</text>
<line x1="463.20" y1="556.40" x2="466.60" y2="556.40" stroke="#222" stroke-width="1" />
<text x="459.40" y="560.50" font-size="11.7" fill="#222" text-anchor="end" >2.5</text>
<line x1="463.20" y1="586.30" x2="466.60" y2="586.30" stroke="#222" stroke-width="1" />
<text x="459.40" y="590.40" font-size="11.7" fill="#222" text-anchor="end" >0</text>
<line x1="499.80" y1="586.40" x2="499.80" y2="590.20" stroke="#222" stroke-width="1" />
<text x="499.80" y="604.60" font-size="11.5" fill="#222" text-anchor="middle" >0</text>
<line x1="557.70" y1="586.40" x2="557.70" y2="590.20" stroke="#222" stroke-width="1" />
<text x="557.70" y="604.60" font-size="11.5" fill="#222" text-anchor="middle" >5</text>
<line x1="615.60" y1="586.40" x2="615.60" y2="590.20" stroke="#222" stroke-width="1" />
<text x="615.60" y="604.60" font-size="11.5" fill="#222" text-anchor="middle" >10</text>
<line x1="673.50" y1="586.40" x2="673.50" y2="590.20" stroke="#222" stroke-width="1" />
<text x="673.50" y="604.60" font-size="11.5" fill="#222" text-anchor="middle" >15</text>
<text x="571.20" y="620.50" font-size="11.6" fill="#222" text-anchor="middle" >log2(basemean)</text>
<text transform="translate(435.20,523.30) rotate(-90)" font-size="11.7" fill="#222" text-anchor="middle">log2FoldChange</text>
<g fill="#7a7a7a"><circle cx="523.6" cy="585.1" r="0.95"/><circle cx="480.0" cy="585.4" r="0.95"/><circle cx="560.5" cy="586.0" r="0.95"/><circle cx="555.5" cy="585.9" r="0.95"/><circle cx="473.9" cy="586.0" r="0.95"/><circle cx="483.1" cy="586.2" r="0.95"/><circle cx="541.1" cy="585.9" r="0.95"/><circle cx="506.2" cy="586.0" r="0.95"/><circle cx="576.4" cy="584.5" r="0.95"/><circle cx="536.3" cy="585.7" r="0.95"/><circle cx="637.0" cy="583.5" r="0.95"/><circle cx="517.7" cy="585.5" r="0.95"/><circle cx="492.4" cy="585.8" r="0.95"/><circle cx="609.1" cy="585.4" r="0.95"/><circle cx="498.8" cy="585.4" r="0.95"/><circle cx="532.1" cy="585.3" r="0.95"/><circle cx="562.5" cy="585.8" r="0.95"/><circle cx="503.2" cy="586.2" r="0.95"/><circle cx="585.6" cy="585.1" r="0.95"/><circle cx="569.1" cy="585.7" r="0.95"/><circle cx="546.1" cy="585.5" r="0.95"/><circle cx="588.8" cy="583.8" r="0.95"/><circle cx="509.8" cy="585.5" r="0.95"/><circle cx="619.4" cy="585.5" r="0.95"/><circle cx="594.1" cy="585.3" r="0.95"/><circle cx="487.9" cy="584.3" r="0.95"/><circle cx="540.0" cy="586.3" r="0.95"/><circle cx="552.3" cy="585.5" r="0.95"/><circle cx="474.2" cy="585.7" r="0.95"/><circle cx="566.9" cy="584.1" r="0.95"/><circle cx="619.4" cy="585.4" r="0.95"/><circle cx="570.6" cy="584.2" r="0.95"/><circle cx="568.1" cy="583.6" r="0.95"/><circle cx="631.5" cy="585.5" r="0.95"/><circle cx="549.7" cy="586.0" r="0.95"/><circle cx="589.2" cy="585.9" r="0.95"/><circle cx="579.8" cy="583.6" r="0.95"/><circle cx="516.8" cy="586.2" r="0.95"/><circle cx="534.4" cy="586.1" r="0.95"/><circle cx="547.6" cy="586.0" r="0.95"/><circle cx="496.6" cy="586.1" r="0.95"/><circle cx="600.8" cy="586.0" r="0.95"/><circle cx="489.8" cy="586.3" r="0.95"/><circle cx="618.7" cy="584.8" r="0.95"/><circle cx="481.4" cy="585.4" r="0.95"/><circle cx="620.8" cy="585.7" r="0.95"/><circle cx="609.7" cy="585.5" r="0.95"/><circle cx="539.5" cy="585.4" r="0.95"/><circle cx="529.7" cy="583.5" r="0.95"/><circle cx="493.6" cy="585.1" r="0.95"/><circle cx="498.0" cy="586.2" r="0.95"/><circle cx="551.6" cy="585.2" r="0.95"/><circle cx="569.7" cy="586.3" r="0.95"/><circle cx="540.1" cy="586.2" r="0.95"/><circle cx="531.5" cy="583.0" r="0.95"/><circle cx="587.3" cy="584.8" r="0.95"/><circle cx="556.9" cy="584.7" r="0.95"/><circle cx="476.8" cy="585.6" r="0.95"/><circle cx="623.6" cy="585.7" r="0.95"/><circle cx="606.0" cy="583.3" r="0.95"/><circle cx="535.5" cy="585.7" r="0.95"/><circle cx="577.6" cy="585.9" r="0.95"/><circle cx="478.2" cy="585.8" r="0.95"/><circle cx="495.6" cy="586.1" r="0.95"/><circle cx="526.4" cy="586.3" r="0.95"/><circle cx="493.7" cy="586.3" r="0.95"/><circle cx="485.0" cy="586.2" r="0.95"/><circle cx="619.2" cy="586.0" r="0.95"/><circle cx="574.0" cy="585.6" r="0.95"/><circle cx="527.7" cy="585.4" r="0.95"/><circle cx="530.6" cy="584.2" r="0.95"/><circle cx="639.9" cy="584.3" r="0.95"/><circle cx="548.3" cy="585.7" r="0.95"/><circle cx="485.1" cy="586.3" r="0.95"/><circle cx="526.9" cy="586.0" r="0.95"/><circle cx="495.4" cy="584.9" r="0.95"/><circle cx="471.4" cy="585.4" r="0.95"/><circle cx="492.8" cy="586.0" r="0.95"/><circle cx="561.7" cy="584.5" r="0.95"/><circle cx="637.3" cy="586.0" r="0.95"/><circle cx="617.3" cy="585.9" r="0.95"/><circle cx="531.1" cy="585.2" r="0.95"/><circle cx="496.4" cy="586.2" r="0.95"/><circle cx="602.7" cy="584.5" r="0.95"/><circle cx="524.6" cy="585.8" r="0.95"/><circle cx="638.5" cy="583.6" r="0.95"/><circle cx="615.5" cy="585.4" r="0.95"/><circle cx="595.9" cy="583.7" r="0.95"/><circle cx="506.8" cy="585.6" r="0.95"/><circle cx="472.4" cy="586.2" r="0.95"/><circle cx="472.2" cy="586.2" r="0.95"/><circle cx="587.7" cy="585.2" r="0.95"/><circle cx="633.5" cy="583.0" r="0.95"/><circle cx="639.0" cy="585.2" r="0.95"/><circle cx="633.3" cy="585.6" r="0.95"/><circle cx="506.8" cy="585.9" r="0.95"/><circle cx="501.5" cy="586.0" r="0.95"/><circle cx="623.8" cy="584.3" r="0.95"/><circle cx="613.4" cy="584.2" r="0.95"/><circle cx="606.3" cy="586.0" r="0.95"/><circle cx="482.1" cy="585.4" r="0.95"/><circle cx="603.3" cy="583.6" r="0.95"/><circle cx="597.7" cy="585.4" r="0.95"/><circle cx="604.4" cy="586.2" r="0.95"/><circle cx="525.1" cy="585.1" r="0.95"/><circle cx="536.1" cy="582.6" r="0.95"/><circle cx="537.1" cy="584.1" r="0.95"/><circle cx="496.9" cy="585.9" r="0.95"/><circle cx="489.4" cy="585.4" r="0.95"/><circle cx="607.5" cy="583.7" r="0.95"/><circle cx="492.8" cy="585.3" r="0.95"/><circle cx="581.5" cy="582.6" r="0.95"/><circle cx="528.2" cy="585.6" r="0.95"/><circle cx="469.8" cy="586.2" r="0.95"/><circle cx="636.0" cy="585.2" r="0.95"/><circle cx="629.5" cy="584.8" r="0.95"/><circle cx="542.7" cy="584.4" r="0.95"/><circle cx="504.0" cy="585.3" r="0.95"/><circle cx="511.1" cy="586.2" r="0.95"/><circle cx="569.2" cy="585.2" r="0.95"/><circle cx="512.4" cy="585.6" r="0.95"/><circle cx="625.4" cy="585.9" r="0.95"/><circle cx="528.8" cy="584.4" r="0.95"/><circle cx="624.5" cy="585.8" r="0.95"/><circle cx="540.4" cy="584.8" r="0.95"/><circle cx="559.8" cy="585.4" r="0.95"/><circle cx="558.3" cy="584.7" r="0.95"/><circle cx="499.2" cy="586.2" r="0.95"/><circle cx="468.1" cy="586.2" r="0.95"/><circle cx="549.6" cy="585.4" r="0.95"/><circle cx="593.3" cy="585.1" r="0.95"/><circle cx="557.4" cy="585.8" r="0.95"/><circle cx="563.9" cy="586.2" r="0.95"/><circle cx="564.7" cy="585.6" r="0.95"/><circle cx="510.5" cy="586.1" r="0.95"/><circle cx="555.6" cy="583.8" r="0.95"/><circle cx="564.9" cy="586.1" r="0.95"/><circle cx="544.4" cy="583.0" r="0.95"/><circle cx="573.8" cy="584.5" r="0.95"/><circle cx="587.7" cy="586.2" r="0.95"/><circle cx="545.9" cy="584.7" r="0.95"/><circle cx="630.9" cy="586.0" r="0.95"/><circle cx="588.8" cy="583.8" r="0.95"/><circle cx="512.5" cy="583.8" r="0.95"/><circle cx="564.6" cy="583.7" r="0.95"/><circle cx="491.2" cy="585.8" r="0.95"/><circle cx="488.5" cy="586.0" r="0.95"/><circle cx="509.2" cy="586.2" r="0.95"/><circle cx="480.1" cy="585.7" r="0.95"/><circle cx="623.2" cy="584.0" r="0.95"/><circle cx="494.2" cy="586.1" r="0.95"/><circle cx="492.2" cy="585.2" r="0.95"/><circle cx="620.7" cy="585.3" r="0.95"/><circle cx="632.8" cy="586.1" r="0.95"/><circle cx="536.6" cy="581.8" r="0.95"/><circle cx="612.0" cy="585.9" r="0.95"/><circle cx="495.4" cy="585.5" r="0.95"/><circle cx="526.3" cy="585.6" r="0.95"/><circle cx="501.4" cy="585.8" r="0.95"/><circle cx="470.8" cy="585.2" r="0.95"/><circle cx="563.6" cy="586.0" r="0.95"/><circle cx="525.0" cy="586.2" r="0.95"/><circle cx="575.8" cy="585.8" r="0.95"/><circle cx="638.5" cy="586.3" r="0.95"/><circle cx="604.3" cy="585.6" r="0.95"/><circle cx="513.5" cy="586.2" r="0.95"/><circle cx="474.3" cy="586.2" r="0.95"/><circle cx="489.9" cy="585.7" r="0.95"/><circle cx="540.7" cy="584.0" r="0.95"/><circle cx="512.3" cy="584.9" r="0.95"/><circle cx="493.3" cy="585.5" r="0.95"/><circle cx="589.0" cy="585.4" r="0.95"/><circle cx="482.9" cy="585.2" r="0.95"/><circle cx="541.3" cy="585.5" r="0.95"/><circle cx="480.0" cy="585.3" r="0.95"/><circle cx="606.6" cy="585.5" r="0.95"/><circle cx="481.9" cy="586.1" r="0.95"/><circle cx="617.2" cy="585.9" r="0.95"/><circle cx="546.2" cy="585.3" r="0.95"/><circle cx="628.3" cy="584.7" r="0.95"/><circle cx="513.9" cy="585.1" r="0.95"/><circle cx="508.8" cy="585.6" r="0.95"/><circle cx="486.4" cy="586.2" r="0.95"/><circle cx="502.4" cy="586.1" r="0.95"/><circle cx="521.6" cy="585.5" r="0.95"/><circle cx="517.7" cy="584.0" r="0.95"/><circle cx="554.2" cy="585.7" r="0.95"/><circle cx="470.5" cy="585.7" r="0.95"/><circle cx="510.9" cy="585.1" r="0.95"/><circle cx="563.1" cy="586.1" r="0.95"/><circle cx="500.3" cy="584.6" r="0.95"/><circle cx="485.8" cy="586.0" r="0.95"/><circle cx="609.6" cy="584.7" r="0.95"/><circle cx="612.3" cy="585.6" r="0.95"/><circle cx="535.7" cy="584.1" r="0.95"/><circle cx="638.0" cy="586.2" r="0.95"/><circle cx="526.9" cy="585.2" r="0.95"/><circle cx="577.8" cy="584.3" r="0.95"/><circle cx="537.7" cy="586.0" r="0.95"/><circle cx="489.9" cy="586.1" r="0.95"/><circle cx="479.7" cy="586.3" r="0.95"/><circle cx="495.7" cy="585.7" r="0.95"/><circle cx="482.1" cy="585.5" r="0.95"/><circle cx="583.8" cy="583.8" r="0.95"/><circle cx="516.3" cy="586.2" r="0.95"/><circle cx="547.2" cy="585.1" r="0.95"/><circle cx="494.7" cy="585.8" r="0.95"/><circle cx="634.4" cy="585.9" r="0.95"/><circle cx="636.3" cy="585.2" r="0.95"/><circle cx="635.1" cy="586.0" r="0.95"/><circle cx="521.1" cy="586.3" r="0.95"/><circle cx="533.7" cy="586.2" r="0.95"/><circle cx="549.8" cy="585.3" r="0.95"/><circle cx="555.0" cy="586.3" r="0.95"/><circle cx="468.2" cy="586.3" r="0.95"/><circle cx="536.8" cy="585.7" r="0.95"/><circle cx="474.6" cy="585.7" r="0.95"/><circle cx="507.8" cy="586.2" r="0.95"/><circle cx="569.1" cy="583.9" r="0.95"/><circle cx="581.6" cy="585.9" r="0.95"/><circle cx="591.7" cy="585.2" r="0.95"/><circle cx="524.0" cy="585.3" r="0.95"/><circle cx="638.4" cy="584.9" r="0.95"/><circle cx="579.1" cy="584.4" r="0.95"/><circle cx="475.0" cy="585.5" r="0.95"/><circle cx="576.3" cy="583.6" r="0.95"/><circle cx="594.8" cy="586.0" r="0.95"/><circle cx="558.4" cy="585.6" r="0.95"/><circle cx="555.0" cy="584.9" r="0.95"/><circle cx="610.9" cy="584.0" r="0.95"/><circle cx="568.8" cy="584.6" r="0.95"/><circle cx="587.8" cy="584.9" r="0.95"/><circle cx="507.3" cy="585.9" r="0.95"/><circle cx="530.0" cy="586.1" r="0.95"/><circle cx="485.6" cy="585.8" r="0.95"/><circle cx="576.4" cy="584.7" r="0.95"/><circle cx="576.2" cy="585.6" r="0.95"/><circle cx="468.0" cy="585.5" r="0.95"/><circle cx="605.9" cy="586.3" r="0.95"/><circle cx="560.3" cy="584.6" r="0.95"/><circle cx="581.9" cy="584.1" r="0.95"/><circle cx="511.2" cy="585.8" r="0.95"/><circle cx="480.3" cy="586.2" r="0.95"/><circle cx="503.0" cy="585.1" r="0.95"/><circle cx="595.9" cy="584.6" r="0.95"/><circle cx="533.8" cy="586.0" r="0.95"/><circle cx="550.6" cy="585.3" r="0.95"/><circle cx="574.5" cy="584.0" r="0.95"/><circle cx="579.0" cy="585.6" r="0.95"/><circle cx="511.5" cy="585.9" r="0.95"/><circle cx="596.5" cy="585.7" r="0.95"/><circle cx="469.5" cy="585.4" r="0.95"/><circle cx="477.9" cy="586.2" r="0.95"/><circle cx="587.6" cy="584.1" r="0.95"/><circle cx="584.7" cy="585.8" r="0.95"/><circle cx="548.1" cy="584.6" r="0.95"/><circle cx="548.4" cy="584.0" r="0.95"/><circle cx="502.0" cy="585.2" r="0.95"/><circle cx="637.3" cy="586.0" r="0.95"/><circle cx="547.1" cy="586.2" r="0.95"/><circle cx="609.8" cy="584.7" r="0.95"/><circle cx="514.0" cy="586.0" r="0.95"/><circle cx="503.8" cy="585.8" r="0.95"/><circle cx="568.4" cy="586.0" r="0.95"/><circle cx="492.0" cy="584.5" r="0.95"/><circle cx="490.4" cy="586.0" r="0.95"/><circle cx="609.8" cy="583.2" r="0.95"/><circle cx="589.5" cy="586.1" r="0.95"/><circle cx="507.6" cy="585.6" r="0.95"/><circle cx="471.7" cy="585.8" r="0.95"/><circle cx="468.0" cy="585.5" r="0.95"/><circle cx="519.8" cy="586.2" r="0.95"/><circle cx="491.8" cy="585.9" r="0.95"/><circle cx="613.3" cy="585.2" r="0.95"/><circle cx="467.7" cy="586.3" r="0.95"/><circle cx="488.2" cy="584.9" r="0.95"/><circle cx="628.3" cy="585.6" r="0.95"/><circle cx="517.7" cy="583.2" r="0.95"/><circle cx="532.0" cy="582.1" r="0.95"/><circle cx="569.7" cy="582.9" r="0.95"/><circle cx="530.0" cy="585.2" r="0.95"/><circle cx="475.8" cy="586.0" r="0.95"/><circle cx="485.0" cy="586.0" r="0.95"/><circle cx="629.9" cy="585.3" r="0.95"/><circle cx="510.7" cy="586.2" r="0.95"/><circle cx="500.4" cy="585.4" r="0.95"/><circle cx="532.2" cy="583.4" r="0.95"/><circle cx="608.4" cy="585.5" r="0.95"/><circle cx="577.0" cy="583.3" r="0.95"/><circle cx="562.8" cy="584.5" r="0.95"/><circle cx="592.4" cy="584.0" r="0.95"/><circle cx="545.7" cy="585.6" r="0.95"/><circle cx="598.1" cy="585.6" r="0.95"/><circle cx="475.9" cy="585.8" r="0.95"/><circle cx="628.4" cy="585.1" r="0.95"/><circle cx="527.1" cy="585.1" r="0.95"/><circle cx="519.1" cy="586.0" r="0.95"/><circle cx="512.6" cy="582.3" r="0.95"/><circle cx="581.3" cy="585.7" r="0.95"/><circle cx="535.9" cy="584.5" r="0.95"/><circle cx="496.4" cy="586.0" r="0.95"/><circle cx="624.7" cy="585.4" r="0.95"/><circle cx="553.7" cy="585.7" r="0.95"/><circle cx="640.5" cy="583.1" r="0.95"/><circle cx="545.5" cy="585.7" r="0.95"/><circle cx="483.1" cy="585.9" r="0.95"/><circle cx="526.8" cy="585.4" r="0.95"/><circle cx="512.3" cy="585.7" r="0.95"/><circle cx="566.3" cy="584.4" r="0.95"/><circle cx="539.1" cy="584.7" r="0.95"/><circle cx="539.3" cy="584.9" r="0.95"/><circle cx="526.1" cy="586.1" r="0.95"/><circle cx="478.2" cy="586.0" r="0.95"/><circle cx="489.2" cy="584.4" r="0.95"/><circle cx="554.8" cy="584.3" r="0.95"/><circle cx="504.9" cy="585.2" r="0.95"/><circle cx="514.5" cy="586.3" r="0.95"/><circle cx="544.8" cy="584.8" r="0.95"/><circle cx="633.1" cy="584.6" r="0.95"/><circle cx="471.2" cy="585.1" r="0.95"/><circle cx="473.0" cy="585.9" r="0.95"/><circle cx="549.6" cy="583.3" r="0.95"/><circle cx="569.4" cy="584.8" r="0.95"/><circle cx="628.4" cy="586.3" r="0.95"/><circle cx="610.8" cy="583.9" r="0.95"/><circle cx="510.5" cy="584.7" r="0.95"/><circle cx="486.3" cy="585.8" r="0.95"/><circle cx="585.9" cy="584.8" r="0.95"/><circle cx="630.9" cy="585.9" r="0.95"/><circle cx="600.2" cy="584.2" r="0.95"/><circle cx="546.8" cy="585.9" r="0.95"/><circle cx="603.3" cy="586.2" r="0.95"/><circle cx="507.8" cy="585.4" r="0.95"/><circle cx="520.1" cy="585.3" r="0.95"/><circle cx="489.6" cy="586.3" r="0.95"/><circle cx="588.7" cy="584.2" r="0.95"/><circle cx="486.9" cy="585.5" r="0.95"/><circle cx="568.6" cy="585.5" r="0.95"/><circle cx="534.8" cy="586.0" r="0.95"/><circle cx="469.2" cy="585.3" r="0.95"/><circle cx="519.8" cy="582.7" r="0.95"/><circle cx="579.3" cy="585.4" r="0.95"/><circle cx="620.9" cy="585.2" r="0.95"/><circle cx="510.3" cy="586.2" r="0.95"/><circle cx="634.2" cy="585.9" r="0.95"/><circle cx="471.2" cy="585.7" r="0.95"/><circle cx="553.9" cy="585.6" r="0.95"/><circle cx="512.1" cy="584.9" r="0.95"/><circle cx="583.3" cy="585.4" r="0.95"/><circle cx="473.3" cy="586.1" r="0.95"/><circle cx="526.1" cy="584.3" r="0.95"/><circle cx="501.8" cy="585.8" r="0.95"/><circle cx="605.8" cy="586.2" r="0.95"/><circle cx="503.0" cy="585.4" r="0.95"/><circle cx="635.8" cy="585.3" r="0.95"/><circle cx="507.5" cy="585.0" r="0.95"/><circle cx="505.8" cy="586.3" r="0.95"/><circle cx="632.7" cy="585.1" r="0.95"/><circle cx="553.5" cy="585.9" r="0.95"/><circle cx="539.8" cy="585.3" r="0.95"/><circle cx="582.9" cy="585.5" r="0.95"/><circle cx="535.7" cy="586.0" r="0.95"/><circle cx="504.4" cy="585.9" r="0.95"/><circle cx="476.4" cy="586.2" r="0.95"/><circle cx="477.8" cy="585.1" r="0.95"/><circle cx="620.9" cy="584.3" r="0.95"/><circle cx="594.7" cy="582.9" r="0.95"/><circle cx="524.6" cy="586.2" r="0.95"/><circle cx="499.6" cy="585.2" r="0.95"/><circle cx="472.9" cy="585.8" r="0.95"/><circle cx="582.8" cy="585.3" r="0.95"/><circle cx="525.0" cy="585.3" r="0.95"/><circle cx="496.8" cy="585.7" r="0.95"/><circle cx="528.4" cy="586.3" r="0.95"/><circle cx="633.3" cy="583.6" r="0.95"/><circle cx="503.4" cy="585.0" r="0.95"/><circle cx="529.3" cy="585.1" r="0.95"/><circle cx="542.5" cy="583.8" r="0.95"/><circle cx="475.9" cy="585.6" r="0.95"/><circle cx="627.1" cy="586.1" r="0.95"/><circle cx="500.9" cy="585.3" r="0.95"/><circle cx="472.6" cy="585.1" r="0.95"/><circle cx="538.7" cy="585.3" r="0.95"/><circle cx="474.4" cy="585.1" r="0.95"/><circle cx="473.4" cy="584.8" r="0.95"/><circle cx="512.0" cy="585.0" r="0.95"/><circle cx="597.2" cy="585.2" r="0.95"/><circle cx="514.7" cy="585.5" r="0.95"/><circle cx="633.7" cy="585.4" r="0.95"/><circle cx="591.9" cy="585.5" r="0.95"/><circle cx="522.3" cy="586.3" r="0.95"/><circle cx="598.6" cy="586.2" r="0.95"/><circle cx="626.6" cy="583.9" r="0.95"/><circle cx="471.6" cy="585.0" r="0.95"/><circle cx="508.0" cy="584.5" r="0.95"/><circle cx="633.1" cy="585.7" r="0.95"/><circle cx="534.5" cy="586.3" r="0.95"/><circle cx="553.1" cy="584.7" r="0.95"/><circle cx="628.6" cy="585.2" r="0.95"/><circle cx="595.7" cy="583.9" r="0.95"/><circle cx="610.3" cy="586.0" r="0.95"/><circle cx="524.3" cy="584.3" r="0.95"/><circle cx="522.9" cy="584.6" r="0.95"/><circle cx="481.1" cy="585.3" r="0.95"/><circle cx="501.6" cy="586.3" r="0.95"/><circle cx="478.6" cy="585.7" r="0.95"/><circle cx="473.3" cy="585.7" r="0.95"/><circle cx="637.6" cy="585.9" r="0.95"/><circle cx="620.8" cy="585.1" r="0.95"/><circle cx="482.0" cy="586.3" r="0.95"/><circle cx="484.1" cy="585.1" r="0.95"/><circle cx="545.0" cy="586.3" r="0.95"/><circle cx="508.1" cy="585.4" r="0.95"/><circle cx="584.5" cy="585.3" r="0.95"/><circle cx="597.3" cy="585.1" r="0.95"/><circle cx="488.4" cy="585.4" r="0.95"/><circle cx="613.4" cy="585.8" r="0.95"/><circle cx="532.2" cy="584.5" r="0.95"/><circle cx="595.6" cy="586.0" r="0.95"/><circle cx="510.0" cy="585.8" r="0.95"/><circle cx="494.0" cy="585.6" r="0.95"/><circle cx="524.1" cy="585.0" r="0.95"/><circle cx="536.2" cy="584.5" r="0.95"/><circle cx="507.6" cy="586.3" r="0.95"/><circle cx="607.8" cy="583.7" r="0.95"/><circle cx="485.2" cy="584.4" r="0.95"/><circle cx="549.8" cy="585.1" r="0.95"/><circle cx="626.2" cy="583.7" r="0.95"/><circle cx="474.4" cy="586.2" r="0.95"/><circle cx="500.3" cy="585.9" r="0.95"/><circle cx="636.4" cy="583.3" r="0.95"/><circle cx="532.0" cy="584.6" r="0.95"/><circle cx="617.8" cy="585.2" r="0.95"/><circle cx="602.5" cy="585.9" r="0.95"/><circle cx="631.6" cy="584.7" r="0.95"/><circle cx="575.1" cy="585.1" r="0.95"/><circle cx="505.2" cy="586.0" r="0.95"/><circle cx="502.8" cy="586.0" r="0.95"/><circle cx="511.7" cy="584.6" r="0.95"/><circle cx="502.7" cy="585.7" r="0.95"/><circle cx="469.4" cy="585.8" r="0.95"/><circle cx="499.5" cy="585.3" r="0.95"/><circle cx="521.6" cy="585.5" r="0.95"/><circle cx="562.6" cy="583.8" r="0.95"/><circle cx="478.4" cy="585.7" r="0.95"/><circle cx="562.9" cy="585.4" r="0.95"/><circle cx="578.4" cy="585.6" r="0.95"/><circle cx="588.2" cy="585.8" r="0.95"/><circle cx="538.6" cy="586.0" r="0.95"/><circle cx="632.9" cy="585.1" r="0.95"/><circle cx="521.6" cy="585.0" r="0.95"/><circle cx="539.7" cy="585.7" r="0.95"/><circle cx="617.5" cy="584.9" r="0.95"/><circle cx="501.6" cy="586.3" r="0.95"/><circle cx="593.8" cy="586.3" r="0.95"/><circle cx="624.0" cy="586.1" r="0.95"/><circle cx="541.0" cy="585.7" r="0.95"/><circle cx="620.7" cy="584.9" r="0.95"/><circle cx="547.4" cy="586.2" r="0.95"/><circle cx="563.2" cy="586.1" r="0.95"/><circle cx="578.7" cy="585.8" r="0.95"/><circle cx="575.5" cy="586.0" r="0.95"/><circle cx="531.8" cy="585.5" r="0.95"/><circle cx="516.6" cy="586.3" r="0.95"/><circle cx="557.9" cy="585.7" r="0.95"/><circle cx="552.6" cy="586.0" r="0.95"/><circle cx="607.2" cy="585.3" r="0.95"/><circle cx="489.4" cy="586.2" r="0.95"/><circle cx="631.2" cy="584.6" r="0.95"/><circle cx="476.6" cy="586.2" r="0.95"/><circle cx="628.3" cy="583.9" r="0.95"/><circle cx="575.1" cy="584.2" r="0.95"/><circle cx="610.6" cy="584.9" r="0.95"/><circle cx="506.0" cy="585.2" r="0.95"/><circle cx="537.6" cy="584.7" r="0.95"/><circle cx="499.2" cy="585.2" r="0.95"/><circle cx="505.3" cy="585.6" r="0.95"/><circle cx="534.0" cy="585.2" r="0.95"/><circle cx="488.8" cy="586.3" r="0.95"/><circle cx="623.2" cy="583.9" r="0.95"/><circle cx="474.5" cy="585.2" r="0.95"/><circle cx="474.0" cy="585.8" r="0.95"/><circle cx="613.0" cy="584.8" r="0.95"/><circle cx="562.9" cy="585.0" r="0.95"/><circle cx="576.3" cy="585.8" r="0.95"/><circle cx="568.6" cy="584.9" r="0.95"/><circle cx="541.3" cy="585.4" r="0.95"/><circle cx="543.5" cy="585.0" r="0.95"/><circle cx="471.4" cy="585.7" r="0.95"/><circle cx="508.2" cy="585.7" r="0.95"/><circle cx="600.0" cy="586.0" r="0.95"/><circle cx="498.6" cy="585.5" r="0.95"/><circle cx="549.6" cy="585.7" r="0.95"/><circle cx="542.2" cy="585.8" r="0.95"/><circle cx="483.3" cy="585.5" r="0.95"/><circle cx="474.5" cy="586.0" r="0.95"/><circle cx="577.9" cy="584.2" r="0.95"/><circle cx="602.5" cy="585.1" r="0.95"/><circle cx="556.2" cy="584.7" r="0.95"/><circle cx="533.0" cy="585.7" r="0.95"/><circle cx="632.5" cy="584.4" r="0.95"/><circle cx="640.4" cy="584.1" r="0.95"/><circle cx="594.5" cy="585.9" r="0.95"/><circle cx="637.9" cy="585.4" r="0.95"/><circle cx="552.8" cy="583.1" r="0.95"/><circle cx="496.1" cy="585.9" r="0.95"/><circle cx="604.3" cy="585.8" r="0.95"/><circle cx="528.3" cy="586.1" r="0.95"/><circle cx="598.7" cy="584.6" r="0.95"/><circle cx="515.1" cy="583.7" r="0.95"/><circle cx="609.1" cy="585.2" r="0.95"/><circle cx="627.2" cy="584.9" r="0.95"/><circle cx="503.6" cy="586.2" r="0.95"/><circle cx="522.8" cy="584.6" r="0.95"/><circle cx="473.8" cy="586.1" r="0.95"/><circle cx="630.0" cy="585.5" r="0.95"/><circle cx="585.4" cy="585.6" r="0.95"/><circle cx="603.7" cy="585.8" r="0.95"/><circle cx="487.4" cy="585.3" r="0.95"/><circle cx="529.9" cy="585.9" r="0.95"/><circle cx="619.0" cy="584.5" r="0.95"/><circle cx="620.7" cy="585.6" r="0.95"/><circle cx="485.5" cy="585.3" r="0.95"/><circle cx="535.9" cy="586.2" r="0.95"/><circle cx="605.9" cy="585.9" r="0.95"/><circle cx="567.7" cy="581.8" r="0.95"/><circle cx="530.0" cy="586.2" r="0.95"/><circle cx="498.1" cy="585.5" r="0.95"/><circle cx="596.5" cy="583.7" r="0.95"/><circle cx="511.4" cy="585.5" r="0.95"/><circle cx="578.4" cy="584.3" r="0.95"/><circle cx="582.7" cy="586.1" r="0.95"/><circle cx="521.7" cy="585.9" r="0.95"/><circle cx="493.3" cy="586.3" r="0.95"/><circle cx="574.4" cy="584.7" r="0.95"/><circle cx="622.9" cy="585.6" r="0.95"/><circle cx="490.3" cy="586.1" r="0.95"/><circle cx="471.2" cy="585.2" r="0.95"/><circle cx="467.8" cy="586.1" r="0.95"/><circle cx="529.4" cy="585.7" r="0.95"/><circle cx="506.3" cy="585.4" r="0.95"/><circle cx="502.8" cy="585.8" r="0.95"/><circle cx="575.8" cy="585.5" r="0.95"/><circle cx="630.1" cy="586.2" r="0.95"/><circle cx="509.7" cy="586.1" r="0.95"/><circle cx="578.2" cy="585.8" r="0.95"/><circle cx="618.7" cy="586.0" r="0.95"/><circle cx="513.3" cy="584.8" r="0.95"/><circle cx="469.4" cy="585.7" r="0.95"/><circle cx="528.2" cy="584.8" r="0.95"/><circle cx="579.5" cy="583.0" r="0.95"/><circle cx="594.8" cy="585.1" r="0.95"/><circle cx="510.5" cy="586.1" r="0.95"/><circle cx="559.7" cy="586.0" r="0.95"/><circle cx="537.9" cy="586.3" r="0.95"/><circle cx="602.7" cy="585.8" r="0.95"/><circle cx="469.5" cy="584.6" r="0.95"/><circle cx="492.1" cy="585.7" r="0.95"/><circle cx="502.0" cy="585.6" r="0.95"/><circle cx="578.8" cy="585.2" r="0.95"/><circle cx="608.7" cy="585.7" r="0.95"/><circle cx="519.5" cy="585.2" r="0.95"/><circle cx="475.8" cy="585.3" r="0.95"/><circle cx="591.6" cy="584.6" r="0.95"/><circle cx="468.5" cy="585.6" r="0.95"/><circle cx="548.2" cy="584.3" r="0.95"/><circle cx="596.2" cy="585.3" r="0.95"/><circle cx="485.7" cy="586.1" r="0.95"/><circle cx="507.7" cy="585.7" r="0.95"/><circle cx="597.6" cy="586.0" r="0.95"/><circle cx="588.1" cy="585.0" r="0.95"/><circle cx="513.6" cy="584.4" r="0.95"/><circle cx="563.6" cy="583.9" r="0.95"/><circle cx="558.3" cy="585.3" r="0.95"/><circle cx="513.5" cy="583.9" r="0.95"/><circle cx="505.1" cy="584.8" r="0.95"/><circle cx="620.2" cy="585.2" r="0.95"/><circle cx="508.4" cy="586.2" r="0.95"/><circle cx="596.6" cy="584.0" r="0.95"/><circle cx="524.2" cy="585.5" r="0.95"/><circle cx="620.3" cy="585.8" r="0.95"/><circle cx="625.0" cy="585.3" r="0.95"/><circle cx="576.9" cy="585.5" r="0.95"/><circle cx="637.4" cy="584.3" r="0.95"/><circle cx="548.9" cy="585.1" r="0.95"/><circle cx="616.3" cy="584.4" r="0.95"/><circle cx="543.3" cy="586.0" r="0.95"/><circle cx="520.8" cy="584.4" r="0.95"/><circle cx="504.2" cy="586.1" r="0.95"/><circle cx="625.6" cy="585.9" r="0.95"/><circle cx="492.5" cy="586.0" r="0.95"/><circle cx="628.7" cy="586.2" r="0.95"/><circle cx="527.3" cy="586.1" r="0.95"/><circle cx="474.6" cy="586.2" r="0.95"/><circle cx="587.7" cy="584.8" r="0.95"/><circle cx="595.4" cy="584.6" r="0.95"/><circle cx="478.8" cy="585.7" r="0.95"/><circle cx="609.4" cy="585.5" r="0.95"/><circle cx="609.7" cy="585.9" r="0.95"/><circle cx="618.1" cy="586.0" r="0.95"/><circle cx="626.2" cy="585.6" r="0.95"/><circle cx="503.1" cy="586.2" r="0.95"/><circle cx="486.8" cy="584.9" r="0.95"/><circle cx="608.4" cy="585.7" r="0.95"/><circle cx="577.5" cy="585.4" r="0.95"/><circle cx="517.3" cy="584.4" r="0.95"/><circle cx="484.7" cy="585.3" r="0.95"/><circle cx="503.0" cy="585.6" r="0.95"/><circle cx="522.8" cy="586.0" r="0.95"/><circle cx="512.0" cy="586.2" r="0.95"/><circle cx="516.5" cy="586.0" r="0.95"/><circle cx="523.1" cy="584.9" r="0.95"/><circle cx="634.8" cy="583.4" r="0.95"/><circle cx="574.8" cy="586.2" r="0.95"/><circle cx="472.8" cy="585.6" r="0.95"/><circle cx="601.7" cy="585.5" r="0.95"/><circle cx="527.6" cy="585.8" r="0.95"/><circle cx="505.0" cy="585.4" r="0.95"/><circle cx="617.1" cy="584.0" r="0.95"/><circle cx="497.0" cy="585.6" r="0.95"/><circle cx="467.6" cy="585.9" r="0.95"/><circle cx="637.2" cy="583.9" r="0.95"/><circle cx="468.1" cy="585.4" r="0.95"/><circle cx="605.8" cy="586.2" r="0.95"/><circle cx="499.4" cy="585.6" r="0.95"/><circle cx="611.9" cy="586.3" r="0.95"/><circle cx="512.6" cy="585.2" r="0.95"/><circle cx="504.7" cy="586.1" r="0.95"/><circle cx="588.9" cy="585.6" r="0.95"/><circle cx="577.9" cy="586.3" r="0.95"/><circle cx="481.4" cy="586.0" r="0.95"/><circle cx="604.1" cy="584.1" r="0.95"/><circle cx="576.4" cy="585.4" r="0.95"/><circle cx="535.9" cy="585.1" r="0.95"/><circle cx="622.0" cy="583.7" r="0.95"/><circle cx="471.7" cy="585.5" r="0.95"/><circle cx="503.2" cy="586.2" r="0.95"/><circle cx="554.4" cy="583.1" r="0.95"/><circle cx="533.3" cy="585.5" r="0.95"/><circle cx="547.4" cy="585.6" r="0.95"/><circle cx="559.7" cy="586.2" r="0.95"/><circle cx="579.6" cy="583.8" r="0.95"/><circle cx="527.9" cy="585.9" r="0.95"/><circle cx="613.8" cy="585.5" r="0.95"/><circle cx="582.4" cy="586.3" r="0.95"/><circle cx="543.6" cy="585.4" r="0.95"/><circle cx="601.7" cy="585.6" r="0.95"/><circle cx="547.6" cy="585.9" r="0.95"/><circle cx="621.1" cy="586.2" r="0.95"/><circle cx="519.7" cy="585.3" r="0.95"/><circle cx="589.5" cy="585.8" r="0.95"/><circle cx="494.5" cy="585.9" r="0.95"/><circle cx="510.4" cy="585.9" r="0.95"/><circle cx="495.3" cy="585.5" r="0.95"/><circle cx="524.4" cy="584.8" r="0.95"/><circle cx="594.0" cy="582.6" r="0.95"/><circle cx="485.1" cy="586.0" r="0.95"/><circle cx="534.1" cy="586.1" r="0.95"/><circle cx="638.3" cy="585.6" r="0.95"/><circle cx="542.9" cy="584.0" r="0.95"/><circle cx="501.5" cy="586.1" r="0.95"/><circle cx="503.2" cy="586.0" r="0.95"/><circle cx="534.8" cy="584.8" r="0.95"/><circle cx="604.8" cy="586.0" r="0.95"/><circle cx="587.8" cy="584.2" r="0.95"/><circle cx="547.8" cy="586.3" r="0.95"/><circle cx="492.0" cy="585.7" r="0.95"/><circle cx="596.1" cy="585.4" r="0.95"/><circle cx="625.1" cy="584.6" r="0.95"/><circle cx="597.5" cy="585.5" r="0.95"/><circle cx="540.5" cy="586.0" r="0.95"/><circle cx="620.2" cy="584.0" r="0.95"/><circle cx="601.8" cy="585.4" r="0.95"/><circle cx="585.4" cy="583.6" r="0.95"/><circle cx="578.8" cy="585.1" r="0.95"/><circle cx="576.5" cy="585.9" r="0.95"/><circle cx="484.4" cy="585.2" r="0.95"/><circle cx="591.3" cy="585.1" r="0.95"/><circle cx="576.7" cy="586.3" r="0.95"/><circle cx="546.4" cy="584.8" r="0.95"/><circle cx="575.3" cy="584.4" r="0.95"/><circle cx="629.0" cy="585.1" r="0.95"/><circle cx="499.2" cy="585.6" r="0.95"/><circle cx="534.9" cy="584.2" r="0.95"/><circle cx="552.5" cy="585.9" r="0.95"/><circle cx="561.8" cy="586.2" r="0.95"/><circle cx="495.3" cy="586.0" r="0.95"/><circle cx="557.6" cy="582.9" r="0.95"/><circle cx="484.9" cy="585.5" r="0.95"/><circle cx="592.0" cy="585.5" r="0.95"/><circle cx="556.3" cy="584.5" r="0.95"/><circle cx="558.0" cy="584.2" r="0.95"/><circle cx="538.7" cy="585.3" r="0.95"/><circle cx="586.2" cy="586.0" r="0.95"/><circle cx="535.6" cy="586.2" r="0.95"/><circle cx="638.4" cy="585.5" r="0.95"/><circle cx="529.1" cy="585.2" r="0.95"/><circle cx="536.8" cy="585.9" r="0.95"/><circle cx="469.7" cy="585.6" r="0.95"/><circle cx="588.7" cy="585.5" r="0.95"/><circle cx="513.3" cy="581.4" r="0.95"/><circle cx="511.7" cy="583.5" r="0.95"/><circle cx="510.9" cy="584.3" r="0.95"/><circle cx="520.5" cy="564.7" r="0.95"/><circle cx="516.5" cy="575.4" r="0.95"/><circle cx="510.8" cy="584.4" r="0.95"/><circle cx="521.6" cy="561.0" r="0.95"/><circle cx="514.0" cy="580.3" r="0.95"/><circle cx="510.7" cy="584.5" r="0.95"/><circle cx="509.1" cy="585.6" r="0.95"/><circle cx="521.1" cy="562.6" r="0.95"/><circle cx="521.7" cy="560.5" r="0.95"/><circle cx="518.5" cy="570.5" r="0.95"/><circle cx="515.4" cy="577.6" r="0.95"/><circle cx="517.2" cy="573.9" r="0.95"/><circle cx="510.9" cy="584.3" r="0.95"/><circle cx="513.3" cy="581.4" r="0.95"/><circle cx="518.6" cy="570.2" r="0.95"/><circle cx="521.9" cy="559.9" r="0.95"/><circle cx="521.9" cy="560.1" r="0.95"/><circle cx="515.4" cy="577.7" r="0.95"/><circle cx="512.2" cy="582.9" r="0.95"/><circle cx="516.9" cy="574.5" r="0.95"/><circle cx="509.1" cy="585.7" r="0.95"/><circle cx="522.2" cy="558.9" r="0.95"/><circle cx="513.3" cy="581.3" r="0.95"/><circle cx="511.7" cy="583.5" r="0.95"/><circle cx="513.7" cy="580.7" r="0.95"/><circle cx="511.4" cy="583.8" r="0.95"/><circle cx="514.6" cy="579.2" r="0.95"/><circle cx="510.2" cy="584.9" r="0.95"/><circle cx="506.8" cy="586.3" r="0.95"/><circle cx="520.1" cy="565.8" r="0.95"/><circle cx="512.0" cy="583.2" r="0.95"/><circle cx="511.3" cy="583.9" r="0.95"/><circle cx="512.3" cy="582.7" r="0.95"/><circle cx="515.6" cy="577.2" r="0.95"/><circle cx="514.7" cy="579.1" r="0.95"/><circle cx="518.6" cy="570.3" r="0.95"/><circle cx="519.0" cy="569.2" r="0.95"/><circle cx="513.5" cy="581.1" r="0.95"/><circle cx="507.8" cy="586.2" r="0.95"/><circle cx="522.1" cy="559.3" r="0.95"/><circle cx="521.3" cy="562.1" r="0.95"/><circle cx="509.3" cy="585.5" r="0.95"/><circle cx="522.2" cy="559.1" r="0.95"/><circle cx="518.5" cy="570.5" r="0.95"/><circle cx="507.0" cy="586.3" r="0.95"/><circle cx="507.0" cy="586.3" r="0.95"/><circle cx="518.9" cy="569.4" r="0.95"/><circle cx="511.4" cy="583.8" r="0.95"/><circle cx="508.6" cy="585.9" r="0.95"/><circle cx="509.4" cy="585.5" r="0.95"/><circle cx="511.1" cy="584.2" r="0.95"/><circle cx="521.1" cy="562.6" r="0.95"/><circle cx="513.2" cy="581.6" r="0.95"/><circle cx="509.6" cy="585.4" r="0.95"/><circle cx="521.4" cy="561.6" r="0.95"/><circle cx="509.9" cy="585.2" r="0.95"/><circle cx="518.0" cy="571.7" r="0.95"/><circle cx="521.2" cy="562.3" r="0.95"/><circle cx="519.1" cy="568.7" r="0.95"/><circle cx="521.3" cy="561.9" r="0.95"/><circle cx="522.3" cy="558.6" r="0.95"/><circle cx="510.4" cy="584.8" r="0.95"/><circle cx="519.6" cy="567.4" r="0.95"/><circle cx="516.6" cy="575.2" r="0.95"/><circle cx="520.5" cy="564.6" r="0.95"/><circle cx="514.9" cy="578.7" r="0.95"/><circle cx="517.0" cy="574.2" r="0.95"/><circle cx="511.6" cy="583.5" r="0.95"/><circle cx="511.1" cy="584.1" r="0.95"/><circle cx="509.3" cy="585.5" r="0.95"/><circle cx="515.9" cy="576.7" r="0.95"/><circle cx="507.8" cy="586.2" r="0.95"/><circle cx="515.4" cy="577.7" r="0.95"/><circle cx="509.4" cy="585.5" r="0.95"/><circle cx="515.9" cy="576.8" r="0.95"/><circle cx="516.0" cy="576.5" r="0.95"/><circle cx="516.7" cy="574.8" r="0.95"/><circle cx="506.9" cy="586.3" r="0.95"/><circle cx="522.3" cy="558.5" r="0.95"/><circle cx="515.4" cy="577.7" r="0.95"/><circle cx="517.2" cy="573.8" r="0.95"/><circle cx="519.1" cy="568.9" r="0.95"/><circle cx="522.3" cy="558.5" r="0.95"/><circle cx="513.7" cy="580.8" r="0.95"/><circle cx="514.5" cy="579.4" r="0.95"/><circle cx="508.1" cy="586.1" r="0.95"/><circle cx="518.6" cy="570.3" r="0.95"/><circle cx="518.5" cy="570.4" r="0.95"/><circle cx="507.3" cy="586.3" r="0.95"/><circle cx="518.0" cy="571.7" r="0.95"/><circle cx="519.4" cy="568.0" r="0.95"/><circle cx="512.9" cy="582.0" r="0.95"/><circle cx="522.0" cy="576.9" r="0.95"/><circle cx="521.5" cy="577.8" r="0.95"/><circle cx="513.2" cy="586.3" r="0.95"/><circle cx="525.8" cy="567.6" r="0.95"/><circle cx="524.1" cy="572.1" r="0.95"/><circle cx="518.8" cy="582.1" r="0.95"/><circle cx="528.5" cy="559.4" r="0.95"/><circle cx="519.3" cy="581.4" r="0.95"/><circle cx="521.3" cy="578.1" r="0.95"/><circle cx="522.3" cy="576.3" r="0.95"/><circle cx="526.8" cy="564.8" r="0.95"/><circle cx="516.4" cy="584.7" r="0.95"/><circle cx="520.6" cy="579.4" r="0.95"/><circle cx="520.4" cy="579.8" r="0.95"/><circle cx="522.8" cy="575.2" r="0.95"/><circle cx="527.9" cy="561.6" r="0.95"/><circle cx="518.0" cy="583.2" r="0.95"/><circle cx="527.9" cy="561.5" r="0.95"/><circle cx="520.0" cy="580.4" r="0.95"/><circle cx="521.9" cy="577.1" r="0.95"/><circle cx="517.6" cy="583.6" r="0.95"/><circle cx="521.9" cy="577.0" r="0.95"/><circle cx="524.7" cy="570.8" r="0.95"/><circle cx="527.2" cy="563.6" r="0.95"/><circle cx="518.7" cy="582.3" r="0.95"/><circle cx="518.4" cy="582.7" r="0.95"/><circle cx="518.1" cy="583.1" r="0.95"/><circle cx="523.4" cy="573.8" r="0.95"/><circle cx="524.3" cy="571.7" r="0.95"/><circle cx="527.1" cy="564.0" r="0.95"/><circle cx="513.3" cy="586.2" r="0.95"/><circle cx="525.9" cy="567.4" r="0.95"/><circle cx="528.4" cy="576.5" r="0.95"/><circle cx="519.2" cy="586.2" r="0.95"/><circle cx="523.9" cy="583.3" r="0.95"/><circle cx="518.4" cy="586.3" r="0.95"/><circle cx="521.8" cy="585.1" r="0.95"/><circle cx="529.6" cy="574.1" r="0.95"/><circle cx="530.5" cy="572.0" r="0.95"/><circle cx="532.9" cy="565.7" r="0.95"/><circle cx="529.7" cy="573.9" r="0.95"/><circle cx="529.8" cy="573.7" r="0.95"/><circle cx="529.9" cy="573.3" r="0.95"/><circle cx="531.2" cy="570.3" r="0.95"/><circle cx="529.4" cy="574.5" r="0.95"/><circle cx="530.9" cy="571.0" r="0.95"/><circle cx="522.3" cy="584.8" r="0.95"/><circle cx="530.7" cy="571.6" r="0.95"/><circle cx="526.8" cy="579.4" r="0.95"/><circle cx="532.5" cy="567.1" r="0.95"/><circle cx="520.2" cy="586.0" r="0.95"/><circle cx="521.7" cy="585.2" r="0.95"/><circle cx="519.0" cy="586.3" r="0.95"/><circle cx="532.7" cy="566.5" r="0.95"/><circle cx="530.5" cy="572.1" r="0.95"/><circle cx="525.2" cy="581.8" r="0.95"/><circle cx="533.6" cy="563.9" r="0.95"/><circle cx="532.9" cy="565.8" r="0.95"/><circle cx="528.7" cy="575.9" r="0.95"/><circle cx="523.1" cy="584.1" r="0.95"/><circle cx="523.9" cy="583.3" r="0.95"/><circle cx="526.1" cy="580.4" r="0.95"/><circle cx="524.2" cy="582.9" r="0.95"/><circle cx="526.3" cy="580.2" r="0.95"/><circle cx="536.0" cy="574.0" r="0.95"/><circle cx="525.1" cy="586.2" r="0.95"/><circle cx="534.6" cy="576.7" r="0.95"/><circle cx="524.8" cy="586.3" r="0.95"/><circle cx="526.3" cy="585.9" r="0.95"/><circle cx="534.8" cy="576.4" r="0.95"/><circle cx="532.4" cy="580.3" r="0.95"/><circle cx="524.4" cy="586.3" r="0.95"/><circle cx="531.3" cy="581.8" r="0.95"/><circle cx="535.1" cy="575.8" r="0.95"/><circle cx="532.9" cy="579.5" r="0.95"/><circle cx="531.8" cy="581.2" r="0.95"/><circle cx="526.0" cy="586.0" r="0.95"/><circle cx="536.1" cy="573.9" r="0.95"/><circle cx="528.1" cy="585.0" r="0.95"/><circle cx="526.9" cy="585.6" r="0.95"/><circle cx="524.4" cy="586.3" r="0.95"/><circle cx="524.2" cy="586.3" r="0.95"/><circle cx="536.8" cy="572.3" r="0.95"/><circle cx="526.4" cy="585.9" r="0.95"/><circle cx="525.8" cy="586.1" r="0.95"/><circle cx="526.5" cy="585.8" r="0.95"/><circle cx="524.4" cy="586.3" r="0.95"/><circle cx="537.4" cy="570.8" r="0.95"/><circle cx="528.6" cy="584.5" r="0.95"/><circle cx="537.7" cy="570.2" r="0.95"/><circle cx="527.6" cy="585.2" r="0.95"/><circle cx="525.0" cy="586.2" r="0.95"/><circle cx="543.1" cy="572.7" r="0.95"/><circle cx="543.4" cy="572.0" r="0.95"/><circle cx="531.5" cy="586.1" r="0.95"/><circle cx="541.6" cy="575.7" r="0.95"/><circle cx="543.0" cy="572.8" r="0.95"/><circle cx="538.4" cy="580.6" r="0.95"/><circle cx="534.6" cy="584.6" r="0.95"/><circle cx="543.2" cy="572.5" r="0.95"/><circle cx="530.1" cy="586.3" r="0.95"/><circle cx="530.2" cy="586.3" r="0.95"/><circle cx="542.0" cy="575.0" r="0.95"/><circle cx="531.4" cy="586.1" r="0.95"/><circle cx="535.7" cy="583.7" r="0.95"/><circle cx="543.4" cy="572.1" r="0.95"/><circle cx="533.0" cy="585.6" r="0.95"/><circle cx="538.9" cy="580.0" r="0.95"/><circle cx="531.0" cy="586.2" r="0.95"/><circle cx="536.7" cy="582.7" r="0.95"/><circle cx="540.6" cy="577.5" r="0.95"/><circle cx="538.0" cy="581.1" r="0.95"/><circle cx="542.4" cy="574.0" r="0.95"/><circle cx="532.6" cy="585.7" r="0.95"/><circle cx="536.6" cy="582.8" r="0.95"/><circle cx="541.9" cy="575.2" r="0.95"/><circle cx="541.6" cy="575.7" r="0.95"/><circle cx="537.7" cy="581.6" r="0.95"/><circle cx="537.1" cy="582.3" r="0.95"/><circle cx="526.8" cy="540.2" r="0.95"/><circle cx="526.1" cy="543.2" r="0.95"/><circle cx="525.3" cy="547.0" r="0.95"/><circle cx="524.1" cy="551.6" r="0.95"/><circle cx="523.2" cy="555.2" r="0.95"/><circle cx="526.9" cy="539.7" r="0.95"/><circle cx="525.8" cy="544.6" r="0.95"/><circle cx="526.3" cy="542.4" r="0.95"/><circle cx="560.6" cy="580.1" r="0.95"/><circle cx="638.4" cy="581.7" r="0.95"/><circle cx="593.0" cy="584.6" r="0.95"/><circle cx="572.3" cy="573.6" r="0.95"/><circle cx="566.0" cy="579.1" r="0.95"/><circle cx="593.1" cy="576.2" r="0.95"/><circle cx="617.9" cy="585.2" r="0.95"/><circle cx="520.8" cy="583.0" r="0.95"/><circle cx="571.5" cy="581.1" r="0.95"/><circle cx="618.9" cy="579.2" r="0.95"/><circle cx="525.7" cy="567.9" r="0.95"/><circle cx="618.4" cy="579.7" r="0.95"/><circle cx="589.5" cy="584.8" r="0.95"/><circle cx="623.2" cy="581.2" r="0.95"/><circle cx="603.1" cy="576.6" r="0.95"/><circle cx="562.4" cy="585.7" r="0.95"/><circle cx="587.3" cy="578.6" r="0.95"/><circle cx="544.8" cy="575.0" r="0.95"/><circle cx="632.9" cy="585.6" r="0.95"/><circle cx="593.7" cy="581.3" r="0.95"/><circle cx="576.7" cy="585.0" r="0.95"/><circle cx="551.3" cy="575.9" r="0.95"/><circle cx="616.0" cy="584.2" r="0.95"/><circle cx="531.2" cy="570.5" r="0.95"/><circle cx="613.6" cy="585.4" r="0.95"/><circle cx="590.4" cy="575.8" r="0.95"/><circle cx="627.2" cy="584.1" r="0.95"/><circle cx="578.0" cy="581.5" r="0.95"/><circle cx="543.4" cy="584.5" r="0.95"/><circle cx="542.4" cy="576.2" r="0.95"/><circle cx="564.3" cy="581.0" r="0.95"/><circle cx="569.1" cy="581.9" r="0.95"/><circle cx="538.6" cy="585.9" r="0.95"/><circle cx="640.7" cy="585.1" r="0.95"/><circle cx="533.4" cy="576.9" r="0.95"/><circle cx="615.5" cy="585.7" r="0.95"/><circle cx="592.6" cy="584.4" r="0.95"/><circle cx="583.2" cy="586.2" r="0.95"/><circle cx="624.9" cy="584.3" r="0.95"/><circle cx="589.0" cy="584.9" r="0.95"/><circle cx="614.5" cy="584.4" r="0.95"/><circle cx="634.6" cy="582.4" r="0.95"/><circle cx="619.3" cy="575.6" r="0.95"/><circle cx="551.2" cy="586.0" r="0.95"/><circle cx="544.8" cy="584.7" r="0.95"/><circle cx="530.7" cy="585.8" r="0.95"/><circle cx="587.8" cy="576.5" r="0.95"/><circle cx="575.8" cy="570.0" r="0.95"/><circle cx="630.2" cy="586.1" r="0.95"/><circle cx="592.7" cy="584.0" r="0.95"/><circle cx="535.1" cy="557.0" r="0.95"/><circle cx="551.6" cy="580.1" r="0.95"/><circle cx="597.8" cy="573.1" r="0.95"/><circle cx="601.3" cy="584.3" r="0.95"/><circle cx="574.6" cy="585.3" r="0.95"/><circle cx="637.0" cy="573.8" r="0.95"/><circle cx="547.3" cy="586.0" r="0.95"/><circle cx="551.5" cy="583.1" r="0.95"/><circle cx="629.4" cy="579.6" r="0.95"/><circle cx="621.5" cy="586.1" r="0.95"/><circle cx="615.3" cy="582.1" r="0.95"/><circle cx="598.5" cy="568.6" r="0.95"/><circle cx="527.4" cy="584.7" r="0.95"/><circle cx="611.6" cy="576.3" r="0.95"/><circle cx="602.2" cy="584.9" r="0.95"/><circle cx="591.9" cy="579.8" r="0.95"/><circle cx="533.3" cy="582.6" r="0.95"/><circle cx="551.6" cy="585.3" r="0.95"/><circle cx="578.6" cy="585.3" r="0.95"/><circle cx="549.4" cy="585.1" r="0.95"/><circle cx="602.3" cy="586.2" r="0.95"/><circle cx="607.0" cy="585.5" r="0.95"/><circle cx="525.0" cy="559.0" r="0.95"/><circle cx="547.2" cy="564.9" r="0.95"/><circle cx="625.0" cy="579.7" r="0.95"/><circle cx="537.5" cy="581.0" r="0.95"/><circle cx="532.3" cy="561.3" r="0.95"/><circle cx="622.1" cy="583.2" r="0.95"/><circle cx="575.1" cy="584.0" r="0.95"/><circle cx="619.8" cy="584.2" r="0.95"/><circle cx="596.3" cy="585.6" r="0.95"/><circle cx="547.3" cy="585.8" r="0.95"/><circle cx="606.6" cy="583.2" r="0.95"/><circle cx="538.1" cy="568.2" r="0.95"/><circle cx="552.7" cy="582.4" r="0.95"/><circle cx="539.4" cy="583.6" r="0.95"/><circle cx="621.8" cy="585.0" r="0.95"/><circle cx="540.9" cy="580.5" r="0.95"/><circle cx="558.9" cy="570.4" r="0.95"/><circle cx="534.4" cy="550.8" r="0.95"/><circle cx="527.5" cy="563.6" r="0.95"/><circle cx="601.1" cy="585.3" r="0.95"/><circle cx="578.1" cy="584.5" r="0.95"/><circle cx="551.7" cy="584.6" r="0.95"/><circle cx="564.5" cy="556.3" r="0.95"/><circle cx="640.8" cy="579.9" r="0.95"/><circle cx="532.4" cy="583.1" r="0.95"/><circle cx="628.6" cy="586.1" r="0.95"/><circle cx="608.1" cy="585.0" r="0.95"/><circle cx="638.5" cy="586.3" r="0.95"/><circle cx="617.8" cy="584.9" r="0.95"/><circle cx="537.5" cy="586.3" r="0.95"/><circle cx="620.9" cy="583.9" r="0.95"/><circle cx="543.0" cy="581.6" r="0.95"/><circle cx="630.5" cy="585.6" r="0.95"/><circle cx="589.5" cy="585.6" r="0.95"/><circle cx="542.3" cy="574.0" r="0.95"/><circle cx="606.3" cy="585.5" r="0.95"/><circle cx="530.2" cy="585.4" r="0.95"/><circle cx="593.9" cy="583.3" r="0.95"/><circle cx="553.6" cy="584.6" r="0.95"/><circle cx="594.4" cy="580.9" r="0.95"/><circle cx="618.4" cy="583.4" r="0.95"/><circle cx="545.0" cy="585.7" r="0.95"/><circle cx="608.9" cy="584.4" r="0.95"/><circle cx="607.6" cy="586.1" r="0.95"/><circle cx="618.3" cy="585.0" r="0.95"/><circle cx="622.0" cy="580.0" r="0.95"/><circle cx="580.0" cy="586.2" r="0.95"/><circle cx="630.3" cy="584.5" r="0.95"/><circle cx="625.7" cy="585.4" r="0.95"/><circle cx="543.1" cy="571.5" r="0.95"/><circle cx="564.9" cy="585.2" r="0.95"/><circle cx="565.3" cy="580.6" r="0.95"/><circle cx="521.2" cy="578.3" r="0.95"/><circle cx="574.3" cy="582.2" r="0.95"/><circle cx="535.2" cy="574.8" r="0.95"/><circle cx="619.0" cy="579.8" r="0.95"/><circle cx="559.3" cy="577.9" r="0.95"/><circle cx="566.6" cy="577.7" r="0.95"/><circle cx="528.0" cy="565.7" r="0.95"/><circle cx="635.5" cy="584.5" r="0.95"/><circle cx="582.5" cy="582.4" r="0.95"/><circle cx="585.4" cy="586.2" r="0.95"/><circle cx="637.2" cy="585.6" r="0.95"/><circle cx="542.6" cy="585.4" r="0.95"/><circle cx="550.8" cy="573.5" r="0.95"/><circle cx="524.3" cy="585.2" r="0.95"/><circle cx="604.8" cy="585.5" r="0.95"/><circle cx="522.8" cy="576.5" r="0.95"/><circle cx="590.1" cy="582.9" r="0.95"/><circle cx="605.3" cy="585.9" r="0.95"/><circle cx="625.4" cy="582.5" r="0.95"/><circle cx="526.1" cy="585.0" r="0.95"/><circle cx="580.1" cy="582.6" r="0.95"/><circle cx="554.3" cy="585.4" r="0.95"/><circle cx="569.5" cy="585.4" r="0.95"/><circle cx="591.9" cy="577.3" r="0.95"/><circle cx="538.4" cy="578.8" r="0.95"/><circle cx="610.6" cy="585.7" r="0.95"/><circle cx="620.1" cy="577.4" r="0.95"/><circle cx="567.5" cy="582.9" r="0.95"/><circle cx="621.8" cy="584.0" r="0.95"/><circle cx="568.3" cy="569.1" r="0.95"/><circle cx="614.2" cy="584.9" r="0.95"/><circle cx="549.6" cy="583.2" r="0.95"/><circle cx="573.1" cy="563.5" r="0.95"/><circle cx="617.5" cy="578.2" r="0.95"/><circle cx="618.8" cy="580.2" r="0.95"/><circle cx="527.1" cy="578.9" r="0.95"/><circle cx="636.0" cy="579.1" r="0.95"/><circle cx="550.7" cy="582.2" r="0.95"/><circle cx="596.8" cy="584.4" r="0.95"/><circle cx="584.6" cy="585.9" r="0.95"/><circle cx="572.8" cy="582.3" r="0.95"/><circle cx="523.2" cy="584.7" r="0.95"/><circle cx="637.4" cy="582.4" r="0.95"/><circle cx="633.5" cy="583.6" r="0.95"/><circle cx="618.1" cy="579.2" r="0.95"/><circle cx="627.2" cy="586.2" r="0.95"/><circle cx="597.9" cy="585.0" r="0.95"/><circle cx="602.3" cy="585.0" r="0.95"/><circle cx="585.9" cy="573.7" r="0.95"/><circle cx="595.5" cy="585.0" r="0.95"/><circle cx="583.3" cy="583.4" r="0.95"/><circle cx="635.2" cy="585.4" r="0.95"/><circle cx="557.4" cy="579.0" r="0.95"/><circle cx="535.1" cy="578.0" r="0.95"/><circle cx="635.8" cy="584.4" r="0.95"/><circle cx="553.0" cy="581.7" r="0.95"/><circle cx="584.9" cy="585.5" r="0.95"/><circle cx="535.6" cy="585.0" r="0.95"/><circle cx="556.0" cy="582.6" r="0.95"/><circle cx="555.4" cy="584.3" r="0.95"/><circle cx="531.2" cy="578.7" r="0.95"/><circle cx="621.8" cy="583.3" r="0.95"/><circle cx="589.3" cy="581.4" r="0.95"/><circle cx="544.9" cy="576.2" r="0.95"/><circle cx="576.1" cy="581.9" r="0.95"/><circle cx="594.4" cy="583.5" r="0.95"/><circle cx="558.0" cy="584.4" r="0.95"/><circle cx="547.3" cy="580.6" r="0.95"/><circle cx="566.8" cy="580.8" r="0.95"/><circle cx="522.1" cy="581.6" r="0.95"/><circle cx="624.4" cy="585.5" r="0.95"/><circle cx="587.7" cy="583.1" r="0.95"/><circle cx="554.9" cy="554.9" r="0.95"/><circle cx="556.2" cy="575.9" r="0.95"/><circle cx="539.7" cy="585.7" r="0.95"/><circle cx="625.6" cy="584.6" r="0.95"/><circle cx="528.1" cy="581.4" r="0.95"/><circle cx="573.6" cy="578.7" r="0.95"/><circle cx="533.8" cy="583.9" r="0.95"/><circle cx="636.2" cy="582.8" r="0.95"/><circle cx="539.3" cy="582.7" r="0.95"/><circle cx="563.1" cy="579.0" r="0.95"/><circle cx="594.9" cy="578.0" r="0.95"/><circle cx="619.5" cy="583.9" r="0.95"/><circle cx="609.6" cy="581.3" r="0.95"/><circle cx="612.1" cy="584.0" r="0.95"/><circle cx="615.2" cy="582.1" r="0.95"/><circle cx="630.8" cy="585.9" r="0.95"/><circle cx="625.5" cy="586.3" r="0.95"/><circle cx="612.9" cy="583.2" r="0.95"/><circle cx="580.6" cy="569.1" r="0.95"/><circle cx="589.5" cy="583.8" r="0.95"/><circle cx="615.0" cy="579.3" r="0.95"/><circle cx="593.8" cy="584.2" r="0.95"/><circle cx="575.1" cy="582.9" r="0.95"/><circle cx="607.7" cy="585.0" r="0.95"/><circle cx="567.7" cy="581.3" r="0.95"/><circle cx="567.0" cy="583.9" r="0.95"/><circle cx="615.4" cy="579.9" r="0.95"/><circle cx="580.8" cy="583.2" r="0.95"/><circle cx="542.8" cy="583.3" r="0.95"/><circle cx="538.1" cy="578.7" r="0.95"/><circle cx="590.7" cy="585.9" r="0.95"/><circle cx="631.5" cy="585.2" r="0.95"/><circle cx="622.2" cy="580.6" r="0.95"/><circle cx="636.1" cy="585.7" r="0.95"/><circle cx="572.0" cy="572.3" r="0.95"/><circle cx="521.9" cy="585.8" r="0.95"/><circle cx="588.7" cy="583.0" r="0.95"/><circle cx="631.5" cy="582.2" r="0.95"/><circle cx="585.5" cy="554.8" r="0.95"/><circle cx="583.0" cy="582.6" r="0.95"/><circle cx="603.2" cy="584.3" r="0.95"/><circle cx="563.7" cy="580.5" r="0.95"/><circle cx="562.9" cy="567.1" r="0.95"/><circle cx="602.1" cy="583.3" r="0.95"/><circle cx="532.6" cy="581.9" r="0.95"/><circle cx="568.9" cy="581.3" r="0.95"/><circle cx="589.8" cy="576.4" r="0.95"/><circle cx="636.8" cy="584.6" r="0.95"/><circle cx="573.7" cy="580.7" r="0.95"/><circle cx="640.6" cy="585.3" r="0.95"/><circle cx="584.5" cy="577.9" r="0.95"/><circle cx="541.2" cy="583.0" r="0.95"/><circle cx="638.5" cy="581.8" r="0.95"/><circle cx="582.4" cy="585.7" r="0.95"/><circle cx="628.4" cy="582.9" r="0.95"/><circle cx="619.5" cy="571.3" r="0.95"/><circle cx="627.6" cy="584.7" r="0.95"/><circle cx="539.5" cy="583.3" r="0.95"/><circle cx="582.3" cy="582.7" r="0.95"/><circle cx="543.3" cy="584.6" r="0.95"/><circle cx="596.5" cy="582.3" r="0.95"/><circle cx="563.2" cy="553.4" r="0.95"/><circle cx="597.3" cy="586.1" r="0.95"/><circle cx="570.2" cy="577.1" r="0.95"/><circle cx="557.6" cy="578.2" r="0.95"/><circle cx="521.1" cy="582.3" r="0.95"/><circle cx="622.1" cy="583.5" r="0.95"/><circle cx="601.1" cy="585.4" r="0.95"/><circle cx="580.6" cy="582.1" r="0.95"/><circle cx="552.7" cy="578.6" r="0.95"/><circle cx="584.7" cy="557.2" r="0.95"/><circle cx="589.8" cy="583.8" r="0.95"/><circle cx="535.3" cy="584.7" r="0.95"/><circle cx="612.1" cy="585.9" r="0.95"/><circle cx="532.7" cy="584.5" r="0.95"/><circle cx="583.6" cy="577.6" r="0.95"/><circle cx="594.5" cy="579.1" r="0.95"/><circle cx="528.1" cy="586.2" r="0.95"/><circle cx="613.4" cy="584.9" r="0.95"/><circle cx="606.8" cy="584.6" r="0.95"/><circle cx="541.0" cy="583.7" r="0.95"/><circle cx="532.6" cy="564.2" r="0.95"/><circle cx="590.8" cy="584.3" r="0.95"/><circle cx="574.8" cy="583.6" r="0.95"/><circle cx="527.2" cy="564.0" r="0.95"/><circle cx="590.8" cy="571.5" r="0.95"/><circle cx="573.6" cy="580.8" r="0.95"/><circle cx="550.7" cy="586.0" r="0.95"/><circle cx="632.7" cy="581.0" r="0.95"/><circle cx="558.6" cy="570.6" r="0.95"/><circle cx="618.9" cy="585.1" r="0.95"/><circle cx="593.2" cy="571.9" r="0.95"/><circle cx="580.3" cy="570.6" r="0.95"/><circle cx="549.9" cy="582.5" r="0.95"/><circle cx="607.2" cy="585.4" r="0.95"/><circle cx="557.9" cy="571.9" r="0.95"/><circle cx="579.0" cy="577.9" r="0.95"/><circle cx="550.0" cy="584.8" r="0.95"/><circle cx="563.8" cy="585.0" r="0.95"/><circle cx="637.6" cy="585.4" r="0.95"/><circle cx="588.3" cy="585.7" r="0.95"/><circle cx="584.9" cy="583.9" r="0.95"/><circle cx="569.2" cy="585.9" r="0.95"/><circle cx="535.5" cy="570.4" r="0.95"/><circle cx="562.9" cy="584.5" r="0.95"/><circle cx="543.7" cy="583.6" r="0.95"/><circle cx="549.2" cy="586.0" r="0.95"/><circle cx="600.6" cy="584.6" r="0.95"/><circle cx="539.4" cy="575.7" r="0.95"/><circle cx="531.8" cy="583.3" r="0.95"/><circle cx="621.2" cy="585.9" r="0.95"/><circle cx="574.0" cy="576.0" r="0.95"/><circle cx="617.6" cy="585.7" r="0.95"/><circle cx="563.1" cy="578.0" r="0.95"/><circle cx="566.0" cy="566.4" r="0.95"/><circle cx="545.7" cy="562.1" r="0.95"/><circle cx="581.4" cy="585.0" r="0.95"/><circle cx="575.2" cy="585.5" r="0.95"/><circle cx="605.7" cy="585.1" r="0.95"/><circle cx="629.0" cy="583.8" r="0.95"/><circle cx="565.0" cy="584.5" r="0.95"/><circle cx="593.9" cy="585.2" r="0.95"/><circle cx="625.7" cy="585.9" r="0.95"/><circle cx="582.4" cy="582.3" r="0.95"/><circle cx="553.2" cy="575.5" r="0.95"/><circle cx="567.0" cy="579.7" r="0.95"/><circle cx="589.0" cy="584.5" r="0.95"/><circle cx="567.6" cy="585.7" r="0.95"/><circle cx="542.0" cy="570.3" r="0.95"/><circle cx="559.3" cy="578.9" r="0.95"/><circle cx="533.8" cy="578.6" r="0.95"/><circle cx="564.2" cy="581.9" r="0.95"/><circle cx="556.4" cy="585.8" r="0.95"/><circle cx="558.1" cy="584.5" r="0.95"/><circle cx="535.8" cy="574.8" r="0.95"/><circle cx="554.6" cy="582.6" r="0.95"/><circle cx="630.1" cy="582.1" r="0.95"/><circle cx="627.0" cy="580.5" r="0.95"/><circle cx="536.6" cy="583.4" r="0.95"/><circle cx="524.2" cy="574.4" r="0.95"/><circle cx="600.6" cy="584.5" r="0.95"/><circle cx="570.3" cy="579.9" r="0.95"/><circle cx="604.9" cy="585.2" r="0.95"/><circle cx="622.6" cy="584.9" r="0.95"/><circle cx="596.4" cy="585.4" r="0.95"/><circle cx="534.5" cy="563.8" r="0.95"/><circle cx="609.0" cy="581.7" r="0.95"/><circle cx="525.5" cy="585.9" r="0.95"/><circle cx="540.2" cy="584.4" r="0.95"/><circle cx="557.1" cy="583.0" r="0.95"/><circle cx="525.4" cy="582.5" r="0.95"/><circle cx="597.5" cy="585.5" r="0.95"/><circle cx="621.7" cy="583.6" r="0.95"/><circle cx="606.9" cy="585.2" r="0.95"/><circle cx="573.0" cy="579.7" r="0.95"/><circle cx="562.7" cy="586.3" r="0.95"/><circle cx="621.1" cy="581.6" r="0.95"/><circle cx="555.1" cy="586.0" r="0.95"/><circle cx="623.5" cy="583.4" r="0.95"/><circle cx="526.3" cy="583.4" r="0.95"/><circle cx="534.0" cy="571.7" r="0.95"/><circle cx="546.0" cy="566.6" r="0.95"/><circle cx="610.9" cy="586.0" r="0.95"/><circle cx="604.3" cy="584.3" r="0.95"/><circle cx="610.7" cy="579.9" r="0.95"/><circle cx="554.5" cy="585.6" r="0.95"/><circle cx="634.6" cy="584.8" r="0.95"/><circle cx="632.7" cy="583.1" r="0.95"/><circle cx="609.6" cy="579.8" r="0.95"/><circle cx="596.3" cy="583.7" r="0.95"/><circle cx="527.2" cy="574.2" r="0.95"/><circle cx="572.2" cy="582.1" r="0.95"/><circle cx="632.4" cy="585.9" r="0.95"/><circle cx="612.4" cy="586.1" r="0.95"/><circle cx="605.3" cy="580.0" r="0.95"/><circle cx="552.1" cy="580.4" r="0.95"/><circle cx="637.4" cy="583.7" r="0.95"/><circle cx="586.2" cy="584.9" r="0.95"/><circle cx="527.8" cy="581.9" r="0.95"/><circle cx="570.2" cy="585.0" r="0.95"/><circle cx="558.0" cy="585.3" r="0.95"/><circle cx="605.8" cy="582.0" r="0.95"/><circle cx="549.3" cy="584.2" r="0.95"/><circle cx="582.7" cy="583.3" r="0.95"/><circle cx="633.3" cy="585.1" r="0.95"/><circle cx="556.7" cy="571.1" r="0.95"/><circle cx="537.7" cy="579.0" r="0.95"/><circle cx="560.8" cy="575.0" r="0.95"/><circle cx="586.7" cy="579.4" r="0.95"/><circle cx="541.0" cy="576.9" r="0.95"/><circle cx="592.7" cy="583.5" r="0.95"/><circle cx="612.9" cy="580.1" r="0.95"/><circle cx="534.4" cy="583.1" r="0.95"/><circle cx="564.1" cy="584.8" r="0.95"/><circle cx="527.9" cy="583.0" r="0.95"/><circle cx="544.4" cy="576.4" r="0.95"/><circle cx="574.6" cy="585.6" r="0.95"/><circle cx="559.7" cy="582.0" r="0.95"/><circle cx="564.4" cy="585.1" r="0.95"/><circle cx="529.3" cy="586.2" r="0.95"/><circle cx="640.1" cy="582.8" r="0.95"/><circle cx="530.8" cy="574.1" r="0.95"/><circle cx="638.7" cy="584.2" r="0.95"/><circle cx="533.7" cy="580.0" r="0.95"/><circle cx="572.9" cy="585.1" r="0.95"/><circle cx="586.0" cy="586.3" r="0.95"/><circle cx="631.4" cy="583.4" r="0.95"/><circle cx="596.2" cy="574.5" r="0.95"/><circle cx="599.2" cy="585.1" r="0.95"/><circle cx="550.3" cy="585.2" r="0.95"/><circle cx="524.0" cy="570.7" r="0.95"/><circle cx="621.8" cy="585.2" r="0.95"/><circle cx="543.0" cy="577.9" r="0.95"/><circle cx="622.5" cy="578.2" r="0.95"/><circle cx="540.9" cy="573.2" r="0.95"/><circle cx="620.6" cy="582.0" r="0.95"/><circle cx="560.0" cy="584.9" r="0.95"/><circle cx="620.0" cy="585.1" r="0.95"/><circle cx="565.0" cy="581.2" r="0.95"/><circle cx="565.1" cy="575.0" r="0.95"/><circle cx="549.5" cy="586.0" r="0.95"/><circle cx="588.9" cy="581.6" r="0.95"/><circle cx="619.4" cy="582.3" r="0.95"/><circle cx="629.7" cy="578.0" r="0.95"/><circle cx="580.2" cy="582.7" r="0.95"/><circle cx="539.6" cy="583.2" r="0.95"/><circle cx="590.6" cy="585.9" r="0.95"/><circle cx="603.5" cy="585.6" r="0.95"/><circle cx="574.0" cy="566.5" r="0.95"/><circle cx="531.4" cy="585.9" r="0.95"/><circle cx="573.6" cy="585.1" r="0.95"/><circle cx="607.7" cy="586.3" r="0.95"/><circle cx="621.9" cy="580.2" r="0.95"/><circle cx="615.4" cy="584.4" r="0.95"/><circle cx="554.8" cy="578.5" r="0.95"/><circle cx="582.6" cy="583.5" r="0.95"/><circle cx="561.4" cy="582.5" r="0.95"/><circle cx="600.9" cy="579.2" r="0.95"/><circle cx="629.5" cy="585.8" r="0.95"/><circle cx="556.3" cy="582.2" r="0.95"/><circle cx="588.5" cy="584.3" r="0.95"/><circle cx="544.2" cy="585.6" r="0.95"/><circle cx="559.6" cy="582.1" r="0.95"/><circle cx="637.6" cy="580.1" r="0.95"/><circle cx="624.9" cy="575.2" r="0.95"/><circle cx="636.5" cy="583.8" r="0.95"/><circle cx="618.3" cy="586.1" r="0.95"/><circle cx="602.1" cy="582.5" r="0.95"/><circle cx="556.4" cy="580.3" r="0.95"/><circle cx="635.4" cy="584.6" r="0.95"/><circle cx="598.6" cy="584.8" r="0.95"/><circle cx="562.0" cy="572.1" r="0.95"/><circle cx="524.0" cy="584.1" r="0.95"/><circle cx="602.4" cy="583.9" r="0.95"/><circle cx="530.9" cy="575.9" r="0.95"/><circle cx="565.4" cy="580.8" r="0.95"/><circle cx="570.8" cy="581.8" r="0.95"/><circle cx="588.7" cy="583.9" r="0.95"/><circle cx="534.4" cy="584.5" r="0.95"/><circle cx="627.8" cy="584.0" r="0.95"/><circle cx="534.2" cy="567.9" r="0.95"/><circle cx="551.2" cy="585.6" r="0.95"/><circle cx="584.6" cy="584.9" r="0.95"/><circle cx="579.6" cy="582.0" r="0.95"/><circle cx="547.9" cy="579.7" r="0.95"/><circle cx="534.3" cy="579.6" r="0.95"/><circle cx="591.5" cy="585.9" r="0.95"/><circle cx="569.8" cy="585.8" r="0.95"/><circle cx="573.6" cy="575.0" r="0.95"/><circle cx="586.9" cy="580.2" r="0.95"/><circle cx="611.8" cy="585.9" r="0.95"/><circle cx="640.0" cy="583.1" r="0.95"/><circle cx="532.9" cy="569.6" r="0.95"/><circle cx="567.8" cy="585.2" r="0.95"/><circle cx="636.3" cy="584.1" r="0.95"/><circle cx="614.0" cy="585.8" r="0.95"/><circle cx="614.1" cy="586.1" r="0.95"/><circle cx="549.2" cy="582.7" r="0.95"/><circle cx="522.5" cy="576.6" r="0.95"/><circle cx="546.3" cy="583.5" r="0.95"/><circle cx="605.8" cy="584.2" r="0.95"/><circle cx="627.7" cy="583.5" r="0.95"/><circle cx="625.7" cy="583.8" r="0.95"/><circle cx="631.1" cy="580.6" r="0.95"/><circle cx="540.9" cy="574.6" r="0.95"/><circle cx="561.8" cy="576.8" r="0.95"/><circle cx="602.6" cy="579.3" r="0.95"/><circle cx="535.4" cy="582.0" r="0.95"/><circle cx="609.4" cy="575.5" r="0.95"/><circle cx="607.6" cy="586.1" r="0.95"/><circle cx="593.4" cy="585.8" r="0.95"/><circle cx="586.7" cy="578.4" r="0.95"/><circle cx="534.2" cy="562.3" r="0.95"/><circle cx="602.0" cy="585.1" r="0.95"/><circle cx="543.9" cy="581.4" r="0.95"/><circle cx="621.6" cy="583.6" r="0.95"/><circle cx="534.3" cy="586.1" r="0.95"/><circle cx="533.9" cy="571.3" r="0.95"/><circle cx="543.0" cy="579.6" r="0.95"/><circle cx="555.6" cy="578.0" r="0.95"/><circle cx="566.5" cy="585.3" r="0.95"/><circle cx="626.1" cy="584.0" r="0.95"/><circle cx="603.7" cy="579.8" r="0.95"/><circle cx="634.9" cy="586.3" r="0.95"/><circle cx="561.9" cy="585.2" r="0.95"/><circle cx="581.1" cy="575.6" r="0.95"/><circle cx="617.0" cy="586.2" r="0.95"/><circle cx="542.6" cy="572.1" r="0.95"/><circle cx="602.5" cy="584.3" r="0.95"/><circle cx="577.9" cy="585.4" r="0.95"/><circle cx="622.4" cy="584.7" r="0.95"/><circle cx="625.8" cy="583.5" r="0.95"/><circle cx="529.8" cy="582.4" r="0.95"/><circle cx="546.7" cy="568.5" r="0.95"/><circle cx="591.6" cy="586.1" r="0.95"/><circle cx="541.1" cy="582.5" r="0.95"/><circle cx="577.0" cy="581.6" r="0.95"/><circle cx="567.4" cy="583.6" r="0.95"/><circle cx="521.4" cy="576.9" r="0.95"/><circle cx="560.8" cy="586.2" r="0.95"/><circle cx="576.0" cy="562.5" r="0.95"/><circle cx="526.1" cy="584.7" r="0.95"/><circle cx="601.5" cy="585.0" r="0.95"/><circle cx="553.6" cy="581.2" r="0.95"/><circle cx="552.2" cy="580.1" r="0.95"/><circle cx="584.2" cy="570.6" r="0.95"/><circle cx="640.1" cy="586.2" r="0.95"/><circle cx="588.2" cy="579.3" r="0.95"/><circle cx="625.7" cy="581.8" r="0.95"/><circle cx="596.9" cy="582.0" r="0.95"/><circle cx="564.4" cy="584.2" r="0.95"/><circle cx="616.4" cy="579.4" r="0.95"/><circle cx="633.7" cy="583.2" r="0.95"/><circle cx="557.3" cy="576.3" r="0.95"/><circle cx="609.7" cy="583.7" r="0.95"/><circle cx="597.1" cy="584.5" r="0.95"/><circle cx="587.0" cy="583.8" r="0.95"/><circle cx="527.9" cy="582.2" r="0.95"/><circle cx="559.6" cy="556.1" r="0.95"/><circle cx="578.6" cy="583.8" r="0.95"/><circle cx="550.0" cy="584.3" r="0.95"/><circle cx="562.7" cy="585.4" r="0.95"/><circle cx="521.5" cy="564.1" r="0.95"/><circle cx="575.2" cy="583.0" r="0.95"/><circle cx="589.1" cy="584.6" r="0.95"/><circle cx="541.0" cy="585.7" r="0.95"/><circle cx="557.0" cy="583.7" r="0.95"/><circle cx="608.2" cy="583.3" r="0.95"/><circle cx="633.5" cy="585.2" r="0.95"/><circle cx="631.6" cy="583.9" r="0.95"/><circle cx="530.3" cy="584.4" r="0.95"/><circle cx="590.6" cy="566.1" r="0.95"/><circle cx="563.6" cy="576.7" r="0.95"/><circle cx="572.2" cy="574.6" r="0.95"/><circle cx="528.8" cy="579.7" r="0.95"/><circle cx="628.9" cy="585.4" r="0.95"/><circle cx="551.7" cy="586.1" r="0.95"/><circle cx="540.5" cy="583.6" r="0.95"/><circle cx="605.5" cy="585.4" r="0.95"/><circle cx="568.8" cy="584.9" r="0.95"/><circle cx="593.3" cy="577.4" r="0.95"/><circle cx="598.7" cy="585.4" r="0.95"/><circle cx="609.0" cy="574.2" r="0.95"/><circle cx="593.0" cy="585.9" r="0.95"/><circle cx="618.1" cy="579.4" r="0.95"/><circle cx="561.7" cy="585.3" r="0.95"/><circle cx="543.3" cy="579.9" r="0.95"/><circle cx="626.1" cy="583.3" r="0.95"/><circle cx="631.8" cy="585.6" r="0.95"/><circle cx="560.0" cy="577.0" r="0.95"/><circle cx="598.8" cy="584.1" r="0.95"/><circle cx="602.4" cy="584.7" r="0.95"/><circle cx="527.6" cy="580.9" r="0.95"/><circle cx="526.1" cy="576.2" r="0.95"/><circle cx="560.9" cy="581.8" r="0.95"/><circle cx="592.6" cy="585.0" r="0.95"/><circle cx="576.4" cy="586.2" r="0.95"/><circle cx="632.1" cy="584.0" r="0.95"/><circle cx="639.6" cy="586.2" r="0.95"/><circle cx="594.6" cy="580.6" r="0.95"/><circle cx="560.3" cy="585.6" r="0.95"/><circle cx="539.5" cy="585.0" r="0.95"/><circle cx="613.0" cy="586.0" r="0.95"/><circle cx="618.7" cy="584.5" r="0.95"/><circle cx="585.5" cy="581.9" r="0.95"/><circle cx="587.5" cy="581.2" r="0.95"/><circle cx="593.1" cy="584.5" r="0.95"/><circle cx="609.9" cy="585.2" r="0.95"/><circle cx="606.3" cy="580.8" r="0.95"/><circle cx="614.1" cy="585.0" r="0.95"/><circle cx="613.7" cy="573.1" r="0.95"/><circle cx="575.2" cy="584.5" r="0.95"/><circle cx="583.7" cy="572.1" r="0.95"/><circle cx="536.5" cy="586.2" r="0.95"/><circle cx="577.9" cy="580.5" r="0.95"/><circle cx="613.9" cy="584.7" r="0.95"/><circle cx="639.8" cy="585.6" r="0.95"/><circle cx="611.8" cy="586.0" r="0.95"/><circle cx="524.0" cy="584.8" r="0.95"/><circle cx="527.9" cy="579.3" r="0.95"/><circle cx="587.5" cy="585.3" r="0.95"/><circle cx="633.8" cy="585.1" r="0.95"/><circle cx="538.6" cy="584.6" r="0.95"/><circle cx="609.5" cy="577.0" r="0.95"/><circle cx="540.2" cy="586.0" r="0.95"/><circle cx="614.4" cy="585.3" r="0.95"/><circle cx="638.9" cy="584.5" r="0.95"/><circle cx="597.3" cy="584.5" r="0.95"/><circle cx="617.1" cy="584.2" r="0.95"/><circle cx="559.6" cy="570.5" r="0.95"/><circle cx="533.6" cy="574.0" r="0.95"/><circle cx="528.5" cy="576.0" r="0.95"/><circle cx="569.0" cy="574.3" r="0.95"/><circle cx="527.9" cy="578.0" r="0.95"/><circle cx="570.0" cy="571.3" r="0.95"/><circle cx="634.4" cy="583.6" r="0.95"/><circle cx="547.6" cy="584.0" r="0.95"/><circle cx="552.2" cy="582.1" r="0.95"/><circle cx="548.5" cy="584.5" r="0.95"/><circle cx="612.1" cy="582.7" r="0.95"/><circle cx="556.6" cy="550.0" r="0.95"/><circle cx="546.7" cy="579.6" r="0.95"/><circle cx="539.5" cy="569.1" r="0.95"/><circle cx="625.3" cy="585.4" r="0.95"/><circle cx="611.2" cy="580.1" r="0.95"/><circle cx="554.7" cy="583.4" r="0.95"/><circle cx="579.1" cy="574.5" r="0.95"/><circle cx="540.1" cy="576.4" r="0.95"/><circle cx="592.6" cy="583.6" r="0.95"/><circle cx="590.4" cy="576.4" r="0.95"/><circle cx="545.9" cy="569.1" r="0.95"/><circle cx="564.0" cy="576.6" r="0.95"/><circle cx="624.6" cy="585.7" r="0.95"/><circle cx="624.7" cy="570.3" r="0.95"/><circle cx="556.5" cy="586.1" r="0.95"/><circle cx="534.1" cy="552.3" r="0.95"/><circle cx="538.8" cy="574.6" r="0.95"/><circle cx="532.4" cy="584.5" r="0.95"/><circle cx="602.9" cy="585.9" r="0.95"/><circle cx="561.5" cy="569.7" r="0.95"/><circle cx="606.9" cy="578.2" r="0.95"/><circle cx="638.6" cy="586.2" r="0.95"/><circle cx="548.9" cy="574.2" r="0.95"/><circle cx="603.7" cy="586.1" r="0.95"/><circle cx="581.4" cy="584.9" r="0.95"/><circle cx="572.5" cy="585.7" r="0.95"/><circle cx="558.8" cy="571.9" r="0.95"/><circle cx="535.2" cy="580.2" r="0.95"/><circle cx="537.0" cy="581.3" r="0.95"/><circle cx="542.2" cy="576.6" r="0.95"/><circle cx="538.5" cy="574.5" r="0.95"/><circle cx="580.9" cy="585.7" r="0.95"/><circle cx="563.2" cy="581.9" r="0.95"/><circle cx="631.3" cy="585.1" r="0.95"/><circle cx="546.6" cy="559.0" r="0.95"/><circle cx="627.0" cy="582.4" r="0.95"/><circle cx="553.5" cy="584.9" r="0.95"/><circle cx="552.5" cy="585.8" r="0.95"/><circle cx="525.8" cy="579.0" r="0.95"/><circle cx="569.8" cy="581.4" r="0.95"/><circle cx="564.3" cy="586.2" r="0.95"/><circle cx="603.5" cy="582.1" r="0.95"/><circle cx="586.2" cy="582.4" r="0.95"/><circle cx="603.8" cy="570.4" r="0.95"/><circle cx="625.9" cy="582.5" r="0.95"/><circle cx="568.7" cy="584.0" r="0.95"/><circle cx="571.1" cy="565.1" r="0.95"/><circle cx="567.3" cy="583.3" r="0.95"/><circle cx="570.0" cy="585.4" r="0.95"/><circle cx="640.9" cy="586.3" r="0.95"/><circle cx="593.8" cy="574.7" r="0.95"/><circle cx="551.3" cy="579.2" r="0.95"/><circle cx="566.0" cy="584.6" r="0.95"/><circle cx="544.5" cy="585.3" r="0.95"/><circle cx="622.2" cy="581.5" r="0.95"/><circle cx="630.1" cy="586.2" r="0.95"/><circle cx="604.2" cy="584.8" r="0.95"/><circle cx="598.5" cy="583.0" r="0.95"/><circle cx="558.7" cy="561.9" r="0.95"/><circle cx="520.8" cy="571.3" r="0.95"/><circle cx="623.4" cy="584.1" r="0.95"/><circle cx="592.0" cy="562.5" r="0.95"/><circle cx="548.9" cy="578.6" r="0.95"/><circle cx="610.2" cy="584.6" r="0.95"/><circle cx="606.4" cy="584.4" r="0.95"/><circle cx="584.0" cy="581.5" r="0.95"/><circle cx="602.2" cy="584.7" r="0.95"/><circle cx="596.4" cy="582.9" r="0.95"/><circle cx="547.5" cy="578.8" r="0.95"/><circle cx="552.6" cy="568.6" r="0.95"/><circle cx="577.6" cy="579.4" r="0.95"/><circle cx="583.5" cy="583.0" r="0.95"/><circle cx="547.3" cy="585.1" r="0.95"/><circle cx="632.3" cy="584.2" r="0.95"/><circle cx="583.7" cy="582.5" r="0.95"/><circle cx="618.6" cy="585.4" r="0.95"/><circle cx="541.4" cy="571.7" r="0.95"/><circle cx="576.1" cy="580.6" r="0.95"/><circle cx="620.3" cy="579.1" r="0.95"/><circle cx="625.2" cy="586.2" r="0.95"/><circle cx="566.6" cy="575.2" r="0.95"/><circle cx="619.1" cy="585.9" r="0.95"/><circle cx="539.2" cy="583.8" r="0.95"/><circle cx="533.0" cy="582.2" r="0.95"/><circle cx="617.4" cy="583.9" r="0.95"/><circle cx="575.2" cy="585.8" r="0.95"/><circle cx="568.3" cy="551.0" r="0.95"/><circle cx="604.3" cy="584.0" r="0.95"/><circle cx="578.3" cy="577.7" r="0.95"/><circle cx="612.0" cy="585.7" r="0.95"/><circle cx="602.6" cy="584.5" r="0.95"/><circle cx="583.4" cy="584.9" r="0.95"/><circle cx="565.3" cy="583.7" r="0.95"/><circle cx="566.5" cy="586.2" r="0.95"/><circle cx="544.8" cy="579.4" r="0.95"/><circle cx="527.6" cy="584.3" r="0.95"/><circle cx="607.1" cy="585.1" r="0.95"/><circle cx="559.7" cy="584.4" r="0.95"/><circle cx="621.1" cy="586.0" r="0.95"/><circle cx="597.3" cy="578.0" r="0.95"/><circle cx="544.9" cy="581.8" r="0.95"/><circle cx="616.1" cy="583.1" r="0.95"/><circle cx="565.4" cy="586.0" r="0.95"/><circle cx="573.9" cy="583.7" r="0.95"/><circle cx="606.5" cy="585.0" r="0.95"/><circle cx="569.8" cy="580.1" r="0.95"/><circle cx="618.3" cy="584.9" r="0.95"/><circle cx="567.1" cy="581.0" r="0.95"/><circle cx="632.0" cy="585.7" r="0.95"/><circle cx="637.6" cy="583.1" r="0.95"/><circle cx="565.5" cy="579.4" r="0.95"/><circle cx="560.3" cy="585.8" r="0.95"/><circle cx="611.7" cy="584.6" r="0.95"/><circle cx="584.0" cy="582.9" r="0.95"/><circle cx="629.2" cy="582.2" r="0.95"/><circle cx="523.7" cy="576.8" r="0.95"/><circle cx="576.3" cy="582.9" r="0.95"/><circle cx="621.8" cy="584.6" r="0.95"/><circle cx="577.7" cy="574.3" r="0.95"/><circle cx="573.6" cy="582.5" r="0.95"/><circle cx="582.3" cy="577.4" r="0.95"/><circle cx="601.4" cy="580.8" r="0.95"/><circle cx="569.0" cy="586.1" r="0.95"/><circle cx="602.5" cy="583.1" r="0.95"/><circle cx="613.3" cy="581.2" r="0.95"/><circle cx="534.9" cy="584.0" r="0.95"/><circle cx="529.9" cy="569.7" r="0.95"/><circle cx="532.9" cy="585.4" r="0.95"/><circle cx="611.4" cy="583.3" r="0.95"/><circle cx="527.3" cy="574.8" r="0.95"/><circle cx="606.3" cy="583.8" r="0.95"/><circle cx="527.2" cy="574.4" r="0.95"/><circle cx="571.0" cy="581.1" r="0.95"/><circle cx="640.8" cy="582.1" r="0.95"/><circle cx="625.7" cy="585.8" r="0.95"/><circle cx="560.9" cy="581.4" r="0.95"/><circle cx="553.7" cy="584.1" r="0.95"/><circle cx="558.3" cy="584.3" r="0.95"/><circle cx="624.1" cy="583.8" r="0.95"/><circle cx="582.2" cy="583.5" r="0.95"/><circle cx="526.8" cy="582.6" r="0.95"/><circle cx="625.0" cy="581.4" r="0.95"/><circle cx="623.8" cy="585.4" r="0.95"/><circle cx="545.0" cy="585.9" r="0.95"/><circle cx="585.3" cy="584.0" r="0.95"/><circle cx="576.6" cy="582.6" r="0.95"/><circle cx="590.9" cy="584.2" r="0.95"/><circle cx="617.2" cy="585.6" r="0.95"/><circle cx="631.4" cy="584.0" r="0.95"/><circle cx="526.8" cy="582.5" r="0.95"/><circle cx="584.8" cy="583.7" r="0.95"/><circle cx="588.7" cy="584.5" r="0.95"/><circle cx="553.6" cy="574.7" r="0.95"/><circle cx="555.8" cy="577.5" r="0.95"/><circle cx="617.3" cy="583.3" r="0.95"/><circle cx="575.4" cy="571.1" r="0.95"/><circle cx="574.2" cy="574.4" r="0.95"/><circle cx="527.6" cy="580.6" r="0.95"/><circle cx="597.6" cy="586.1" r="0.95"/><circle cx="624.5" cy="586.1" r="0.95"/><circle cx="592.5" cy="585.4" r="0.95"/><circle cx="631.7" cy="584.0" r="0.95"/><circle cx="617.1" cy="584.0" r="0.95"/><circle cx="601.8" cy="581.8" r="0.95"/><circle cx="556.2" cy="584.6" r="0.95"/><circle cx="621.6" cy="585.8" r="0.95"/><circle cx="631.2" cy="585.7" r="0.95"/><circle cx="532.8" cy="585.4" r="0.95"/><circle cx="615.1" cy="576.0" r="0.95"/><circle cx="570.6" cy="579.9" r="0.95"/><circle cx="551.7" cy="568.7" r="0.95"/><circle cx="603.2" cy="585.6" r="0.95"/><circle cx="527.5" cy="574.3" r="0.95"/><circle cx="525.7" cy="567.7" r="0.95"/><circle cx="556.0" cy="584.4" r="0.95"/><circle cx="590.7" cy="584.5" r="0.95"/><circle cx="588.2" cy="585.5" r="0.95"/><circle cx="630.5" cy="585.2" r="0.95"/><circle cx="622.0" cy="585.8" r="0.95"/><circle cx="616.9" cy="573.2" r="0.95"/><circle cx="567.8" cy="586.1" r="0.95"/><circle cx="566.4" cy="579.9" r="0.95"/><circle cx="547.5" cy="580.1" r="0.95"/><circle cx="531.9" cy="580.3" r="0.95"/><circle cx="608.3" cy="584.2" r="0.95"/><circle cx="602.4" cy="585.8" r="0.95"/><circle cx="620.4" cy="585.9" r="0.95"/><circle cx="631.8" cy="570.9" r="0.95"/><circle cx="633.8" cy="584.3" r="0.95"/><circle cx="555.7" cy="583.3" r="0.95"/><circle cx="611.0" cy="583.8" r="0.95"/><circle cx="632.6" cy="586.0" r="0.95"/><circle cx="579.0" cy="575.7" r="0.95"/><circle cx="592.6" cy="582.8" r="0.95"/><circle cx="531.3" cy="584.9" r="0.95"/><circle cx="553.3" cy="569.9" r="0.95"/><circle cx="622.5" cy="585.5" r="0.95"/><circle cx="632.0" cy="586.2" r="0.95"/><circle cx="592.8" cy="570.9" r="0.95"/><circle cx="562.1" cy="567.3" r="0.95"/><circle cx="599.7" cy="586.1" r="0.95"/><circle cx="560.8" cy="582.3" r="0.95"/><circle cx="550.4" cy="576.0" r="0.95"/><circle cx="542.2" cy="573.3" r="0.95"/><circle cx="556.6" cy="585.8" r="0.95"/><circle cx="588.0" cy="585.8" r="0.95"/><circle cx="587.1" cy="578.8" r="0.95"/><circle cx="592.4" cy="583.5" r="0.95"/><circle cx="524.7" cy="578.8" r="0.95"/><circle cx="532.4" cy="576.4" r="0.95"/><circle cx="536.5" cy="578.5" r="0.95"/><circle cx="563.1" cy="583.3" r="0.95"/><circle cx="600.5" cy="585.6" r="0.95"/><circle cx="541.1" cy="562.1" r="0.95"/><circle cx="560.6" cy="573.9" r="0.95"/><circle cx="625.8" cy="584.3" r="0.95"/><circle cx="538.6" cy="585.4" r="0.95"/><circle cx="626.5" cy="585.9" r="0.95"/><circle cx="580.4" cy="582.3" r="0.95"/><circle cx="534.8" cy="580.5" r="0.95"/><circle cx="540.4" cy="579.7" r="0.95"/><circle cx="581.7" cy="583.9" r="0.95"/><circle cx="544.5" cy="582.1" r="0.95"/><circle cx="545.1" cy="585.2" r="0.95"/><circle cx="549.5" cy="570.6" r="0.95"/><circle cx="581.1" cy="574.8" r="0.95"/><circle cx="579.5" cy="578.0" r="0.95"/><circle cx="589.3" cy="580.8" r="0.95"/><circle cx="548.3" cy="575.5" r="0.95"/><circle cx="539.1" cy="583.6" r="0.95"/><circle cx="524.4" cy="581.1" r="0.95"/><circle cx="583.0" cy="584.5" r="0.95"/><circle cx="627.9" cy="586.0" r="0.95"/><circle cx="590.3" cy="585.1" r="0.95"/><circle cx="592.3" cy="579.4" r="0.95"/><circle cx="606.2" cy="586.1" r="0.95"/><circle cx="550.2" cy="579.4" r="0.95"/><circle cx="639.0" cy="586.2" r="0.95"/><circle cx="595.1" cy="581.2" r="0.95"/><circle cx="618.8" cy="584.9" r="0.95"/><circle cx="618.3" cy="584.3" r="0.95"/><circle cx="631.5" cy="586.3" r="0.95"/><circle cx="633.9" cy="584.9" r="0.95"/><circle cx="569.7" cy="585.7" r="0.95"/><circle cx="550.1" cy="576.2" r="0.95"/><circle cx="602.4" cy="585.6" r="0.95"/><circle cx="562.1" cy="585.3" r="0.95"/><circle cx="544.5" cy="584.3" r="0.95"/><circle cx="560.5" cy="561.3" r="0.95"/><circle cx="640.8" cy="582.4" r="0.95"/><circle cx="578.4" cy="582.6" r="0.95"/><circle cx="614.5" cy="578.1" r="0.95"/><circle cx="611.1" cy="582.7" r="0.95"/><circle cx="544.6" cy="578.3" r="0.95"/><circle cx="622.5" cy="581.5" r="0.95"/><circle cx="531.8" cy="574.2" r="0.95"/><circle cx="562.7" cy="585.1" r="0.95"/><circle cx="637.0" cy="583.4" r="0.95"/><circle cx="610.4" cy="585.8" r="0.95"/><circle cx="620.4" cy="577.5" r="0.95"/><circle cx="629.6" cy="582.4" r="0.95"/><circle cx="620.9" cy="581.1" r="0.95"/><circle cx="591.7" cy="583.7" r="0.95"/><circle cx="620.0" cy="581.4" r="0.95"/><circle cx="625.5" cy="585.2" r="0.95"/><circle cx="636.4" cy="584.3" r="0.95"/><circle cx="634.6" cy="586.0" r="0.95"/><circle cx="637.3" cy="582.3" r="0.95"/><circle cx="551.0" cy="572.6" r="0.95"/><circle cx="548.6" cy="584.6" r="0.95"/><circle cx="575.8" cy="584.8" r="0.95"/><circle cx="580.0" cy="573.7" r="0.95"/><circle cx="603.2" cy="581.4" r="0.95"/><circle cx="567.9" cy="576.9" r="0.95"/><circle cx="616.2" cy="582.4" r="0.95"/><circle cx="634.1" cy="581.6" r="0.95"/><circle cx="569.6" cy="585.8" r="0.95"/><circle cx="599.2" cy="578.8" r="0.95"/><circle cx="561.5" cy="580.3" r="0.95"/><circle cx="621.4" cy="581.3" r="0.95"/><circle cx="521.2" cy="579.0" r="0.95"/><circle cx="522.6" cy="585.0" r="0.95"/><circle cx="618.5" cy="584.5" r="0.95"/><circle cx="593.5" cy="583.6" r="0.95"/><circle cx="561.0" cy="584.7" r="0.95"/><circle cx="563.2" cy="574.2" r="0.95"/><circle cx="595.2" cy="584.8" r="0.95"/><circle cx="531.2" cy="583.3" r="0.95"/><circle cx="605.1" cy="584.0" r="0.95"/><circle cx="600.2" cy="579.6" r="0.95"/><circle cx="535.2" cy="575.8" r="0.95"/><circle cx="525.6" cy="568.5" r="0.95"/><circle cx="542.8" cy="583.7" r="0.95"/><circle cx="636.0" cy="585.1" r="0.95"/><circle cx="547.6" cy="569.0" r="0.95"/><circle cx="594.1" cy="576.4" r="0.95"/><circle cx="568.1" cy="582.1" r="0.95"/><circle cx="635.8" cy="584.4" r="0.95"/><circle cx="639.7" cy="585.8" r="0.95"/><circle cx="620.7" cy="585.7" r="0.95"/><circle cx="584.1" cy="586.3" r="0.95"/><circle cx="541.8" cy="561.8" r="0.95"/><circle cx="575.4" cy="577.1" r="0.95"/><circle cx="550.8" cy="583.0" r="0.95"/><circle cx="532.8" cy="578.7" r="0.95"/><circle cx="624.5" cy="584.1" r="0.95"/><circle cx="566.0" cy="569.8" r="0.95"/><circle cx="628.3" cy="583.1" r="0.95"/><circle cx="529.8" cy="576.7" r="0.95"/><circle cx="574.1" cy="568.4" r="0.95"/><circle cx="564.2" cy="579.4" r="0.95"/><circle cx="596.7" cy="584.3" r="0.95"/><circle cx="583.5" cy="580.6" r="0.95"/><circle cx="629.9" cy="584.3" r="0.95"/><circle cx="564.4" cy="562.5" r="0.95"/><circle cx="527.5" cy="568.2" r="0.95"/><circle cx="603.0" cy="583.1" r="0.95"/><circle cx="574.6" cy="578.5" r="0.95"/><circle cx="628.0" cy="582.5" r="0.95"/><circle cx="610.9" cy="586.2" r="0.95"/><circle cx="559.8" cy="585.3" r="0.95"/><circle cx="635.4" cy="580.4" r="0.95"/><circle cx="538.0" cy="578.5" r="0.95"/><circle cx="590.1" cy="586.1" r="0.95"/><circle cx="567.9" cy="577.9" r="0.95"/><circle cx="597.9" cy="584.9" r="0.95"/><circle cx="612.5" cy="585.1" r="0.95"/><circle cx="586.2" cy="583.6" r="0.95"/><circle cx="638.4" cy="583.6" r="0.95"/><circle cx="617.6" cy="582.6" r="0.95"/><circle cx="566.5" cy="565.8" r="0.95"/><circle cx="606.1" cy="581.8" r="0.95"/><circle cx="554.1" cy="585.0" r="0.95"/><circle cx="589.9" cy="578.2" r="0.95"/><circle cx="616.2" cy="584.9" r="0.95"/><circle cx="537.5" cy="579.8" r="0.95"/><circle cx="626.3" cy="585.8" r="0.95"/><circle cx="609.6" cy="585.6" r="0.95"/><circle cx="558.2" cy="585.9" r="0.95"/><circle cx="556.5" cy="582.9" r="0.95"/><circle cx="637.1" cy="577.8" r="0.95"/><circle cx="543.2" cy="583.2" r="0.95"/><circle cx="634.3" cy="585.7" r="0.95"/><circle cx="559.3" cy="582.4" r="0.95"/><circle cx="533.7" cy="583.5" r="0.95"/><circle cx="568.1" cy="583.3" r="0.95"/><circle cx="636.7" cy="585.5" r="0.95"/><circle cx="545.2" cy="566.9" r="0.95"/><circle cx="574.9" cy="576.1" r="0.95"/><circle cx="597.4" cy="579.9" r="0.95"/><circle cx="558.6" cy="585.2" r="0.95"/><circle cx="611.8" cy="584.0" r="0.95"/><circle cx="587.9" cy="581.0" r="0.95"/><circle cx="611.3" cy="585.1" r="0.95"/><circle cx="564.3" cy="570.4" r="0.95"/><circle cx="584.4" cy="584.6" r="0.95"/><circle cx="596.5" cy="585.0" r="0.95"/><circle cx="613.5" cy="586.2" r="0.95"/><circle cx="620.2" cy="583.6" r="0.95"/><circle cx="563.2" cy="568.1" r="0.95"/><circle cx="552.6" cy="584.2" r="0.95"/><circle cx="529.1" cy="578.5" r="0.95"/><circle cx="611.4" cy="582.2" r="0.95"/><circle cx="570.4" cy="576.5" r="0.95"/><circle cx="534.0" cy="582.9" r="0.95"/><circle cx="598.3" cy="571.9" r="0.95"/><circle cx="597.0" cy="581.3" r="0.95"/><circle cx="613.9" cy="584.6" r="0.95"/><circle cx="633.9" cy="582.6" r="0.95"/><circle cx="561.8" cy="583.0" r="0.95"/><circle cx="617.7" cy="584.9" r="0.95"/><circle cx="543.0" cy="569.2" r="0.95"/><circle cx="584.7" cy="582.6" r="0.95"/><circle cx="601.3" cy="576.9" r="0.95"/><circle cx="536.7" cy="582.6" r="0.95"/><circle cx="528.6" cy="581.0" r="0.95"/><circle cx="581.1" cy="576.4" r="0.95"/><circle cx="601.1" cy="582.8" r="0.95"/><circle cx="569.3" cy="581.2" r="0.95"/><circle cx="553.6" cy="572.7" r="0.95"/><circle cx="615.6" cy="580.1" r="0.95"/><circle cx="538.8" cy="576.6" r="0.95"/><circle cx="611.5" cy="583.8" r="0.95"/><circle cx="628.8" cy="579.7" r="0.95"/><circle cx="610.1" cy="580.1" r="0.95"/><circle cx="598.8" cy="577.5" r="0.95"/><circle cx="536.5" cy="575.3" r="0.95"/><circle cx="605.4" cy="582.7" r="0.95"/><circle cx="553.8" cy="585.8" r="0.95"/><circle cx="593.3" cy="578.5" r="0.95"/><circle cx="553.5" cy="584.6" r="0.95"/><circle cx="547.6" cy="585.5" r="0.95"/><circle cx="602.1" cy="571.5" r="0.95"/><circle cx="617.2" cy="584.8" r="0.95"/><circle cx="604.9" cy="586.0" r="0.95"/><circle cx="621.6" cy="585.1" r="0.95"/><circle cx="521.1" cy="575.5" r="0.95"/><circle cx="537.4" cy="583.4" r="0.95"/><circle cx="527.8" cy="580.4" r="0.95"/><circle cx="587.5" cy="578.4" r="0.95"/><circle cx="525.4" cy="568.2" r="0.95"/><circle cx="534.0" cy="583.9" r="0.95"/><circle cx="596.4" cy="584.5" r="0.95"/><circle cx="560.5" cy="580.7" r="0.95"/><circle cx="546.9" cy="573.8" r="0.95"/><circle cx="545.8" cy="571.6" r="0.95"/><circle cx="618.0" cy="583.8" r="0.95"/><circle cx="524.3" cy="570.5" r="0.95"/><circle cx="524.1" cy="578.9" r="0.95"/><circle cx="571.7" cy="585.9" r="0.95"/><circle cx="596.5" cy="580.8" r="0.95"/><circle cx="591.1" cy="584.0" r="0.95"/><circle cx="582.3" cy="581.8" r="0.95"/><circle cx="547.9" cy="570.5" r="0.95"/><circle cx="640.6" cy="582.2" r="0.95"/><circle cx="636.4" cy="585.3" r="0.95"/><circle cx="639.4" cy="586.1" r="0.95"/><circle cx="578.2" cy="585.5" r="0.95"/><circle cx="575.3" cy="579.9" r="0.95"/><circle cx="606.0" cy="584.0" r="0.95"/><circle cx="561.8" cy="584.9" r="0.95"/><circle cx="569.2" cy="584.3" r="0.95"/><circle cx="544.0" cy="575.4" r="0.95"/><circle cx="582.8" cy="583.4" r="0.95"/><circle cx="544.5" cy="576.4" r="0.95"/><circle cx="544.3" cy="583.8" r="0.95"/><circle cx="588.1" cy="580.5" r="0.95"/><circle cx="637.8" cy="582.7" r="0.95"/><circle cx="634.9" cy="579.5" r="0.95"/><circle cx="607.7" cy="581.5" r="0.95"/><circle cx="528.2" cy="584.0" r="0.95"/><circle cx="522.2" cy="564.9" r="0.95"/><circle cx="607.6" cy="582.6" r="0.95"/><circle cx="552.4" cy="583.1" r="0.95"/><circle cx="540.4" cy="577.7" r="0.95"/><circle cx="640.0" cy="585.4" r="0.95"/><circle cx="526.0" cy="584.3" r="0.95"/><circle cx="563.4" cy="571.5" r="0.95"/><circle cx="617.5" cy="584.3" r="0.95"/><circle cx="532.9" cy="585.2" r="0.95"/><circle cx="539.2" cy="573.2" r="0.95"/><circle cx="577.4" cy="560.9" r="0.95"/><circle cx="630.4" cy="581.8" r="0.95"/><circle cx="578.0" cy="577.0" r="0.95"/><circle cx="536.1" cy="585.3" r="0.95"/><circle cx="588.5" cy="582.9" r="0.95"/><circle cx="545.8" cy="584.0" r="0.95"/><circle cx="523.2" cy="560.9" r="0.95"/><circle cx="606.2" cy="575.2" r="0.95"/><circle cx="638.7" cy="584.8" r="0.95"/><circle cx="608.8" cy="584.5" r="0.95"/><circle cx="618.4" cy="580.3" r="0.95"/><circle cx="536.8" cy="586.2" r="0.95"/><circle cx="546.4" cy="579.3" r="0.95"/><circle cx="566.3" cy="586.2" r="0.95"/><circle cx="620.6" cy="581.4" r="0.95"/><circle cx="576.5" cy="586.1" r="0.95"/><circle cx="627.7" cy="584.1" r="0.95"/><circle cx="529.2" cy="582.5" r="0.95"/><circle cx="595.9" cy="576.9" r="0.95"/><circle cx="579.0" cy="580.9" r="0.95"/><circle cx="545.4" cy="584.0" r="0.95"/><circle cx="629.7" cy="584.9" r="0.95"/><circle cx="533.2" cy="577.9" r="0.95"/><circle cx="535.8" cy="584.3" r="0.95"/><circle cx="575.6" cy="581.4" r="0.95"/><circle cx="597.3" cy="581.1" r="0.95"/><circle cx="573.6" cy="585.9" r="0.95"/><circle cx="607.9" cy="586.1" r="0.95"/><circle cx="577.3" cy="583.5" r="0.95"/><circle cx="601.7" cy="581.3" r="0.95"/><circle cx="549.5" cy="578.3" r="0.95"/><circle cx="604.0" cy="583.8" r="0.95"/><circle cx="537.7" cy="565.0" r="0.95"/><circle cx="592.8" cy="586.0" r="0.95"/><circle cx="549.4" cy="553.0" r="0.95"/><circle cx="548.2" cy="582.4" r="0.95"/><circle cx="615.6" cy="580.4" r="0.95"/><circle cx="597.0" cy="580.5" r="0.95"/><circle cx="525.3" cy="585.3" r="0.95"/><circle cx="638.2" cy="582.1" r="0.95"/><circle cx="525.2" cy="585.8" r="0.95"/><circle cx="549.6" cy="565.9" r="0.95"/><circle cx="547.1" cy="577.5" r="0.95"/><circle cx="632.7" cy="583.5" r="0.95"/><circle cx="631.4" cy="585.4" r="0.95"/><circle cx="539.1" cy="586.1" r="0.95"/><circle cx="611.8" cy="585.9" r="0.95"/><circle cx="637.8" cy="583.1" r="0.95"/><circle cx="543.2" cy="572.7" r="0.95"/><circle cx="540.3" cy="580.1" r="0.95"/><circle cx="533.4" cy="571.8" r="0.95"/><circle cx="627.8" cy="579.1" r="0.95"/><circle cx="520.9" cy="565.5" r="0.95"/><circle cx="587.6" cy="578.0" r="0.95"/><circle cx="581.2" cy="581.3" r="0.95"/><circle cx="592.2" cy="579.0" r="0.95"/><circle cx="530.0" cy="585.8" r="0.95"/><circle cx="586.3" cy="584.6" r="0.95"/><circle cx="568.5" cy="586.3" r="0.95"/><circle cx="610.4" cy="586.2" r="0.95"/><circle cx="620.6" cy="581.0" r="0.95"/><circle cx="575.8" cy="585.6" r="0.95"/><circle cx="598.9" cy="585.3" r="0.95"/><circle cx="572.3" cy="585.6" r="0.95"/><circle cx="638.2" cy="584.3" r="0.95"/><circle cx="563.1" cy="585.7" r="0.95"/><circle cx="608.6" cy="579.3" r="0.95"/><circle cx="622.8" cy="586.0" r="0.95"/><circle cx="564.9" cy="584.0" r="0.95"/><circle cx="612.5" cy="585.7" r="0.95"/><circle cx="593.7" cy="569.2" r="0.95"/><circle cx="613.2" cy="586.3" r="0.95"/><circle cx="529.7" cy="585.1" r="0.95"/><circle cx="604.0" cy="582.7" r="0.95"/><circle cx="583.3" cy="583.2" r="0.95"/><circle cx="569.7" cy="580.7" r="0.95"/><circle cx="598.8" cy="575.9" r="0.95"/><circle cx="608.9" cy="580.4" r="0.95"/><circle cx="630.6" cy="581.2" r="0.95"/><circle cx="607.0" cy="586.2" r="0.95"/><circle cx="602.6" cy="578.7" r="0.95"/><circle cx="572.5" cy="574.1" r="0.95"/><circle cx="542.3" cy="562.3" r="0.95"/><circle cx="573.8" cy="579.3" r="0.95"/><circle cx="551.1" cy="583.6" r="0.95"/><circle cx="562.6" cy="583.7" r="0.95"/><circle cx="532.1" cy="580.7" r="0.95"/><circle cx="638.8" cy="583.6" r="0.95"/><circle cx="632.9" cy="582.4" r="0.95"/><circle cx="621.4" cy="570.0" r="0.95"/><circle cx="611.3" cy="585.2" r="0.95"/><circle cx="550.7" cy="582.3" r="0.95"/><circle cx="523.2" cy="583.5" r="0.95"/><circle cx="627.4" cy="578.9" r="0.95"/><circle cx="560.2" cy="576.4" r="0.95"/><circle cx="614.0" cy="578.7" r="0.95"/><circle cx="616.3" cy="583.7" r="0.95"/><circle cx="533.3" cy="569.9" r="0.95"/><circle cx="558.4" cy="579.5" r="0.95"/><circle cx="564.9" cy="581.4" r="0.95"/><circle cx="636.9" cy="585.8" r="0.95"/><circle cx="584.6" cy="581.1" r="0.95"/><circle cx="585.5" cy="572.6" r="0.95"/><circle cx="569.7" cy="571.7" r="0.95"/><circle cx="603.7" cy="572.8" r="0.95"/><circle cx="531.4" cy="584.0" r="0.95"/><circle cx="555.3" cy="569.4" r="0.95"/><circle cx="522.3" cy="583.1" r="0.95"/><circle cx="606.9" cy="569.0" r="0.95"/><circle cx="541.9" cy="581.4" r="0.95"/><circle cx="603.4" cy="581.7" r="0.95"/><circle cx="610.5" cy="581.2" r="0.95"/><circle cx="550.6" cy="584.1" r="0.95"/><circle cx="524.0" cy="574.0" r="0.95"/><circle cx="545.8" cy="583.9" r="0.95"/><circle cx="636.8" cy="583.6" r="0.95"/><circle cx="591.8" cy="581.4" r="0.95"/><circle cx="592.6" cy="581.0" r="0.95"/><circle cx="557.2" cy="585.8" r="0.95"/><circle cx="528.7" cy="586.2" r="0.95"/><circle cx="564.2" cy="585.3" r="0.95"/><circle cx="534.2" cy="580.0" r="0.95"/><circle cx="637.4" cy="583.3" r="0.95"/><circle cx="553.6" cy="575.6" r="0.95"/><circle cx="542.1" cy="585.4" r="0.95"/><circle cx="557.2" cy="582.6" r="0.95"/><circle cx="603.7" cy="584.0" r="0.95"/><circle cx="608.4" cy="585.9" r="0.95"/><circle cx="632.9" cy="585.2" r="0.95"/><circle cx="620.9" cy="586.2" r="0.95"/><circle cx="620.5" cy="585.5" r="0.95"/><circle cx="623.6" cy="581.3" r="0.95"/><circle cx="601.4" cy="585.0" r="0.95"/><circle cx="521.8" cy="584.0" r="0.95"/><circle cx="629.6" cy="585.8" r="0.95"/><circle cx="600.0" cy="582.7" r="0.95"/><circle cx="600.3" cy="585.5" r="0.95"/><circle cx="537.9" cy="585.4" r="0.95"/><circle cx="639.0" cy="585.1" r="0.95"/><circle cx="599.2" cy="582.8" r="0.95"/><circle cx="547.5" cy="585.8" r="0.95"/><circle cx="522.4" cy="565.8" r="0.95"/><circle cx="536.3" cy="556.5" r="0.95"/><circle cx="564.4" cy="578.1" r="0.95"/><circle cx="537.3" cy="572.5" r="0.95"/><circle cx="551.0" cy="582.9" r="0.95"/><circle cx="583.6" cy="585.7" r="0.95"/><circle cx="550.5" cy="574.3" r="0.95"/><circle cx="555.0" cy="582.9" r="0.95"/><circle cx="612.7" cy="585.4" r="0.95"/><circle cx="544.0" cy="584.3" r="0.95"/><circle cx="566.9" cy="583.5" r="0.95"/><circle cx="597.9" cy="583.6" r="0.95"/><circle cx="625.4" cy="586.1" r="0.95"/><circle cx="600.6" cy="578.9" r="0.95"/><circle cx="548.9" cy="586.1" r="0.95"/><circle cx="573.4" cy="585.6" r="0.95"/><circle cx="576.0" cy="579.4" r="0.95"/><circle cx="531.9" cy="585.1" r="0.95"/><circle cx="578.4" cy="585.3" r="0.95"/><circle cx="548.4" cy="581.8" r="0.95"/><circle cx="534.9" cy="585.7" r="0.95"/><circle cx="564.1" cy="582.2" r="0.95"/><circle cx="633.4" cy="584.1" r="0.95"/><circle cx="529.3" cy="583.8" r="0.95"/><circle cx="610.3" cy="583.3" r="0.95"/><circle cx="625.4" cy="576.4" r="0.95"/><circle cx="624.0" cy="585.9" r="0.95"/><circle cx="634.3" cy="584.3" r="0.95"/><circle cx="549.5" cy="584.9" r="0.95"/><circle cx="624.8" cy="585.6" r="0.95"/><circle cx="530.6" cy="583.3" r="0.95"/><circle cx="631.9" cy="584.6" r="0.95"/><circle cx="608.7" cy="586.0" r="0.95"/><circle cx="575.2" cy="584.2" r="0.95"/><circle cx="545.4" cy="577.5" r="0.95"/><circle cx="564.1" cy="585.5" r="0.95"/><circle cx="639.2" cy="584.6" r="0.95"/><circle cx="542.3" cy="586.2" r="0.95"/><circle cx="599.3" cy="583.3" r="0.95"/><circle cx="523.6" cy="579.6" r="0.95"/><circle cx="609.8" cy="583.5" r="0.95"/><circle cx="548.8" cy="581.0" r="0.95"/><circle cx="593.5" cy="581.6" r="0.95"/><circle cx="538.1" cy="571.9" r="0.95"/><circle cx="634.5" cy="582.7" r="0.95"/><circle cx="623.9" cy="584.9" r="0.95"/><circle cx="629.4" cy="585.7" r="0.95"/><circle cx="548.0" cy="579.2" r="0.95"/><circle cx="629.2" cy="586.1" r="0.95"/><circle cx="546.8" cy="586.0" r="0.95"/><circle cx="573.5" cy="585.4" r="0.95"/><circle cx="543.7" cy="574.9" r="0.95"/><circle cx="590.9" cy="573.4" r="0.95"/><circle cx="569.1" cy="579.5" r="0.95"/><circle cx="548.7" cy="581.3" r="0.95"/><circle cx="582.3" cy="571.1" r="0.95"/><circle cx="579.9" cy="560.9" r="0.95"/><circle cx="595.5" cy="585.2" r="0.95"/><circle cx="621.1" cy="585.6" r="0.95"/><circle cx="641.0" cy="584.8" r="0.95"/><circle cx="547.9" cy="560.9" r="0.95"/><circle cx="559.4" cy="582.8" r="0.95"/><circle cx="562.0" cy="579.0" r="0.95"/><circle cx="523.4" cy="581.3" r="0.95"/><circle cx="540.2" cy="571.1" r="0.95"/><circle cx="520.7" cy="576.1" r="0.95"/><circle cx="551.7" cy="581.8" r="0.95"/><circle cx="588.3" cy="580.4" r="0.95"/><circle cx="537.2" cy="583.8" r="0.95"/><circle cx="535.2" cy="556.8" r="0.95"/><circle cx="538.6" cy="585.0" r="0.95"/><circle cx="583.5" cy="581.9" r="0.95"/><circle cx="627.4" cy="586.1" r="0.95"/><circle cx="548.9" cy="584.9" r="0.95"/><circle cx="591.2" cy="583.5" r="0.95"/><circle cx="569.9" cy="573.2" r="0.95"/><circle cx="600.3" cy="578.2" r="0.95"/><circle cx="635.9" cy="585.5" r="0.95"/><circle cx="634.1" cy="584.9" r="0.95"/><circle cx="526.9" cy="561.3" r="0.95"/><circle cx="533.2" cy="586.1" r="0.95"/><circle cx="555.5" cy="583.9" r="0.95"/><circle cx="637.1" cy="581.0" r="0.95"/><circle cx="571.2" cy="581.9" r="0.95"/><circle cx="622.9" cy="581.2" r="0.95"/><circle cx="599.3" cy="583.3" r="0.95"/><circle cx="534.7" cy="583.7" r="0.95"/><circle cx="599.9" cy="582.7" r="0.95"/><circle cx="617.1" cy="578.7" r="0.95"/><circle cx="636.5" cy="585.7" r="0.95"/><circle cx="529.8" cy="564.0" r="0.95"/><circle cx="589.3" cy="585.4" r="0.95"/><circle cx="604.0" cy="585.1" r="0.95"/><circle cx="549.1" cy="582.8" r="0.95"/><circle cx="583.7" cy="580.6" r="0.95"/><circle cx="529.5" cy="573.0" r="0.95"/></g>
<g fill="#ee4040"><circle cx="557.0" cy="490.4" r="0.95"/><circle cx="560.2" cy="498.4" r="0.95"/><circle cx="560.8" cy="505.3" r="0.95"/><circle cx="572.8" cy="502.4" r="0.95"/><circle cx="546.5" cy="513.7" r="0.95"/><circle cx="536.4" cy="514.5" r="0.95"/><circle cx="532.4" cy="519.7" r="0.95"/><circle cx="550.1" cy="522.0" r="0.95"/><circle cx="530.0" cy="524.9" r="0.95"/><circle cx="529.2" cy="528.1" r="0.95"/><circle cx="554.1" cy="528.6" r="0.95"/><circle cx="558.1" cy="531.6" r="0.95"/><circle cx="535.6" cy="532.1" r="0.95"/><circle cx="542.9" cy="534.8" r="0.95"/><circle cx="549.7" cy="536.4" r="0.95"/><circle cx="552.0" cy="539.0" r="0.95"/><circle cx="585.0" cy="536.4" r="0.95"/><circle cx="581.8" cy="540.6" r="0.95"/><circle cx="544.5" cy="540.1" r="0.95"/><circle cx="542.0" cy="541.7" r="0.95"/><circle cx="538.8" cy="540.9" r="0.95"/><circle cx="558.9" cy="540.6" r="0.95"/><circle cx="543.7" cy="544.1" r="0.95"/><circle cx="562.1" cy="544.1" r="0.95"/><circle cx="570.9" cy="544.9" r="0.95"/><circle cx="572.8" cy="548.1" r="0.95"/><circle cx="546.1" cy="547.3" r="0.95"/><circle cx="549.3" cy="547.3" r="0.95"/><circle cx="554.9" cy="546.0" r="0.95"/><circle cx="559.7" cy="545.7" r="0.95"/><circle cx="590.1" cy="549.7" r="0.95"/><circle cx="553.0" cy="551.3" r="0.95"/><circle cx="557.3" cy="552.1" r="0.95"/><circle cx="577.0" cy="552.9" r="0.95"/><circle cx="544.5" cy="553.4" r="0.95"/><circle cx="584.5" cy="553.7" r="0.95"/><circle cx="590.9" cy="555.0" r="0.95"/><circle cx="599.7" cy="555.3" r="0.95"/><circle cx="558.1" cy="555.3" r="0.95"/><circle cx="564.5" cy="556.1" r="0.95"/><circle cx="549.3" cy="556.9" r="0.95"/><circle cx="541.3" cy="557.7" r="0.95"/><circle cx="553.3" cy="558.8" r="0.95"/><circle cx="593.3" cy="558.2" r="0.95"/><circle cx="580.5" cy="559.3" r="0.95"/><circle cx="566.1" cy="559.3" r="0.95"/><circle cx="559.7" cy="559.3" r="0.95"/><circle cx="586.9" cy="555.3" r="0.95"/><circle cx="566.0" cy="560.6" r="0.95"/><circle cx="576.8" cy="552.9" r="0.95"/><circle cx="532.0" cy="505.0" r="0.95"/></g>
<line x1="529.60" y1="502.50" x2="543.70" y2="525.60" stroke="#444" stroke-width="0.7" />
<line x1="512.90" y1="508.50" x2="537.20" y2="527.00" stroke="#444" stroke-width="0.7" />
<line x1="518.70" y1="524.20" x2="537.20" y2="527.30" stroke="#444" stroke-width="0.7" />
<line x1="501.30" y1="532.90" x2="537.70" y2="536.40" stroke="#444" stroke-width="0.7" />
<circle cx="543.70" cy="525.70" r="1.90" fill="#ee1111" />
<circle cx="541.30" cy="528.90" r="1.90" fill="#ee1111" />
<circle cx="537.20" cy="527.00" r="1.90" fill="#ee1111" />
<circle cx="537.70" cy="536.40" r="1.90" fill="#ee1111" />
<circle cx="662.20" cy="466.30" r="1.90" fill="#ee1111" />
<text x="531.80" y="492.30" font-size="10.2" fill="#e3262b" text-anchor="middle" >Robo3</text>
<text x="531.90" y="500.30" font-size="7.3" fill="#777" text-anchor="middle" >27,3</text>
<text x="501.00" y="499.40" font-size="10.2" fill="#e3262b" text-anchor="middle" >Nav2</text>
<text x="501.90" y="507.00" font-size="7.3" fill="#777" text-anchor="middle" >24,7</text>
<text x="499.20" y="519.80" font-size="10.2" fill="#e3262b" text-anchor="middle" >Dok5</text>
<text x="500.00" y="527.20" font-size="7.3" fill="#777" text-anchor="middle" >22,5</text>
<text x="486.00" y="537.10" font-size="10.2" fill="#e3262b" text-anchor="middle" >Ephb2</text>
<text x="488.50" y="545.10" font-size="7.3" fill="#777" text-anchor="middle" >22,5</text>
<text x="633.30" y="469.90" font-size="10.2" fill="#e3262b" text-anchor="middle" >Onecut3</text>
<text x="633.70" y="479.00" font-size="7.3" fill="#777" text-anchor="middle" >715,4</text>
</svg>
</body></html>
